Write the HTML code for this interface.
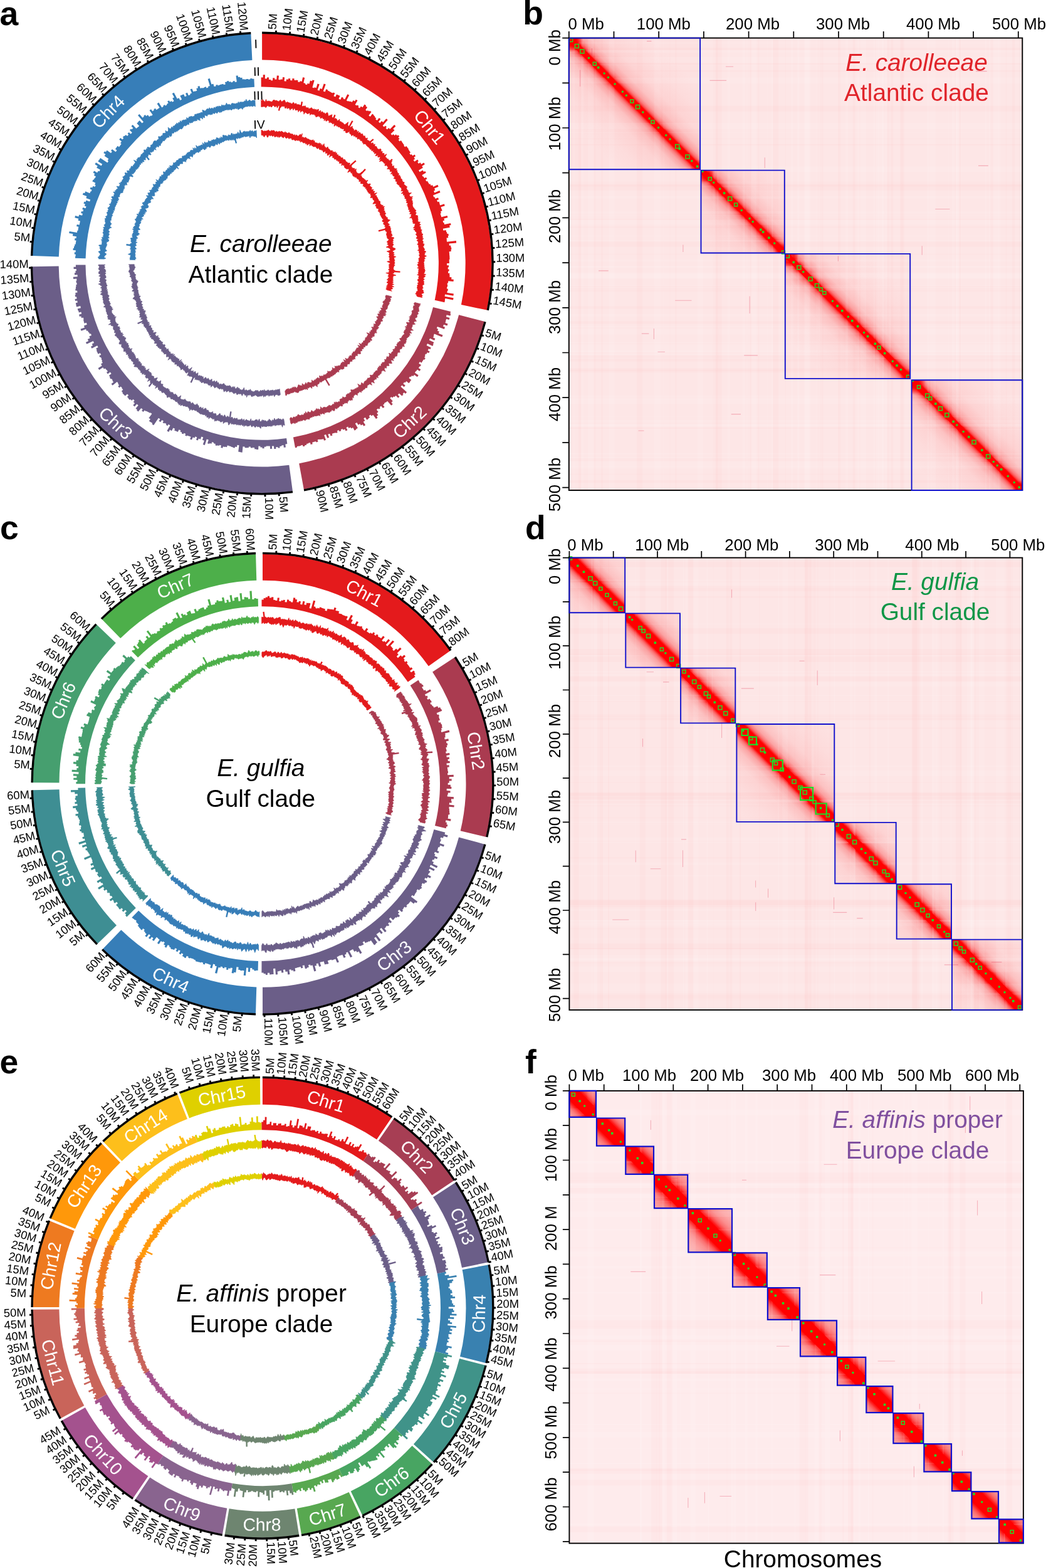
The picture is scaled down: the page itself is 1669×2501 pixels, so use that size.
<!DOCTYPE html><html><head><meta charset="utf-8"><title>Figure</title><style>html,body{margin:0;padding:0;background:#fff}svg{display:block}text{font-family:'Liberation Sans', Arial, Helvetica, sans-serif}</style></head><body>
<svg width="1669" height="2501" viewBox="0 0 1669 2501">
<rect width="1669" height="2501" fill="#fff"/>
<text x="-0.5" y="39.6" font-size="53.5" font-weight="bold">a</text>
<text x="834.2" y="39.3" font-size="53.5" font-weight="bold">b</text>
<text x="0" y="860" font-size="53.5" font-weight="bold">c</text>
<text x="838" y="860" font-size="53.5" font-weight="bold">d</text>
<text x="-0.5" y="1712" font-size="53.5" font-weight="bold">e</text>
<text x="838" y="1711.7" font-size="53.5" font-weight="bold">f</text>
<g id="circosA"><path d="M418.1 53.7A366.4 366.4 0 0 1 776.9 494.6L735.9 486.1A324.5 324.5 0 0 0 418.1 95.6Z" fill="#E41A1C"/>
<path d="M418.1 52.3A367.8 367.8 0 0 1 778.3 494.9" fill="none" stroke="#000" stroke-width="3.4"/>
<path d="M772.6 512.8A366.4 366.4 0 0 1 484.8 780.4L477.2 739.2A324.5 324.5 0 0 0 732.1 502.2Z" fill="#AA3B50"/>
<path d="M774 513.2A367.8 367.8 0 0 1 485 781.8" fill="none" stroke="#000" stroke-width="3.4"/>
<path d="M466.9 783.2A366.4 366.4 0 0 1 51.8 425.2L93.7 424.6A324.5 324.5 0 0 0 461.3 741.7Z" fill="#6B5E88"/>
<path d="M467 784.6A367.8 367.8 0 0 1 50.4 425.2" fill="none" stroke="#000" stroke-width="3.4"/>
<path d="M51.9 408A366.4 366.4 0 0 1 400.4 54.1L402.4 96A324.5 324.5 0 0 0 93.8 409.4Z" fill="#377EB8"/>
<path d="M50.6 408A367.8 367.8 0 0 1 400.3 52.7" fill="none" stroke="#000" stroke-width="3.4"/>
<path d="M440.3 53L440.5 48.7M462.3 55L462.8 50.7M484.2 58.3L485 54M505.8 62.9L506.9 58.7M527.2 68.8L528.4 64.7M548.1 76L549.6 72M568.5 84.5L570.3 80.5M588.5 94.1L590.5 90.3M607.8 104.9L610 101.3M626.4 116.9L628.8 113.4M644.2 130L646.9 126.6M661.3 144.1L664.1 140.9M677.4 159.2L680.5 156.2M692.6 175.3L695.9 172.4M706.9 192.2L710.2 189.6M720.1 210L723.6 207.6M732.1 228.6L735.8 226.3M743.1 247.8L746.9 245.8M752.9 267.6L756.8 265.9M761.4 288.1L765.4 286.5M768.7 308.9L772.8 307.6M774.8 330.2L779 329.2M779.6 351.8L783.8 351M783 373.7L787.3 373.2M785.1 395.7L789.4 395.4M785.9 417.8L790.2 417.8M785.4 440L789.7 440.2M783.6 462L787.8 462.5M780.4 483.9L784.6 484.7M767.7 534.4L771.8 535.8M760.2 555.2L764.2 556.8M751.5 575.6L755.4 577.4M741.5 595.3L745.3 597.4M730.4 614.5L734.1 616.7M718.1 632.9L721.7 635.4M704.8 650.5L708.2 653.2M690.4 667.4L693.6 670.3M675.1 683.3L678.1 686.4M658.8 698.3L661.6 701.5M641.6 712.2L644.2 715.7M623.6 725.1L626 728.7M604.9 737L607.1 740.7M585.5 747.6L587.5 751.4M565.5 757.1L567.2 761M545 765.3L546.5 769.4M524 772.3L525.2 776.5M502.6 778.1L503.6 782.3M445 786.9L445.4 791.2M422.9 787.9L423 792.2M400.8 787.5L400.6 791.8M378.7 785.8L378.3 790.1M356.8 782.7L356.1 787M335.1 778.4L334.1 782.6M313.7 772.8L312.5 776.9M292.7 765.8L291.2 769.9M272.1 757.7L270.4 761.6M252.1 748.3L250.1 752.1M232.7 737.7L230.5 741.4M213.9 726L211.5 729.5M195.9 713.1L193.3 716.6M178.6 699.2L175.8 702.5M162.3 684.3L159.3 687.4M146.9 668.4L143.7 671.4M132.4 651.7L129.1 654.4M119 634.1L115.5 636.6M106.7 615.7L103 618M95.5 596.6L91.7 598.7M85.4 576.9L81.6 578.7M76.6 556.6L72.6 558.2M69 535.8L64.9 537.2M62.7 514.6L58.5 515.7M57.7 493.1L53.4 493.9M53.9 471.2L49.7 471.8M51.5 449.2L47.2 449.6M50.4 427.1L46.1 427.2M51.9 385.9L47.7 385.5M54.7 363.9L50.4 363.3M58.7 342.2L54.5 341.3M64 320.7L59.9 319.5M70.7 299.6L66.6 298.2M78.5 278.9L74.6 277.2M87.6 258.7L83.8 256.8M98 239.1L94.2 237M109.4 220.2L105.8 217.9M122 202L118.5 199.4M135.6 184.6L132.3 181.8M150.3 168L147.2 165.1M166 152.4L163 149.2M182.5 137.7L179.8 134.4M199.9 124L197.4 120.6M218.1 111.4L215.8 107.8M237.1 100L235 96.2M256.7 89.7L254.8 85.8M276.8 80.5L275.2 76.6M297.5 72.7L296.1 68.6M318.6 66L317.4 61.9M340.1 60.7L339.2 56.5M361.8 56.6L361.2 52.4M383.8 53.9L383.4 49.6" fill="none" stroke="#000" stroke-width="2.9"/>
<g font-size="18.4" fill="#000"><text transform="translate(440.6 47.5) rotate(-86.6)">5M</text><text transform="translate(463 49.5) rotate(-83.1)">10M</text><text transform="translate(485.2 52.9) rotate(-79.7)">15M</text><text transform="translate(507.1 57.6) rotate(-76.2)">20M</text><text transform="translate(528.8 63.6) rotate(-72.8)">25M</text><text transform="translate(550 70.9) rotate(-69.3)">30M</text><text transform="translate(570.8 79.4) rotate(-65.9)">35M</text><text transform="translate(591 89.2) rotate(-62.4)">40M</text><text transform="translate(610.6 100.2) rotate(-59)">45M</text><text transform="translate(629.5 112.4) rotate(-55.5)">50M</text><text transform="translate(647.6 125.6) rotate(-52.1)">55M</text><text transform="translate(664.9 140) rotate(-48.6)">60M</text><text transform="translate(681.3 155.3) rotate(-45.2)">65M</text><text transform="translate(696.7 171.6) rotate(-41.7)">70M</text><text transform="translate(711.2 188.8) rotate(-38.3)">75M</text><text transform="translate(724.6 206.9) rotate(-34.8)">80M</text><text transform="translate(736.8 225.7) rotate(-31.4)">85M</text><text transform="translate(747.9 245.2) rotate(-27.9)">90M</text><text transform="translate(757.9 265.4) rotate(-24.5)">95M</text><text transform="translate(766.6 286.1) rotate(-21)">100M</text><text transform="translate(774 307.3) rotate(-17.6)">105M</text><text transform="translate(780.1 328.9) rotate(-14.1)">110M</text><text transform="translate(785 350.8) rotate(-10.7)">115M</text><text transform="translate(788.5 373) rotate(-7.2)">120M</text><text transform="translate(790.6 395.4) rotate(-3.8)">125M</text><text transform="translate(791.4 417.8) rotate(-0.4)">130M</text><text transform="translate(790.9 440.3) rotate(3.1)">135M</text><text transform="translate(789 462.6) rotate(6.5)">140M</text><text transform="translate(785.8 484.9) rotate(10)">145M</text><text transform="translate(773 536.1) rotate(18.1)">5M</text><text transform="translate(765.3 557.3) rotate(21.6)">10M</text><text transform="translate(756.5 577.9) rotate(25)">15M</text><text transform="translate(746.4 597.9) rotate(28.5)">20M</text><text transform="translate(735.1 617.4) rotate(31.9)">25M</text><text transform="translate(722.6 636.1) rotate(35.3)">30M</text><text transform="translate(709.1 654) rotate(38.8)">35M</text><text transform="translate(694.5 671.1) rotate(42.2)">40M</text><text transform="translate(678.9 687.2) rotate(45.7)">45M</text><text transform="translate(662.4 702.4) rotate(49.1)">50M</text><text transform="translate(644.9 716.6) rotate(52.6)">55M</text><text transform="translate(626.7 729.7) rotate(56)">60M</text><text transform="translate(607.7 741.7) rotate(59.5)">65M</text><text transform="translate(588 752.5) rotate(62.9)">70M</text><text transform="translate(567.7 762.1) rotate(66.4)">75M</text><text transform="translate(546.9 770.5) rotate(69.8)">80M</text><text transform="translate(525.6 777.6) rotate(73.3)">85M</text><text transform="translate(503.9 783.4) rotate(76.7)">90M</text><text transform="translate(445.4 792.4) rotate(85.8)">5M</text><text transform="translate(423 793.4) rotate(89.3)">10M</text><text transform="translate(400.6 792.1) rotate(-87.3)" text-anchor="end">15M</text><text transform="translate(378.2 790.4) rotate(-83.8)" text-anchor="end">20M</text><text transform="translate(356 787.3) rotate(-80.4)" text-anchor="end">25M</text><text transform="translate(334.1 782.9) rotate(-77)" text-anchor="end">30M</text><text transform="translate(312.4 777.2) rotate(-73.5)" text-anchor="end">35M</text><text transform="translate(291.1 770.2) rotate(-70.1)" text-anchor="end">40M</text><text transform="translate(270.3 761.9) rotate(-66.6)" text-anchor="end">45M</text><text transform="translate(250 752.4) rotate(-63.2)" text-anchor="end">50M</text><text transform="translate(230.3 741.7) rotate(-59.7)" text-anchor="end">55M</text><text transform="translate(211.3 729.8) rotate(-56.3)" text-anchor="end">60M</text><text transform="translate(193.1 716.8) rotate(-52.8)" text-anchor="end">65M</text><text transform="translate(175.6 702.7) rotate(-49.4)" text-anchor="end">70M</text><text transform="translate(159.1 687.6) rotate(-45.9)" text-anchor="end">75M</text><text transform="translate(143.5 671.6) rotate(-42.5)" text-anchor="end">80M</text><text transform="translate(128.8 654.6) rotate(-39)" text-anchor="end">85M</text><text transform="translate(115.3 636.8) rotate(-35.6)" text-anchor="end">90M</text><text transform="translate(102.8 618.1) rotate(-32.1)" text-anchor="end">95M</text><text transform="translate(91.4 598.8) rotate(-28.7)" text-anchor="end">100M</text><text transform="translate(81.3 578.8) rotate(-25.2)" text-anchor="end">105M</text><text transform="translate(72.3 558.3) rotate(-21.8)" text-anchor="end">110M</text><text transform="translate(64.7 537.3) rotate(-18.3)" text-anchor="end">115M</text><text transform="translate(58.3 515.8) rotate(-14.9)" text-anchor="end">120M</text><text transform="translate(53.1 494) rotate(-11.4)" text-anchor="end">125M</text><text transform="translate(49.4 471.9) rotate(-8)" text-anchor="end">130M</text><text transform="translate(46.9 449.6) rotate(-4.5)" text-anchor="end">135M</text><text transform="translate(45.8 427.2) rotate(-1.1)" text-anchor="end">140M</text><text transform="translate(47.4 385.5) rotate(5.3)" text-anchor="end">5M</text><text transform="translate(50.1 363.2) rotate(8.8)" text-anchor="end">10M</text><text transform="translate(54.2 341.2) rotate(12.2)" text-anchor="end">15M</text><text transform="translate(59.6 319.4) rotate(15.7)" text-anchor="end">20M</text><text transform="translate(66.3 298.1) rotate(19.1)" text-anchor="end">25M</text><text transform="translate(74.3 277.1) rotate(22.6)" text-anchor="end">30M</text><text transform="translate(83.5 256.7) rotate(26)" text-anchor="end">35M</text><text transform="translate(93.9 236.9) rotate(29.5)" text-anchor="end">40M</text><text transform="translate(105.6 217.7) rotate(32.9)" text-anchor="end">45M</text><text transform="translate(118.3 199.3) rotate(36.4)" text-anchor="end">50M</text><text transform="translate(132.1 181.6) rotate(39.8)" text-anchor="end">55M</text><text transform="translate(147 164.9) rotate(43.3)" text-anchor="end">60M</text><text transform="translate(162.8 149) rotate(46.7)" text-anchor="end">65M</text><text transform="translate(179.6 134.1) rotate(50.2)" text-anchor="end">70M</text><text transform="translate(197.2 120.3) rotate(53.6)" text-anchor="end">75M</text><text transform="translate(215.6 107.6) rotate(57.1)" text-anchor="end">80M</text><text transform="translate(234.8 96) rotate(60.5)" text-anchor="end">85M</text><text transform="translate(254.6 85.5) rotate(64)" text-anchor="end">90M</text><text transform="translate(275.1 76.3) rotate(67.4)" text-anchor="end">95M</text><text transform="translate(296 68.3) rotate(70.8)" text-anchor="end">100M</text><text transform="translate(317.4 61.6) rotate(74.3)" text-anchor="end">105M</text><text transform="translate(339.1 56.2) rotate(77.7)" text-anchor="end">110M</text><text transform="translate(361.1 52.1) rotate(81.2)" text-anchor="end">115M</text><text transform="translate(383.4 49.3) rotate(84.6)" text-anchor="end">120M</text></g>
<g font-size="28.2" fill="#fff"><text transform="translate(685.9 202.3) rotate(50.9)" text-anchor="middle" dy="10.2">Chr1</text><text transform="translate(653.1 672.9) rotate(-42.9)" text-anchor="middle" dy="10.2">Chr2</text><text transform="translate(185 674.6) rotate(42.5)" text-anchor="middle" dy="10.2">Chr3</text><text transform="translate(172.2 177.9) rotate(-45.4)" text-anchor="middle" dy="10.2">Chr4</text></g>
<path d="M416.7 138.4L416.6 123.5L419.7 123.5L419.7 119.2L422.9 119.3L422.8 125.5L425.9 125.5L425.9 123.5L429.1 123.6L428.9 126.9L432 127.1L432 128.3L435 128.5L435.3 124.2L438.4 124.4L438.2 126.6L441.3 126.8L441.8 120.6L445 120.8L444.4 127.1L447.5 127.4L447.6 126.5L450.6 126.8L451.1 123L454.2 123.4L453.5 129.3L456.5 129.7L457 126.4L460 126.8L460.3 125L463.4 125.4L463 127.9L466.1 128.4L466.6 125L469.7 125.5L469.4 127.7L472.4 128.3L472.6 127.6L475.6 128.2L475.2 130.4L478.2 131L478.6 129.2L481.6 129.9L483.1 123.3L486.2 124L484.3 132.3L487.3 133L487 134.4L490 135.2L490.5 132.9L493.5 133.7L494.9 128.6L498 129.4L498.5 127.4L501.6 128.2L498.4 139.5L501.3 140.4L501.6 139.3L504.6 140.2L506.6 133.4L509.7 134.4L506.6 143.8L509.5 144.8L510.7 141.1L513.7 142.1L516.7 133.4L519.7 134.5L515.8 145.4L518.7 146.4L520.2 142.2L523.1 143.3L522.7 144.4L525.6 145.5L525.5 145.9L528.3 147L528.2 147.4L531 148.6L531.5 147.4L534.4 148.6L532.4 153.2L535.2 154.4L537 150.4L539.8 151.7L539.8 151.7L542.6 153L540.4 157.6L543.2 158.9L545.2 154.7L548 156L547.4 157.2L550.2 158.5L554.4 150.3L557.2 151.8L552.8 160.3L555.5 161.7L555.9 160.9L558.7 162.3L559 161.6L561.7 163.1L563.5 159.9L566.2 161.5L567.8 158.7L570.5 160.3L566.6 167L569.3 168.6L569.9 167.5L572.6 169.1L571.4 171L574 172.6L575.9 169.6L578.5 171.3L581.6 166.5L584.2 168.3L583.5 169.4L586.1 171.1L583.2 175.5L585.8 177.2L586.7 175.9L589.2 177.7L590 176.6L592.5 178.4L588.3 184.3L590.8 186.1L594.1 181.6L596.6 183.5L596.1 184.1L598.6 186L597.9 186.8L600.4 188.7L599.2 190.2L601.7 192.1L604.9 188.1L607.3 190L603.9 194.2L606.3 196.2L608.9 193L611.3 195L616.3 189.2L618.7 191.3L610.6 200.6L612.9 202.6L614.7 200.5L617 202.6L615.5 204.3L617.8 206.4L620.1 203.9L622.3 206L629.1 199L631.4 201.2L627.2 205.4L629.5 207.7L623.5 213.6L625.7 215.8L627.5 214L629.7 216.2L631.7 214.3L633.8 216.5L635.2 215.2L637.3 217.5L635.4 219.3L637.5 221.6L635.7 223.2L637.8 225.5L639.6 223.9L641.7 226.2L641.2 226.6L643.3 228.9L643 229.1L645 231.5L644.2 232.2L646.2 234.5L648.2 232.9L650.2 235.3L650.1 235.4L652.1 237.8L651.5 238.3L653.4 240.7L653.2 240.8L655.1 243.3L653.3 244.6L655.2 247.1L656.7 246L658.5 248.5L661.3 246.5L663.2 249L660.4 251L662.2 253.5L659.6 255.2L661.4 257.8L666.2 254.6L667.9 257.2L666.2 258.3L667.9 260.9L670.6 259.2L672.2 261.9L676.2 259.4L677.9 262.1L673.3 264.9L674.9 267.6L668 271.7L669.6 274.3L674.6 271.4L676.1 274.1L678.3 272.9L679.8 275.6L673.4 279.2L674.9 281.9L675.7 281.4L677.1 284.2L679.9 282.7L681.4 285.4L679 286.6L680.4 289.4L681.9 288.6L683.3 291.4L683.6 291.3L684.9 294.1L686.4 293.3L687.8 296.2L690 295.1L691.3 298L698.3 294.8L699.6 297.8L693.1 300.6L694.3 303.5L692.1 304.5L693.3 307.4L701.3 304.1L702.5 307.1L691 311.6L692.2 314.5L693.4 314L694.5 316.9L699 315.2L700.1 318.2L697.1 319.3L698.2 322.2L700.4 321.4L701.5 324.4L701.2 324.4L702.2 327.4L708.8 325.3L709.8 328.3L703.5 330.3L704.4 333.3L704.7 333.2L705.6 336.3L703.1 337L703.9 340L702.6 340.4L703.4 343.4L703.5 343.3L704.3 346.3L713.6 343.9L714.4 347L708.4 348.5L709.2 351.6L706.6 352.2L707.3 355.2L708.4 355L709.1 358L719 355.9L719.6 359.1L717.1 359.6L717.8 362.7L706.8 364.8L707.4 367.8L711.6 367.1L712.1 370.2L712.9 370L713.4 373.1L715.4 372.8L715.9 375.9L714.8 376.1L715.2 379.2L712.5 379.6L712.9 382.7L712.7 382.7L713.1 385.8L727.8 384.1L728.1 387.4L716.6 388.6L716.9 391.7L719.2 391.5L719.5 394.7L720.1 394.6L720.4 397.8L719.6 397.8L719.8 401L716.7 401.2L716.9 404.3L717 404.3L717.1 407.5L717.3 407.5L717.4 410.6L717.4 410.6L717.5 413.8L716.7 413.8L716.8 416.9L716.8 416.9L716.8 420.1L713.1 420.1L713.1 423.2L716.1 423.2L716 426.3L714.8 426.3L714.7 429.4L716.6 429.5L716.5 432.6L715.1 432.5L715 435.7L717.4 435.8L717.2 438.9L717.6 439L717.4 442.1L720.5 442.3L720.2 445.5L723.8 445.8L723.5 449L715.3 448.2L715 451.4L713.9 451.2L713.6 454.3L714.3 454.4L713.9 457.5L713.3 457.5L712.9 460.6L714.9 460.8L714.5 464L713.8 463.9L713.3 467L723.9 468.6L723.4 471.8L710.1 469.6L709.6 472.7L723.6 475.2L723 478.4L710.4 476L709.8 479.1L710 479.1L709.3 482.2L693.7 478.8A281.7 281.7 0 0 0 416.7 138.4Z" fill="#E41A1C"/>
<path d="M416.8 159.4L418.1 160.7L419.3 158.6L420.6 160.8L421.9 161.8L423.1 162.4L424.5 158.4L425.6 161.9L426.9 161.2L428.2 161.3L429.5 161.1L430.7 161.8L432 161.9L433.2 162.5L434.5 161.9L435.9 159.8L437.2 159.4L438.5 159.9L439.7 160.7L441 159.9L442.2 160.9L443.5 161.3L444.7 161.9L446.1 160.5L447.5 159.4L448.6 161.2L449.7 162.3L451.2 161.2L452.6 160.1L454 159.6L455 161.4L455.9 164.1L457.3 163.2L458.7 162.5L459.9 163.4L461.1 163.8L462.3 164.3L463.6 164.2L464.7 165.2L465.9 165.9L467.6 163.6L468.9 163.7L469.7 166.4L471.2 165.2L472.6 164.8L473.4 167L474.8 166.6L476 166.9L477.4 166.8L478.5 167.7L479.8 167.7L481.1 167.6L481.8 170.1L483.2 169.6L484.7 169L485.9 169.4L487.4 168.8L487.9 171.6L489.2 171.6L490.4 172.1L491.9 171.6L492.5 174L494 173.1L495.5 172.8L497.2 171.6L498.1 173.1L499.1 174L500.3 174.3L501.9 173.7L502.5 175.6L504.4 174.1L505 176.3L507.1 174.2L508.4 174.4L508.1 178.8L510.1 177.1L511.8 176.2L511.8 179.8L513.8 178L515.1 178.4L515.6 180.6L517.3 179.7L518.2 180.8L519.2 181.7L521.4 179.8L522.8 179.8L523.3 181.8L523.7 184.1L524.6 185.2L526.5 184.1L528 183.7L529.9 182.7L529.4 186.9L530.6 187.3L531.5 188.2L533.4 187.3L533.6 189.8L535.6 188.5L536.5 189.5L537.6 190.3L537.8 192.6L539.3 192.4L541.9 190.2L541.8 193L542.8 193.9L544.2 193.9L545.1 195L546.1 195.8L547.5 195.9L548 197.4L549.1 198.1L550.1 198.9L552.7 197L555.6 194.7L555 198.2L555.2 200.2L556.1 201.2L557.3 201.7L558.1 202.7L559.5 202.9L562.2 201.2L562.2 203.5L563 204.6L563.7 205.7L564.8 206.4L564.5 209.1L567.5 206.9L568.7 207.5L569.8 208.2L569.3 211L572.3 209L571.1 212.8L574.1 210.9L574.8 212.1L575.6 213.2L576.7 213.9L578.7 213.4L578.9 215.2L579.7 216.2L580.6 217.2L582.4 216.8L582.3 219.1L583.4 219.7L584.1 220.9L586.5 220L585.3 223.3L586.8 223.5L587.8 224.3L589.2 224.7L589.5 226.3L592.2 225.2L591.7 227.5L592.4 228.7L595 227.7L595.8 228.8L595.6 230.9L598.3 229.9L597.9 232.1L598.3 233.5L600.1 233.5L601.1 234.3L601.4 235.8L602.3 236.7L603.1 237.7L604.3 238.3L607.1 237.4L608 238.2L608 240L607.8 242L610.2 241.5L609.8 243.7L610.5 244.7L612.7 244.4L613.1 245.8L612.3 248.2L617 245.8L614.9 249.4L615 250.9L616.4 251.4L617.2 252.4L617.4 253.9L619.7 253.7L619.6 255.4L621.3 255.6L621.1 257.4L621.8 258.5L625.6 257.1L623.9 260.1L624.8 261L625.6 262L625.5 263.7L625.5 265.3L628.7 264.5L627.9 266.6L629 267.4L629.4 268.7L631 269.1L633.3 269L631.5 271.9L633.9 271.8L633.5 273.6L634.3 274.6L634.2 276.2L636.1 276.4L636.4 277.8L635.3 280L638.1 279.7L637.8 281.4L639.3 282L639.1 283.6L639.5 284.9L640.9 285.5L641.7 286.5L641.4 288.1L642.6 288.9L642.3 290.6L644.9 290.5L645 292L644.3 293.8L645.2 294.7L646.6 295.4L647.1 296.6L648.8 297.2L649.6 298.2L648.3 300.3L649.1 301.3L649.7 302.4L650 303.7L651.6 304.3L650.6 306.2L652.3 306.8L652.6 308.1L656.5 307.6L653 310.7L653.2 312L654.4 312.9L655.1 313.9L658.6 313.7L656.3 316.2L658.1 316.8L656.4 318.9L657.7 319.7L658.2 320.9L657.9 322.4L658.7 323.4L658.3 325L658.2 326.3L658.2 327.7L658.5 328.9L659.1 330L659.3 331.3L661 332L660.9 333.4L662.4 334.2L663.4 335.2L663.7 336.5L662.1 338.3L664.2 339L663.8 340.4L662.9 342.1L663 343.3L665.9 343.8L667 344.8L666.1 346.3L667.1 347.4L666.4 348.9L667.2 350L666.8 351.4L666.9 352.7L667.4 353.9L670.7 354.3L669.2 356L669.4 357.3L671.3 358.1L669.6 359.8L669 361.3L671.6 361.9L670.2 363.6L671.7 364.5L670.7 366L673.3 366.8L672.1 368.3L672.3 369.6L672.8 370.8L672.4 372.2L674.4 373.1L674.6 374.3L673.7 375.8L673.8 377L674.9 378.2L673.3 379.7L675.8 380.6L674.3 382.1L673.7 383.5L674.9 384.6L675.3 385.8L674.9 387.1L674.6 388.5L677.2 389.4L675.9 390.9L676.5 392.1L674.4 393.6L676.1 394.7L676.4 395.9L677.3 397.1L677.5 398.4L676.2 399.7L679 400.8L679.6 402L677.2 403.5L678.2 404.7L676.8 406L677.8 407.3L680.5 408.4L677.6 409.8L676.8 411.1L678.7 412.3L676.3 413.7L677.2 414.9L677 416.2L676.6 417.5L675.8 418.7L676.7 420L676.1 421.2L676.8 422.5L676.8 423.8L676 425L677.8 426.3L675.5 427.5L678.1 428.9L677.2 430.1L678.5 431.5L677.7 432.7L677.5 434L676.9 435.2L675.7 436.4L679.6 437.9L676 438.9L678.7 440.4L677.9 441.6L676.2 442.8L675.1 443.9L677.3 445.4L675.9 446.6L675.1 447.8L676.7 449.2L676.3 450.4L675.9 451.7L676.9 453.1L675.7 454.2L673.7 455.2L674.3 456.6L674.1 457.8L675.3 459.3L673.9 460.4L673.3 461.5L675.5 463.2L675.2 464.4L675.7 465.8L676.2 467.2L673.9 468.1L672.2 469.1L673.3 470.6L674.2 472L672.5 473L673.8 474.6L665.9 472.9L664.5 471.3L665.1 470.2L662.7 468.5L664.2 467.5L664.3 466.3L664.5 465.1L667 464.3L666.6 463L666.2 461.6L666.3 460.4L665.1 459L666.1 457.9L665.9 456.6L665.9 455.4L666.5 454.2L668 453.2L665.9 451.7L667.9 450.7L668.1 449.5L666.8 448.1L666.5 446.8L666.5 445.6L669 444.6L667.5 443.2L668.2 442.1L668.2 440.8L669 439.7L665.6 438.2L668.6 437.2L667.3 435.9L667.2 434.6L668.4 433.5L667.2 432.2L668.6 431L667.6 429.8L669.1 428.6L665.7 427.3L669.1 426.1L667.1 424.9L666.9 423.6L666 422.4L666.7 421.2L668.9 420L666.4 418.8L668.6 417.5L668.5 416.3L668.1 415.1L668.7 413.9L667.6 412.7L669.1 411.4L670 410.1L669.7 408.9L668.9 407.7L668.6 406.5L670.2 405.2L669 404L668.8 402.8L668.5 401.6L669.2 400.3L666.4 399.3L668.8 397.9L667.9 396.7L668.6 395.4L667.6 394.3L667.8 393L667.9 391.8L667 390.6L665.7 389.6L667.5 388.1L667.2 386.9L667.3 385.6L666.3 384.5L664.9 383.5L667.9 381.8L666 380.9L664 379.9L664.8 378.6L666.2 377.1L664.9 376.1L664.8 374.8L663.1 373.9L665 372.3L664.5 371.1L664.5 369.9L662.4 369.1L662.5 367.8L661.3 366.8L659.9 365.9L663.1 363.9L659.3 363.5L661.1 361.8L661.8 360.4L661.9 359.1L662.4 357.7L662 356.6L658.8 356.2L659.6 354.7L658 353.8L658.9 352.3L658.2 351.2L658.2 350L657.1 349L657.9 347.5L653.5 347.6L656.4 345.4L655.6 344.4L656.3 342.9L656.8 341.4L653.6 341.2L654.8 339.5L655 338.1L652.9 337.6L653.1 336.2L654.2 334.5L651.6 334.2L652 332.7L651.5 331.6L651.3 330.4L650.4 329.4L651.2 327.8L649.3 327.2L650.8 325.3L650.8 323.9L648.6 323.5L648.6 322.2L649.7 320.4L647.7 319.9L648.5 318.3L647.9 317.1L645.9 316.7L646.1 315.3L646.1 313.9L644.9 313.1L646.2 311.1L643.3 311.2L643.4 309.8L643.5 308.3L640.2 308.6L643.2 305.8L642.6 304.6L639.8 304.7L641 302.7L640.4 301.6L640.7 300.1L639.5 299.3L638.3 298.5L637.5 297.6L637.3 296.3L636.8 295.2L635.1 294.8L634.5 293.7L633.2 293L633.1 291.6L634 289.7L632 289.4L630.9 288.7L631.7 286.7L630.9 285.8L629.8 285L628.1 284.7L630 281.9L629 281.1L627.3 280.8L626.9 279.6L626 278.7L626.7 276.7L623.5 277.4L625.4 274.6L624.8 273.5L622.3 273.8L622.4 272.2L622.2 270.8L621.3 269.9L619.7 269.6L617.7 269.6L619.4 266.7L618.5 265.9L617.5 265.1L617.6 263.4L614.3 264.4L614 263.1L615.1 260.6L612.9 260.8L612.6 259.5L611.5 258.8L610.6 257.9L609.9 256.9L608.2 256.8L605.3 257.7L608.1 253.6L605.1 254.6L606.5 251.7L606.7 249.8L603.9 250.8L602.6 250.2L603.8 247.5L601.1 248.3L599 248.6L600.6 245.4L599.5 244.7L597.3 245.2L597.9 242.8L596.2 242.8L595.2 242.1L595.9 239.6L593 240.8L592.8 239.2L592.5 237.8L590.3 238.3L590.4 236.4L588.9 236.1L588.6 234.7L587.3 234.3L586.2 233.7L585.7 232.4L584.4 232L584.4 230.2L582.9 229.9L581.9 229.3L579.7 230L580 227.8L578.4 227.7L578.2 226.1L577.6 224.8L576.2 224.5L574.9 224.2L575.1 222.1L573.3 222.3L572.9 220.8L570.4 222L570 220.6L570.1 218.4L568 219L567 218.4L566.9 216.4L564.6 217.5L564.2 216L563.3 215.1L560.7 216.7L560.6 214.7L559.5 214.2L558.6 213.3L557.6 212.5L558.2 209.6L556 210.6L553.8 211.7L552.2 211.9L551.4 211L551.4 208.7L550.1 208.5L548.4 208.9L549.1 205.4L547.7 205.4L546 205.9L545.2 204.8L543.8 204.7L542.8 204L542.4 202.3L540.8 202.6L539.4 202.6L539.1 200.5L537.3 201.4L536.7 199.8L535.5 199.6L533.1 201.4L533.3 198.6L532.9 196.6L530.8 198L530.1 196.8L529.2 195.8L527.8 195.8L527 194.6L525 196.1L525.2 192.7L523.9 192.6L523.1 191.4L520.9 193.3L519.7 192.9L519.9 189.6L517.2 192.7L517.5 188.9L515.8 189.8L514.9 188.7L514.2 187.3L512.3 188.6L511 188.6L511 185.2L509.1 186.6L508.7 184.4L506.8 185.8L505.3 186.2L503.9 186.5L503.6 183.8L502.2 184.1L501.6 182L500.2 182.5L498.9 182.3L497.6 182.3L496.6 181.7L494.6 183.7L494.5 180.1L493.1 180.4L491.5 181.5L490.2 181.5L489.3 180.3L488.1 180L487.3 178.4L484.9 182.2L484.7 178.4L483.5 178.1L482.7 176.4L481.1 177.6L479.5 179.1L479.1 175.7L477.7 176.3L475.9 178.6L475.5 174.9L474.1 175.6L472.8 175.6L471.4 176L470.7 173.4L469.6 172.7L467.8 175.7L467.2 172.2L465.6 173.8L464.6 172.8L462.8 175.7L462 173.4L460.9 172.2L459.6 172.5L458.2 173.6L457.5 170.3L455.9 172.8L454.7 172.5L453.9 169.3L452.6 169.5L451.3 170L450.2 169L448.8 170.5L447.3 172.1L446.4 169.8L445.3 168.3L444 168.8L442.4 172.2L441.4 169.3L440.2 169L438.8 170.9L437.7 169.3L436.6 168.5L435.4 168L434 170.3L432.7 170.9L431.6 169.6L430.3 169.7L429.1 170.3L427.9 168.2L426.7 168.9L425.4 169.9L424.1 171.8L423 170.3L421.7 169.9L420.5 170L419.3 170.2L418.1 170.2L416.8 170.4Z" fill="#E41A1C" stroke="#E41A1C" stroke-width="0.8" stroke-linejoin="round"/>
<path d="M447.3 166.5L445 176.5M555.8 205.1L562.5 192.7M531.4 191.3L534.5 183.2M587.5 229.1L595.8 222.2M480.1 172.4L481.9 162.3M618.1 261.3L625.9 254.1" fill="none" stroke="#E41A1C" stroke-width="2.4"/>
<path d="M417 207.5L418.3 207.9L419.5 208.4L420.7 209.8L421.9 208.7L423.1 209.1L424.3 209.1L425.6 208.7L426.8 208.4L428.1 207.2L429.3 208.2L430.4 209.1L431.6 209.4L433 207.6L434.1 208.7L435.4 208.1L436.6 208.1L437.8 208.4L438.9 210.5L440.1 210L441.4 209.2L442.6 210L443.7 210.7L445.1 209.1L446.3 209.7L447.5 210.3L448.9 209.1L450 210L451.2 210.2L452.2 211.3L453.4 211.8L455 209.8L455.8 211.9L457.2 211.3L458.2 212.6L459.5 212.4L461 211.3L462 212.1L463 213.6L464.3 213.1L465.3 214.1L466.7 213.5L467.7 214.8L468.7 215.8L470.3 214.5L471 216.7L472.6 215.2L473.8 215.4L474.7 216.7L475.9 217.2L477.6 215.4L479.4 213.9L480 216.2L482.3 212.9L481.4 219.8L483.1 218.5L484.2 218.9L485.1 220.3L486.7 219.2L488.1 219L488.7 221L490.1 220.7L490.9 222L492.3 221.8L493.4 222.2L494.2 223.6L495.6 223.3L496.7 223.8L498 224L499.8 222.8L500.1 225.3L501.8 224.4L502.2 226.5L503 227.7L504.3 227.7L505.5 228L506.8 228.2L507.5 229.5L509.7 227.7L510.2 229.6L512 228.6L511.8 231.8L513.9 230.3L513.6 233.5L517.2 229.2L517.2 231.9L518 233.1L518.2 235.1L519.8 234.8L520.2 236.7L523 234.1L523.5 235.7L524 237.3L525.1 237.8L526.1 238.5L526.9 239.5L527.6 240.7L529.5 239.9L530.6 240.5L530.6 242.7L532.6 241.9L533.2 243.2L535.4 242L535.1 244.7L537.3 243.7L537.4 245.7L537.9 247.1L539.7 246.7L539.7 248.7L541.1 248.9L542.6 248.9L543.2 250.1L543.9 251.2L544.9 251.9L546.8 251.4L547.1 253L547.4 254.6L549.3 254.2L550.5 254.6L551 256L551.9 256.7L552.1 258.5L553.9 258.2L554.2 259.6L555.4 260.1L557.1 260L558.5 260.3L557.5 263.2L557.9 264.6L561.4 262.6L560.6 265.2L561.4 266.2L561.1 268.2L563.2 267.8L564 268.7L565.9 268.5L565.3 270.9L568.4 269.4L567.9 271.7L568.2 273.1L568.7 274.3L569.5 275.1L570.1 276.3L571.7 276.5L572.8 277.1L575.3 276.4L575 278.3L574.2 280.7L576.9 279.9L576.8 281.6L577.5 282.7L578.4 283.5L579.2 284.4L580.6 284.8L581.1 285.9L582.4 286.5L583.3 287.3L583.7 288.6L587 287.5L584.9 290.7L585.5 291.8L586.4 292.6L586.8 293.9L589.9 293.1L591.3 293.5L589.9 296.1L590.3 297.3L591.9 297.7L592.4 298.8L593.7 299.4L592.3 301.8L593.7 302.4L596 302.2L594.5 304.7L596.3 305L598.1 305.3L596.6 307.7L597.7 308.5L601.4 307.6L598.3 310.9L599.3 311.7L601 312.1L600.7 313.8L601.8 314.5L602.4 315.6L602.7 316.8L603.5 317.8L604.1 318.8L604 320.3L605.7 320.8L606.7 321.6L606.5 323.1L606.5 324.5L607.1 325.5L608 326.4L609.3 327.2L611.3 327.6L610 329.5L613.5 329.3L612.3 331.2L612.1 332.6L613.5 333.3L611.7 335.5L613.6 336L614.2 337L613.6 338.6L615 339.4L615.7 340.4L614.3 342.3L614.5 343.5L615.2 344.5L616.1 345.5L616.5 346.7L618.7 347.2L617.6 348.9L619.2 349.6L620 350.6L622.5 351L620.3 353.1L618.3 355L619.3 356L620.1 357L621.6 357.8L619 359.9L621.8 360.3L622.2 361.5L623 362.5L622 364.1L623.9 364.8L623 366.3L623.4 367.5L624 368.6L624.2 369.8L624.2 371.1L623.6 372.4L625.5 373.3L625.2 374.6L626.2 375.6L623.9 377.4L625.2 378.3L628.4 378.9L628.5 380.2L626.5 381.8L627.3 382.9L627.4 384.1L625.9 385.6L627.8 386.5L625.4 388.1L627.6 389L627.8 390.2L627 391.6L625.8 393L626.3 394.1L627.7 395.2L630 396.1L631.2 397.2L629.4 398.7L626.4 400.2L626.5 401.4L628.3 402.4L628.9 403.6L626.6 405L629.4 406L627.8 407.3L628.2 408.5L631.8 409.6L628.4 410.9L628.8 412.1L629 413.3L629.4 414.6L630 415.8L628.6 417L629.8 418.2L629.7 419.4L629.8 420.6L628.1 421.8L630.2 423.1L628.3 424.3L628.5 425.5L627.7 426.7L627.7 427.9L627.7 429.1L628.1 430.3L629.9 431.6L632.3 433L627.7 433.9L629 435.2L625.9 436.2L627.8 437.6L631.8 439.2L627.3 440L627.4 441.2L626.4 442.3L627.7 443.7L625.8 444.7L627.3 446.1L627.4 447.3L625.5 448.3L627.7 449.8L626.8 450.9L625 451.9L628.5 453.6L625.6 454.4L625.2 455.6L628.5 457.4L624.6 457.9L626.1 459.4L626.4 460.7L623.8 461.4L623.3 462.6L625.3 464.3L617.7 462.6L615.7 461L617.5 460.2L616.1 458.7L618.7 458L616.4 456.4L618.5 455.6L617.9 454.3L618.9 453.3L619.7 452.2L616.9 450.6L618.1 449.6L619 448.6L619.5 447.5L617.3 446L619.9 445.1L618.8 443.8L621.1 442.9L620 441.6L618.8 440.3L620.3 439.3L619.8 438.1L620.9 437L615.8 435.4L621.3 434.7L620.4 433.5L621.1 432.3L621.3 431.2L619.5 429.9L621.3 428.8L621.4 427.7L620.4 426.4L621.7 425.3L620.1 424.1L622 423L620.3 421.8L622.8 420.6L622.3 419.4L619.9 418.3L617.6 417.2L622.9 415.9L621.6 414.8L621.5 413.6L621.7 412.4L621.8 411.2L620.8 410.1L620.8 408.9L621.5 407.7L621.2 406.6L620.4 405.4L621.9 404.2L620.7 403.1L620 402L617.3 401L622.3 399.4L623.2 398.1L622.2 397L621.5 395.9L619.4 395L616.2 394.2L619.3 392.6L620.4 391.3L619 390.3L617.7 389.3L620.1 387.8L618.1 386.9L617.4 385.8L618.5 384.5L620.3 382.9L620.5 381.7L619 380.8L617.9 379.8L617.8 378.6L617.2 377.5L617.8 376.2L616.6 375.3L616.7 374L616.7 372.9L617.1 371.5L617.3 370.3L616.5 369.3L614.9 368.5L615 367.2L614.5 366.1L614.2 365L614.6 363.7L615.7 362.1L613.5 361.5L614.9 359.9L613.6 359L612.6 358.1L611.5 357.2L612.1 355.8L613.1 354.2L610.6 353.8L610 352.8L610.1 351.5L612.5 349.4L610.1 349L609.8 347.9L609.1 346.9L608.5 345.9L607.6 345L608.3 343.4L606.3 343L606.7 341.5L606.5 340.3L605.8 339.3L605.9 338L604.2 337.5L603.1 336.7L604.4 334.8L603.5 333.9L604.1 332.3L601.1 332.5L600.7 331.3L600.1 330.3L601 328.6L598.7 328.4L599.7 326.6L600.5 324.9L598.1 324.8L594.8 325.2L596.2 323.1L597.3 321.2L597.1 319.9L596.4 319L595 318.4L595 317.1L594.7 315.9L593.6 315.2L591 315.4L591.7 313.5L592.6 311.6L591 311.3L591.4 309.6L590.4 308.8L588.6 308.6L588.6 307.2L587.2 306.7L586.7 305.7L586.3 304.5L585.6 303.5L584.7 302.7L585.4 300.8L583.2 300.9L583.2 299.5L583.1 298.1L580.9 298.3L581 296.7L578.9 296.8L579.9 294.6L579.5 293.4L578.2 292.9L576.3 292.9L575.1 292.4L575.6 290.5L575.6 289L572.9 289.7L573.2 287.9L572.6 286.9L572 285.8L570.5 285.6L569.6 284.8L568.9 283.8L568.8 282.3L566.3 283.1L566.4 281.4L564.6 281.5L563.5 280.9L562.8 280L562.8 278.4L561.8 277.7L562.3 275.6L560.1 276.1L559.8 274.8L559.3 273.5L557.9 273.4L554.7 275.1L556.8 271.1L556.5 269.7L555.4 269.2L553.3 269.8L552.4 269L551.3 268.5L550.4 267.8L549.6 266.9L549.3 265.5L549.5 263.4L547.5 263.9L547.1 262.6L544.5 263.9L546 260.3L544 260.8L542.9 260.4L541.3 260.6L541.7 258L540.8 257.3L539.2 257.5L539.2 255.5L537.2 256.3L536.8 254.9L536.2 253.7L534.5 254L533.2 253.8L533.3 251.7L532 251.5L530.6 251.4L531.1 248.6L529.6 248.7L528.3 248.5L525.4 250.9L527 246.3L525.9 245.8L523.2 247.9L522.1 247.6L522.3 244.9L521.4 244L519.6 244.8L519.4 242.8L519.2 240.8L516.9 242.5L515.7 242.4L515.2 240.7L514.5 239.5L513 239.8L512.5 238.3L510.9 238.9L509.8 238.5L509 237.4L508.7 235.2L506.3 237.5L505.6 236.4L504.6 235.6L504.2 233.9L502.8 233.9L501.6 233.9L500.2 234L499.2 233.5L498.3 232.6L497.2 232.2L496.8 229.9L494.3 233.1L494.2 230.2L493.3 229.1L491.4 230.8L489.9 231.4L489.9 228.1L488 230L487.3 228.5L486.4 227.5L484.9 228.2L483.8 227.6L482.8 227.1L482.1 225.6L480.7 225.9L479.2 226.8L479 223.6L477.3 225.1L476.5 223.5L475.2 224L473.9 224.2L473.1 222.7L471.2 224.9L470.4 223.6L469.3 223.1L468.2 222.6L466.9 223.1L465.7 222.9L465.2 220.2L463.8 220.9L462.8 219.8L461.2 221.7L460.3 220.5L459.4 219.1L457.9 220.3L456.7 220.5L455.6 220L454.8 217.9L453.6 217.7L452 220.2L451 218.7L449.8 218.7L449 216.4L447.6 218.1L446.4 218.2L445 219.4L444.2 216.6L442.7 219.1L441.8 217L440.5 217.8L439.3 218.2L438.1 218.5L437.2 215.6L435.9 217L434.6 217.5L433.6 216.1L432.4 215.8L431.1 217.2L430.1 215.5L428.9 215.7L427.5 218.8L426.4 218.9L425.3 215.6L424.2 215.4L423 215.9L421.7 218.5L420.6 217.6L419.4 215L418.3 216L417.1 215.3Z" fill="#E41A1C" stroke="#E41A1C" stroke-width="0.8" stroke-linejoin="round"/>
<path d="M618.5 364.6L604 368.3M625.7 432.8L638.5 433.6M557.3 265.7L567.8 256.3M572.1 280.3L578 274.5M572.7 281L583 269.9" fill="none" stroke="#E41A1C" stroke-width="2.4"/>
<path d="M691 490L719.1 497.1L718.3 500.3L719.3 500.6L718.4 503.8L712.7 502.2L711.8 505.3L717.5 506.9L716.6 510.1L712.1 508.8L711.1 511.9L711.4 511.9L710.4 515L714.5 516.4L713.5 519.5L708 517.7L707 520.7L710 521.8L708.9 524.9L697.9 520.9L696.8 523.8L699.1 524.7L698 527.7L700.9 528.8L699.8 531.8L706.5 534.5L705.3 537.5L692.9 532.5L691.7 535.4L692.4 535.6L691.1 538.5L694.4 539.9L693.1 542.9L686.1 539.7L684.8 542.5L692.4 546L691 548.9L691.6 549.2L690.3 552.1L682 548.1L680.6 550.9L687.7 554.4L686.3 557.2L684.1 556.1L682.6 558.9L685.6 560.5L684.1 563.3L681.9 562.1L680.3 564.9L679.3 564.3L677.8 567.1L678.7 567.6L677.1 570.3L678.8 571.3L677.2 574.1L675.9 573.3L674.3 576L674.2 576L672.5 578.7L669.9 577L668.2 579.7L672 582.1L670.2 584.7L669.5 584.3L667.8 586.9L671.3 589.3L669.5 591.9L665.9 589.5L664.1 592.1L663.7 591.8L661.9 594.4L667.7 598.6L665.8 601.2L661 597.7L659.1 600.3L657.3 598.9L655.4 601.4L654.3 600.6L652.4 603.1L656.3 606.1L654.3 608.6L654.4 608.7L652.4 611.2L648.4 608L646.4 610.4L645.3 609.5L643.3 611.9L646.8 614.8L644.7 617.2L641.4 614.4L639.4 616.7L649.1 625.4L647 627.9L644.8 625.9L642.6 628.3L643.6 629.2L641.4 631.6L636.9 627.4L634.7 629.7L637.5 632.4L635.3 634.7L631.6 631.1L629.4 633.3L628.3 632.3L626.1 634.5L624.5 632.9L622.2 635L626.7 639.8L624.4 642L626.7 644.5L624.3 646.7L618.1 639.8L615.8 641.9L615.3 641.4L612.9 643.5L613.5 644.1L611.1 646.1L613.5 648.9L611 651L608.1 647.4L605.7 649.4L606.8 650.9L604.4 652.8L603.3 651.4L600.8 653.4L603.7 657.1L601.2 659L603.5 662.1L601 664L602.6 666.3L600 668.2L595.3 661.7L592.7 663.6L591.2 661.5L588.7 663.4L590.3 665.7L587.7 667.5L588 667.9L585.3 669.7L582.8 665.8L580.2 667.6L582.4 671L579.7 672.7L583.1 678L580.4 679.7L578.6 677L575.9 678.6L574.3 676L571.6 677.7L569.4 674L566.7 675.6L570.9 682.8L568.1 684.4L568.5 685.1L565.7 686.7L563.2 682L560.4 683.5L559.3 681.6L556.5 683L555.2 680.5L552.4 681.9L554.5 686L551.7 687.4L550.2 684.5L547.4 685.8L546.5 683.9L543.7 685.2L544.5 687L541.7 688.3L540.6 685.9L537.7 687.2L538.8 689.6L536 690.9L535.5 689.9L532.7 691.1L532.5 690.7L529.6 691.9L530.6 694.3L527.7 695.4L526.2 691.7L523.3 692.8L525.2 697.7L522.3 698.8L520 692.9L517.2 693.9L520 701.7L517 702.8L516 700L513.1 701L512.8 700.4L509.9 701.3L509.6 700.6L506.6 701.5L507.5 704.4L504.5 705.4L504.1 703.9L501.1 704.8L501.1 704.8L498.1 705.7L498.8 708.3L495.7 709.1L494.9 706L491.9 706.8L492 707.2L489 708L489.3 709.5L486.2 710.2L486.6 711.6L483.5 712.3L482.9 709.7L479.8 710.4L480 711L476.9 711.7L476.9 711.5L473.8 712.1L474.1 713.6L471 714.2L467.9 697.4A281.7 281.7 0 0 0 691 490Z" fill="#AA3B50"/>
<path d="M671.2 484.9L669.4 485.7L670.4 487.3L668.7 488.2L668.9 489.5L667.7 490.5L668 491.9L668.3 493.3L668.1 494.6L669 496.2L667.3 497L666.6 498.2L667.2 499.7L667.3 501L665.3 501.7L665.4 503.1L665.4 504.4L665.5 505.8L664 506.7L662.1 507.3L662.4 508.8L663.2 510.4L664.5 512.3L661.8 512.6L660.8 513.6L660.2 514.7L662.6 517L660 517.4L657.8 517.8L658 519.3L658.1 520.7L657 521.6L656.9 523L656.4 524.2L659.5 526.9L656.3 526.9L654.5 527.5L654.8 529L656.9 531.4L653.4 531.2L653.4 532.6L654.7 534.6L652.4 534.9L653 536.6L651.5 537.3L650.6 538.3L649.5 539.2L648 539.8L649.1 541.8L647.9 542.6L647.8 544L648.2 545.7L646.8 546.3L647.2 548L644.3 547.9L644.8 549.6L644.5 550.9L645.4 552.9L641.5 552.1L642 553.9L641.2 554.9L640.9 556.2L639 556.6L637.9 557.3L637.8 558.8L637.6 560.2L638.2 562L635.8 562L634.3 562.5L634.1 563.9L633.8 565.2L633.6 566.7L633.4 568L631.3 568.1L630.4 569L629.5 570L629.5 571.5L627.7 571.8L626.9 572.7L628.2 575.3L624.7 574.3L623.7 575.1L624.7 577.4L625.4 579.6L623.6 579.8L620.7 579.2L620 580.2L621.1 582.7L620.1 583.5L617.7 583.2L616.7 584L616.6 585.6L616.6 587.2L613.8 586.5L613.4 587.8L613.3 589.4L615 592.5L611 590.7L610 591.5L609 592.3L608.3 593.3L608.5 595.2L607.5 596.1L606.1 596.4L605.9 598L604.5 598.4L603.7 599.3L602.8 600.3L603.4 602.6L600.6 601.6L600.3 603.1L600.4 605L598.3 604.6L597.9 606.1L596.3 606.2L596.1 607.8L597.4 611.1L594.1 609.4L592.5 609.5L592 610.9L593.4 614.3L590.1 612.5L588.8 612.9L588 613.9L586.6 614.3L586 615.4L585.9 617.3L585.4 618.7L583.5 618.4L582.4 619L582.1 620.6L580.9 621.1L579.5 621.4L579 622.8L578 623.5L576.2 623.4L576.7 626L574.1 624.6L573 625.4L572.3 626.6L571.2 627.1L570 627.5L570.5 630.4L568.1 629.3L566.3 628.9L565.8 630.4L564.5 630.7L564.1 632.3L564.1 634.5L561.8 633.4L562.3 636.4L562.1 638.4L560 637.5L559.5 639L557.1 637.7L556.3 638.8L555.7 640.2L554.3 640.4L554.6 643.2L552.6 642.4L551.5 643.1L549.7 642.6L549.1 644L548 644.7L546.3 644.2L546.6 647.4L545.5 648L543.6 647.1L542.4 647.6L541.3 648.2L540.6 649.6L539.5 650.2L538.1 650.3L537.7 652.3L535.9 651.5L534.3 651.1L534.2 653.8L533.5 655.3L531.9 655L529.8 653.5L529 654.7L528.3 656.2L526.7 655.8L526.2 657.8L524.8 657.7L523.2 657.2L521.8 657.3L520.7 657.8L519.6 658.4L517.9 657.8L517.7 660.6L516 659.9L514.3 659L513.5 660.3L512.3 660.8L510.3 659.1L510.7 663.6L508.7 661.9L507.8 663L506.4 662.9L505.2 663.3L504 663.7L502.5 663.2L501.3 663.8L500.4 664.8L498.7 663.7L498 665.8L496.5 665.2L495.6 666.4L494.2 666.2L493.7 668.9L492.3 668.7L490.8 668L489.8 669L488.4 668.6L487.5 670.4L486.2 670.4L484.7 669.5L483.5 669.9L482.4 670.9L481.2 671.3L479.7 670.5L478.8 672.2L477.3 671.3L476.3 672.5L474.9 671.9L474.1 674.2L472.7 673.9L471.5 674.4L470.6 676.1L468.8 673.8L467.8 675.2L466.4 674.4L465.5 676.4L464 675.4L462.6 667.8L463.6 666.1L464.7 665.7L466.4 667.6L467.3 666.2L468.3 665L469.6 665.1L471.1 666.2L471.9 664.2L473.1 664L474.4 664.1L475 661.6L476.2 661.1L477.7 662.4L479.1 662.6L480.4 663L481.2 661.3L482.7 662.1L483.9 661.9L484.9 660.9L485.6 658.9L487.2 660.1L487.5 656.6L489.5 659.3L490.5 658.4L491.2 656.6L492.6 656.9L494.2 657.9L495.4 657.7L496.3 656.6L496.9 654.5L498.7 655.9L500.1 656.4L501.4 656.2L502.1 654.7L503.4 654.6L504.1 653.2L504.8 651.5L506.8 653.3L507.5 651.8L509.5 653.4L510.4 652.6L511.7 652.4L511.5 648.7L514 651.6L515 650.8L515.8 649.7L517 649.4L518.4 649.4L520 650.1L521.1 649.5L522.2 649L523 647.7L524.5 648.2L524.9 646.1L526.6 646.9L528.2 647.3L529.2 646.5L530.3 646L530.9 644.4L532.7 645.2L533.3 643.7L533.3 641.2L535.6 642.8L535.9 640.8L537.9 642L539.2 641.6L539.9 640.5L541.7 641.1L542.4 639.8L542.2 637L543.3 636.5L544.4 636L545.7 635.7L546.6 634.8L546.8 632.8L548.9 633.9L550.4 634.1L551.3 633.1L552.6 632.9L552.2 630L553.1 629.2L554.4 628.9L555 627.6L557.1 628.6L557.3 626.8L558.4 626.2L559.5 625.7L560.4 624.8L559.7 621.7L561.2 621.7L562.9 622.1L564 621.5L565.4 621.3L566.1 620.2L567.3 619.7L568.9 620L569.1 618.2L571.3 619L571.2 616.9L573.2 617.5L570.8 612.4L573.7 614.2L575.3 614.3L576.2 613.3L576.4 611.7L576.8 610.3L580.4 612.7L580.6 611L581.1 609.8L581.6 608.5L582.7 607.8L583.7 607.2L585 606.7L585.2 605.2L586.5 604.7L586.5 603L588.2 603.1L589.7 602.8L590.4 601.9L591.2 600.9L590.3 598.2L592.4 598.6L594 598.5L594.9 597.7L595.7 596.7L596.4 595.7L596.7 594.3L598.1 593.9L598.6 592.8L599.4 591.8L600.4 591.1L602.4 591.3L602.3 589.5L602.2 587.8L603.6 587.4L603.4 585.6L605.6 585.9L604.9 583.7L607.3 584.1L608.1 583.2L607.9 581.4L608.4 580.3L610 580.1L609.7 578.2L611.3 578L613.2 577.9L613.7 576.8L614.3 575.6L613.4 573.4L615.5 573.5L616.6 572.8L616.5 571.2L617.2 570.2L617.2 568.7L620.8 569.8L620.6 568.1L621.2 567.1L621.7 566L620.4 563.5L623.7 564.3L624.5 563.4L624.7 562.1L625.7 561.3L627 560.6L627.6 559.6L626.8 557.6L628.2 557.1L630.3 556.9L629.8 555.1L631.4 554.7L630.2 552.5L632.7 552.6L633.8 551.8L632.9 549.9L633.3 548.7L634.7 548.1L634.3 546.4L636.5 546.3L636.6 544.9L637.9 544.2L640.2 544.1L638.6 541.9L637.6 539.9L639.4 539.5L640.7 538.8L641.1 537.6L641.6 536.5L642.4 535.5L643 534.4L644.4 533.8L645.3 532.8L644.9 531.2L644 529.4L645.4 528.7L645 527.2L646.5 526.5L647.3 525.5L646.8 524L649.2 523.7L646.1 521L649.4 521.1L648.6 519.4L649.8 518.6L650 517.3L648.8 515.5L648.6 514.1L652.6 514.4L653.9 513.6L652.3 511.7L652.5 510.4L654.3 509.8L653.2 508L654.8 507.3L652.8 505.3L655.4 504.9L654.7 503.4L656.5 502.7L656.7 501.5L657 500.3L657.8 499.2L657.3 497.8L657.1 496.4L657.7 495.3L660 494.8L659.6 493.4L660.1 492.2L658.9 490.6L660 489.6L659.3 488.1L661.7 487.6L661.4 486.2L660.4 484.7L660.9 483.5L662 482.5Z" fill="#AA3B50" stroke="#AA3B50" stroke-width="0.8" stroke-linejoin="round"/>
<path d="M624.4 472.9L624.9 474.3L622.6 475L622.5 476.2L623.8 477.9L622.5 478.7L623.1 480.2L622.2 481.2L620.2 481.9L621.5 483.6L620.8 484.7L620.5 485.8L619.5 486.8L618.8 487.9L618.2 489L618.4 490.3L617.9 491.4L617.9 492.7L616.3 493.5L615.2 494.3L615.2 495.6L616.4 497.4L615.9 498.5L613.2 498.8L616.2 501.3L613.5 501.5L615.3 503.6L612.6 503.8L610.9 504.4L612.2 506.3L611 507.1L610.6 508.2L608.8 508.7L610.1 510.7L610.4 512.2L608.2 512.5L607.2 513.4L607.1 514.7L607.2 516.1L606.4 517.1L605.6 518L604.8 519L604.1 520L602.2 520.4L604.5 523L602.7 523.4L602.7 524.8L601.4 525.4L600 526L601 528L599.7 528.7L601.3 531.1L598.5 530.8L597.8 531.8L597.2 532.9L597 534.2L597.4 535.9L596.5 536.8L593.9 536.6L594.2 538.2L592.7 538.7L591.9 539.7L593.4 542.2L592.9 543.3L589.9 542.7L590.8 544.8L590 545.8L588.2 546L587.6 547.1L586.9 548.1L586.3 549.2L586.3 550.7L584.9 551.2L582.6 550.9L582.6 552.5L582.2 553.7L579.8 553.3L580 555L579.8 556.4L577.8 556.3L577.3 557.5L577.7 559.5L576.2 559.8L574.8 560.2L575.1 562.1L575.5 564.1L574.1 564.5L571.9 564.1L570.5 564.5L570.2 565.8L570.3 567.6L567.8 566.9L567.1 567.9L566.9 569.4L566 570.2L566.8 572.8L564.4 572L564.2 573.6L562.1 573.2L561.9 574.8L561.8 576.4L560 576.2L558.8 576.7L558.1 577.8L557.9 579.4L557.4 580.7L555.6 580.5L554.5 581.1L553.8 582.2L554 584.3L552.7 584.7L551.2 584.8L549.3 584.3L548.9 585.8L549 587.9L547.7 588.2L546.8 589.1L545.2 588.9L542.9 587.9L542.9 589.9L541.5 590.1L540.4 590.6L540.9 593.5L538.9 592.7L538 593.5L537 594.3L535.7 594.5L535.5 596.3L534.2 596.6L533.3 597.4L532.5 598.5L530.8 598L530.5 599.8L529.3 600.3L527.6 599.8L527.3 601.6L526 602L525.3 603L523.6 602.6L522.4 603L521.6 604L520.1 603.9L519.7 605.7L518.1 605.2L517.3 606.4L516.3 607.1L515.1 607.4L514.2 608.3L513.1 608.9L512.3 609.9L510.3 608.6L509.7 610.2L509.1 611.7L508.2 612.6L506.9 612.8L506.2 614.4L506.2 617.2L503.7 614.6L502.6 615.3L501.1 614.8L500.7 616.9L499 616L497.9 616.6L497.7 619.6L495.6 617.4L494.2 617.3L493.2 618.1L492.3 619.2L490.6 618.2L490.7 622L488.5 619.4L487.8 621.3L486.2 620.3L485.2 621L484 621.4L482.8 621.7L481.9 622.9L480.5 622.5L479.5 623.4L478.1 623L477.1 624.1L476.4 625.8L475.3 626.4L473.8 625.9L472.5 625.8L471.1 625.1L469.6 624.2L468.8 626L467.5 626L466.4 626.5L465.2 626.9L463.7 625.9L463 628.1L461.7 628L460.6 628.7L459.3 628.5L458 628L457.2 630.5L456 631L454.8 624L455.7 622.7L456.7 621.2L457.8 620.8L458.9 620.5L459.9 619.5L461.4 620.9L462.5 620.1L463.6 619.8L464.9 620L465.7 618.5L467.1 618.9L467.7 616.9L469.5 619.1L470.2 616.8L471.6 617.6L473.3 619.4L474.1 617.9L475.1 617.1L475.7 614.7L476.5 613.5L478.1 614.7L479.4 615.1L480.7 615L482.2 615.8L482.1 611.8L483.7 612.9L485.6 614.7L486.1 612.7L487.3 612.4L487.7 610.1L490.1 613.2L490.4 610.6L491.3 609.7L492.6 609.8L494 610.3L495.4 610.5L496.5 610.1L497.6 609.7L497.4 606L499.5 608L500.5 607.3L501.6 607L502.2 605.5L504 606.5L504.1 604L505.6 604.3L506.1 602.7L507.2 602.3L509.3 603.9L510 602.6L509.6 599.3L511.4 600.2L512.5 599.8L513.9 599.8L515.3 600.1L516.1 599L516.6 597.5L518.5 598.5L519 597.1L520.6 597.4L521 595.8L522 595.1L523.1 594.7L522.7 591.7L524.9 593.1L525.6 592L527.2 592.4L528.3 591.9L528.8 590.6L529.8 589.9L530.7 589.1L530.2 586.3L532.8 588.1L533.7 587.3L535.2 587.5L534.1 583.8L536.2 584.8L536.9 583.7L538.8 584.4L539.4 583.2L541 583.3L542.7 583.6L542.9 582L544 581.5L544 579.5L544.9 578.8L546.3 578.6L546.6 577.1L548.7 577.8L549.7 577.2L548.2 573.6L550.9 575L552.3 574.8L550.8 571.3L553.4 572.5L554.7 572.2L555.6 571.5L556.5 570.7L556.5 568.9L558.1 568.9L558 567.1L559.7 567.2L561.8 567.6L561.3 565.5L561.7 564.2L562.4 563.2L563.3 562.5L563.5 561.1L565.3 561.2L566.3 560.5L566.7 559.3L567.9 558.7L567.9 557.1L569.1 556.7L569 555L570.7 555L571.9 554.4L572.6 553.4L570.9 550.5L574.8 552.2L574.7 550.6L572.8 547.5L576.6 549.2L577.2 548.1L577.5 546.8L579 546.5L579.7 545.5L579.5 543.9L581.2 543.7L582.3 543L582.2 541.5L583.4 541L582.7 539L584 538.5L585.4 538L585.4 536.6L586.7 536L586.6 534.6L587.7 533.9L585.1 530.7L589.3 532.1L590.6 531.6L589.3 529.3L591.6 529.4L591.6 528L591.9 526.8L594.1 526.7L593.8 525.2L594.4 524.1L592.7 521.8L595.2 521.9L596.9 521.5L595.8 519.5L597.9 519.4L595.9 516.9L598.4 516.9L599.8 516.3L599.2 514.7L598.3 512.9L600.8 512.8L600.7 511.5L601 510.3L602.6 509.8L602.7 508.5L602 506.9L600.7 505L603.4 505L604.1 504L603.1 502.3L602.7 500.8L604.9 500.5L606.2 499.7L604.3 497.7L607.4 497.7L605.8 495.8L607.6 495.2L608.8 494.4L608.6 493.1L607.2 491.3L610.3 491.2L610.7 490.1L609.7 488.5L610.2 487.4L611.2 486.5L611 485.2L612.7 484.5L611.2 482.8L610.8 481.5L611.9 480.6L612.8 479.6L614.4 478.9L614.1 477.6L615.6 476.8L615.5 475.5L615.2 474.2L615.1 472.9L615.2 471.8L616.7 470.9Z" fill="#AA3B50" stroke="#AA3B50" stroke-width="0.8" stroke-linejoin="round"/>
<path d="M518.2 602.4L525.6 614.9" fill="none" stroke="#AA3B50" stroke-width="2.4"/>
<path d="M457.1 699.1L458.3 708L455.3 708.4L455.9 713.4L452.8 713.8L452.4 710.1L449.3 710.5L449.4 711.6L446.3 711.9L446.6 714.4L443.5 714.6L443.3 712.9L440.2 713.2L440.4 715.9L437.3 716.1L437 711.4L433.9 711.5L434.2 715.8L431 716L430.8 711.5L427.8 711.6L427.7 711.4L424.7 711.5L424.7 712.6L421.6 712.7L421.6 715.2L418.5 715.2L418.5 713.4L415.4 713.4L415.4 711.7L412.4 711.6L412.2 717.1L409.1 717.1L409.1 716.4L406 716.3L406.1 713.9L403 713.7L403 714.5L399.8 714.3L399.9 712.6L396.9 712.4L396.7 714.2L393.6 713.9L393.6 714.4L390.5 714.1L390.6 712.5L387.5 712.2L386.6 721.7L383.4 721.3L383.4 721L380.2 720.6L381.5 710.2L378.5 709.8L378.1 712.9L375 712.5L374.7 714.4L371.6 713.9L371.7 713.2L368.6 712.7L368.7 712.1L365.6 711.5L365.7 711.1L362.6 710.6L362.1 713.2L359 712.6L359 712.9L355.9 712.3L355.3 714.8L352.2 714.1L353 710.5L350 709.8L349.7 710.9L346.6 710.2L346.4 711L343.4 710.2L343.9 708L340.9 707.2L341.2 705.9L338.2 705.1L337.5 707.8L334.4 706.9L334.1 708.1L331 707.2L332.8 701.5L329.8 700.6L326.8 710L323.8 709L325.9 702.7L322.9 701.7L324.3 697.6L321.3 696.6L319.9 700.7L316.9 699.6L315.9 702.5L312.9 701.4L314.4 697.4L311.5 696.3L310.6 698.6L307.7 697.5L306 701.6L303.1 700.4L304.6 696.7L301.7 695.5L301.5 695.8L298.6 694.6L298.1 695.8L295.2 694.5L296.3 692L293.4 690.7L292.6 692.5L289.7 691.2L290.4 689.8L287.5 688.4L288.4 686.6L285.6 685.2L283.7 689L280.9 687.5L280.8 687.8L278 686.3L279.2 684L276.4 682.5L273.9 687.2L271.1 685.6L269.3 688.9L266.4 687.3L271.5 678.4L268.8 676.8L267.4 679.2L264.7 677.6L265.5 676.2L262.8 674.6L262.2 675.6L259.5 673.9L261 671.6L258.3 669.9L256.2 673.3L253.5 671.5L255.5 668.5L252.9 666.8L245.2 678.3L242.5 676.4L243.3 675.1L240.6 673.3L240.5 673.5L237.8 671.6L240 668.6L237.4 666.7L242.4 659.9L239.8 658L239.2 658.9L236.7 657L236.3 657.4L233.8 655.5L233.2 656.3L230.7 654.4L228.6 656.9L226.1 654.9L227.8 652.9L225.3 650.9L220.6 656.6L218.1 654.5L218.9 653.5L216.5 651.4L220.7 646.5L218.3 644.4L214.7 648.5L212.3 646.3L215.1 643.2L212.8 641.1L214.7 639L212.4 636.8L210.3 639L208 636.8L207 637.9L204.7 635.6L205 635.3L202.8 633.1L205.2 630.6L203 628.4L199.7 631.6L197.5 629.3L197.4 629.3L195.2 626.9L196 626.2L193.9 623.9L196.4 621.6L194.3 619.2L194.8 618.7L192.7 616.4L190.3 618.4L188.3 616L190.2 614.4L188.1 612L188.8 611.4L186.8 609L179.6 614.8L177.6 612.3L181.2 609.4L179.2 606.9L179.8 606.4L177.9 603.9L176.8 604.7L174.9 602.1L175.8 601.5L173.9 598.9L177.7 596.1L175.8 593.6L171.8 596.4L170 593.8L172 592.4L170.1 589.8L169.7 590.1L167.9 587.5L166 588.8L164.2 586.1L158.3 590L156.5 587.2L162.7 583.3L161 580.6L163.9 578.7L162.3 576L163.2 575.5L161.6 572.8L162.3 572.3L160.7 569.6L159.8 570.2L158.2 567.4L161.3 565.7L159.7 563L156.7 564.7L155.2 561.9L155.3 561.8L153.8 559L154.7 558.6L153.2 555.8L156.6 554.1L155.2 551.3L146.4 555.7L145 552.8L148 551.3L146.7 548.5L150 546.9L148.7 544.1L138.3 548.8L136.9 545.9L141.1 544L139.8 541.1L143.5 539.5L142.3 536.5L146 535L144.8 532.1L143.1 532.8L142 529.9L141.1 530.2L140 527.3L138.2 527.9L137.1 525L129.6 527.8L128.5 524.7L135 522.4L133.9 519.4L138.8 517.7L137.8 514.7L134.6 515.8L133.6 512.8L133.8 512.7L132.9 509.7L133.7 509.4L132.8 506.4L130.1 507.3L129.2 504.2L126.9 504.9L126.1 501.8L130.2 500.6L129.4 497.6L125.9 498.5L125.1 495.4L124.5 495.6L123.7 492.5L128.9 491.2L128.2 488.1L122.1 489.5L121.4 486.4L121.5 486.4L120.8 483.2L123.8 482.6L123.2 479.5L120.1 480.1L119.5 477L122.6 476.4L122 473.2L120.1 473.6L119.6 470.4L120.7 470.2L120.2 467.1L123.5 466.6L123 463.5L120.6 463.8L120.2 460.7L121.2 460.5L120.8 457.4L121.6 457.3L121.2 454.2L122.7 454L122.4 450.9L121.7 450.9L121.4 447.8L122.4 447.7L122.2 444.6L117.1 445L116.8 441.8L123.7 441.3L123.5 438.2L119.1 438.5L118.9 435.3L120.6 435.2L120.4 432.1L121.9 432L121.8 428.9L117.6 429L117.5 425.8L120.9 425.8L120.9 422.6L136.5 422.5A281.7 281.7 0 0 0 457.1 699.1Z" fill="#6B5E88"/>
<path d="M454.2 678.3L452.8 677.9L451.5 677.3L450.7 681.3L448.8 676.8L447.7 677.9L446.4 677.5L445.2 678.1L443.9 677.9L442.6 677.8L441.4 678.2L440.1 678.3L438.9 679.4L437.5 677.5L436.3 678.6L435 678.1L433.9 680.2L432.5 679.2L431.3 680.3L430 679L428.8 680L427.5 679.5L426.2 679.8L425 680.7L423.7 680.3L422.4 680.4L421.1 679.7L419.9 680.3L418.6 681L417.3 678.8L416 683.4L414.8 681.9L413.5 680.8L412.2 680.4L410.9 681.1L409.7 679.2L408.4 680.5L407.1 681.9L405.9 680.2L404.7 679.2L403.4 679.2L402 681.2L400.8 679.7L399.7 677.1L398.3 679.1L397 679.4L395.7 679.4L394.4 680.1L393.3 678.3L391.9 679.1L390.7 678.6L389.2 680.5L388.3 677.2L386.8 679.3L385.8 677.1L384.4 677.6L383 678.5L381.9 677.2L380.5 678.2L379.5 676.5L377.9 678.2L376.9 676.2L375.6 676.7L374.3 676.3L372.9 677.1L371.8 676.2L370.5 676.1L369.1 676.6L368.5 673.4L366.7 675.7L364.9 678.1L364.2 675.3L363.4 672.9L362.1 672.9L360.7 673.3L359.5 673.1L358 673.9L356.2 675.6L356 671.3L354.4 672.4L352.9 673.1L351.6 673.1L350.7 671.2L349.5 671.2L348.2 671L347.2 669.7L345.4 671.5L344.3 670.7L342.6 671.9L342.1 669.1L341.3 667.4L339.5 668.9L338.7 667.2L337.4 667.1L336.4 666L335.3 665.4L333 668.2L332.9 664.7L331.1 665.8L329.9 665.4L329.8 661.9L327.8 663.7L327.5 661L325.9 661.6L324.6 661.4L323.4 661.1L322.1 660.8L321.1 659.9L319.6 660.5L318.8 659L317.5 658.8L316.8 657.3L315.5 657L314.3 656.7L313.9 654.4L312.2 655.2L311.1 654.4L309.9 654.2L309 653L307 654.3L305.8 653.9L305.4 651.8L302.3 655.2L302.4 652.3L301.4 651.5L300.8 649.8L299.7 649.2L298.7 648.3L297 648.8L295.9 648.2L295 647.3L293.4 647.5L292 647.5L291.6 645.5L289.8 646.3L287.8 647.1L288 644.2L285.5 645.9L285.3 643.8L284.1 643.4L283.3 642.2L283 640.3L281.1 640.9L280 640.3L279.2 639.1L278.6 637.8L277 637.9L276 637.1L275.2 636L273.4 636.5L272.2 636L272.3 633.6L270.5 633.9L270 632.4L267.1 634.3L266.3 633.3L266.3 631.1L265.5 630L264.3 629.5L263.5 628.4L262.9 627.1L261.9 626.4L260.8 625.7L258.5 626.6L258 625.2L257.3 624.1L256.6 622.9L254.5 623.4L254.8 621.1L252.6 621.7L252.6 619.8L252 618.5L251.8 616.8L247.7 619.6L249.1 616.1L248.4 615L246.5 615.2L246.4 613.4L244.2 613.9L244.1 612.1L243.6 610.8L243.1 609.5L240.1 610.9L239.7 609.4L239.9 607.3L239.3 606.2L235.3 608.4L237.7 604.2L236.2 603.9L236 602.4L233.3 603.3L232.7 602.1L231.8 601.1L232.8 598.4L231.9 597.6L229.8 597.8L230.4 595.5L226.8 597.1L226.8 595.4L226.1 594.3L224.3 594.2L224.6 592.3L224.2 591L222.7 590.6L222.7 588.9L220.8 588.9L220.5 587.5L220 586.2L218.5 585.8L217.4 585.1L215.4 585.1L213.8 584.7L215.3 581.9L214.5 580.9L212.5 580.8L212.8 579L212.9 577.3L211.5 576.8L210.4 576.1L209.6 575L209.3 573.7L208.9 572.4L206.5 572.6L207.1 570.6L204.9 570.6L206.2 568.2L204.1 568.1L204.8 566.1L203.8 565.2L201.3 565.3L202.6 562.9L200.7 562.7L201.1 560.9L199.5 560.4L197.2 560.4L197.5 558.7L197.2 557.4L197.9 555.5L195.8 555.3L195.4 554L193.8 553.5L193.9 551.9L193.8 550.5L194.3 548.8L191.3 549L189.9 548.3L190.3 546.7L191.4 544.6L191.9 542.9L190.2 542.4L189.6 541.3L189.3 540L188.1 539.2L186.9 538.4L186.2 537.3L185.9 536.1L183.8 535.7L183.4 534.4L184.6 532.5L185.1 530.8L182.4 530.7L182.8 529.1L183 527.6L182.6 526.4L181 525.8L180.9 524.4L180.5 523.2L181 521.6L180.9 520.3L178.8 519.8L177 519.2L177.6 517.6L173.2 517.9L177.2 515L176.9 513.7L175.7 512.8L176.4 511.2L176.3 509.9L174 509.4L171.9 508.8L173 507.1L171.7 506.2L171.6 504.9L172.6 503.2L171.6 502.2L171 501L170.5 499.9L170.5 498.5L169.7 497.5L169.3 496.2L169.2 494.9L169.3 493.6L168.7 492.4L169 491L167.5 490.1L165.2 489.5L167.3 487.6L168 486.1L166 485.3L166 484L165.1 482.9L164.7 481.7L165.1 480.3L165 479L164 477.9L164.5 476.5L164 475.3L163.7 474L164.1 472.7L163.9 471.4L162.6 470.4L160.2 469.5L161.5 468L163.8 466.3L160.2 465.6L162.9 463.9L162.3 462.7L162.4 461.4L162.6 460.1L160.4 459.1L162.4 457.6L162.7 456.2L160.4 455.3L159.5 454.1L157.1 453.1L161 451.4L160.5 450.1L158.2 449.1L159.4 447.7L159.8 446.4L159.2 445.2L159.6 443.9L160.6 442.5L160.2 441.3L157.7 440.2L159.7 438.8L160.4 437.4L157.5 436.4L157.5 435.1L157.6 433.8L158.8 432.5L159.8 431.2L157.7 430L157.1 428.7L158 427.4L158.3 426.1L159 424.8L156.9 423.6L157.2 422.3L167.8 422.2L165.7 423.5L167 424.7L166.8 425.9L167.5 427.1L165.1 428.5L168 429.6L168 430.8L168.8 432L168.8 433.2L166.7 434.6L169.1 435.6L168 436.9L167.4 438.2L168.3 439.4L168.9 440.5L169 441.8L169.1 443L166.6 444.5L168 445.6L169.6 446.6L169.1 447.9L168.6 449.2L168.8 450.4L169.5 451.6L169.6 452.8L169.9 454L171.1 455L170.6 456.3L169.4 457.8L170.3 458.9L170.7 460.1L168.9 461.6L172 462.3L169.8 463.9L172 464.8L171.3 466.2L172.4 467.2L171.2 468.7L172 469.8L173.3 470.8L174.1 471.8L173.5 473.2L172.7 474.6L173.5 475.7L174.5 476.7L173.5 478.2L173.2 479.6L174.3 480.6L175.2 481.6L174.7 483L176.3 483.9L176 485.2L174.7 486.8L176.2 487.7L177.4 488.6L177.2 490L179.2 490.6L177.8 492.4L180.4 492.9L178.8 494.6L177.6 496.3L178.7 497.2L177.8 498.8L179.2 499.6L179.9 500.7L180.7 501.7L181.4 502.8L183.2 503.5L181.6 505.3L185.3 505.3L183.6 507.2L184.1 508.3L183.4 509.9L183.9 511L184 512.3L184.3 513.5L185.4 514.4L185.9 515.5L186.8 516.5L188.8 517L188.3 518.5L187 520.4L188.8 521L191 521.3L190.2 523L191.6 523.7L190.5 525.5L191 526.6L192.2 527.5L192.2 528.8L192.7 529.9L193.3 531L195.8 531.1L194.2 533.3L197 533.2L194.8 535.7L196.4 536.3L198.3 536.7L198 538.2L199.8 538.6L201 539.3L199.8 541.4L199.4 543L200.4 543.9L200.5 545.2L202.4 545.5L201 547.8L204.1 547.3L204.4 548.6L204 550.3L205.3 550.9L205.7 552.1L204.3 554.4L206.5 554.5L207 555.6L207.1 557L211 555.9L209.2 558.5L210.2 559.4L210.2 560.8L210.5 562.1L212.9 562L212.6 563.6L214 564.2L214.7 565.2L214.5 566.8L216 567.2L215.8 568.9L216.5 569.9L216.4 571.5L217.7 572.1L220.5 571.5L219.3 574L221.7 573.7L220 576.5L222.6 576.1L222.7 577.5L224.3 577.8L223.6 580L225.8 579.7L225.9 581.3L225.9 582.9L226.5 584L228.8 583.6L229.2 584.9L231.2 584.8L230 587.5L232.5 586.9L231.8 589.1L232.6 590.1L234.1 590.4L238 588.4L235.9 592L237.7 592L238.3 593.1L239.3 593.9L240.8 594.1L240.9 595.7L242 596.3L241.2 598.9L242.7 599.1L243.5 600.1L245.1 600.1L245.6 601.4L245.3 603.5L246.8 603.7L249 603.1L251.2 602.5L249.6 606.1L249.6 608L251.8 607.3L252 609L253.8 608.7L256.8 607.1L256.4 609.5L256.5 611.2L257.1 612.4L258.4 612.8L260 612.8L259.6 615.2L260.2 616.3L261.3 617L262.2 617.9L263.3 618.4L264.5 618.9L265.1 620.1L266.9 619.8L268.4 619.8L268.6 621.6L270.2 621.4L269.8 624.1L271.4 624L271.3 626.2L273.3 625.5L274.5 626L276 625.9L276.1 627.9L277.3 628.4L278.2 629.3L280.3 628.3L280.6 630.1L282.1 630.1L282.6 631.6L283.3 632.7L284.1 633.8L286.1 632.9L288.7 630.9L287.6 635.2L288.5 636L289.3 637L290.7 637.2L292.1 637.2L293 638L295.3 636.4L295.9 638L296.9 638.6L297.7 639.7L298.8 640.2L300.1 640.4L301.3 640.8L302.9 640.4L303.9 641L304.3 643L305.4 643.5L307.6 641.9L308.1 643.5L309.2 644.1L309.6 646L311.1 645.6L312.3 646L314.6 643.9L315.2 645.6L316 646.7L317.1 647.2L317.2 650L318.3 650.5L320.3 648.9L321.1 650.3L321.7 652L324 649.7L323.9 653.1L325.4 652.8L327.3 651.2L328.6 651.2L329.2 653L329.9 654.6L331.4 654.1L332.5 654.6L333 656.8L334.1 657.3L335.2 658L336.6 657.8L337.9 657.7L339.6 656.4L339.8 659.9L341.2 659.5L342.3 660L343.8 659.3L344.8 660.2L345.1 663.5L346.7 662.6L348 662.4L350.1 659.7L351.3 659.7L352 662L352.9 663.2L354.5 662L355.3 663.6L356.3 664.7L358.4 661.6L359.3 663.1L360.1 665L361.2 665.7L362.9 663.5L364 664.4L365.1 664.9L365.8 667.5L367.2 666.8L368.6 666.3L370.1 665.1L371.1 666L371.8 669L373.4 667.1L374.7 666.8L375.7 668.3L377.1 667.2L378.4 666.9L379.2 669.7L380.5 669.3L381.8 669.4L383.1 669.1L384.2 669.5L385.7 667.6L386.8 669.2L387.8 670.7L389.3 668.2L390.2 671.6L391.6 670.4L393 668.7L394.1 670.1L395.3 670.6L396.5 670.8L397.7 671.5L398.9 671.2L400.4 667.8L401.3 672.1L402.6 671.1L403.9 670.9L405 671.8L406.3 670.7L407.6 669.6L408.8 669.6L410.1 669.1L411.2 671.4L412.5 670.4L413.7 668.1L414.9 672.5L416.1 672.5L417.4 671.3L418.6 669.4L419.8 671.4L421 669.8L422.3 672.1L423.5 670.5L424.7 671.8L426 672.7L427.2 670.9L428.4 670.9L429.5 668.2L430.8 669.9L432.1 670.6L433.4 672.9L434.5 669.6L435.7 670.4L436.9 670L437.9 667L439.4 670.1L440.6 669.7L441.7 668.2L443 669.2L444 667L445.4 668.3L446.6 668.4L447.8 668.3L449.2 669.7L450.4 669.4L451.5 667.8L452.8 668.9Z" fill="#6B5E88" stroke="#6B5E88" stroke-width="0.8" stroke-linejoin="round"/>
<path d="M244.6 607.3L237.7 616.4M366.3 670.1L368.4 656.4" fill="none" stroke="#6B5E88" stroke-width="2.4"/>
<path d="M447.3 629.2L446.3 630.5L445 630.4L443.8 631L442.5 629.6L441.2 629.5L440 629.8L438.9 630.2L437.9 632.7L436.4 629.6L435.2 629.9L434.1 631.4L432.7 630L431.6 631.3L430.3 630.5L429.2 632.3L427.9 629.8L426.7 630.4L425.5 630.5L424.3 630.8L423.1 632.7L421.8 630.6L420.7 633.4L419.4 629.9L418.2 631L417 632.3L415.8 631L414.5 632.4L413.3 631.7L412.1 632.8L410.8 632.3L409.7 631.6L408.5 630.7L407.3 630L406 631.1L404.7 631.8L403.6 631.2L402.2 633.1L401.1 632L400 630.1L398.8 629.5L397.5 630.6L396.3 630L395.1 630L393.5 633.7L392.8 629L391.3 631.1L390.3 629.2L389.2 628.4L388.1 627.5L386.3 631.4L385.4 629.1L384.3 628.3L383.1 627.9L381.8 628.6L380.7 627.7L379.2 629.2L377.9 629.4L377.1 627L376 626.5L374.6 627.1L373.1 628.2L372.2 626.5L371.1 626.1L370.2 624.7L368.9 624.9L367.6 624.9L366.1 625.7L365.6 623.1L364.2 623.4L362.7 624.4L361.2 625.3L360.6 622.7L359.1 623.6L357.4 625.1L356.8 622.8L356.1 621L355.2 619.8L353.5 621.1L352.8 619.4L351.2 620.2L349.8 620.7L349.1 618.9L347.7 619.3L346.9 618L346 616.8L344.5 617.4L342.6 619L341.9 617.3L340.9 616.7L340.3 614.8L338.9 615L336.6 617.5L336.3 615L335.4 614L333.7 614.8L332.7 614L331.7 613.3L331.3 611.3L329.6 612L328.7 611.1L327.3 611.2L325.8 611.6L325.2 610.1L324.1 609.5L322.2 610.4L320.9 610.3L320.8 607.8L319 608.7L319 606.1L317.2 606.8L316.3 605.9L315 605.8L313.5 606L312.8 604.7L310.9 605.6L311.7 601.6L309.8 602.5L307.4 604.1L307.2 602.1L306.5 600.9L305.4 600.4L304 600.2L302.6 600.2L301.3 599.8L300.9 598.2L298.8 599.2L301 593.7L299.5 593.8L297 595.3L296.2 594.2L295.5 593.1L294.8 592L294.4 590.4L292.8 590.6L292.4 589.1L291.6 588.2L288.5 590.1L288.3 588.4L287.8 587.1L287 586.2L286.2 585.2L285.2 584.5L284.7 583.1L282.4 584L282.5 581.9L281.8 580.9L280 581.1L278.6 580.9L279.5 578L278 577.9L276.4 577.9L275.7 576.8L274.4 576.4L273.8 575.3L273.8 573.5L272.4 573.1L272.3 571.5L267.9 574.3L270 570.4L269 569.7L268.5 568.5L265.8 569.4L265.4 568.1L265.6 566.3L265.5 564.6L263.9 564.4L261.7 564.9L262 562.9L260.6 562.5L259.6 561.8L259.7 560L257.5 560.3L257.8 558.5L257.7 556.9L256.7 556.2L254.7 556.3L254.8 554.6L252.7 554.7L252.2 553.6L251.4 552.6L250.8 551.5L249.2 551.2L251 548.3L249.5 547.9L247.8 547.7L246.1 547.4L247.6 544.7L246.4 544.2L245.7 543.2L245.4 541.8L243.9 541.4L243.2 540.4L241.3 540.2L242.2 538.1L240 538.1L239.3 537.1L241.2 534.4L238 535L238.3 533.4L237.9 532.2L236.8 531.4L237.1 529.8L235.8 529.1L234.9 528.3L234.7 527L234.7 525.6L233.1 525.1L234.3 523L231.8 522.9L231.6 521.7L230.5 520.9L229.4 520.1L229.8 518.5L229 517.5L229 516.1L226.1 516.2L227.7 514.1L228.6 512.2L226.7 511.8L228.4 509.7L225.7 509.6L224.3 508.9L226.6 506.5L224.4 506.2L222.1 505.8L224 503.7L223 502.8L222.8 501.5L224.1 499.7L223.1 498.8L222.2 497.8L223.4 496L222.2 495.2L220.2 494.7L221.3 493L218.3 492.8L220.8 490.6L219.1 489.9L218 489L217.3 487.9L218.7 486.2L217.3 485.4L217.1 484.2L218.4 482.5L217 481.6L217.3 480.3L216.6 479.2L215 478.4L214.9 477.2L212.1 476.7L212.5 475.3L214.5 473.5L215 472.1L214.3 471L213.1 470.1L215.4 468.3L213 467.6L214.7 466L213.8 465L210.8 464.4L211.7 462.9L213.1 461.4L212.4 460.3L210.6 459.4L211.4 458L209.6 457.1L211.1 455.6L211.1 454.4L210.6 453.3L211.9 451.8L212 450.6L211.4 449.5L210 448.5L209.5 447.3L210.5 446L210.1 444.8L209.4 443.7L209.8 442.4L207.3 441.4L207.3 440.2L208.8 438.8L207.1 437.8L207.3 436.5L207.4 435.3L205.8 434.2L205.4 433L206 431.7L206.2 430.5L207.8 429.2L206.7 428L207.1 426.8L206.3 425.6L206.2 424.4L207 423.1L205.3 421.9L214.1 421.8L214.4 423L214.1 424.2L215.3 425.3L215.9 426.5L215 427.7L214.4 428.9L214.4 430.1L213.1 431.3L212.2 432.6L213 433.7L214.4 434.8L214.3 436L214.8 437.1L216.7 438.1L216.3 439.3L215.2 440.6L216.4 441.7L215.9 442.9L216.2 444.1L216.6 445.2L217.6 446.2L218.1 447.4L220.2 448.2L219.9 449.4L219.3 450.7L218.2 452L218.1 453.2L218.2 454.4L218.4 455.6L219.3 456.6L218.9 457.9L220.3 458.8L219.4 460.1L219.1 461.4L220.1 462.4L220.4 463.5L220.6 464.7L220 466L221.1 466.9L220.7 468.2L221.8 469.2L221.8 470.4L221.2 471.8L224.1 472.2L223.5 473.5L222.2 475.1L223.5 476L223.2 477.3L224.7 478.1L223.4 479.7L225.7 480.2L227 481L225.5 482.7L225.3 484L225.8 485L227.7 485.6L226.2 487.4L226.8 488.4L227.6 489.4L228.2 490.4L226.6 492.2L228.4 492.8L229.8 493.6L228.4 495.4L231.1 495.5L232.5 496.2L230.1 498.5L231.8 499L230.3 500.9L231.7 501.6L233.4 502.1L231.9 504.1L234 504.4L233.6 505.9L234.8 506.6L233.4 508.6L234.4 509.5L234 511L235.7 511.4L234.8 513.2L236.2 513.8L238.3 514.1L236.2 516.4L238.9 516.4L237.1 518.7L238.3 519.4L241 519.2L240.7 520.7L240.3 522.3L241.8 522.9L242.6 523.7L242.3 525.3L242.7 526.4L243.8 527.1L245.2 527.6L244 529.8L244.5 530.9L248.1 529.9L249.4 530.5L247.1 533.4L248.1 534.2L248.6 535.2L248.8 536.6L252.7 535.3L250.9 538L253.2 537.8L252.7 539.6L255 539.3L253.6 541.8L254.8 542.4L256 543L256.6 544L257.6 544.7L258.3 545.7L259.9 545.9L258.2 548.8L260 548.8L260.1 550.3L262.8 549.6L263.5 550.5L262.8 552.6L263 554L264.3 554.4L265.3 555.1L264.8 557.2L266.7 557L268.8 556.6L268.1 559L269.5 559.3L269.8 560.6L270.3 561.7L272.1 561.6L271.1 564.3L273.2 563.8L273.6 565.1L276.4 563.9L274.9 567.1L278.5 565.1L276.6 568.8L279.3 567.6L279.6 569L280.9 569.4L281.1 570.9L282.9 570.7L283.5 571.7L284.5 572.4L285.8 572.6L285.6 574.6L286.1 575.9L289.6 573.5L287.3 578.1L290.4 576.2L290 578.5L291.6 578.4L292 579.8L292.9 580.5L293.8 581.3L293.9 583.2L296.7 581.4L296.3 583.8L297 584.9L299.7 583.2L300 584.8L299.6 587.3L300.8 587.6L301.1 589.4L303 588.6L306.3 585.9L303.8 591.6L305.3 591.5L306.4 592.1L308.4 591.2L308 593.9L309.5 593.7L311.8 592.2L312 594.2L312.7 595.4L313.5 596.3L316 594.4L315.8 596.9L315.9 599.2L317.1 599.6L319 598.5L319.4 600.2L321 599.7L322.3 599.9L322.8 601.5L324.4 600.8L324.1 604.1L325.4 604.2L327.9 601.7L328.9 602.5L329.4 604.1L330.5 604.5L332.4 603.1L332.9 604.9L334 605.4L334.5 607.1L336.3 605.8L338.1 604.6L338.2 607.5L338.9 608.7L340.4 608.4L342.1 607.1L342.8 608.5L343.6 609.8L345.8 607.4L346.4 609.1L347 610.8L348.6 609.9L349.1 611.8L349.8 613.5L351.4 612.4L352.7 612.2L353.6 613.3L354.9 613L356.5 611.7L357.7 611.9L358.3 613.7L359.4 614.2L360.5 614.7L361.3 615.9L362.7 615.6L364 615.2L365 616L366.6 614.6L367.4 616.2L368.5 616.6L369.2 618.5L370.6 617.8L372.1 616.3L372.8 618.8L374.5 616.5L375 619.5L376 620.3L377.4 619.3L379 617.2L379.7 619.7L381.1 618.7L382.1 619.7L382.9 621.9L384.3 621.1L385.2 622.6L386.5 621.7L387.8 621.2L389.4 618.2L390.1 622L391.1 623.3L392.5 621.6L393.6 622.2L394.7 623L395.9 623L397.2 621.8L398.3 622.8L399.6 620.7L400.6 623.4L401.7 623.7L402.9 624.2L404 625L405.2 624.7L406.4 624.1L407.7 622.8L408.9 622.4L410 623.5L411.2 622.3L412.3 624.4L413.5 624.5L414.7 624.1L415.9 622.2L417 624.1L418.2 622.5L419.4 622.4L420.5 623.5L421.7 621.2L422.9 624.3L424 623L425.2 623.6L426.4 623.1L427.5 621.7L428.7 622.3L429.9 623.7L431.1 622.7L432.2 622.8L433.4 622.6L434.5 622.2L435.7 622.1L437 623.7L438.1 622.1L439.3 623.2L440.3 621.1L441.6 622.6L442.7 621.2L443.8 621.1L445.1 621.8L446 620.1Z" fill="#6B5E88" stroke="#6B5E88" stroke-width="0.8" stroke-linejoin="round"/>
<path d="M231.2 511.1L219.6 516M310.4 597.9L304.6 610.2" fill="none" stroke="#6B5E88" stroke-width="2.4"/>
<path d="M136.6 412.3L120 411.8L120.1 408.7L120.6 408.7L120.7 405.6L118.7 405.5L118.9 402.3L120.6 402.4L120.8 399.3L116.5 398.9L116.7 395.8L117.9 395.9L118.2 392.7L119.1 392.8L119.4 389.6L120.6 389.7L121 386.6L121.1 386.6L121.5 383.5L119.1 383.2L119.5 380L121.5 380.3L122 377.2L115.9 376.3L116.4 373.1L110.2 372.1L110.7 368.9L122.9 370.9L123.4 367.8L124.3 368L124.8 364.9L124.8 364.8L125.4 361.7L122.1 361.1L122.8 358L126.6 358.8L127.3 355.7L127.3 355.7L127.9 352.6L124.6 351.8L125.3 348.8L119.3 347.3L120.1 344.1L125.4 345.5L126.2 342.4L131.1 343.7L131.9 340.7L129.2 339.9L130 336.9L132.3 337.5L133.2 334.5L131.3 333.9L132.2 330.9L136.6 332.3L137.6 329.3L134.9 328.4L135.8 325.5L133.4 324.6L134.4 321.6L136.4 322.3L137.5 319.4L143.1 321.4L144.2 318.5L137.3 315.9L138.4 313L131.8 310.4L133 307.4L135.1 308.3L136.3 305.3L143.3 308.2L144.5 305.3L145.4 305.6L146.6 302.7L143.6 301.4L144.8 298.5L147.1 299.5L148.4 296.7L151.4 298.1L152.7 295.2L151.1 294.5L152.4 291.7L147.3 289.2L148.7 286.4L149.6 286.8L151 284L151.5 284.2L153 281.4L149.9 279.8L151.3 276.9L148.6 275.5L150.1 272.6L155.1 275.4L156.7 272.6L158.3 273.5L159.9 270.8L154.1 267.5L155.8 264.7L151.4 262.1L153.1 259.3L161.6 264.5L163.2 261.8L156.4 257.5L158.1 254.7L158.3 254.9L160.1 252.1L171.4 259.5L173.1 256.9L171.6 255.9L173.3 253.3L166.6 248.7L168.5 246.1L165.2 243.9L167.1 241.2L168.8 242.4L170.6 239.7L177 244.3L178.8 241.8L177 240.5L178.9 237.9L184.6 242.2L186.5 239.8L183.9 237.8L185.9 235.3L185.7 235.2L187.7 232.7L189.9 234.5L191.9 232.1L191.7 232L193.7 229.6L192 228.2L194.1 225.8L190.2 222.4L192.3 220.1L195.2 222.6L197.3 220.3L195.8 219L198 216.6L198.7 217.3L200.8 215L203 217L205.2 214.8L203.5 213.2L205.7 210.9L208.6 213.8L210.8 211.6L206.9 207.6L209.1 205.4L210.2 206.5L212.4 204.3L209.5 201.2L211.8 199L217.4 205L219.7 202.9L219.9 203.1L222.2 201L218.3 196.7L220.7 194.6L220.4 194.3L222.8 192.2L226.6 196.6L229 194.6L220 184L222.5 181.9L227.4 187.8L229.9 185.8L229.1 184.9L231.6 182.9L233.4 185.2L235.9 183.2L238.2 186.2L240.6 184.3L241.2 185.1L243.7 183.2L238.5 176.1L241.1 174.2L243.3 177.4L245.9 175.5L245.2 174.6L247.8 172.8L249.5 175.2L252.1 173.5L252.1 173.4L254.7 171.7L250.6 165.4L253.3 163.6L258.3 171.5L260.9 169.8L260.2 168.7L262.9 167L263.9 168.7L266.6 167.1L266 166L268.7 164.4L267.1 161.8L269.8 160.2L271.2 162.6L273.9 161L274.8 162.7L277.6 161.2L275.2 156.8L278 155.3L274.7 149.2L277.6 147.7L282.7 157.6L285.5 156.2L287.4 159.9L290.1 158.6L287.3 152.8L290.1 151.4L290.2 151.6L293.1 150.3L294.9 154.3L297.8 153L296 149.1L298.9 147.8L300.8 152.3L303.7 151.1L303.1 149.8L306 148.6L303.5 142.6L306.4 141.4L308.4 146.3L311.3 145.2L311.5 145.8L314.4 144.6L313.2 141.3L316.1 140.2L315.3 137.9L318.3 136.9L319.7 141L322.7 140L323 140.8L325.9 139.8L325.8 139.3L328.7 138.3L329.4 140.5L332.4 139.6L331.9 138L334.9 137.1L331.6 126L334.7 125.1L337.4 134.6L340.4 133.8L341.6 138.1L344.6 137.4L344.2 135.8L347.2 135.1L347.5 136.5L350.5 135.7L350.4 135.2L353.4 134.5L353.4 134.5L356.5 133.8L356.7 135.2L359.8 134.6L359 131L362.1 130.4L361.9 129.5L365 128.9L365.3 130.7L368.4 130.1L368.6 131.4L371.6 130.9L371.4 129.5L374.5 129L374.8 130.9L377.8 130.5L376.5 120.8L379.6 120.4L380 123.1L383.1 122.7L383.3 124.2L386.4 123.8L386.7 126.5L389.8 126.2L389.9 126.8L393 126.5L392.9 126.1L396.1 125.9L396.1 126.8L399.2 126.6L399.1 125.2L402.2 125L402.3 125.8L405.4 125.7L406 138.7A281.7 281.7 0 0 0 136.6 412.3Z" fill="#377EB8"/>
<path d="M157.5 412.9L157.7 411.6L156 410.3L158.7 409.1L158.7 407.8L159.7 406.6L160 405.4L159.4 404.1L158.1 402.7L157 401.3L160.2 400.3L160.8 399.1L159.8 397.7L159.9 396.5L158.8 395.1L160.8 394L158.5 392.5L157.6 391.1L162.7 390.4L162.4 389.1L162.7 387.9L163 386.7L162.1 385.3L163.5 384.2L161.2 382.6L164 381.7L163.1 380.3L162.3 378.9L165.6 378.2L164.1 376.6L165.1 375.5L165.2 374.3L165.2 373L164.2 371.5L164.2 370.3L165.5 369.2L165 367.8L164.8 366.5L165.7 365.4L165.8 364.1L164.7 362.6L167.5 361.9L167.1 360.6L165.9 358.9L167.4 358L168.3 356.9L168.3 355.7L168.2 354.3L167.5 352.8L167.8 351.6L167.9 350.3L167.2 348.8L169.5 348.1L169.5 346.8L168.4 345.2L170.8 344.5L171.1 343.3L171.4 342.1L171.1 340.7L170.1 339L172 338.3L172.3 337L171.9 335.6L173.5 334.8L172.6 333.1L171.9 331.5L173.7 330.8L174.4 329.7L175.2 328.7L175.8 327.6L174.2 325.5L176.7 325.2L176.9 323.9L177.5 322.7L177.6 321.4L178.9 320.6L177.2 318.5L179.6 318.1L179.6 316.7L178 314.7L178.4 313.5L181.3 313.4L181.9 312.2L181.6 310.7L183.1 310L182.3 308.2L180.8 306.1L184.8 306.6L183.1 304.3L185.2 303.9L185.3 302.6L186.3 301.6L188.2 301.2L187.7 299.5L186 297.2L189.1 297.4L191 297L190.8 295.4L191.8 294.5L189.9 292L193 292.3L192.4 290.5L194.2 290.1L194.8 289L194.8 287.5L196 286.7L196.4 285.5L197.1 284.4L195.7 282.1L197.5 281.7L198 280.5L199.4 279.9L200.1 278.8L199.5 276.9L199.5 275.4L203 276.2L203.5 275L202.3 272.6L204 272.3L206.5 272.4L206.7 271.1L206.5 269.3L208.5 269.3L208.1 267.4L209.6 266.9L209.1 265L212.3 265.8L212.3 264.2L212.9 263.1L214.3 262.6L214.3 261L215.4 260.2L216.1 259.2L213.4 255.4L217.8 257.3L218.5 256.3L217.9 254.1L219.7 253.9L219.5 252.2L220.5 251.3L222.7 251.6L223.2 250.3L224.2 249.5L224.9 248.4L224.9 246.7L226.1 246.1L227.4 245.5L227.7 244.2L228.8 243.4L230.2 243L229.8 240.9L229.6 239L231.7 239.2L233.7 239.4L233.3 237.2L235.4 237.5L234.8 235.1L236 234.5L238.6 235.4L240 235.1L240.6 233.8L240.3 231.6L241.6 231.3L242.6 230.4L243.7 229.7L244.1 228.3L244.7 227.1L245.1 225.7L246 224.8L247.5 224.5L249.9 225.3L250.3 224L251.2 223L252.2 222.3L253.5 221.9L252.8 219L253.2 217.4L255.7 218.5L256.3 217.3L257.5 216.8L258.5 215.9L260.1 216L259.6 213.2L260.6 212.5L262.2 212.5L263.7 212.3L264.4 211.2L263.9 208.4L266.8 210.1L267.9 209.5L268.5 208.3L268.5 205.9L268.2 203.2L271.2 205.5L272.6 205.2L273.2 203.9L273.7 202.3L276.4 204.1L276 201.1L277.5 201.1L278.5 200.3L279.6 199.7L280.1 198L281.8 198.4L281.8 196L284.5 197.9L284.5 195.4L285.9 195.4L287.3 195.2L287.3 192.6L290.2 195.1L290 192.1L291.7 192.7L292.2 191L294.2 191.9L295 190.8L296.6 191L297.8 190.6L297.7 187.6L299.8 189L301 188.4L301.4 186.4L302.7 186.3L304 186L305.1 185.3L306.9 186.2L308.1 185.8L309.3 185.4L310.5 184.8L310.8 182.4L312 182.2L313.5 182.3L314.4 181.3L315.8 181.3L317.1 180.9L318.2 180.4L319.8 180.8L320.4 179.1L321.9 179.5L323.4 179.7L323 175.3L324.7 176.1L326.4 177L327.6 176.7L328.7 175.9L329.5 174.4L330.5 173.5L332 173.8L333.5 174.1L334 171.7L336 173.7L337.1 172.8L338.1 172L339.9 173.4L340.9 172.4L341.8 170.9L343.7 172.7L344.3 170.3L345.7 170.7L346.6 169.3L348.3 170.4L349.2 168.9L350.7 169.6L352 169.8L353.3 169.5L353.9 166.9L355.6 168.5L356.7 167.5L358.2 168.4L359.3 167.4L360.5 166.9L361.2 164.2L363.1 166.9L364.3 166.8L365.5 166.3L367 167L368.5 168.2L369.2 165.3L370.4 165L371.6 164.6L373.1 165.5L374.3 165.1L375.7 165.8L376.8 164.9L378.1 164.7L379.4 165.1L380.3 162.3L381.9 165L382.9 162.4L384.2 163.2L385.4 162.4L386.8 163.1L388 162.7L389.3 162.6L390.3 160.7L391.7 161.8L392.7 158.3L394.3 161.5L395.5 161.2L396.7 160.7L397.9 159.2L399.2 160.2L400.6 161.3L401.9 161L403.1 160L404.3 160.1L405.6 160.3L406.9 160L407.3 170.1L406 168.8L404.8 168.7L403.6 169.7L402.4 169.8L401.1 169L399.9 169L398.7 170L397.4 169.1L396.2 169.3L395 169.8L393.8 170.2L392.5 169.7L391.4 170.6L390.2 170.8L389.1 171.7L387.9 172L387 174.5L385.5 172.8L384.2 172.3L383.1 173L381.9 173.4L380.9 174.6L379.6 174.6L377.9 171.8L377.1 173.9L375.6 172.6L374.5 173.7L373.4 174.1L372.1 173.8L370.8 173.8L369.9 175.4L368.7 175.5L367.2 174.3L366.1 175.3L364.8 174.8L363.7 175.7L362.3 174.8L361.1 175.2L359.9 175.6L358.6 175.2L357.7 177L356.4 176.8L355.2 177.1L354.2 177.8L353.3 179.2L351.6 177.8L351 180L349.1 177.8L348 178.5L347.1 179.7L346.2 181L344.4 179.3L343.3 180L342.4 181.4L340.9 180.7L339.5 180.3L338.9 182.5L337.5 182L336.6 183.3L335 182.3L333.7 182.5L332.5 182.8L331.2 182.7L330.8 185.2L329.4 184.8L327.8 184.1L326.3 183.8L326.6 187.8L325.2 187.6L323.3 186.2L323.5 190L321.5 188.3L320 187.9L318.8 188.3L319.3 192.4L317.5 191.3L316 191L314.1 189.8L314.2 192.9L312.5 192.2L311.7 193.3L309.9 192.4L309.2 193.8L307.8 193.8L307.3 195.6L305.7 195.2L304.9 196.2L303.4 195.9L301.5 194.9L301.8 198.2L300.7 198.8L298.9 197.9L298.3 199.4L297.1 199.8L296.4 201.1L294.3 199.9L293.6 201.2L292.3 201.4L292.1 203.4L291 204L290.5 205.5L289.2 205.8L287.3 205L286.7 206.3L285.5 206.7L284.8 207.9L283.3 207.9L283 209.6L280.9 208.7L280.8 210.8L278.8 210L277.9 210.8L277.4 212.2L276.1 212.6L274.3 212.1L274.1 214L274 216L273.2 216.9L272.5 218L269.1 215.5L270.1 218.9L268.7 219L267.1 219L266.4 220.1L264.7 219.9L264.9 222.1L263.3 222L263 223.7L262.2 224.7L260.6 224.6L259.2 224.9L259.1 226.6L258.1 227.4L257.6 228.7L256.3 229.1L256.3 230.9L256 232.4L253.7 231.6L253.4 233.1L253.1 234.6L250.5 233.6L249.7 234.5L249.1 235.7L247.3 235.5L249.1 239.3L245.9 237.6L245.9 239.4L244.9 240.1L244.8 241.8L242.5 241.2L242.6 243L240.6 242.7L238.9 242.7L241.1 246.7L239.9 247.1L237.3 246.4L236.1 246.9L236.6 249.1L235 249.2L235.8 251.6L232.7 250.4L232.4 251.8L231.9 253L232.4 255.1L230.4 254.9L228.7 255.1L230.1 257.9L228.4 258L226.5 258.1L227.2 260.2L224.6 259.6L224.7 261.3L224.4 262.6L222.3 262.6L222.9 264.6L221.9 265.3L221.6 266.6L220.1 267L220.3 268.7L218.3 268.7L218.4 270.3L216 270.1L216.5 272L215.9 273.1L215.1 274L214.6 275.2L213.1 275.6L213.1 277.1L211.3 277.3L209.3 277.4L212.2 280.9L212 282.2L207.8 280.9L207 281.8L206 282.7L206.8 284.6L206.7 286L205.5 286.7L205.6 288.2L204.7 289.1L204.9 290.7L202 290.3L202.2 291.9L202.2 293.3L202.8 295.1L199.5 294.6L199.6 296.1L197.1 296L199.1 298.6L197.9 299.3L198.7 301.1L196.5 301.3L197.3 303.2L196.3 304L196 305.3L196.2 306.7L195 307.5L192.8 307.7L192 308.7L191.3 309.7L191.1 311L190.3 312L191.1 313.7L189 314.1L188.1 315.1L188.9 316.8L189.6 318.4L187.5 318.9L188.7 320.7L185.9 320.9L187.4 322.8L186.9 323.9L185.3 324.6L186 326.2L184.7 327L184.5 328.2L184.2 329.4L182.9 330.2L183.1 331.6L183.1 332.9L182.4 334L182.8 335.4L180.1 335.8L181.9 337.7L180.6 338.6L180.2 339.7L179.9 340.9L178.1 341.6L179.7 343.4L179.2 344.5L177.9 345.4L178 346.8L177.5 347.9L177.2 349.1L177.4 350.4L177.2 351.6L175 352.3L176.4 353.9L175.7 355L178.1 356.9L177.3 358L176.2 358.9L175.8 360.1L175.4 361.3L178 363.1L175.1 363.7L174.6 364.8L173.7 365.9L172.6 366.9L174 368.4L174.8 369.9L173.8 370.9L172.6 371.9L174.9 373.6L173.4 374.5L173.5 375.8L172.6 376.9L173.5 378.2L174.3 379.6L171.3 380.3L173.1 381.9L173.7 383.2L173.5 384.4L172.2 385.4L169.6 386.3L170.4 387.6L169.6 388.8L170.8 390.1L170.2 391.3L170 392.5L169.2 393.6L168.9 394.8L168.1 396L168.1 397.2L169 398.5L170.5 399.9L168.5 400.9L166.8 402L167.2 403.3L169.4 404.7L169.5 405.9L168.2 407L166.9 408.2L166.3 409.4L165.8 410.6L168.8 412L166.2 413.1Z" fill="#377EB8" stroke="#377EB8" stroke-width="0.8" stroke-linejoin="round"/>
<path d="M231.1 246.3L237.9 255.1" fill="none" stroke="#377EB8" stroke-width="2.4"/>
<path d="M207 414.2L208.1 413.1L206.8 411.8L208.2 410.6L207.8 409.4L208.5 408.2L208.5 407L204.4 405.5L207.3 404.5L207.9 403.3L209.7 402.2L208.5 400.9L208.7 399.7L209.6 398.6L207.2 397.1L209.3 396.1L208.2 394.8L209.1 393.7L207.6 392.2L209 391.2L207.5 389.7L208.1 388.6L210.4 387.7L210 386.4L208.8 385L209.1 383.8L209.3 382.6L208.7 381.2L208.3 379.9L211 379.2L212.2 378.2L210.6 376.6L211.5 375.6L210.8 374.1L212.1 373.2L211.9 371.9L213.3 371L212.8 369.6L212.6 368.3L214.1 367.4L211.2 365.4L214.4 365L212.2 363.1L213.6 362.2L214 361L215.6 360.2L216.1 359.1L214.8 357.5L215.8 356.5L216.1 355.3L217.3 354.4L217.2 353.1L216.4 351.5L215.2 349.8L217.1 349.1L217.5 348L218.1 346.9L218.3 345.6L219 344.6L220.4 343.9L218 341.6L222 341.8L221.4 340.3L221.6 339L223.3 338.4L222.7 336.8L224.8 336.4L223 334.3L225.3 334L225.6 332.8L226.6 331.9L224.8 329.7L227 329.4L226.7 327.9L229.9 328.1L228.4 326L227 323.9L227.9 323L229.9 322.7L230.5 321.6L231.1 320.5L231.8 319.5L231.9 318.2L233 317.4L233.6 316.3L234.7 315.6L235.5 314.6L233.4 311.9L236.2 312.1L237.4 311.4L236.3 309.4L235.9 307.7L238.4 307.8L239.1 306.8L240.2 306L238.3 303.4L241 303.7L241.3 302.4L243.3 302.3L242.4 300.2L243.3 299.3L244.1 298.4L245.4 297.8L244.9 296L244.1 293.8L247.3 294.7L247.7 293.4L249.7 293.4L248.1 290.7L249.5 290.2L251.1 289.8L248.8 286.5L253 288.3L253.3 286.9L253.5 285.5L254.5 284.7L255 283.6L254.9 281.8L256.5 281.6L258.2 281.4L257.4 279.1L259.6 279.4L260.1 278.3L261.4 277.8L260.6 275.4L260.7 273.8L263.6 274.8L264 273.5L264.6 272.4L265.2 271.2L267 271.3L267 269.5L267.5 268.3L270.4 269.5L269.2 266.5L272.6 268.2L270.5 264.3L272.5 264.6L274.3 264.8L275.2 263.9L275.7 262.7L276.9 262.2L276.3 259.7L278.1 259.9L279.4 259.4L280 258.3L281.7 258.4L281.4 256.1L282.7 255.7L284 255.4L284.9 254.6L285.3 253.1L286.9 253.1L288 252.6L289.6 252.6L291.1 252.6L290.5 249.9L291.3 248.8L293.2 249.3L293.8 248.1L295.3 248.1L296.5 247.7L296.9 246.1L298.2 245.9L298.4 243.9L299.7 243.6L300.6 242.9L301.9 242.5L303.4 242.6L303.6 240.7L304.4 239.6L305.9 239.7L307.3 239.7L308.5 239.3L307.8 235.8L310.6 238L310.6 235.5L313 237.4L313.5 235.7L312.7 231.8L315.4 234.1L316.4 233.3L317.4 232.7L318.8 232.8L319.9 232.1L320.8 231.3L322 230.9L323.8 231.7L323.1 227.6L325.9 230.6L326.1 228.1L326.5 226.1L329.1 228.7L329.6 226.9L331.3 227.8L332.1 226.4L332.4 224.1L334.5 225.8L335.4 224.8L337.2 225.9L337.5 223.6L338.9 223.7L339.9 223L341 222.5L342.7 223.3L343.5 222.2L345 222.6L345.2 219.5L346.6 220L347.9 220L349.9 222.1L350.3 219.5L352.2 221.2L352.4 217.9L354.4 220L355.3 218.9L355.6 215.6L356.8 215.5L358.3 216.4L359.4 215.8L361 216.8L362.3 216.9L363.8 217.8L364.3 214.9L365.7 215.5L367 215.8L368.3 216L368.9 213.1L369.9 212.1L371.9 215.5L372.7 213.5L374.2 214.3L375.4 214.1L376.4 213.3L377.7 213.6L378.8 212.8L379.6 210.4L381.4 213.4L382.4 212L382.8 207.3L384.7 211.3L386.1 212.3L387.2 211.2L388.2 209.8L389.5 209.8L390.6 209.2L392 210.3L393.2 210.3L394.3 209L395.7 210.7L396.8 209.2L398.1 210L399.1 207.6L400.5 209.6L401.7 208.9L402.8 208.2L404.3 211.3L405.4 209.1L406.6 208.8L407.8 209.1L409 207.8L409.5 220L408.2 217.9L407 217.4L405.9 217.5L404.7 217.4L403.4 216.6L402.3 217.3L401.1 217.1L400 217.3L399 219.9L397.5 216.6L396.4 217L395.2 217.3L394.1 217.7L392.9 217.9L391.8 218.2L390.5 217.6L389.3 217.2L388.3 218.5L387.2 219L385.8 218L385 220.1L383.7 219.6L382.7 220.8L381.5 220.5L380.1 219.5L379.3 221.7L377.9 220.3L376.8 220.8L376 222.8L374.5 221.7L373.8 223.9L372.1 221.5L371.5 223.9L369.7 221.7L369.1 223.9L367.7 223.2L366.1 222L365.5 224.3L364.1 223.5L362.7 222.7L361.9 224.3L360.4 223.2L359.5 224.4L358.3 224.6L357.3 225.5L356.4 226.4L354.9 225.7L354.1 227L353.2 227.9L351.8 227.6L350.9 228.3L350.3 230.2L348.1 227.6L347.4 229.1L346.9 231.1L345.4 230.5L343.7 229.2L343.4 231.7L342.4 232.3L341.5 233.2L340 232.8L338.6 232.5L337.1 231.9L336.3 233.1L335.8 234.8L334.7 235.2L332.6 233.4L331.7 234.4L330.3 234.2L329.3 234.7L329.2 237.2L327.6 236.7L327.3 238.8L326.1 238.9L323.6 236.6L322.9 238L322.1 238.9L320.8 239L319.9 239.8L319.6 241.8L317.8 240.9L317.6 243L316.4 243.2L314.4 242.2L313.7 243.3L312.3 243.3L311.7 244.5L311 245.6L310 246.3L308 245.4L308.1 247.8L307.4 248.9L307.2 250.7L304.5 248.7L303.9 249.9L301.9 249.1L303.6 253.7L300.9 251.9L300.2 252.8L298.7 252.8L298 253.9L297.7 255.5L296.3 255.5L296.9 258.3L294.8 257.5L293.2 257.3L291.8 257.5L291.3 258.7L291.6 261.1L290.1 261.1L288.6 261.1L287.4 261.4L286.6 262.4L286.3 263.9L285.2 264.4L283.8 264.5L282.2 264.5L285 269.5L281.8 267.6L280.6 268.1L280.5 269.7L279.1 269.9L278.7 271.3L276.8 270.9L277.3 273.2L275.9 273.4L275.6 274.8L273.3 274.1L273.9 276.5L271.9 276.1L271.8 277.7L270.5 278.1L270.5 279.7L268.3 279.3L268.1 280.7L266.9 281.1L267 282.8L267 284.4L265.3 284.5L265.1 285.9L264.6 287L262.9 287.1L262.3 288.1L260.8 288.4L260 289.3L260.2 291L258.6 291.2L258.9 292.9L256.3 292.4L256.1 293.8L255.4 294.7L255.2 296.1L255.2 297.5L254 298.1L252.4 298.4L253.5 300.6L250.7 300.1L252.3 302.7L252.5 304.2L251.5 305L249 304.7L249.5 306.4L247.5 306.5L246.6 307.3L246.5 308.7L246.7 310.2L247 311.8L246 312.6L243.8 312.6L241.6 312.6L243.3 315L244.7 317.2L241.8 316.9L241.1 317.8L240.9 319.1L238.9 319.3L240.7 321.7L240.3 322.8L239.4 323.6L236.8 323.6L236.8 324.9L235.5 325.5L235.4 326.8L237.1 329L236.5 330L236.3 331.2L234.8 331.8L233 332.2L230.9 332.6L233.4 335L233.3 336.3L233.9 337.8L230.5 337.6L232.4 339.7L229.7 339.8L231.4 341.8L228.4 341.8L229.4 343.5L229.2 344.7L227.7 345.4L227 346.4L224.9 346.8L228.3 349.4L226 349.8L225.1 350.7L225.6 352.2L223 352.5L225 354.4L224.5 355.5L224 356.6L222.5 357.4L222.1 358.5L222.6 359.9L222.1 360.9L221.3 361.9L221.1 363.1L222.5 364.7L223.6 366.2L220.9 366.7L219.4 367.6L221 369.2L219.1 369.9L221 371.6L222.7 373.2L220.7 374L220.9 375.2L217.8 375.7L217.6 376.9L218.2 378.2L219.8 379.7L218.6 380.7L216.2 381.4L218 383L217 384L215.7 384.9L219.1 386.7L216 387.4L217.1 388.8L216.3 389.8L217.9 391.3L216.3 392.2L215.2 393.2L215.5 394.5L217 395.8L217.5 397.1L214.5 397.9L216.1 399.3L215.7 400.4L216.5 401.7L215.8 402.8L215.1 403.9L215.7 405.1L215.8 406.3L215.8 407.5L215.5 408.6L215.7 409.8L216.3 411L217.2 412.2L215.1 413.3L215.8 414.5Z" fill="#377EB8" stroke="#377EB8" stroke-width="0.8" stroke-linejoin="round"/>
<path d="M373.8 217L377 228.5M212.2 391.8L201.5 390.3" fill="none" stroke="#377EB8" stroke-width="2.4"/></g>
<text x="405.7" y="76.7" font-size="19.5" transform="rotate(-1.5 405.7 76.7)">I</text>
<text x="404.2" y="120.9" font-size="19.5" transform="rotate(-1.5 404.2 120.9)">II</text>
<text x="404.1" y="159.2" font-size="19.5" transform="rotate(-1.5 404.1 159.2)">III</text>
<text x="404.5" y="205.6" font-size="19.5" transform="rotate(-1.5 404.5 205.6)">IV</text>
<text x="416.3" y="401.7" font-size="38.8" text-anchor="middle" font-style="italic">E. carolleeae</text>
<text x="416" y="450.6" font-size="38.8" text-anchor="middle">Atlantic clade</text>
<g id="circosC"><path d="M419 883.8A366.4 366.4 0 0 1 718 1038.3L683.8 1062.5A324.5 324.5 0 0 0 419 925.7Z" fill="#E41A1C"/>
<path d="M419 882.4A367.8 367.8 0 0 1 719.1 1037.5" fill="none" stroke="#000" stroke-width="3.4"/>
<path d="M725.1 1048.7A366.4 366.4 0 0 1 775.5 1334.9L734.7 1325.2A324.5 324.5 0 0 0 690.1 1071.8Z" fill="#AA3B50"/>
<path d="M726.2 1048A367.8 367.8 0 0 1 776.8 1335.2" fill="none" stroke="#000" stroke-width="3.4"/>
<path d="M772.5 1346.4A366.4 366.4 0 0 1 419 1616.6L419 1574.7A324.5 324.5 0 0 0 732.1 1335.4Z" fill="#6B5E88"/>
<path d="M773.9 1346.8A367.8 367.8 0 0 1 419 1618" fill="none" stroke="#000" stroke-width="3.4"/>
<path d="M408 1616.4A366.4 366.4 0 0 1 164.2 1513.4L193.3 1483.3A324.5 324.5 0 0 0 409.3 1574.5Z" fill="#377EB8"/>
<path d="M408 1617.8A367.8 367.8 0 0 1 163.2 1514.4" fill="none" stroke="#000" stroke-width="3.4"/>
<path d="M155.9 1505.1A366.4 366.4 0 0 1 52.7 1260.3L94.6 1259.2A324.5 324.5 0 0 0 186 1476Z" fill="#3E8E93"/>
<path d="M154.9 1506.1A367.8 367.8 0 0 1 51.3 1260.4" fill="none" stroke="#000" stroke-width="3.4"/>
<path d="M52.6 1248.3A366.4 366.4 0 0 1 154.5 996.5L184.8 1025.5A324.5 324.5 0 0 0 94.5 1248.5Z" fill="#469F6F"/>
<path d="M51.2 1248.3A367.8 367.8 0 0 1 153.5 995.6" fill="none" stroke="#000" stroke-width="3.4"/>
<path d="M162.9 988.1A366.4 366.4 0 0 1 408.1 883.9L409.3 925.8A324.5 324.5 0 0 0 192.2 1018.1Z" fill="#4DAF4A"/>
<path d="M161.9 987.1A367.8 367.8 0 0 1 408 882.5" fill="none" stroke="#000" stroke-width="3.4"/>
<path d="M440.7 883L440.9 878.7M462.3 884.9L462.8 880.6M483.7 888.1L484.5 883.9M504.9 892.5L505.9 888.3M525.8 898.2L527.1 894.1M546.4 905.1L547.9 901.1M566.5 913.2L568.2 909.3M586.1 922.5L588 918.7M605.1 932.9L607.3 929.2M623.5 944.4L625.9 940.9M641.1 957L643.7 953.6M658 970.6L660.8 967.3M674.1 985.2L677 982.1M689.2 1000.7L692.4 997.7M703.5 1017L706.8 1014.3M716.7 1034.2L720.2 1031.6M737.6 1066.4L741.3 1064.3M747.9 1085.5L751.7 1083.6M757 1105.2L761 1103.5M765 1125.3L769 1123.9M771.7 1145.9L775.8 1144.7M777.3 1166.9L781.4 1165.9M781.5 1188.1L785.8 1187.4M784.6 1209.6L788.8 1209.1M786.3 1231.2L790.6 1231M786.8 1252.9L791.1 1252.9M786 1274.5L790.3 1274.8M783.9 1296.1L788.2 1296.7M780.6 1317.5L784.8 1318.3M767.6 1367.5L771.6 1368.9M760.1 1387.8L764 1389.5M751.3 1407.7L755.2 1409.5M741.5 1427L745.3 1429.1M730.5 1445.7L734.2 1448M718.5 1463.7L722 1466.2M705.3 1481L708.7 1483.7M691.3 1497.4L694.4 1500.3M676.2 1513.1L679.2 1516.1M660.3 1527.8L663.1 1531M643.5 1541.5L646.1 1544.9M625.9 1554.2L628.4 1557.8M607.7 1565.9L609.9 1569.6M588.7 1576.4L590.7 1580.3M569.2 1585.9L571 1589.8M549.2 1594.1L550.7 1598.2M528.7 1601.2L530 1605.3M507.8 1607.1L508.9 1611.2M486.6 1611.7L487.4 1615.9M465.2 1615L465.8 1619.3M443.6 1617.1L443.9 1621.4M422 1617.9L422 1622.2M386.3 1616.5L385.9 1620.8M364.8 1613.9L364.2 1618.2M343.5 1610.1L342.6 1614.3M322.4 1605L321.3 1609.2M301.6 1598.7L300.3 1602.8M281.3 1591.2L279.7 1595.2M261.5 1582.5L259.6 1586.4M242.1 1572.6L240.1 1576.4M223.5 1561.7L221.2 1565.3M205.4 1549.6L202.9 1553.1M188.2 1536.5L185.5 1539.8M171.7 1522.4L168.8 1525.6M140.3 1490.1L137 1492.9M126.6 1473.3L123.2 1475.9M114 1455.6L110.4 1458.1M102.4 1437.3L98.7 1439.5M91.9 1418.3L88.1 1420.3M82.6 1398.8L78.6 1400.5M74.4 1378.7L70.4 1380.2M67.4 1358.2L63.3 1359.4M61.7 1337.3L57.5 1338.3M57.2 1316.1L52.9 1316.8M53.9 1294.6L49.6 1295.2M51.9 1273.1L47.6 1273.3M52 1226.6L47.7 1226.3M54 1205L49.7 1204.5M57.3 1183.6L53 1182.8M61.8 1162.4L57.6 1161.4M67.6 1141.5L63.5 1140.3M74.6 1121L70.6 1119.5M82.8 1100.9L78.9 1099.2M92.2 1081.4L88.4 1079.4M102.7 1062.4L99 1060.2M114.3 1044.1L110.8 1041.7M127 1026.5L123.6 1023.9M140.7 1009.7L137.4 1006.9M177.8 972.5L175 969.2M194.6 958.7L192 955.3M212.2 946L209.8 942.5M230.5 934.4L228.2 930.7M249.4 923.8L247.4 920M268.9 914.4L267.1 910.4M288.9 906.1L287.4 902.1M309.4 899L308.2 894.9M330.3 893.2L329.3 889M351.5 888.6L350.7 884.4M372.9 885.2L372.4 881M394.5 883.2L394.2 878.9" fill="none" stroke="#000" stroke-width="2.9"/>
<g font-size="18.4" fill="#000"><text transform="translate(441 877.5) rotate(-86.6)">5M</text><text transform="translate(462.9 879.4) rotate(-83.2)">10M</text><text transform="translate(484.7 882.7) rotate(-79.9)">15M</text><text transform="translate(506.2 887.2) rotate(-76.5)">20M</text><text transform="translate(527.4 892.9) rotate(-73.1)">25M</text><text transform="translate(548.3 900) rotate(-69.7)">30M</text><text transform="translate(568.7 908.2) rotate(-66.4)">35M</text><text transform="translate(588.6 917.6) rotate(-63)">40M</text><text transform="translate(607.9 928.2) rotate(-59.6)">45M</text><text transform="translate(626.5 939.9) rotate(-56.2)">50M</text><text transform="translate(644.5 952.6) rotate(-52.8)">55M</text><text transform="translate(661.6 966.4) rotate(-49.5)">60M</text><text transform="translate(677.9 981.2) rotate(-46.1)">65M</text><text transform="translate(693.3 996.9) rotate(-42.7)">70M</text><text transform="translate(707.7 1013.5) rotate(-39.3)">75M</text><text transform="translate(721.2 1030.9) rotate(-36)">80M</text><text transform="translate(742.4 1063.7) rotate(-30)">5M</text><text transform="translate(752.8 1083) rotate(-26.6)">10M</text><text transform="translate(762.1 1103) rotate(-23.2)">15M</text><text transform="translate(770.1 1123.5) rotate(-19.8)">20M</text><text transform="translate(777 1144.4) rotate(-16.5)">25M</text><text transform="translate(782.6 1165.6) rotate(-13.1)">30M</text><text transform="translate(787 1187.2) rotate(-9.7)">35M</text><text transform="translate(790 1209) rotate(-6.3)">40M</text><text transform="translate(791.8 1230.9) rotate(-3)">45M</text><text transform="translate(792.3 1252.9) rotate(0.4)">50M</text><text transform="translate(791.5 1274.9) rotate(3.8)">55M</text><text transform="translate(789.4 1296.8) rotate(7.2)">60M</text><text transform="translate(786 1318.5) rotate(10.6)">65M</text><text transform="translate(772.8 1369.3) rotate(18.6)">5M</text><text transform="translate(765.2 1389.9) rotate(22)">10M</text><text transform="translate(756.3 1410.1) rotate(25.4)">15M</text><text transform="translate(746.3 1429.6) rotate(28.7)">20M</text><text transform="translate(735.2 1448.6) rotate(32.1)">25M</text><text transform="translate(722.9 1466.9) rotate(35.5)">30M</text><text transform="translate(709.6 1484.4) rotate(38.9)">35M</text><text transform="translate(695.3 1501.1) rotate(42.2)">40M</text><text transform="translate(680.1 1517) rotate(45.6)">45M</text><text transform="translate(663.9 1531.9) rotate(49)">50M</text><text transform="translate(646.9 1545.8) rotate(52.4)">55M</text><text transform="translate(629 1558.8) rotate(55.8)">60M</text><text transform="translate(610.5 1570.6) rotate(59.1)">65M</text><text transform="translate(591.3 1581.3) rotate(62.5)">70M</text><text transform="translate(571.5 1590.9) rotate(65.9)">75M</text><text transform="translate(551.1 1599.3) rotate(69.3)">80M</text><text transform="translate(530.3 1606.5) rotate(72.6)">85M</text><text transform="translate(509.2 1612.4) rotate(76)">90M</text><text transform="translate(487.7 1617.1) rotate(79.4)">95M</text><text transform="translate(465.9 1620.5) rotate(82.8)">100M</text><text transform="translate(444 1622.6) rotate(86.2)">105M</text><text transform="translate(422 1623.4) rotate(89.5)">110M</text><text transform="translate(385.9 1621.1) rotate(-84.9)" text-anchor="end">5M</text><text transform="translate(364.1 1618.5) rotate(-81.5)" text-anchor="end">10M</text><text transform="translate(342.5 1614.6) rotate(-78.1)" text-anchor="end">15M</text><text transform="translate(321.2 1609.5) rotate(-74.8)" text-anchor="end">20M</text><text transform="translate(300.2 1603.1) rotate(-71.4)" text-anchor="end">25M</text><text transform="translate(279.6 1595.5) rotate(-68)" text-anchor="end">30M</text><text transform="translate(259.5 1586.7) rotate(-64.6)" text-anchor="end">35M</text><text transform="translate(239.9 1576.7) rotate(-61.3)" text-anchor="end">40M</text><text transform="translate(221 1565.6) rotate(-57.9)" text-anchor="end">45M</text><text transform="translate(202.8 1553.3) rotate(-54.5)" text-anchor="end">50M</text><text transform="translate(185.3 1540.1) rotate(-51.1)" text-anchor="end">55M</text><text transform="translate(168.6 1525.8) rotate(-47.8)" text-anchor="end">60M</text><text transform="translate(136.8 1493.1) rotate(-40.7)" text-anchor="end">5M</text><text transform="translate(122.9 1476.1) rotate(-37.3)" text-anchor="end">10M</text><text transform="translate(110.1 1458.2) rotate(-34)" text-anchor="end">15M</text><text transform="translate(98.4 1439.7) rotate(-30.6)" text-anchor="end">20M</text><text transform="translate(87.8 1420.4) rotate(-27.2)" text-anchor="end">25M</text><text transform="translate(78.4 1400.6) rotate(-23.8)" text-anchor="end">30M</text><text transform="translate(70.1 1380.3) rotate(-20.5)" text-anchor="end">35M</text><text transform="translate(63 1359.5) rotate(-17.1)" text-anchor="end">40M</text><text transform="translate(57.2 1338.4) rotate(-13.7)" text-anchor="end">45M</text><text transform="translate(52.6 1316.9) rotate(-10.3)" text-anchor="end">50M</text><text transform="translate(49.3 1295.2) rotate(-6.9)" text-anchor="end">55M</text><text transform="translate(47.3 1273.3) rotate(-3.6)" text-anchor="end">60M</text><text transform="translate(47.4 1226.3) rotate(3.7)" text-anchor="end">5M</text><text transform="translate(49.4 1204.5) rotate(7)" text-anchor="end">10M</text><text transform="translate(52.7 1182.8) rotate(10.4)" text-anchor="end">15M</text><text transform="translate(57.3 1161.3) rotate(13.8)" text-anchor="end">20M</text><text transform="translate(63.2 1140.2) rotate(17.2)" text-anchor="end">25M</text><text transform="translate(70.3 1119.4) rotate(20.6)" text-anchor="end">30M</text><text transform="translate(78.6 1099.1) rotate(23.9)" text-anchor="end">35M</text><text transform="translate(88.1 1079.3) rotate(27.3)" text-anchor="end">40M</text><text transform="translate(98.7 1060.1) rotate(30.7)" text-anchor="end">45M</text><text transform="translate(110.5 1041.6) rotate(34.1)" text-anchor="end">50M</text><text transform="translate(123.3 1023.7) rotate(37.4)" text-anchor="end">55M</text><text transform="translate(137.2 1006.7) rotate(40.8)" text-anchor="end">60M</text><text transform="translate(174.8 969) rotate(49)" text-anchor="end">5M</text><text transform="translate(191.8 955.1) rotate(52.4)" text-anchor="end">10M</text><text transform="translate(209.6 942.2) rotate(55.8)" text-anchor="end">15M</text><text transform="translate(228.1 930.4) rotate(59.2)" text-anchor="end">20M</text><text transform="translate(247.3 919.7) rotate(62.5)" text-anchor="end">25M</text><text transform="translate(267 910.2) rotate(65.9)" text-anchor="end">30M</text><text transform="translate(287.3 901.8) rotate(69.3)" text-anchor="end">35M</text><text transform="translate(308.1 894.7) rotate(72.7)" text-anchor="end">40M</text><text transform="translate(329.2 888.7) rotate(76)" text-anchor="end">45M</text><text transform="translate(350.7 884.1) rotate(79.4)" text-anchor="end">50M</text><text transform="translate(372.3 880.7) rotate(82.8)" text-anchor="end">55M</text><text transform="translate(394.2 878.6) rotate(86.2)" text-anchor="end">60M</text></g>
<g font-size="28.2" fill="#fff"><text transform="translate(581.3 945.5) rotate(28)" text-anchor="middle" dy="10.2">Chr1</text><text transform="translate(760.1 1197.4) rotate(81.2)" text-anchor="middle" dy="10.2">Chr2</text><text transform="translate(628.6 1524.4) rotate(-37.4)" text-anchor="middle" dy="10.2">Chr3</text><text transform="translate(272.6 1562.7) rotate(25.1)" text-anchor="middle" dy="10.2">Chr4</text><text transform="translate(100.9 1384.2) rotate(67.2)" text-anchor="middle" dy="10.2">Chr5</text><text transform="translate(100.5 1117.3) rotate(-67.4)" text-anchor="middle" dy="10.2">Chr6</text><text transform="translate(279.6 934.4) rotate(-23.8)" text-anchor="middle" dy="10.2">Chr7</text></g>
<path d="M417.5 967.2L417.5 956.6L420.6 956.6L420.6 954.1L423.7 954.2L423.8 952.6L426.9 952.7L427 950.7L430.1 950.8L430 953.5L433.2 953.6L433.2 952.2L436.4 952.4L436.2 956.7L439.3 956.9L439.2 957.8L442.3 958L442.7 953.4L445.8 953.6L445.3 958.9L448.4 959.2L448.6 957.5L451.7 957.9L451.8 956.7L454.9 957.1L454.5 960.2L457.6 960.6L458.2 956.3L461.3 956.7L461 958.6L464.1 959.1L463.9 960.3L467 960.8L468.3 953.2L471.4 953.7L471 955.8L474.2 956.4L473.4 960.2L476.5 960.8L476.9 958.7L480 959.3L479.1 963.7L482.1 964.4L483.4 958.7L486.5 959.4L485.3 964.3L488.4 965L489.2 961.4L492.3 962.2L492.4 961.6L495.5 962.4L493.5 970L496.4 970.8L500.1 957.7L503.2 958.5L500.7 967.2L503.7 968.1L503.2 969.8L506.1 970.7L506.5 969.6L509.5 970.5L510.2 968.2L513.2 969.2L513.1 969.5L516 970.6L516.1 970.4L519.1 971.4L518.3 973.6L521.2 974.7L522.7 970.7L525.6 971.8L525.9 971.2L528.8 972.3L529.2 971.5L532.1 972.7L533.7 968.7L536.7 969.9L535.2 973.4L538.2 974.7L538.4 974.1L541.3 975.4L540.2 977.9L543.1 979.2L543.3 978.7L546.2 980L546 980.4L548.9 981.8L548.9 981.6L551.8 983L552.1 982.3L555 983.7L552.6 988.3L555.4 989.8L560.1 980.7L563 982.2L560.1 987.6L562.9 989.1L560.1 994L562.9 995.5L563.4 994.5L566.1 996.1L569.2 990.7L572 992.4L569 997.3L571.7 998.9L572.2 998L574.9 999.7L575.7 998.4L578.4 1000L577.3 1001.7L579.9 1003.4L579.3 1004.3L581.9 1006L584.7 1001.8L587.4 1003.6L585 1007L587.6 1008.8L587.6 1008.8L590.1 1010.6L591.2 1009.1L593.8 1010.9L595.7 1008.2L598.3 1010.1L596.9 1012L599.4 1013.9L601.2 1011.5L603.7 1013.5L602.8 1014.7L605.2 1016.7L605.6 1016.3L608 1018.3L611.3 1014.3L613.8 1016.3L609.3 1021.6L611.8 1023.7L612.9 1022.3L615.3 1024.4L619.8 1019.3L622.2 1021.4L615.8 1028.6L618.1 1030.7L626.6 1021.4L629 1023.6L623 1030.1L625.3 1032.3L625.1 1032.5L627.4 1034.7L626.1 1036.1L628.3 1038.3L632.1 1034.5L634.3 1036.8L638.3 1032.8L640.6 1035.1L633.7 1041.8L635.9 1044.1L632.8 1047.1L634.9 1049.4L639.3 1045.3L641.5 1047.6L645 1044.5L647.1 1046.9L643.7 1050L645.8 1052.4L644.5 1053.5L646.5 1055.9L648.4 1054.3L650.5 1056.7L649 1058L651 1060.4L651 1060.4L653 1062.9L652.7 1063.1L654.7 1065.6L656.4 1064.3L658.4 1066.8L654.1 1070.1L656 1072.6L660.1 1069.5L662 1072.1L661.1 1072.7L663 1075.3L660.8 1076.9L662.6 1079.4L650.8 1087.7A283 283 0 0 0 417.5 967.2Z" fill="#E41A1C"/>
<path d="M417.6 984.2L419 984.3L420.4 984.7L421.8 984.1L423.2 983.9L424.6 984.8L425.9 985.7L427.4 984.7L428.8 984.5L430.1 985.7L431.6 984.4L432.9 985.4L434.3 984.8L435.7 984.7L437 987.2L438.3 987.3L439.8 986.5L441.3 985.2L442.6 986.3L444.1 985.3L445.5 984.9L447 984.3L448 987.9L449.4 987.9L450.9 987.3L452.1 988.2L453.7 987.3L454.9 988.6L456.3 988.3L457.6 989L459 989.5L461 985.6L461.6 990.4L463.4 988.1L464.4 990.5L465.9 989.8L467.6 988.3L468.5 991.3L470 990.6L471.8 988.6L472.8 990.9L474.2 990.6L475.4 991.9L476.6 992.7L478.3 991.5L479.3 993.3L480.4 994.7L482 993.9L483.6 993.4L484.9 993.9L485.9 995.4L487.4 995.2L489 994.8L490.4 994.8L491.3 996.8L493.3 994.8L494.1 997L496.2 994.8L497.3 996.2L498.4 997.1L499.6 998.1L500.5 999.7L502.6 997.8L502.9 1001.3L505.9 996.6L506.4 999.6L507.9 999.6L508.4 1002.3L511.6 997.6L511.4 1002.2L512.9 1001.9L514.8 1001L516 1001.8L517.1 1002.7L518.6 1002.8L520 1003.1L521.3 1003.7L523.7 1001.6L522.8 1007.2L525.1 1005.5L525.3 1008.5L527.8 1006.2L528.4 1008.3L529.8 1008.5L532.3 1006.5L532 1010.5L534.1 1009.2L534.3 1012.1L536.5 1010.8L537.8 1011.3L538.3 1013.4L540 1013.1L540.9 1014.4L542.7 1014L545.1 1012.4L545 1015.5L545.7 1017.2L547.7 1016.4L549.7 1015.7L550.7 1016.9L551.8 1017.8L552.4 1019.6L552.8 1021.6L555.3 1020.1L556.6 1020.6L557.1 1022.6L557.8 1024.1L559.1 1024.6L560.2 1025.5L562.4 1024.5L563.8 1025L564 1027.2L564.3 1029.4L565.5 1030L567.6 1029.4L568.9 1030.1L571.4 1028.8L570.1 1033.1L572.1 1032.7L572.8 1034.2L573.7 1035.3L575.4 1035.3L577.1 1035.4L577 1037.8L580.6 1035.3L579.2 1039.5L581.7 1038.6L581.8 1040.6L583.2 1041.2L582.8 1043.9L584.9 1043.5L586 1044.3L587.2 1045.1L588.8 1045.3L589.2 1047L590 1048.2L591.4 1048.8L592.8 1049.2L593.6 1050.4L594.9 1051L594.6 1053.5L597 1052.8L598.2 1053.7L599.2 1054.6L601.1 1054.6L600.6 1057.2L600.6 1059.2L602.9 1058.8L604.6 1059.1L605.3 1060.3L606.4 1061.2L606.9 1062.7L607.9 1063.6L609.8 1063.8L609.8 1065.7L611.8 1065.7L613 1066.5L613 1068.4L613.2 1070.2L615.7 1069.7L615.6 1071.7L615.3 1073.9L617.3 1073.9L619 1074.3L620.6 1074.7L620.9 1076.3L621.9 1077.3L622.1 1079L623.3 1079.7L624.3 1080.7L625.4 1081.7L625.1 1083.7L625.5 1085.1L629.3 1083.9L628.1 1086.7L630.2 1086.8L629.6 1089L631.4 1089.4L634.3 1089L633.3 1091.4L632.4 1093.9L636.2 1092.8L635.2 1095.2L638.3 1094.8L637.6 1097L629.1 1102.9L630.2 1100.5L629.2 1099.6L627.4 1099.2L626 1098.5L626.6 1096.4L625.8 1095.3L624.4 1094.6L621.8 1094.9L621.1 1093.8L621.3 1092L622.1 1089.6L618.6 1090.7L619.2 1088.4L618.3 1087.5L616.8 1087L615.9 1086L615.8 1084.2L614.9 1083.3L613.5 1082.7L613.1 1081.3L611.3 1081.1L611 1079.5L609 1079.5L610.1 1076.7L608 1076.8L607.5 1075.4L606.7 1074.3L606 1073.1L605.2 1072L603.6 1071.7L603.5 1069.9L601.8 1069.7L599.3 1070.3L599.3 1068.3L599.9 1065.9L598.8 1065L595.4 1066.6L595.2 1064.9L595.2 1062.9L594.9 1061.3L592.6 1061.8L592.6 1059.8L590.9 1059.6L589.6 1059.1L588.1 1058.8L587.6 1057.3L587.2 1055.6L585.2 1056L584.9 1054.2L584.7 1052.4L583.2 1052.1L579.8 1054.1L581.7 1049.6L578.6 1051.3L578.4 1049.5L578.2 1047.6L576 1048.1L574.7 1047.6L573.9 1046.5L573.9 1044.2L572.5 1043.9L571.6 1042.8L569.8 1042.9L568.2 1042.9L568.4 1040.3L566.7 1040.4L565.1 1040.3L565.4 1037.5L563.7 1037.7L562.6 1036.8L560.7 1037.3L559.8 1036.2L558.2 1036.3L558.8 1032.8L557.8 1031.8L555.2 1033.4L553.9 1032.9L553.1 1031.7L552.6 1030L551 1030L550.5 1028.3L548.3 1029.2L548.1 1026.9L546.8 1026.4L544.3 1028.2L544.7 1024.7L543.6 1023.8L541.8 1024.4L540 1024.8L540 1022L538.7 1021.6L536.6 1022.8L536.3 1020.3L534.4 1021.1L533.6 1019.6L532.2 1019.4L530.5 1019.8L530.3 1017.3L529 1016.7L527.5 1016.8L526.9 1015L525.4 1014.9L524.4 1013.9L521.9 1016.2L521.9 1012.7L519.8 1014.2L518.7 1013.3L517.7 1012.3L515.7 1013.7L514.4 1013.3L514 1010.5L512 1012L511 1010.9L510.4 1008.6L508.6 1009.6L506.9 1010.5L505.6 1010.1L505 1007.6L504 1006.5L502.4 1007.1L500.4 1008.6L498.8 1009.3L497.5 1008.8L497.2 1005.5L495.4 1006.7L495 1003.6L493.1 1005L491.7 1005.2L490.8 1003.4L488.8 1005.5L487.6 1004.9L486.6 1003.5L485.1 1003.8L484 1002.7L482.9 1001.6L481.4 1001.9L479.9 1002.6L478.7 1001.8L477.3 1002L476.6 998.9L475.1 999.6L473.8 999.4L472.4 999.4L471.3 998L469 1002.3L468.4 998.7L467 999L465.6 999L464.6 997.3L463.1 997.8L461.7 998.1L460.4 997.7L459.4 995.6L457.8 996.9L456.3 997.6L455.1 996.9L453.8 996.6L451.9 1000.5L450.9 998.1L449.9 995.5L448.3 996.9L446.9 997.5L445.9 994.4L444.7 992.8L443.1 995.1L441.9 994.5L440.3 996.8L439.2 993.7L437.8 994.9L436.3 996.2L435.1 994.5L433.7 996.5L432.4 995.1L431.1 995L429.7 994.3L428.5 991.9L427.1 993.3L425.7 994.2L424.4 993.9L423 993.7L421.7 995.1L420.4 992.3L419 993.9L417.7 994.5Z" fill="#E41A1C" stroke="#E41A1C" stroke-width="0.8" stroke-linejoin="round"/>
<path d="M422.2 989L420.5 975.9" fill="none" stroke="#E41A1C" stroke-width="2.4"/>
<path d="M417.9 1040.4L419.2 1039.6L420.5 1040.1L421.8 1039.5L423 1039.2L424.4 1037.4L425.7 1037.9L426.9 1040.3L428.2 1038.8L429.5 1039.7L430.8 1039.4L432.1 1038.6L433.2 1041.1L434.5 1041.8L435.8 1041.2L437.1 1040.5L438.5 1039.4L439.8 1039.9L440.8 1042.5L442.2 1041.8L443.7 1039.8L444.9 1040.8L446 1042.4L447.3 1042L448.9 1039.9L449.9 1042.2L451.2 1042.3L452.5 1041.9L454 1041.1L455 1042.8L456.4 1042.5L457.6 1043L458.9 1042.8L460.2 1043L461.1 1045.1L462.7 1043.8L463.5 1046.2L465.3 1043.6L466.5 1044.1L467.8 1044.3L469 1045.1L470.5 1044.4L471.5 1045.7L472.7 1046.2L474 1046.2L475 1047.6L476.4 1047.2L477.1 1049.4L478.6 1048.9L480.2 1048.1L481.2 1049.1L483 1047.7L483.4 1050.7L485.2 1049.4L486.5 1049.6L487.5 1050.5L488.8 1050.6L490.3 1050.3L491.7 1050.2L492.7 1051.4L493.9 1051.9L494.5 1053.9L496.5 1052.4L496.7 1055.4L498.8 1053.4L499.6 1054.9L501.2 1054.4L502.4 1055L503.6 1055.5L505.1 1055.3L505.9 1056.8L506.7 1058.1L507.9 1058.6L509.6 1057.9L510.3 1059.6L511.6 1059.9L512.3 1061.2L514.4 1060L514.9 1061.8L516.8 1060.9L517.4 1062.6L519.1 1062.1L520.2 1062.8L521.2 1063.7L522.3 1064.5L523.2 1065.6L523.6 1067.4L525.5 1066.7L526.7 1067.3L528 1067.6L528.6 1069.1L529.6 1069.9L531 1070.1L532.7 1069.8L533.6 1070.8L533.7 1073.1L536.2 1071.7L537.7 1071.7L537.9 1073.8L538.6 1075L541 1073.8L540.8 1076.4L543.2 1075.3L543.6 1076.9L544.6 1077.8L546.1 1078L547.1 1078.8L546.6 1081.6L547.9 1082.1L548.5 1083.4L550.1 1083.5L550.6 1084.9L551.4 1085.9L553 1086L553.9 1086.9L555.2 1087.5L556.2 1088.3L556.1 1090.3L556.9 1091.4L559 1090.9L558.8 1093.2L561.2 1092.5L561.8 1093.6L562.9 1094.4L563 1096.2L564.4 1096.6L564.2 1098.7L564.8 1099.9L566 1100.5L566.8 1101.5L567.7 1102.4L568.3 1103.6L569.5 1104.2L570.4 1105.1L572 1105.4L572.5 1106.7L573.1 1107.9L575.1 1107.8L575 1109.6L577.5 1109.1L578.1 1110.3L579.1 1111.1L579.4 1112.6L580 1113.7L580.7 1114.8L580.8 1116.5L582.6 1116.6L583.8 1117.3L584.5 1118.4L587.3 1117.9L585.7 1120.7L587 1121.4L586.9 1123.1L588 1123.9L589.5 1124.3L590.2 1125.5L590.2 1127.1L591.9 1127.4L592.2 1128.8L586.6 1132.7L585.1 1132.2L584.7 1131L585.1 1129.2L583.7 1128.6L582.8 1127.8L581.9 1126.8L580.8 1126.1L581 1124.4L579.1 1124.3L578.8 1122.9L578.3 1121.8L577.8 1120.5L577.1 1119.5L574.4 1120.1L573.8 1119.1L573 1118.1L572.8 1116.6L573.7 1114.2L570.7 1115.1L570.5 1113.7L570.8 1111.7L568.9 1111.8L567.5 1111.4L567.8 1109.4L565.2 1110.1L564.5 1109.1L564.2 1107.6L561.6 1108.5L562.1 1106.2L561.2 1105.3L561 1103.8L559.3 1103.8L559.9 1101.3L558.7 1100.7L558.9 1098.7L557.2 1098.7L555.9 1098.2L555 1097.5L555.2 1095.3L553.8 1095L552 1095.2L551.4 1093.9L550.2 1093.5L549.9 1091.8L548.5 1091.6L547 1091.4L546 1090.7L544.6 1090.5L544.1 1089L544 1087.2L543.2 1086.1L542.2 1085.4L542.2 1083.3L539.2 1085.2L539.9 1082.1L538.4 1082.1L537.3 1081.4L536.5 1080.4L535.3 1079.9L533.8 1079.9L533.6 1077.9L532 1078L530.2 1078.5L528.8 1078.4L527.7 1077.7L527.8 1075.3L526.6 1074.8L524.9 1075.3L524.2 1073.9L523.1 1073.3L522.1 1072.5L520 1073.7L520.5 1070.2L518.8 1070.8L517.9 1069.9L517.4 1068L516 1068.1L514.3 1068.5L512 1070.2L512.2 1067.2L510.8 1067.2L509.7 1066.5L508.2 1066.7L508 1064.4L506.3 1065.1L505.2 1064.3L504.4 1063.2L503.4 1062.2L502.4 1061.4L500.7 1062.3L499.6 1061.6L498.6 1060.7L497.2 1060.8L496.4 1059.5L493.6 1063L493.4 1060.1L492.1 1060.3L491.2 1059L490.4 1057.5L488.5 1059.2L488.1 1056.7L486.3 1057.8L485.5 1056.3L484.4 1055.8L482.5 1057.5L481.5 1056.7L480.3 1056.2L478.8 1056.9L477.5 1057L477 1054.4L475.6 1054.7L474.6 1053.6L473.4 1053.3L472.5 1051.9L471.3 1051.4L469.8 1052.2L469 1050.3L467.4 1051.7L466 1052L465.2 1049.8L463.8 1050.4L462.1 1052.4L461.1 1051.1L459.8 1051.5L458.9 1049.2L457.7 1049.3L456.4 1049.4L455 1049.9L454 1048.5L452.9 1047.4L451.3 1049.4L450.1 1049.2L448.7 1050L447.9 1047.2L446.5 1048.3L445.3 1047.4L444 1048.2L442.7 1048.7L441.4 1048.4L440.2 1048.6L439.2 1046.3L437.9 1046.4L436.6 1046.3L435.3 1047L434.1 1046.6L432.8 1048L431.7 1044.6L430.4 1045.3L429.1 1046.9L427.9 1045.2L426.6 1047.6L425.5 1044.4L424.2 1044.8L422.9 1046.1L421.7 1046.1L420.4 1048.7L419.2 1048.6L417.9 1046.3Z" fill="#E41A1C" stroke="#E41A1C" stroke-width="0.8" stroke-linejoin="round"/>
<path d="M509.7 1063.2L513.8 1055.7" fill="none" stroke="#E41A1C" stroke-width="2.4"/>
<path d="M654.6 1093.3L667.5 1084.7L669.3 1087.4L668.9 1087.6L670.6 1090.3L671.8 1089.5L673.5 1092.2L674.2 1091.7L675.9 1094.4L673.1 1096.1L674.7 1098.8L674.9 1098.7L676.5 1101.4L678.5 1100.3L680 1103L686.4 1099.5L688 1102.3L677.9 1107.8L679.4 1110.6L681.3 1109.6L682.8 1112.3L681.1 1113.2L682.6 1116L685.5 1114.5L686.9 1117.3L687.5 1117.1L688.9 1119.9L686.3 1121.1L687.6 1124L688.7 1123.5L690 1126.4L691 1125.9L692.3 1128.8L698.1 1126.2L699.4 1129.2L702.1 1128L703.4 1131L704 1130.8L705.3 1133.8L696.7 1137.3L697.9 1140.2L699.9 1139.4L701 1142.4L699.9 1142.8L701 1145.8L700.9 1145.8L702 1148.8L699.3 1149.8L700.3 1152.8L702.8 1151.9L703.9 1154.9L704.5 1154.7L705.5 1157.7L705 1157.9L705.9 1160.9L704 1161.6L704.9 1164.6L703.6 1165L704.4 1168L716.5 1164.5L717.4 1167.7L710 1169.7L710.9 1172.8L710 1173L710.8 1176.1L709 1176.6L709.8 1179.6L715.3 1178.3L716 1181.4L711.8 1182.4L712.5 1185.5L713.7 1185.3L714.4 1188.4L712.8 1188.7L713.4 1191.8L711.4 1192.2L712 1195.3L712.2 1195.3L712.8 1198.4L711.1 1198.7L711.7 1201.8L717.1 1200.9L717.6 1204.1L712.4 1204.9L712.8 1208L716.6 1207.4L717.1 1210.6L714.5 1210.9L714.9 1214L717.5 1213.7L717.9 1216.9L712.5 1217.5L712.8 1220.6L716.5 1220.2L716.8 1223.4L713.8 1223.7L714 1226.8L714.2 1226.8L714.5 1229.9L714.9 1229.9L715.1 1233L714.1 1233L714.3 1236.2L723.7 1235.7L723.8 1239L716.7 1239.2L716.8 1242.4L720.6 1242.3L720.6 1245.5L716.7 1245.5L716.7 1248.7L714.7 1248.7L714.7 1251.8L718.9 1251.8L718.9 1255L720.4 1255L720.3 1258.2L712.8 1258L712.7 1261.1L718.6 1261.4L718.5 1264.5L714.9 1264.4L714.7 1267.5L713.9 1267.4L713.7 1270.6L724 1271.3L723.8 1274.5L720.1 1274.2L719.8 1277.4L720.7 1277.5L720.4 1280.7L717 1280.3L716.7 1283.5L724.8 1284.4L724.4 1287.6L716.7 1286.7L716.3 1289.8L717.1 1289.9L716.7 1293.1L717.3 1293.2L716.8 1296.3L717.7 1296.5L717.2 1299.6L715.4 1299.3L714.9 1302.5L715.2 1302.5L714.6 1305.7L719.6 1306.6L718.9 1309.8L711.5 1308.3L710.8 1311.4L713.1 1311.9L712.4 1315L714.4 1315.4L713.7 1318.5L712.3 1318.2L711.6 1321.3L694 1317A283 283 0 0 0 654.6 1093.3Z" fill="#AA3B50"/>
<path d="M639 1103.7L640.3 1104.5L640.2 1106.2L642 1106.7L642 1108.4L642.9 1109.4L644.5 1110.1L645 1111.3L645.9 1112.4L645.2 1114.5L647.1 1115L646.7 1116.8L648.6 1117.3L649.3 1118.5L650.5 1119.4L650.4 1121.1L652 1121.7L652 1123.3L656.4 1122.6L652 1126.5L653.9 1127L654.6 1128.2L655.2 1129.5L655.8 1130.7L656.8 1131.8L658.1 1132.7L656 1135.3L657.1 1136.3L660.6 1136.1L658.3 1138.7L659.1 1139.9L660.4 1140.8L661.1 1142L662.5 1142.9L663.2 1144.1L664.9 1144.9L665.3 1146.3L665.6 1147.7L665.6 1149.2L665 1150.9L665.5 1152.2L667.4 1152.9L666.5 1154.8L668 1155.7L666.2 1157.9L671.1 1157.5L668.9 1159.8L670.1 1160.9L670.2 1162.3L672 1163.2L672.5 1164.5L672.1 1166.1L671.6 1167.7L673.4 1168.6L674.4 1169.7L673 1171.6L674.7 1172.6L672.9 1174.6L674.3 1175.6L674.8 1176.9L675.4 1178.2L677 1179.2L676.8 1180.7L675.4 1182.5L677.4 1183.4L676.3 1185.1L678.7 1186L681.4 1186.7L677.8 1189L679.9 1190L678.1 1191.8L678.7 1193.1L679.9 1194.3L681.4 1195.4L681.8 1196.8L679.8 1198.6L681 1199.8L681.8 1201L681.9 1202.4L683.3 1203.6L681.9 1205.3L680.9 1206.8L680.7 1208.3L680 1209.8L684.3 1210.5L683.7 1212L682.9 1213.6L682.4 1215L681.2 1216.6L684.1 1217.6L683.9 1219.1L683.8 1220.5L685.3 1221.7L683.9 1223.3L684 1224.6L683.4 1226.1L683.9 1227.4L684 1228.8L683.9 1230.2L683 1231.7L684 1233L684.7 1234.4L683.2 1235.8L684.3 1237.2L685.7 1238.5L685.5 1239.9L684.9 1241.3L684.2 1242.7L683.5 1244.1L685.8 1245.5L684.6 1246.9L684.6 1248.3L685.8 1249.7L685 1251L684.2 1252.4L684.1 1253.8L684.5 1255.2L685.8 1256.6L683.1 1257.9L685.2 1259.4L686.1 1260.8L684.4 1262.1L683.5 1263.5L684 1264.9L685.8 1266.4L683.8 1267.7L683.9 1269.1L682.1 1270.3L686 1272L682.7 1273.1L683.1 1274.6L681.9 1275.9L682.9 1277.3L685.7 1279L681.5 1280L683.2 1281.6L683.3 1283L681.9 1284.2L682.2 1285.6L684.3 1287.3L682.6 1288.5L681.1 1289.7L682.7 1291.3L683.7 1292.9L679.8 1293.7L679.7 1295.1L682.9 1297L679.6 1297.9L679.4 1299.2L679.5 1300.7L680.3 1302.2L679.1 1303.4L681.6 1305.4L680 1306.4L678.6 1307.6L677.9 1308.8L678.8 1310.5L678.5 1311.8L677.9 1313.1L670.1 1311.2L670.3 1309.9L667.6 1307.9L668.3 1306.7L669.6 1305.6L670.7 1304.5L671.3 1303.2L671.4 1301.8L671.7 1300.5L670.2 1298.9L672.3 1297.9L671.5 1296.4L673.7 1295.4L672.3 1293.8L672.4 1292.5L674.3 1291.4L674.3 1290L673 1288.5L673.6 1287.2L671.9 1285.6L671.1 1284.1L672.9 1283L673.2 1281.7L675.1 1280.6L671.8 1278.9L673.1 1277.7L675.2 1276.5L675 1275.2L674.6 1273.8L672.8 1272.3L675.7 1271.2L673.9 1269.7L673.4 1268.3L674.1 1267L673.2 1265.6L677 1264.5L676.6 1263.1L674.4 1261.7L676.7 1260.5L675 1259L675.7 1257.7L676.1 1256.4L675.6 1255L676.1 1253.7L675.1 1252.4L676.7 1251L676.5 1249.7L675.6 1248.3L675.4 1247L676 1245.6L673.4 1244.4L675 1243L675.4 1241.6L676.6 1240.2L677.4 1238.9L675.4 1237.6L675.8 1236.2L677.8 1234.8L675 1233.6L675.5 1232.2L673.5 1231L676.4 1229.4L674.4 1228.3L674.9 1226.9L675.5 1225.5L673.4 1224.3L676.8 1222.6L675.9 1221.4L673.4 1220.3L672.8 1219L674 1217.5L674.8 1216L674.1 1214.8L674.5 1213.4L673.2 1212.2L671.2 1211.1L673.5 1209.4L673.6 1208L674.6 1206.5L674.9 1205.1L673.1 1204L671.2 1203L673.8 1201.1L671.1 1200.3L673.7 1198.4L671.7 1197.4L671.9 1196L668.8 1195.3L668.9 1193.9L669.8 1192.3L671 1190.7L671 1189.3L670.3 1188L667.6 1187.3L669 1185.6L668.6 1184.3L667.7 1183.1L668.3 1181.6L665.7 1180.9L667.3 1179.1L665.5 1178.2L665 1176.9L665.1 1175.5L663.8 1174.5L666.3 1172.3L662.3 1172.1L662.8 1170.6L663.2 1169L663.3 1167.6L664.6 1165.7L661.2 1165.5L662.2 1163.7L661.6 1162.5L661.7 1161L657.6 1161.1L660.1 1158.7L656.3 1158.7L658.3 1156.5L658 1155.2L657.9 1153.8L657.8 1152.4L656.6 1151.4L655.9 1150.2L655 1149.2L654.2 1148.1L653.5 1146.9L654 1145.2L652 1144.6L652.1 1143.1L650.3 1142.5L651.7 1140.3L650.4 1139.4L648.1 1139.1L646.5 1138.4L648.7 1135.8L648 1134.7L646.6 1133.9L643.1 1134.2L646.9 1130.7L644.3 1130.6L644.7 1128.8L643.7 1127.8L643.9 1126.2L642.7 1125.4L641.1 1124.7L642.6 1122.3L641.4 1121.5L639.8 1120.8L640.5 1118.9L638 1118.8L638.4 1117L637.5 1116L637.7 1114.3L635.7 1114L636.2 1112L633.1 1112.5L632.8 1111.1L632.9 1109.3L633.2 1107.6Z" fill="#AA3B50" stroke="#AA3B50" stroke-width="0.8" stroke-linejoin="round"/>
<path d="M652.9 1134L641 1138M675.4 1200.5L690.1 1199.7" fill="none" stroke="#AA3B50" stroke-width="2.4"/>
<path d="M593.8 1133.8L594.8 1134.7L596.8 1134.9L596.8 1136.4L599.5 1136.3L598.9 1138.2L600.2 1138.9L600.2 1140.4L600.7 1141.6L601.7 1142.6L602.7 1143.5L605.7 1143.3L603.1 1146.2L604.8 1146.8L606.2 1147.5L606.2 1149L607.3 1149.9L608.4 1150.7L608.3 1152.3L609.4 1153.2L609.8 1154.4L610.8 1155.4L612.1 1156.2L610.6 1158.4L612.6 1158.9L612.2 1160.5L612.6 1161.8L612 1163.5L615.6 1163.3L614.7 1165.1L615 1166.4L614.6 1168L614.7 1169.3L616.7 1170L617.1 1171.2L617.5 1172.4L620.6 1172.6L619.7 1174.4L617.2 1176.7L616.8 1178.2L619.8 1178.5L622.1 1179.1L618.7 1181.7L619 1182.9L620.7 1183.7L624 1184L620.8 1186.4L623.5 1186.9L622.5 1188.6L622.5 1190L623.4 1191.1L623.6 1192.4L623.1 1193.9L622.6 1195.3L626.7 1195.6L623.8 1197.7L624.4 1198.9L623.9 1200.3L629.5 1200.3L627.4 1202.2L626 1203.8L627.1 1204.9L626.3 1206.4L627 1207.6L626 1209.1L626.8 1210.3L626.4 1211.7L627.6 1212.7L626.5 1214.2L628.9 1215.2L629.2 1216.4L629.8 1217.7L627.9 1219.3L626.8 1220.7L629.4 1221.7L631.2 1222.7L629 1224.3L628.7 1225.7L630.2 1226.8L629.4 1228.2L629.9 1229.4L631.3 1230.6L628 1232.2L628 1233.5L629.9 1234.6L631.1 1235.9L629 1237.3L631.7 1238.4L629.1 1239.9L629.8 1241.1L630.3 1242.4L629.7 1243.7L629.5 1245L630.5 1246.3L630.5 1247.6L629.6 1248.9L631.8 1250.1L629.6 1251.4L628.4 1252.7L628.2 1254L627.5 1255.3L628.5 1256.6L628.1 1257.8L629.1 1259.2L628.6 1260.4L627.6 1261.6L627.4 1262.9L626.9 1264.2L628 1265.5L627.4 1266.8L627.4 1268L626.7 1269.3L629 1270.8L626.9 1271.9L627.3 1273.2L626.9 1274.4L627.6 1275.8L628.3 1277.2L625.9 1278.2L627 1279.6L627.7 1281L626.8 1282.2L626.2 1283.4L626.2 1284.7L627.5 1286.2L626.3 1287.3L624.9 1288.4L626.3 1289.9L624.5 1290.9L625.5 1292.4L626.6 1294L626.3 1295.2L624.1 1296.1L624.1 1297.4L623 1298.4L624.6 1300.2L618 1298.6L615.3 1296.6L617.4 1295.8L618.5 1294.8L618.8 1293.6L618.2 1292.2L619.2 1291.1L617.6 1289.5L620.8 1288.9L618.4 1287.2L619.4 1286.1L620.9 1285.1L620.2 1283.7L619.8 1282.4L621.1 1281.3L621.8 1280.1L620.4 1278.7L620 1277.4L620.6 1276.2L619.6 1274.8L621.1 1273.8L620.6 1272.4L620.9 1271.2L619.8 1269.9L621.6 1268.8L619.7 1267.4L620.6 1266.2L621.3 1265L619.3 1263.6L622.1 1262.6L622.3 1261.4L622.7 1260.1L622.4 1258.9L621 1257.6L621.4 1256.3L621.9 1255.1L623.1 1253.9L622.6 1252.6L623.6 1251.4L623.3 1250.1L620.6 1248.9L623 1247.7L622.6 1246.4L622.9 1245.2L623.9 1243.9L624.1 1242.6L622.2 1241.4L624 1240.1L625.5 1238.8L622.6 1237.7L623.3 1236.4L624.2 1235.1L622.7 1233.9L621.5 1232.8L624 1231.3L623.2 1230.1L624.1 1228.7L623.7 1227.5L623.4 1226.3L620.2 1225.4L620.9 1224.1L623.7 1222.4L621.1 1221.5L620.9 1220.3L621.2 1219L622.3 1217.5L619.1 1216.8L620.9 1215.2L621.5 1213.8L620 1212.8L618.8 1211.8L616.8 1210.9L619.5 1209.1L619.5 1207.8L621.3 1206.2L620.1 1205.1L619.1 1204.1L619.9 1202.6L619.1 1201.5L618.7 1200.3L617.8 1199.2L618.9 1197.6L616.9 1196.9L616 1195.8L616.5 1194.4L617.7 1192.7L617.2 1191.5L617 1190.3L615.9 1189.3L614.8 1188.3L615.7 1186.7L615.9 1185.3L614.2 1184.5L613.1 1183.6L615.6 1181.4L614.5 1180.4L611.5 1180.2L611.4 1178.9L612.8 1177L612.6 1175.7L612 1174.6L611.5 1173.4L611.6 1172L609.7 1171.4L608.7 1170.5L607.3 1169.7L608.1 1168L608.7 1166.3L606.7 1165.9L607.1 1164.3L605 1163.8L606.2 1161.9L602.5 1162.3L605.4 1159.5L604.5 1158.5L603 1157.8L601.8 1157.1L602.5 1155.3L600.9 1154.7L599.1 1154.2L599.8 1152.4L600.5 1150.6L598.5 1150.3L598.4 1148.9L598.1 1147.6L596.5 1147.1L596.5 1145.6L595.3 1144.8L594.7 1143.8L594.2 1142.6L594.7 1140.8L592.3 1140.8L591.9 1139.6L592.7 1137.6L589.4 1138.2L589.2 1136.8Z" fill="#AA3B50" stroke="#AA3B50" stroke-width="0.8" stroke-linejoin="round"/>
<path d="M621.4 1203.2L636.5 1201.1" fill="none" stroke="#AA3B50" stroke-width="2.4"/>
<path d="M692.4 1323.1L710.3 1327.8L709.5 1330.9L714.6 1332.3L713.7 1335.4L707.9 1333.7L707 1336.8L703.4 1335.7L702.4 1338.7L704 1339.1L703 1342.1L702.7 1342L701.7 1345L708.9 1347.4L707.9 1350.5L702.2 1348.5L701.2 1351.5L699.6 1350.9L698.5 1353.8L698.7 1353.9L697.6 1356.9L700.5 1358L699.3 1360.9L693.9 1358.8L692.7 1361.7L694.5 1362.4L693.3 1365.3L698.3 1367.4L697.1 1370.3L693.6 1368.8L692.4 1371.7L690.5 1370.9L689.3 1373.8L692.1 1375.1L690.8 1377.9L698.3 1381.5L696.9 1384.4L687.1 1379.6L685.7 1382.5L693.7 1386.4L692.2 1389.3L685.4 1385.8L684 1388.6L686.5 1389.9L685 1392.7L684.4 1392.4L682.8 1395.2L687.9 1398L686.3 1400.8L682.6 1398.7L681 1401.4L678.7 1400.1L677.1 1402.8L681.5 1405.4L679.9 1408.2L678.5 1407.4L676.8 1410.1L674.2 1408.5L672.6 1411.2L673.5 1411.8L671.8 1414.4L673.4 1415.5L671.6 1418.1L670.6 1417.4L668.8 1420.1L666.2 1418.3L664.4 1420.9L665.3 1421.5L663.5 1424.1L663.5 1424.1L661.7 1426.7L662 1426.9L660.2 1429.5L657.7 1427.7L655.9 1430.2L666.1 1438L664.2 1440.6L662.1 1439L660.1 1441.5L655 1437.5L653 1440L653 1440L651 1442.4L650.4 1442L648.4 1444.4L649.5 1445.4L647.5 1447.8L645.7 1446.2L643.6 1448.6L644 1449L641.9 1451.3L643.2 1452.4L641 1454.8L636.9 1450.9L634.7 1453.2L637.1 1455.4L634.9 1457.7L638.1 1460.8L635.9 1463.1L634.6 1461.9L632.4 1464.1L631.4 1463.1L629.1 1465.3L629.2 1465.5L627 1467.7L623.1 1463.6L620.8 1465.7L625.2 1470.4L622.8 1472.5L621.4 1471L619.1 1473.1L621.2 1475.5L618.8 1477.6L617.7 1476.3L615.3 1478.4L615.8 1479L613.4 1481L616.7 1484.9L614.2 1487L608.4 1480L606 1481.9L610.7 1487.8L608.2 1489.8L605.6 1486.5L603.1 1488.4L603 1488.4L600.5 1490.3L607.5 1499.5L604.8 1501.5L599.6 1494.4L597 1496.2L602 1503.2L599.4 1505.1L599.8 1505.7L597.1 1507.6L591.9 1500.1L589.3 1501.9L588.7 1501.2L586.1 1502.9L585.8 1502.4L583.1 1504.2L581.2 1501.2L578.5 1502.9L580.6 1506.2L577.9 1507.8L577.7 1507.6L575 1509.3L574.4 1508.3L571.7 1509.9L577.5 1519.8L574.7 1521.5L572.4 1517.4L569.6 1519L568.2 1516.5L565.3 1518.1L563.1 1514L560.3 1515.5L560.3 1515.5L557.5 1517L562.1 1525.7L559.2 1527.2L554.7 1518.4L551.9 1519.8L552.8 1521.6L549.9 1523L551.6 1526.6L548.7 1528L546.3 1522.8L543.4 1524.1L543.2 1523.6L540.3 1524.9L540.4 1525.1L537.5 1526.4L540.9 1534.4L537.9 1535.6L535.3 1529.5L532.4 1530.7L532.4 1530.6L529.4 1531.8L528.9 1530.5L525.9 1531.6L525.8 1531.3L522.8 1532.4L524.5 1536.9L521.5 1537.9L521.3 1537.4L518.2 1538.4L516.5 1533.3L513.5 1534.4L513.4 1534.1L510.4 1535.1L512.3 1540.9L509.2 1541.9L507.5 1536.4L504.5 1537.3L505.3 1539.9L502.2 1540.8L504.4 1548.5L501.3 1549.4L498.6 1539.4L495.5 1540.3L495 1538.4L492 1539.2L492.9 1542.7L489.8 1543.5L490 1544.5L486.9 1545.3L485.6 1539.4L482.6 1540.1L483.4 1543.8L480.3 1544.5L479.8 1542.1L476.7 1542.7L476.7 1542.8L473.6 1543.4L473.7 1543.7L470.6 1544.2L471.4 1549L468.3 1549.6L468 1547.6L464.8 1548.1L464.5 1546.2L461.4 1546.7L462.5 1554L459.3 1554.5L458.6 1549.6L455.5 1550L455 1546.5L451.9 1546.8L452.4 1551.2L449.2 1551.5L448.9 1548.2L445.8 1548.5L445.8 1549.1L442.7 1549.4L443.1 1554.3L439.9 1554.6L439.2 1544.7L436.1 1544.9L436.6 1553.9L433.4 1554.1L433.4 1554.3L430.2 1554.4L430.1 1551.7L426.9 1551.8L427 1554.8L423.8 1554.9L423.8 1553L420.6 1553L420.6 1551.6L417.4 1551.6L417.5 1533.1A283 283 0 0 0 692.4 1323.1Z" fill="#6B5E88"/>
<path d="M677.1 1319L677.1 1320.4L675.3 1321.4L674.6 1322.6L679.6 1325.5L675 1325.7L672.8 1326.5L672.5 1327.8L673.1 1329.5L673.7 1331.1L671.8 1332L671.2 1333.2L671.5 1334.8L671 1336.1L670.7 1337.5L672.9 1339.7L670.8 1340.5L669.8 1341.6L668 1342.4L666.6 1343.4L668.7 1345.7L667.7 1346.8L667.7 1348.3L665.6 1349L665.7 1350.5L668.1 1353L663.1 1352.5L663.5 1354.1L661.9 1355L662.9 1356.9L663.8 1358.8L661.5 1359.3L659.3 1359.9L663.2 1363.2L658.1 1362.4L658.7 1364.2L658.4 1365.5L657 1366.4L657.6 1368.3L655.3 1368.7L654.5 1369.8L653.4 1370.8L654.8 1373.1L654.7 1374.6L653.3 1375.5L653.3 1377L651.9 1377.9L651.1 1379L650.5 1380.3L652.2 1382.8L648.9 1382.6L648.5 1384L646.9 1384.6L645.8 1385.6L646.6 1387.7L644.5 1388.1L647.3 1391.4L642.8 1390.2L643.2 1392.1L641.4 1392.6L641.5 1394.3L641.5 1396L640.9 1397.3L641.1 1399.1L638.3 1398.9L636.8 1399.5L637.3 1401.6L636.1 1402.4L635.8 1403.9L635.4 1405.3L634.3 1406.3L632.4 1406.6L632 1408L629.9 1408.2L630.7 1410.5L628.8 1410.8L627.9 1411.9L626.6 1412.7L627.8 1415.4L625.9 1415.6L625.8 1417.3L624.2 1417.9L623.4 1418.9L621.7 1419.4L620.3 1420L623 1424.1L619.5 1422.9L617.8 1423.3L618.5 1425.7L617.5 1426.7L619.8 1430.7L615.7 1428.9L614 1429.1L612.2 1429.4L613.2 1432.3L611.1 1432.1L610.2 1433.2L609.5 1434.5L608.6 1435.5L605.6 1434.5L606.8 1437.6L608.1 1441L605.1 1439.9L603.1 1439.9L602.8 1441.5L601.9 1442.6L601.1 1443.8L601.6 1446.4L599.1 1445.8L598 1446.5L598.2 1448.9L595.9 1448.5L594 1448.4L593 1449.4L591.9 1450.2L591.1 1451.4L591.1 1453.6L588.6 1452.8L588.8 1455.2L587.1 1455.3L585.9 1456L585.8 1458.1L584.7 1458.9L582.1 1457.9L583.5 1461.9L581.6 1461.8L579.2 1460.9L578.7 1462.6L577.9 1463.8L577.4 1465.5L577.3 1467.8L573.7 1465.2L573.9 1467.9L571.8 1467.2L570.8 1468.3L569.7 1469.2L568.3 1469.5L567.3 1470.6L568.2 1474.5L566.4 1474.3L562.7 1471.2L563.8 1475.4L562.3 1475.7L560.4 1475.4L558.6 1475.1L558.3 1477.3L556.6 1477L556.2 1479.1L555 1479.8L552.2 1477.8L552.5 1481.1L549.9 1479.4L549.1 1480.7L548.9 1483.3L547.1 1482.9L546.3 1484.4L544.5 1483.9L543.7 1485.4L542.5 1486.1L541.6 1487.4L539.6 1486.7L538.3 1487.1L537.3 1488.3L536.2 1489.2L535.7 1491.3L532.9 1488.6L533.8 1493.8L530.7 1490.5L529.6 1491.4L529.5 1494.6L526.6 1491.7L525.4 1492.4L523.8 1492L522.7 1493L521.9 1494.8L520.6 1495.1L519.3 1495.6L518 1496.2L517.2 1497.8L515.3 1496.9L514.6 1498.8L511.9 1495.9L511.6 1498.9L509.9 1498.3L508.4 1498.3L508.1 1501.6L506.2 1500.2L504.6 1499.9L503.4 1500.8L502.8 1503.2L502.1 1505.7L499.4 1501.8L498.3 1502.8L497.7 1505.8L495.8 1504.3L493.9 1502.8L493.3 1505.6L491.7 1505.3L489.9 1503.7L489.1 1506.2L487.3 1504.9L486.6 1507.5L484.9 1506.5L484.1 1509.2L482.6 1509L481.5 1510.1L480.2 1511L478 1507.4L477 1509.4L475.5 1509.3L474.3 1509.9L473.6 1513.5L471.6 1510.8L470.5 1512.4L468.6 1509.8L467.3 1510.4L466 1511.1L464.8 1512.1L463.3 1511.6L461.6 1510.2L460.6 1512.3L459.1 1512.2L457.9 1513.2L456.2 1511.6L454.9 1512.3L453.5 1511.9L452.4 1514.1L450.8 1512.9L449.6 1514.3L448.2 1514.3L446.7 1513.9L445.4 1513.9L443.9 1513.6L442.5 1513.7L441.2 1514L439.8 1513.7L438.5 1515.8L437.1 1514.7L435.8 1517.6L434.4 1517.5L432.8 1513.6L431.7 1518.2L430.2 1517L428.8 1516.7L427.4 1516.1L425.9 1514.4L424.7 1519.7L423.2 1518.4L421.8 1515.3L420.4 1516.3L419 1515.5L417.6 1516.9L417.6 1508.2L419 1504.9L420.3 1505.4L421.7 1507.8L423.1 1507.8L424.4 1507.4L425.7 1504.8L427.1 1507.9L428.5 1507.6L429.8 1507L431.2 1508.5L432.4 1506L433.8 1506.6L435.3 1508.8L436.5 1507L437.8 1506.1L439.2 1505.9L440.3 1503.8L441.7 1504.3L443.1 1505.4L444.6 1506.1L445.9 1506.3L447.1 1504.1L448.6 1505.9L450 1505.9L451.2 1504.7L452.5 1504.2L453.9 1504.7L455.2 1504.2L456.5 1503.7L457.8 1503.3L459.1 1503.1L460.4 1502.4L461.7 1502.6L463.5 1504.9L464.2 1500.9L465.7 1502.1L467.2 1502.8L468.3 1501.2L469.8 1502L471.3 1502.6L472.2 1500.1L473.7 1500.9L474.8 1499.5L476.4 1500.4L478 1501.4L478.9 1499.5L480 1498.1L481.2 1497.4L482.6 1497.5L484 1497.8L484.2 1493.2L487 1498.5L487.9 1496.5L489.3 1496.6L490.9 1497.5L491.5 1494.6L493.2 1495.6L495.1 1497.2L495.5 1494L497 1494.5L497.9 1492.8L499.4 1492.9L500.4 1491.7L501.9 1492L503.6 1492.7L503.8 1489.4L505.8 1491L507.5 1491.8L508.9 1491.5L509.1 1488.3L510.6 1488.4L511.5 1487.3L513.8 1489.4L515 1488.7L516.4 1488.5L517.2 1486.9L518.7 1487.1L519.4 1485.4L519.9 1483.1L522.6 1485.9L522.7 1482.9L525 1484.7L526.6 1484.8L526.7 1481.9L529.3 1484.3L529.8 1482.3L530.3 1480.1L532.3 1481.1L533.6 1480.7L535 1480.5L536 1479.5L536.2 1477.1L538 1477.4L539.6 1477.6L540.9 1477.3L542.3 1477L543 1475.4L543.3 1473.3L545 1473.4L546.5 1473.4L547.5 1472.5L547.6 1470L550.6 1472.4L552.3 1472.5L551.3 1468.3L553.1 1468.8L553.5 1466.8L555.2 1467L557.7 1468.5L559.1 1468.1L557.6 1463.4L561.5 1466.8L562.6 1466.1L563 1464.1L564.2 1463.5L564.9 1462.2L565.9 1461.2L567.6 1461.4L568.5 1460.3L568.5 1457.9L570.3 1458.2L571.6 1457.6L573.5 1458L572.8 1454.7L574.9 1455.2L575.9 1454.4L577.8 1454.6L576.7 1451L579.5 1452.4L580.3 1451.2L579.9 1448.6L582 1449L582.9 1448L583.7 1446.9L584.9 1446.2L585.1 1444.4L586.1 1443.5L587 1442.5L588.9 1442.6L590.2 1442.1L590.4 1440.2L592.5 1440.6L594.4 1440.7L593.8 1438L595.4 1437.8L596.3 1436.7L597.1 1435.6L597.8 1434.4L597.8 1432.5L599.6 1432.4L600.2 1431L599.9 1428.9L601.5 1428.6L603.5 1428.7L604.3 1427.6L604 1425.4L607.6 1427L606.1 1423.8L608.3 1423.9L609.7 1423.4L610.7 1422.5L611.5 1421.4L611.8 1419.9L611.6 1417.9L614.1 1418.3L615.1 1417.4L613.7 1414.4L616.2 1414.7L615.8 1412.7L616.9 1411.9L618.5 1411.5L619.5 1410.5L620.9 1409.9L621.2 1408.4L622.1 1407.4L622.5 1406L623.3 1405L622.5 1402.7L624.5 1402.5L625.5 1401.5L626.1 1400.4L628 1400.1L627.7 1398.2L630.1 1398.2L628.6 1395.6L630.6 1395.3L629.8 1393.1L630.7 1392.1L634.4 1392.9L634.1 1391.2L633.9 1389.5L635.3 1388.7L636.4 1387.8L635.9 1386L637.4 1385.3L637.4 1383.7L638.8 1383L637.3 1380.5L640.8 1381L641.3 1379.8L638.9 1376.8L639.5 1375.6L642 1375.5L644.3 1375.2L644.3 1373.7L645.7 1372.9L645 1371L645.2 1369.6L646.4 1368.7L647.2 1367.6L644.6 1364.8L648.8 1365.4L650.4 1364.7L648.5 1362.3L650.7 1361.8L651.9 1360.9L651.5 1359.3L651.6 1357.8L651.9 1356.5L652.5 1355.3L655.4 1355.1L654.5 1353.2L654.8 1351.9L656.5 1351.2L656.2 1349.5L656.6 1348.3L657.7 1347.3L657.3 1345.6L658.2 1344.5L659.6 1343.7L660 1342.3L659.7 1340.8L658.7 1339L659.3 1337.8L660.7 1336.8L660.7 1335.4L660.6 1334L663.2 1333.5L662 1331.6L664.6 1331.1L664.8 1329.7L664.8 1328.3L664.8 1326.8L664.9 1325.5L666 1324.4L667.7 1323.5L668 1322.2L665.8 1320.1L668.6 1319.5L666.9 1317.7L667.8 1316.5Z" fill="#6B5E88" stroke="#6B5E88" stroke-width="0.8" stroke-linejoin="round"/>
<path d="M592.4 1445.5L587.8 1437.6M496.5 1499.6L500.4 1511.7" fill="none" stroke="#6B5E88" stroke-width="2.4"/>
<path d="M623.3 1304.6L622 1305.6L621 1306.7L622.5 1308.4L621.6 1309.5L620.1 1310.4L622.1 1312.4L620.1 1313.1L618.5 1313.9L618.4 1315.3L617.7 1316.4L617.1 1317.5L620 1319.9L618.4 1320.7L616.5 1321.4L617.6 1323.2L616.7 1324.2L616.3 1325.5L615.3 1326.5L615.4 1327.9L614.6 1328.9L615.5 1330.7L613 1331.1L613.8 1332.8L613.3 1334L612 1334.9L611.3 1336L611.6 1337.5L610.4 1338.4L609.8 1339.5L609.8 1340.9L608.3 1341.7L609 1343.4L609.5 1345.1L608.8 1346.3L607.4 1347L605.7 1347.5L606.4 1349.4L603.6 1349.3L605 1351.6L602.3 1351.6L602.6 1353.2L601.6 1354.1L601.2 1355.4L601 1356.7L598.9 1357L599 1358.5L600.2 1360.8L598.8 1361.5L598.8 1363L598.1 1364.1L595.3 1363.8L595.2 1365.3L595.5 1367L593 1366.9L592.9 1368.4L592.4 1369.6L591.7 1370.7L590.7 1371.6L590.2 1372.8L589.5 1373.9L588.4 1374.7L588.9 1376.6L585.5 1375.7L584.5 1376.6L585.9 1379.2L584.7 1379.9L584.1 1381.1L582.7 1381.6L582.5 1383.1L580 1382.7L581.1 1385.3L580.7 1386.7L579 1386.9L577.3 1387.1L576.6 1388.2L577.7 1390.9L575.4 1390.6L574.7 1391.7L574 1392.8L574.4 1394.9L570.6 1393.1L570.2 1394.5L570.6 1396.7L569.4 1397.3L568.1 1397.8L567.7 1399.2L567 1400.4L566.4 1401.6L567.1 1404.2L563.7 1402.5L562.5 1403.1L561.8 1404.3L561.2 1405.6L561.4 1407.7L560.7 1408.8L557.4 1407.1L557.8 1409.5L555.5 1408.7L556.1 1411.5L554.6 1411.7L554.3 1413.3L552.1 1412.7L550.7 1413L550.2 1414.5L550.1 1416.4L548.6 1416.5L549 1419.2L548.3 1420.4L544.5 1417.6L544.5 1419.7L543.5 1420.5L542.8 1421.7L540.5 1420.8L540 1422.3L540.4 1425L537.3 1422.9L537.4 1425.3L535.4 1424.7L535.3 1426.8L534.6 1428.2L533.1 1428.2L532 1428.9L530 1428.1L530.6 1431.6L528.7 1430.9L527 1430.6L525.9 1431.2L526 1434L524.2 1433.4L522.6 1433.4L521.6 1434.1L520.5 1434.8L519.2 1435L517.9 1435.3L518.2 1438.8L515.9 1437.2L514.6 1437.4L514.2 1439.6L513 1440L511 1438.8L511.2 1442.1L509.6 1441.8L507.5 1440.5L507.4 1443.4L506 1443.5L504.1 1442.3L503.1 1443.1L503 1446.2L500.7 1444.1L499.9 1445.7L498.2 1444.9L496.9 1445.1L496.6 1447.9L495 1447.2L493 1445.6L493.6 1451.1L490.9 1447.4L490.4 1449.7L488.4 1448.1L486.9 1447.6L486.3 1449.8L484.9 1449.6L483.9 1450.8L482.4 1450.2L481.6 1452L480 1451.2L478.9 1452L477.8 1453L476.4 1452.5L475.2 1453.1L473.8 1452.8L473.6 1457.1L471.4 1453.7L470.6 1455.9L469 1454.8L467.7 1455.2L466.4 1454.9L465.1 1455.4L464.5 1458.3L462.6 1455.7L461.6 1457.2L459.8 1455.2L459 1457.3L457.6 1457.1L456.5 1458L455.4 1459.2L454.2 1460L452.3 1456.7L451.7 1460.7L450.4 1460.9L448.9 1459.7L447.5 1459.1L446.1 1458.5L445.2 1462L443.6 1458.8L442.3 1459.3L441.2 1460.7L439.9 1460.8L438.4 1459.1L437.3 1461.6L435.9 1460.1L434.7 1461.1L433.4 1460.9L432.1 1460.6L430.7 1459.3L429.6 1463L428.1 1459.3L427 1461.9L425.6 1460.3L424.4 1462.1L423.1 1462.8L421.8 1461L420.5 1460.9L419.2 1461L417.9 1462.7L417.9 1453.4L419.2 1452.4L420.4 1454.1L421.7 1455.1L423 1456.8L424.2 1455.1L425.4 1454.9L426.7 1454.4L427.9 1453.5L429.2 1455.6L430.4 1453.3L431.7 1454.6L432.9 1453.3L434.2 1454.3L435.4 1453.4L436.7 1454.5L437.9 1454L439.2 1454.3L440.5 1454.4L441.3 1450.6L442.8 1452.8L444.1 1452.5L445.2 1451.9L446.6 1452.3L447.8 1452.4L449.2 1453L450.6 1453.7L451.4 1450.8L453.1 1453.3L453.8 1450L455.5 1452.4L456.1 1449L457.6 1450.3L458.6 1448.7L460.1 1450.2L461.5 1450.6L462.6 1449.8L463.5 1448.1L465.3 1450.3L465.3 1444.8L467.6 1449L468.1 1446L470.1 1448.9L471.6 1449.8L472.4 1447.8L473.5 1446.8L474.4 1445.5L475.6 1445.2L477.4 1446.9L478.3 1445.5L479.6 1445.6L480.5 1444.2L482.3 1445.7L482.9 1443.7L484.2 1443.5L485.2 1442.6L486.3 1442.1L487.7 1442.3L488.7 1441.3L490.1 1441.5L491.2 1440.8L492.6 1441L494 1441.2L494 1437.8L495.2 1437.4L497.6 1440L498.5 1439L499.2 1437.5L499.6 1435.1L501.7 1436.8L502.7 1436L504.2 1436.4L504.9 1435L506.5 1435.4L508.2 1436.1L508.5 1433.7L509.9 1433.8L510.8 1432.7L511.8 1432L512.9 1431.4L514.8 1432.3L515.5 1430.9L516.1 1429.4L517.6 1429.5L517.9 1427.5L519.8 1428.4L520.2 1426.5L521.1 1425.5L523.3 1426.9L523.6 1425L525 1424.8L526.5 1424.9L526 1421.8L528.8 1423.8L529 1421.8L530.9 1422.5L531.6 1421.3L532.7 1420.6L533.7 1419.8L532.7 1416.2L535.7 1418.3L536.2 1416.8L537.3 1416.2L538.9 1416.3L540 1415.7L540.9 1414.8L541.5 1413.5L543.2 1413.7L541.1 1408.9L543.2 1409.6L545 1410L546.1 1409.3L547.3 1408.8L548.6 1408.5L549.2 1407.1L550.1 1406.3L550.2 1404.5L551.8 1404.4L553 1403.9L553.7 1402.9L555.2 1402.7L554.8 1400.4L556.7 1400.6L556.4 1398.5L558.7 1399.1L557.8 1396.3L560.7 1397.5L560.8 1395.8L562 1395.3L562.3 1393.9L563.7 1393.5L564.7 1392.7L564.5 1390.8L565.3 1389.8L566.3 1389.1L568.1 1389L567 1386.4L570.2 1387.6L570.3 1386L571.2 1385.2L572.4 1384.6L571.8 1382.4L574 1382.6L574.6 1381.5L576 1381L575.1 1378.7L577.5 1379L577.6 1377.5L578.9 1377L579.3 1375.7L578.6 1373.6L579.9 1373L580.1 1371.6L583.5 1372.6L582.8 1370.5L583.9 1369.8L584.6 1368.8L585.9 1368.2L586.9 1367.3L588 1366.6L587.1 1364.5L586.8 1362.7L589.3 1362.9L590.1 1362L590.1 1360.5L591.3 1359.7L592.2 1358.8L591.7 1357.1L594.5 1357.3L593.5 1355.3L592.3 1353L595.2 1353.3L596.1 1352.4L593.6 1349.6L597.4 1350.3L597.7 1349L599.1 1348.4L598.4 1346.6L598.8 1345.3L600.2 1344.7L600.5 1343.4L602.2 1342.9L600.9 1340.8L602.4 1340.2L602.6 1338.9L604.1 1338.2L603.7 1336.6L605 1335.9L605.7 1334.8L607 1334L605.6 1332L607.1 1331.3L606.7 1329.8L608 1329L610.2 1328.5L605.6 1325.3L608.1 1325L609.1 1324L610.6 1323.3L608.1 1321L611.4 1320.9L608.7 1318.6L612.2 1318.5L612.8 1317.4L610.1 1315.2L611.9 1314.4L613 1313.5L610.8 1311.5L614.6 1311.4L615.1 1310.2L612.9 1308.3L611 1306.4L615.8 1306.5L614.5 1304.9L616.1 1304L614.9 1302.4Z" fill="#6B5E88" stroke="#6B5E88" stroke-width="0.8" stroke-linejoin="round"/>
<path d="M412 1533.1L411.6 1547.9L408.5 1547.8L408.5 1548.4L405.3 1548.3L405.4 1546.4L402.3 1546.2L402.4 1544.1L399.3 1543.9L398.9 1550.2L395.7 1550L396.2 1543.7L393.1 1543.5L392 1556.1L388.7 1555.8L389.5 1548.2L386.3 1547.8L386.3 1548.3L383.2 1547.9L383.3 1547.1L380.1 1546.7L380.6 1542.8L377.5 1542.3L376.3 1551.2L373.1 1550.7L372.8 1552.6L369.6 1552.1L370.9 1544.1L367.8 1543.6L367.6 1544.9L364.5 1544.3L364 1547.1L360.9 1546.5L361.5 1543.2L358.4 1542.6L358 1544.5L354.9 1543.8L355.3 1542.2L352.2 1541.5L351.7 1543.6L348.6 1542.9L346.2 1552.8L343 1552L345.8 1541.2L342.7 1540.4L343.2 1538.4L340.2 1537.6L338.3 1544.4L335.2 1543.6L336.5 1539.1L333.4 1538.3L333.5 1538L330.5 1537.1L330.5 1536.9L327.5 1536L326.7 1538.6L323.6 1537.6L324.3 1535.7L321.2 1534.6L321 1535.5L317.9 1534.5L317.8 1534.8L314.8 1533.7L314.7 1534.1L311.7 1533L312.2 1531.6L309.3 1530.4L309.5 1529.9L306.5 1528.7L306.4 1529L303.5 1527.8L303.1 1528.7L300.1 1527.5L300.8 1526L297.9 1524.7L296.3 1528.3L293.4 1527L293.7 1526.3L290.8 1524.9L292.3 1521.7L289.5 1520.3L288.4 1522.4L285.6 1521L287.8 1516.6L285 1515.2L283.4 1518.3L280.5 1516.9L282.2 1513.6L279.5 1512.2L277.8 1515.3L275 1513.8L274.7 1514.4L271.9 1512.8L272.6 1511.6L269.8 1510L270.6 1508.7L267.9 1507.1L265.2 1511.7L262.5 1510L263.8 1507.9L261 1506.2L262.9 1503.2L260.2 1501.6L259.5 1502.8L256.8 1501.1L253.6 1506L250.9 1504.3L254.6 1498.7L252 1497L252.3 1496.5L249.7 1494.7L245.4 1501L242.7 1499.1L244.7 1496.4L242.1 1494.5L239.5 1498L236.9 1496.1L240.1 1491.9L237.6 1490L233.9 1494.8L231.4 1492.8L233.8 1489.7L231.2 1487.7L231.9 1486.9L229.4 1484.9L230.9 1483.1L228.4 1481.1L226.2 1483.8L223.8 1481.7L224.1 1481.3L221.7 1479.2L222.1 1478.8L219.7 1476.7L221.4 1474.7L219.1 1472.6L219.2 1472.5L216.8 1470.3L218 1469.1L215.7 1466.9L215.2 1467.5L212.9 1465.3L212.7 1465.6L210.4 1463.4L221.1 1452.4A283 283 0 0 0 412 1533.1Z" fill="#377EB8"/>
<path d="M412.4 1516.4L411.1 1514.2L409.7 1513.1L408.2 1515.5L406.7 1519.4L405.4 1515.6L404.1 1514.3L402.8 1513.7L401.2 1516L399.9 1514.7L398.5 1514.8L396.9 1517.4L395.8 1513.9L394.5 1513.1L392.6 1518.3L391.5 1515.4L390.3 1513L388.8 1514.2L387.2 1515.6L385.6 1517.6L384.6 1514.2L383.4 1512.8L381.8 1514.1L380.6 1512.3L378.8 1515.3L378 1511.4L376.2 1513.8L374.9 1512.6L373.5 1512.5L371.9 1513.6L370.5 1513.7L369.4 1512L367.9 1512.1L366.2 1513.7L365.5 1509.9L363.6 1512.4L362.4 1511.3L361.2 1510L360 1509.2L358.5 1509.5L356.7 1510.9L354.9 1512.3L354.4 1508.5L353.2 1507.5L351.7 1507.7L350.5 1506.8L349.4 1505.6L347.8 1506.4L346.5 1505.8L345.6 1503.9L343.4 1506.3L342.4 1504.7L341.2 1503.9L339.5 1504.8L338.6 1503L337.3 1502.5L336.4 1500.7L335 1500.5L333.1 1501.9L331.3 1502.8L330.6 1500.5L329.6 1499.2L327.3 1501.4L326.2 1500.4L325.3 1499L323.7 1499.1L322 1499.6L320.4 1499.8L320.1 1497L319.2 1495.3L316.6 1498.1L315.5 1497.1L315.3 1493.8L314 1493.5L312.2 1494L310.7 1494.1L308.8 1494.8L308.9 1491.2L306 1494.1L304.6 1493.9L304.6 1490.5L303.1 1490.5L301.5 1490.6L301 1488.3L298.9 1489.4L298 1488.2L295.9 1489.1L295.6 1486.7L294.8 1485.3L292.9 1485.9L292.6 1483.3L291.5 1482.6L289.9 1482.6L288.5 1482.2L287.4 1481.4L285.8 1481.2L284.1 1481.5L283.9 1479L281.3 1480.6L281.6 1477.5L279.9 1477.6L278.8 1476.6L276.9 1477.1L276.2 1475.5L275.3 1474.4L273.7 1474.2L272.4 1473.7L271.1 1473.1L270.5 1471.5L269.3 1470.7L268.9 1468.9L267.3 1468.8L266.4 1467.6L265.6 1466.3L262.9 1467.7L263.3 1464.8L262.8 1463.1L261 1463.1L260 1462.2L256.8 1464.1L257.3 1461.2L256.4 1460L254.7 1459.9L253.3 1459.5L252.3 1458.5L249.4 1459.9L249.7 1457.2L250.4 1454.2L247.1 1456L247.3 1453.6L246.7 1452.1L245.5 1451.3L244.5 1450.4L244.2 1448.6L241.4 1449.7L242 1447L239.9 1447.2L240 1445L237.5 1445.7L236.8 1444.4L236.2 1442.9L233.7 1443.6L233.9 1441.4L232.4 1440.9L240.2 1432.9L240.3 1434.8L240.2 1436.8L241.8 1437.1L243.1 1437.7L243.2 1439.5L245.7 1438.9L246.2 1440.2L246.7 1441.8L247.5 1442.9L249.4 1442.7L251 1443L251.9 1443.9L253 1444.7L254.5 1445L254.6 1447L255.9 1447.5L255.2 1450.5L256.2 1451.5L260.2 1448.7L259.2 1452L259.8 1453.5L261.3 1453.7L261.9 1455.1L263.2 1455.6L265.8 1454.4L265.6 1457L268.4 1455.5L267.9 1458.4L269.2 1458.9L271.2 1458.4L271.3 1460.6L273.9 1459.2L274.5 1460.7L274 1463.9L276.2 1463L276.5 1465L277.4 1466.1L279.3 1465.6L279.6 1467.6L281.3 1467.5L281.9 1469.1L283.1 1469.7L285.5 1468.4L285.6 1470.8L286.1 1472.6L289.1 1470.2L288.6 1473.7L289.7 1474.6L291.4 1474.2L292.2 1475.6L293.6 1476L295.2 1475.8L296.2 1476.7L297 1478.1L298.7 1477.7L299.4 1479.5L300.5 1480.2L301.6 1481.2L303.1 1481.1L304.7 1480.9L305.4 1482.5L306.7 1483L309 1481.3L309.1 1484.3L310.8 1483.8L313.1 1482L313.3 1484.9L314.6 1485.3L317.2 1482.6L317 1486.6L318.3 1486.8L319.4 1487.8L320.7 1488.2L323.1 1485.8L324 1487.2L324.4 1489.8L325.9 1489.5L326.7 1491.4L328.5 1490.2L329.8 1490.7L330.4 1492.9L333.6 1488.3L333.9 1491.3L334.8 1492.8L336.5 1492L337.5 1493.1L338.8 1493.4L339.9 1494.4L341.4 1494.1L342.3 1495.8L343.3 1497.1L345 1496.3L346.2 1496.8L348 1495.5L348.6 1498.4L349.7 1499.3L351.5 1497.9L352.8 1498.4L353.7 1500.2L355.2 1499.9L356.3 1501.1L357.4 1502.2L359.6 1498.9L360.4 1501.3L361.8 1501.1L363.7 1498.9L364.3 1502.3L366 1501.1L367 1502.6L368.3 1503.3L369.7 1503.1L370.7 1504.9L372.2 1504.2L373.9 1502.8L375.3 1502.1L376.6 1502.7L377.5 1505.7L379.1 1504L380.3 1505.3L381.7 1504.7L383.3 1503.2L384.6 1503.8L385.6 1506.4L387 1506.1L388.4 1506L389.9 1504.9L391.1 1506.2L392.5 1505.8L393.7 1507.2L395.5 1502.6L396.5 1506.3L397.8 1506.9L399.4 1504L400.6 1505.8L401.8 1508L403.2 1506.3L404.6 1506.4L405.9 1506.6L407.3 1505.7L408.6 1506.9L410 1505.7L411.3 1505.5L412.6 1507.7Z" fill="#377EB8" stroke="#377EB8" stroke-width="0.8" stroke-linejoin="round"/>
<path d="M413.7 1462.8L412.5 1461.7L411.2 1462L409.9 1461.3L408.6 1460.8L407.4 1459.6L406.2 1459.3L404.8 1460.5L403.5 1460.6L402 1462.8L400.8 1461.7L399.7 1459.9L398.2 1461.9L397.2 1458.6L395.9 1459.5L394.5 1460.4L393.2 1460.3L392.1 1458.5L390.6 1460.3L389.6 1458.2L388.2 1458.9L387.1 1457.1L385.5 1459L384.5 1457.5L383.4 1456L381.9 1457.3L380.5 1458L378.8 1459.7L377.9 1457.8L376.5 1458L375.6 1456.4L374.6 1454.6L372.9 1456.4L371.4 1457.4L369.9 1458.1L369.6 1453.6L367.5 1456.7L366.7 1454.9L365.4 1454.7L364 1454.8L362.9 1454L361.7 1453.5L360.8 1452L359.4 1452.1L358.2 1451.8L357.1 1451L355.9 1450.6L353.9 1452.5L352.7 1452L351.7 1450.9L350.2 1451.4L348.9 1451L348 1449.6L347.5 1447.5L345.9 1448.1L343.9 1449.6L343.2 1447.9L342 1447.3L341 1446.3L339.9 1445.7L337.7 1447.8L337.5 1444.8L335.8 1445.5L334.5 1445.2L333.6 1444.1L332.5 1443.3L331.1 1443.3L330 1442.5L329.9 1439.8L328.3 1440.1L327 1440L324.5 1442.2L324.5 1439.3L323.1 1439.1L322 1438.5L320.5 1438.5L319.3 1437.9L318.9 1436L317.1 1436.6L316.8 1434.4L315.2 1434.7L314.8 1432.7L313.9 1431.7L312 1432.6L312.2 1429.7L308.2 1433.9L309.1 1429.9L308.2 1428.9L307.2 1428L305.9 1427.7L305.1 1426.5L303.5 1426.7L301.5 1427.4L302.5 1423.5L299.6 1425.5L299.6 1423.2L298.7 1422.4L298.3 1420.7L297.3 1419.9L295.9 1419.6L294.6 1419.3L294.1 1417.8L293 1417.1L292.1 1416.2L289 1418.1L289.8 1415L287.9 1415.4L287.3 1414.1L286.2 1413.3L285 1412.9L284.2 1411.8L283.5 1410.6L283.3 1408.9L280.8 1409.8L279.3 1409.6L280 1406.9L278.4 1406.7L277.2 1406.1L276.4 1405.1L275.9 1403.8L273.4 1404.5L273.4 1402.7L272.3 1401.9L272.5 1399.9L276.7 1395.6L276.8 1397.2L277.1 1398.8L277.5 1400.2L279.9 1399.4L280.7 1400.4L280.9 1402L283.5 1401.1L284.4 1401.9L283.6 1404.7L285.2 1404.7L287.2 1404.4L287.4 1406L288.7 1406.4L289.1 1407.9L291.1 1407.3L292.2 1408L292.7 1409.3L293 1410.9L293.3 1412.5L297.1 1409.6L297 1411.9L298.2 1412.3L298 1414.6L300 1414L301.1 1414.6L301.3 1416.4L302.8 1416.4L303 1418.4L304.2 1418.8L305.8 1418.6L306.3 1420.1L307.9 1419.9L308.8 1420.8L309.2 1422.6L310.6 1422.6L311.1 1424.2L312.1 1424.9L313.9 1424.4L315 1424.9L315.2 1427.1L317.5 1425.5L318.4 1426.6L318.6 1428.6L319.4 1429.8L320.6 1430.2L321.5 1431.1L322.8 1431.4L324.2 1431.4L324.7 1433.1L327 1431.5L327.7 1432.8L327.7 1435.6L330.3 1433L330.8 1435L331.9 1435.5L333.7 1434.6L334.4 1436L335.6 1436.5L335.8 1439L337.3 1438.8L338.3 1439.6L339.8 1439.3L340.6 1440.6L342.1 1440.2L343.5 1440.1L344.1 1442.2L345.8 1441.2L346.4 1443L348.1 1442.1L349.2 1442.7L350.9 1441.7L351.6 1443.4L352.4 1445L353.5 1445.4L354.6 1446.1L356.1 1445.7L357.5 1445.3L359.1 1444.6L360 1445.9L360.9 1447L362.4 1446.6L363.5 1447.3L364.8 1447.2L366 1447.6L366.9 1448.8L369 1445.8L369.2 1450L371 1448.1L372.1 1448.5L373.6 1447.7L374.1 1450.9L376 1448.4L377.1 1449.2L378.4 1448.7L379 1452.3L380.4 1451.7L381.8 1450.8L383 1451.2L384.4 1450.6L386.1 1447.7L386.6 1452.3L388 1451.2L389.4 1450.5L390.4 1452.4L391.6 1452.8L392.8 1453.1L394 1453.5L395.2 1454.1L396.5 1453.9L397.8 1453L399.1 1452.7L400.3 1453.1L401.4 1454.6L402.7 1454.7L403.9 1454.4L405.1 1455.3L406.5 1453.6L407.8 1451.9L409 1452.9L410.2 1455L411.4 1454.3L412.7 1455.7L413.9 1454Z" fill="#377EB8" stroke="#377EB8" stroke-width="0.8" stroke-linejoin="round"/>
<path d="M364.1 1450.6L361.3 1462.8" fill="none" stroke="#377EB8" stroke-width="2.4"/>
<path d="M216.8 1448.2L202.3 1462.4L200 1460.1L201.3 1458.8L199.1 1456.5L202.1 1453.7L200 1451.4L196.6 1454.5L194.5 1452.1L196.2 1450.6L194 1448.2L191.2 1450.7L189.1 1448.3L189.4 1448L187.3 1445.6L187.2 1445.7L185.1 1443.2L188 1440.9L186 1438.4L183.1 1440.7L181.1 1438.2L181.8 1437.7L179.8 1435.1L176.7 1437.6L174.7 1435L179.6 1431.3L177.7 1428.7L176.5 1429.6L174.6 1427.1L175.8 1426.2L174 1423.6L172.2 1424.8L170.4 1422.2L171.5 1421.5L169.7 1418.8L166.7 1420.8L164.9 1418.1L166.4 1417.2L164.6 1414.5L157.9 1418.8L156.1 1416.1L164.7 1410.7L163 1408L161.6 1408.8L159.9 1406.1L156.1 1408.4L154.5 1405.6L162.7 1400.7L161.1 1398L158.3 1399.6L156.7 1396.9L156.3 1397.1L154.8 1394.3L156.7 1393.2L155.2 1390.4L153.4 1391.4L151.9 1388.6L152.6 1388.2L151.2 1385.4L146.2 1387.9L144.7 1385L150.1 1382.4L148.7 1379.5L145.6 1381L144.2 1378.1L148.2 1376.2L146.9 1373.4L147.6 1373.1L146.3 1370.2L146.3 1370.2L145.1 1367.3L135.2 1371.5L134 1368.5L143.5 1364.5L142.3 1361.6L141.8 1361.8L140.6 1358.8L140 1359.1L138.8 1356.1L137.2 1356.7L136.1 1353.7L138.9 1352.7L137.9 1349.7L131.9 1351.9L130.8 1348.8L137.7 1346.5L136.7 1343.5L126.3 1346.9L125.3 1343.8L135.7 1340.5L134.8 1337.5L132.2 1338.2L131.3 1335.2L134.3 1334.3L133.4 1331.3L133.8 1331.2L133 1328.2L130.5 1328.8L129.6 1325.8L127.8 1326.3L127 1323.2L129.3 1322.6L128.6 1319.5L129.7 1319.3L129 1316.2L126.5 1316.7L125.8 1313.6L127.2 1313.3L126.6 1310.2L127.4 1310.1L126.8 1307L125.9 1307.1L125.4 1304L124.4 1304.2L123.8 1301.1L120.8 1301.6L120.3 1298.4L125.1 1297.7L124.6 1294.5L122.8 1294.8L122.3 1291.7L121.2 1291.8L120.8 1288.7L116.5 1289.2L116.1 1286L123.6 1285.1L123.2 1282L119.6 1282.4L119.3 1279.2L121.9 1279L121.6 1275.8L119.9 1276L119.6 1272.8L120.7 1272.7L120.4 1269.6L123.8 1269.3L123.6 1266.2L119.4 1266.4L119.2 1263.3L113.1 1263.5L113 1260.3L124.5 1259.9L124.4 1256.8L136.1 1256.5A283 283 0 0 0 216.8 1448.2Z" fill="#3E8E93"/>
<path d="M227.7 1437.5L228.5 1434.8L227.2 1434.1L226 1433.4L222.8 1434.4L223.6 1431.7L221.2 1432.1L222.1 1429.3L220.1 1429.3L219.8 1427.6L219.5 1426.1L217.3 1426.2L218.7 1423.1L217.4 1422.4L214.9 1422.6L215.5 1420.3L213.6 1420.2L212 1419.7L213 1417L211.8 1416.3L209.7 1416.1L210.5 1413.7L207.1 1414.6L209.7 1410.8L207.6 1410.7L205.5 1410.6L205.2 1409L205.5 1407.1L204.2 1406.3L203.5 1405.1L203.9 1403.1L201.9 1402.8L199.9 1402.5L199.4 1401.2L201 1398.4L197.3 1399.3L196.6 1398L195.6 1397L197.7 1394L195.2 1394L191.6 1394.6L192.8 1392.2L192 1391L192 1389.4L190.4 1388.7L192.4 1385.9L189.9 1385.8L189.9 1384.2L187.9 1383.7L188.3 1381.9L186.7 1381.2L186.2 1379.9L184.6 1379.2L186.4 1376.6L184.5 1376.1L184.1 1374.7L183.2 1373.6L181.2 1373.1L182.6 1370.8L181.1 1370L180 1369L180.8 1367.1L180.3 1365.7L180 1364.3L179.7 1363L177.2 1362.6L177.2 1361.1L177.6 1359.4L175.2 1358.9L175 1357.5L175 1356L175.7 1354.2L173 1353.8L171.5 1352.9L172.4 1351L173.7 1349L172.6 1347.9L172.7 1346.4L172.5 1345L170.8 1344.2L170.8 1342.7L168.4 1342.1L170.4 1339.9L168 1339.3L168.5 1337.6L167.6 1336.5L167.3 1335.1L168.2 1333.3L166.4 1332.5L168.1 1330.5L164.7 1330.1L165.8 1328.3L166.8 1326.6L164.8 1325.7L164.4 1324.4L165.4 1322.7L161.6 1322.3L163.4 1320.4L162.6 1319.1L161.8 1317.9L162.3 1316.3L162.4 1314.9L163.2 1313.3L162.3 1312.1L161.9 1310.8L160.6 1309.6L160.7 1308.2L160.4 1306.8L159.8 1305.6L159.3 1304.2L158.6 1303L159 1301.5L157 1300.5L156.1 1299.2L158.1 1297.4L156.9 1296.2L155.9 1295L156.8 1293.4L155.3 1292.3L158.1 1290.4L157.8 1289.1L154.9 1288.1L157.1 1286.4L155.8 1285.2L153.1 1284.1L153.8 1282.6L156.4 1280.9L153.4 1279.8L155.5 1278.2L153 1277.1L155.2 1275.5L154.9 1274.1L154.5 1272.7L154.9 1271.3L153.6 1270L153.6 1268.6L153.6 1267.2L153.4 1265.9L154.7 1264.4L152 1263.1L153.4 1261.7L154.7 1260.3L154.6 1258.9L155.7 1257.5L154.1 1256.1L163.5 1255.9L162.9 1257.3L161.6 1258.6L163 1259.9L163.3 1261.3L163.1 1262.6L162.3 1264L163.5 1265.3L163.9 1266.6L164.4 1267.9L162.3 1269.4L162.7 1270.7L167.3 1271.6L164.1 1273.3L163.2 1274.7L166.4 1275.7L162.9 1277.4L161.5 1278.9L165.4 1279.8L164.9 1281.3L163.1 1282.8L164.7 1284L166.4 1285.1L163.5 1286.9L166.4 1287.8L167 1289L164.6 1290.8L164.3 1292.2L167.1 1293.1L165 1294.8L165.5 1296.1L165.3 1297.5L167.7 1298.4L166.4 1300L167.6 1301.2L167.5 1302.6L167.1 1304L169.5 1304.9L169.1 1306.3L168.7 1307.8L171.1 1308.6L169.4 1310.4L170.8 1311.4L170.3 1312.9L169.4 1314.5L171.9 1315.3L169.9 1317.2L171.6 1318.1L171.2 1319.6L174.8 1320L173.6 1321.7L172.3 1323.5L174 1324.4L172.8 1326.2L174.8 1327L175.3 1328.2L174.8 1329.7L175.4 1331L178.4 1331.4L176.3 1333.5L177.1 1334.6L180.2 1335L179.2 1336.7L178.7 1338.3L181.2 1338.8L179.2 1341L180.8 1341.8L180.7 1343.3L180.5 1344.8L181.6 1345.8L179.3 1348.2L184.3 1347.6L181.6 1350.2L183.6 1350.8L185.1 1351.6L183.3 1353.8L185.3 1354.4L186.3 1355.4L186.5 1356.8L186.5 1358.3L188.4 1358.9L187.6 1360.7L187.9 1362L187.2 1363.9L187.2 1365.4L189.1 1366L190.7 1366.7L189.3 1368.9L192.8 1368.6L192.7 1370.2L191.5 1372.3L194 1372.5L193.7 1374.2L195.3 1374.8L195.2 1376.4L195.8 1377.6L197.4 1378.2L197.4 1379.8L196.1 1382.1L198.8 1382.1L199.7 1383.1L198.5 1385.4L201.3 1385.3L201.1 1387L201.8 1388.1L202.6 1389.2L204.4 1389.6L202.6 1392.4L207 1391.1L204.7 1394.2L207.1 1394.2L206.1 1396.6L208.9 1396.3L207.8 1398.7L210.2 1398.6L209.3 1400.9L211.4 1401.1L212.7 1401.8L213.2 1403.1L213.3 1404.7L213.7 1406.1L216.5 1405.6L216.3 1407.4L216.6 1408.9L217.1 1410.3L217.9 1411.4L219.8 1411.5L219.4 1413.6L221.1 1414L221.5 1415.3L222.9 1415.9L224.8 1416L224.2 1418.3L224.6 1419.8L226.3 1420.1L225.8 1422.3L228.3 1421.9L227.9 1424.1L230.3 1423.7L230.4 1425.4L230.8 1426.9L231.9 1427.8L233 1428.5L235.4 1428.1L235.5 1429.9Z" fill="#3E8E93" stroke="#3E8E93" stroke-width="0.8" stroke-linejoin="round"/>
<path d="M173.6 1339.7L186.5 1336.2M195.3 1385L185.8 1393M164.4 1308.6L173 1306.1" fill="none" stroke="#3E8E93" stroke-width="2.4"/>
<path d="M268.5 1397.5L267.5 1396.7L266.3 1396.1L266.4 1394.2L265.6 1393.2L263.7 1393.2L263.8 1391.4L263.4 1390L262.4 1389.1L259.6 1389.9L260.1 1387.8L258.6 1387.4L258.3 1385.9L258.3 1384.3L256.3 1384.3L256.6 1382.3L255.7 1381.4L253.6 1381.5L253.9 1379.5L251.7 1379.6L253.5 1376.7L248.9 1378.5L250.1 1376L248.5 1375.6L249.3 1373.4L249.2 1371.9L246.3 1372.4L247.2 1370.1L245.4 1369.8L245.4 1368.3L243 1368.4L242.9 1366.9L242.1 1365.9L241.9 1364.4L242.8 1362.4L239.6 1362.8L241 1360.5L238.5 1360.5L239.1 1358.6L238.6 1357.4L237.2 1356.7L235.8 1356L236.8 1354L235.9 1353L232.7 1353.3L233.2 1351.6L233.6 1349.9L231.5 1349.6L231.9 1347.9L231.6 1346.5L231.1 1345.4L230.5 1344.3L228.8 1343.6L230.4 1341.4L228.7 1340.8L228.8 1339.3L226.6 1338.9L226.3 1337.6L226.2 1336.3L225.7 1335.1L225.8 1333.6L224.9 1332.6L223.7 1331.7L222.2 1330.9L223.2 1329.1L220.3 1328.9L219.9 1327.7L219.6 1326.4L219.6 1325L221 1323.1L220.6 1321.8L220.4 1320.5L218.8 1319.7L219.3 1318.2L215.2 1318.2L218.6 1315.7L217.2 1314.8L216.9 1313.5L217.6 1312L217.5 1310.6L213.7 1310.4L216.3 1308.3L215.1 1307.3L216.2 1305.7L213.7 1305L215.2 1303.3L213.4 1302.4L215.1 1300.6L214.7 1299.4L213.9 1298.3L214 1296.9L214.3 1295.6L213.9 1294.3L212.6 1293.3L214 1291.7L210.2 1291.1L208.8 1290.1L210.4 1288.4L212.5 1286.7L212 1285.5L211.5 1284.3L211.9 1282.9L209.3 1282L210.6 1280.6L210 1279.3L209.5 1278.1L207.6 1277L208.8 1275.6L209.3 1274.2L210 1272.8L209.2 1271.6L207.3 1270.5L208 1269.1L207.3 1267.9L207.3 1266.6L206.5 1265.4L208 1264L207.5 1262.7L208.1 1261.4L206.9 1260.1L204.6 1258.9L207.1 1257.5L207.2 1256.2L205.2 1255L216 1254.7L212.5 1256.1L212.8 1257.3L214.1 1258.5L213.8 1259.8L213.7 1261.1L213.8 1262.3L213.8 1263.6L212.7 1264.9L215.3 1266L213.6 1267.4L214.7 1268.5L214.4 1269.8L215.8 1271L215.1 1272.3L215 1273.6L215.9 1274.7L215.2 1276.1L216 1277.2L216.9 1278.4L217.2 1279.6L217.5 1280.8L216.7 1282.2L220.2 1282.9L218.9 1284.4L219.3 1285.5L217 1287.2L217.7 1288.4L218.9 1289.4L220.3 1290.4L219.1 1291.9L218.7 1293.3L219.8 1294.3L221.9 1295.1L219.3 1297L220.6 1298L220.4 1299.3L221.4 1300.4L220.8 1301.8L221.2 1303L223.9 1303.6L220.8 1305.7L222.6 1306.5L222 1308L223.2 1308.9L223.4 1310.2L223.6 1311.4L223.2 1312.9L224.2 1313.9L225.1 1314.9L225 1316.3L226.1 1317.2L226.1 1318.5L226.8 1319.6L227.9 1320.5L228 1321.8L226.9 1323.6L227.4 1324.7L229.1 1325.4L231.6 1325.8L230.1 1327.7L228.8 1329.6L232.2 1329.5L231.1 1331.3L234.1 1331.4L233.5 1333L232.9 1334.6L233.8 1335.6L234.4 1336.7L234.2 1338.2L236 1338.7L237.3 1339.5L236.5 1341.3L237.7 1342L237.5 1343.5L238.4 1344.5L237.2 1346.5L238.8 1347.1L239.6 1348.1L242.7 1347.8L241.9 1349.7L241.5 1351.3L242 1352.5L243.2 1353.2L243.3 1354.6L243.9 1355.7L244.1 1357L246.4 1357.1L247.1 1358.1L250.6 1357.4L248.8 1360L248.8 1361.5L249 1362.8L249 1364.3L250.2 1365L249.7 1366.9L252.1 1366.7L252.5 1368L253.8 1368.6L254.2 1369.8L256 1370L255.7 1371.8L256.5 1372.8L258.3 1373L260.8 1372.6L258.9 1375.7L260 1376.4L260.8 1377.3L260.8 1378.9L263.9 1378L262.8 1380.5L263 1382L264.4 1382.4L265.3 1383.3L265.5 1384.7L268.5 1383.8L267.2 1386.6L267.8 1387.7L268.7 1388.6L269.8 1389.3L272.1 1388.8L271.6 1391L272.1 1392.3L273.1 1393.1Z" fill="#3E8E93" stroke="#3E8E93" stroke-width="0.8" stroke-linejoin="round"/>
<path d="M136 1250.2L121.4 1250.2L121.4 1247.1L123.3 1247.1L123.4 1244L117.2 1243.8L117.3 1240.7L122.3 1240.8L122.4 1237.7L116.8 1237.4L117 1234.3L125.3 1234.7L125.5 1231.6L114.6 1230.9L114.8 1227.7L122.3 1228.3L122.5 1225.1L124.9 1225.3L125.2 1222.2L121.5 1221.9L121.8 1218.7L116.9 1218.2L117.3 1215L121.4 1215.5L121.8 1212.4L124.6 1212.7L125 1209.6L125.3 1209.7L125.7 1206.6L116.6 1205.2L117.1 1202L120.2 1202.5L120.7 1199.4L127.8 1200.6L128.4 1197.5L125.1 1196.9L125.7 1193.8L130.5 1194.8L131.1 1191.7L128.9 1191.3L129.5 1188.2L127.7 1187.8L128.3 1184.8L125.6 1184.1L126.3 1181.1L125.3 1180.8L126 1177.7L124.9 1177.4L125.7 1174.3L130 1175.4L130.8 1172.4L130.5 1172.3L131.4 1169.3L131.2 1169.3L132.1 1166.2L131.5 1166.1L132.4 1163L128.6 1161.9L129.5 1158.8L134 1160.2L135 1157.2L133.3 1156.7L134.3 1153.7L139.7 1155.5L140.7 1152.6L140.7 1152.6L141.8 1149.6L141.5 1149.5L142.6 1146.6L142.1 1146.4L143.2 1143.5L138 1141.5L139.1 1138.5L139.9 1138.8L141.1 1135.9L145.6 1137.8L146.8 1134.9L145.9 1134.5L147.1 1131.6L150.1 1132.9L151.4 1130.1L149.8 1129.4L151.1 1126.6L152 1127L153.3 1124.2L144.3 1119.9L145.7 1117L149.8 1119L151.2 1116.2L151 1116.1L152.4 1113.3L151.3 1112.7L152.8 1109.9L157.4 1112.3L158.9 1109.6L156.1 1108L157.6 1105.3L156.3 1104.6L157.8 1101.8L157.3 1101.5L158.9 1098.7L160.7 1099.8L162.3 1097.1L161.3 1096.5L163 1093.8L161.1 1092.7L162.8 1090L165.7 1091.8L167.4 1089.1L167.2 1089L168.9 1086.4L169 1086.4L170.7 1083.8L173.9 1085.9L175.6 1083.3L171.2 1080.3L173.1 1077.7L174.5 1078.7L176.3 1076.1L169.7 1071.4L171.6 1068.8L177.5 1073.1L179.4 1070.5L179.5 1070.7L181.4 1068.2L180.6 1067.5L182.5 1065L184.4 1066.5L186.3 1064L186.8 1064.3L188.7 1061.9L189.9 1062.8L191.9 1060.4L192 1060.5L194 1058.2L193.5 1057.7L195.5 1055.4L197.3 1056.9L199.3 1054.6L198.2 1053.6L200.3 1051.2L195.3 1046.7L197.5 1044.3L202.7 1049.2L204.9 1047L206.7 1048.7L208.8 1046.5L215.8 1053.2A283 283 0 0 0 136 1250.2Z" fill="#469F6F"/>
<path d="M151.5 1250.2L151.1 1248.8L153.5 1247.4L151.4 1246L151.8 1244.6L153.4 1243.2L153.1 1241.8L151.7 1240.4L153.9 1239.1L152.9 1237.6L152.6 1236.2L153.3 1234.9L153.3 1233.5L153.6 1232.1L154.7 1230.8L153.6 1229.3L152 1227.8L153.3 1226.5L153.5 1225.1L154.9 1223.8L154.2 1222.4L152.9 1220.8L155.1 1219.7L155.4 1218.3L157.7 1217.2L156.4 1215.6L156 1214.2L157.4 1213L156.7 1211.5L156.4 1210L157.5 1208.8L156 1207.1L157.3 1205.9L160 1205L158 1203.2L158.9 1202L158.3 1200.5L159.6 1199.3L158.4 1197.6L159.4 1196.4L158.7 1194.9L159 1193.5L160.5 1192.4L161.2 1191.1L161.5 1189.8L159.9 1188L160.8 1186.8L161 1185.4L162.1 1184.2L162.1 1182.8L163.4 1181.7L162.3 1180L162.7 1178.6L163.3 1177.3L163.9 1176.1L164.8 1174.9L163.4 1173L165.7 1172.3L166.9 1171.2L166.3 1169.5L168.6 1168.8L167.8 1167.1L166.8 1165.3L167.8 1164.2L168.4 1162.9L165.5 1160.4L170.6 1160.7L170.4 1159.2L169.9 1157.5L170.5 1156.3L170.8 1154.9L170.6 1153.3L171.3 1152.1L173.3 1151.4L171.5 1149.2L172.2 1147.9L170.5 1145.7L175.8 1146.5L174.9 1144.5L176.6 1143.7L176.1 1142L177.2 1141L178.4 1140L180 1139.2L178.8 1137.1L179.4 1135.9L179.9 1134.6L180.5 1133.3L180.8 1131.9L181.8 1130.8L181.9 1129.4L183.6 1128.7L183.4 1127L183.6 1125.5L185.8 1125.1L182.7 1121.9L185.6 1121.9L187.8 1121.5L187.8 1119.9L186.5 1117.6L188.4 1117L189.3 1116L190.3 1114.9L191.4 1113.9L192.1 1112.8L192.1 1111.1L192.8 1109.9L193.5 1108.7L191.9 1106.1L195.1 1106.4L196.7 1105.8L197 1104.3L196 1102L195.1 1099.7L194.8 1097.8L200.4 1099.9L200.1 1098L201.3 1097.1L201.7 1095.7L203 1094.9L203.6 1093.7L204.6 1092.7L205.4 1091.5L206.9 1090.9L206.5 1088.8L208.6 1088.7L207.9 1086.4L208.5 1085.1L210.8 1085.2L211 1083.5L213.2 1083.5L215.2 1083.4L214 1080.6L215.2 1079.8L217.4 1079.8L217.7 1078.3L218.1 1076.8L218 1074.8L220.2 1074.9L220.4 1073.2L222.7 1073.4L221.7 1070.7L224.1 1071L223.4 1068.4L225.4 1068.3L226.1 1067.1L226.2 1065.2L230.2 1067.2L237.8 1074.6L234.2 1072.9L232.9 1073.5L232.6 1075.1L231.3 1075.8L230.1 1076.5L229.5 1077.7L229.6 1079.6L228.6 1080.5L226.6 1080.6L225.7 1081.5L224.9 1082.6L224.8 1084.3L223.8 1085.2L221.6 1085.1L220.8 1086.2L220.5 1087.7L219.1 1088.3L217.5 1088.7L216.8 1089.9L217.8 1092.4L215 1091.9L215 1093.6L214.7 1095.1L212.5 1095.1L212.6 1096.9L211.5 1097.7L211.7 1099.5L211.1 1100.8L208.1 1100.3L210.3 1103.5L210.8 1105.4L206.9 1104.4L204.7 1104.5L205.3 1106.6L205.1 1108L203.1 1108.4L204.6 1110.9L202.1 1110.9L200.5 1111.5L202.4 1114.3L199.7 1114.2L201 1116.6L198.9 1116.9L198.1 1117.9L198 1119.5L198.8 1121.5L195.6 1121.2L195.2 1122.5L195 1124L194.2 1125.1L193.3 1126.1L193.1 1127.5L193.2 1129.1L191.2 1129.6L190 1130.5L191.5 1132.7L190.4 1133.7L190.1 1135.1L187.5 1135.2L190.3 1138.1L189.3 1139.1L186.6 1139.3L186.2 1140.6L189.2 1143.5L185.5 1143.2L186.8 1145.3L183.2 1145.2L185.3 1147.6L183.8 1148.4L182.8 1149.4L180.2 1149.8L181 1151.6L180.2 1152.7L180.3 1154.2L180.5 1155.7L179.7 1156.9L179.2 1158.1L179.7 1159.8L177.8 1160.5L178.4 1162.1L178.2 1163.5L176.7 1164.4L177.5 1166.1L176.8 1167.2L176 1168.4L174.4 1169.3L178.1 1171.9L173.6 1171.8L176.5 1174.2L175.4 1175.2L175.2 1176.6L173.3 1177.4L171.7 1178.3L171.5 1179.7L171.7 1181.1L171 1182.3L170.5 1183.6L172.7 1185.6L175 1187.5L170.5 1187.8L170.4 1189.1L168.6 1190.1L169.6 1191.7L170.9 1193.4L169.5 1194.4L167.6 1195.4L167 1196.6L166.9 1198L169.3 1199.8L167.7 1200.9L166.6 1202L167.6 1203.6L165.9 1204.7L170.4 1206.8L166 1207.4L164.9 1208.6L167.1 1210.3L165.3 1211.4L164 1212.5L165.8 1214.2L167.1 1215.7L164 1216.6L167 1218.4L163.9 1219.3L168.9 1221.3L163.1 1221.9L164.7 1223.5L165.1 1224.8L162.5 1225.9L162.4 1227.3L164.5 1228.8L164.2 1230.1L165.1 1231.5L163.4 1232.8L161.6 1234L162.2 1235.4L163.3 1236.8L162.4 1238.1L162.1 1239.4L161.7 1240.8L163.4 1242.2L162 1243.5L160.7 1244.8L162 1246.2L162 1247.5L161.2 1248.8L160.6 1250.2Z" fill="#469F6F" stroke="#469F6F" stroke-width="0.8" stroke-linejoin="round"/>
<path d="M158 1240.5L171.1 1242.1M159.8 1217.8L168.8 1219.5" fill="none" stroke="#469F6F" stroke-width="2.4"/>
<path d="M209.8 1250.2L206.9 1248.9L207.5 1247.6L208.4 1246.3L207.7 1245L208.7 1243.8L207.8 1242.4L209.5 1241.2L207.7 1239.8L207.1 1238.5L207.9 1237.3L209.4 1236.1L209.3 1234.8L209.5 1233.5L209.6 1232.2L207.9 1230.8L206.5 1229.3L209.3 1228.3L207.6 1226.8L210.1 1225.8L209.4 1224.4L206.9 1222.8L209 1221.8L206.8 1220.2L210.4 1219.4L211.6 1218.3L210.6 1216.8L211.5 1215.6L211.8 1214.4L212.4 1213.2L211.9 1211.8L210.5 1210.2L210.7 1208.9L210.1 1207.5L211.9 1206.5L211.6 1205.1L213.9 1204.3L212.3 1202.6L213.1 1201.5L212 1199.9L212.7 1198.7L214.7 1197.9L213.2 1196.2L214.6 1195.2L214.4 1193.8L213.4 1192.2L214.6 1191.2L215.5 1190.1L213.3 1188.1L217.6 1188L216.5 1186.3L217.6 1185.3L217.7 1184L219.4 1183.2L218.4 1181.5L220.3 1180.8L219.7 1179.2L219.9 1177.9L220.1 1176.6L219.6 1175L222.1 1174.6L222.6 1173.4L222.1 1171.8L223.2 1170.9L223 1169.4L222.2 1167.6L223.3 1166.7L225.7 1166.3L226.6 1165.3L225.6 1163.5L226.9 1162.6L226.1 1160.8L226.3 1159.5L228.8 1159.3L228.8 1157.8L229.7 1156.8L229.8 1155.4L229.8 1154L231.2 1153.2L232 1152.2L232.7 1151.1L233.8 1150.3L234.2 1149L234.4 1147.6L236.9 1147.5L235.6 1145.3L236.6 1144.4L237.4 1143.4L236.1 1141.1L238.1 1140.8L239.4 1140.1L240.2 1139.1L240 1137.5L241.3 1136.8L241.8 1135.5L242.8 1134.6L242.1 1132.6L242.3 1131.2L243.8 1130.7L246.4 1130.9L245.7 1128.8L247.4 1128.4L247.7 1127L247.1 1125.1L247.3 1123.6L249.2 1123.3L250.1 1122.4L250.2 1120.9L249.9 1119L253.2 1119.9L253.8 1118.8L256.3 1119.1L254.5 1116L254.5 1114.3L257.7 1115.3L256.6 1112.6L257.7 1111.9L259 1111.3L260.1 1110.6L260.9 1109.5L263.5 1110.2L262.6 1107.6L265.4 1108.4L265.4 1106.6L265.6 1105.1L267.3 1104.9L267.2 1103.1L271.7 1107.4L271.2 1108.6L271.3 1110.5L270 1110.9L271.3 1113.9L268.4 1112.9L268.3 1114.4L266.1 1114.2L265.7 1115.5L266.7 1118L263.2 1116.7L261.8 1117.1L261.8 1118.7L259.9 1118.8L261.6 1121.7L260.7 1122.7L258.6 1122.6L257.8 1123.5L256.2 1123.9L256 1125.3L256.2 1127L255.6 1128.2L254 1128.5L253.1 1129.4L252.7 1130.7L253.4 1132.7L250.5 1132.2L251.3 1134.2L248.9 1134.1L248.7 1135.5L247.2 1136L249.6 1139.1L246.7 1138.7L246 1139.7L246.1 1141.3L245.7 1142.5L245 1143.5L242.9 1143.7L243.4 1145.5L241.6 1145.9L242.2 1147.7L239.8 1147.7L241.2 1150L242.6 1152.2L241.7 1153.1L240.7 1154L238.1 1154L237.1 1154.9L236.6 1156L235.2 1156.7L235.5 1158.3L235.3 1159.6L234.6 1160.6L236.2 1162.8L235.3 1163.7L232.4 1163.8L233.7 1165.7L231 1165.9L232.4 1167.9L231.1 1168.7L231.5 1170.2L229.6 1170.7L231.1 1172.7L228.4 1173L230.2 1175.1L228 1175.5L227 1176.5L226.9 1177.8L227.8 1179.5L225.7 1180L227.9 1182.1L225 1182.4L223.5 1183.2L225.3 1185.2L224 1186.1L225.4 1187.8L222 1188.1L224.7 1190.2L223.4 1191.1L221.9 1192L223.7 1193.8L221.9 1194.6L219.7 1195.3L220 1196.7L221.4 1198.3L221.2 1199.6L221.1 1200.8L219.3 1201.7L219.7 1203.1L219.3 1204.3L219.6 1205.6L221.3 1207.3L218.8 1208L218.2 1209.1L219 1210.6L217.4 1211.5L218.3 1213L217.9 1214.2L219.1 1215.7L217.9 1216.7L217.4 1217.9L216.2 1219L216.2 1220.2L215.9 1221.5L215.8 1222.7L215.4 1223.9L215.1 1225.1L215.7 1226.5L217.6 1227.9L216.1 1229L214.5 1230.1L214.5 1231.4L215.5 1232.7L215.8 1234L215.3 1235.2L214.8 1236.4L216.6 1237.8L215.9 1239L215.9 1240.2L217.1 1241.5L215.9 1242.7L214.8 1243.9L214.2 1245.2L216.4 1246.5L213.2 1247.7L215.3 1248.9L214.5 1250.2Z" fill="#469F6F" stroke="#469F6F" stroke-width="0.8" stroke-linejoin="round"/>
<path d="M257.3 1119.6L246.2 1113.1" fill="none" stroke="#469F6F" stroke-width="2.4"/>
<path d="M220.1 1048.8L210.1 1038.6L212.3 1036.4L213.3 1037.5L215.6 1035.3L212.2 1031.7L214.5 1029.5L219.8 1035.3L222.1 1033.2L218.1 1028.7L220.5 1026.6L219.7 1025.7L222.1 1023.6L220.7 1022L223.2 1019.9L228.9 1026.7L231.3 1024.7L230.2 1023.4L232.7 1021.4L232.6 1021.3L235 1019.3L232.4 1016L234.9 1014.1L237.6 1017.5L240.1 1015.6L233.8 1007.3L236.3 1005.4L241.5 1012.4L244.1 1010.5L244.8 1011.4L247.3 1009.6L248.4 1011.1L251 1009.3L250 1008L252.6 1006.2L253.2 1007L255.7 1005.3L254.3 1003L256.9 1001.3L257.6 1002.4L260.2 1000.7L258.8 998.4L261.5 996.7L262.1 997.7L264.8 996L263.4 993.8L266.1 992.1L268.1 995.4L270.8 993.8L271.3 994.7L274 993.1L273.5 992.2L276.3 990.7L274.9 988.2L277.7 986.7L277.6 986.5L280.4 985L281.3 986.7L284.1 985.2L280.4 978.1L283.3 976.6L288 986L290.8 984.7L288.5 979.8L291.3 978.4L292.6 981L295.5 979.7L296.4 981.8L299.3 980.6L297.7 977L300.6 975.7L300.4 975.3L303.4 974.1L305.5 979.1L308.4 977.9L308.6 978.5L311.5 977.4L309.4 972.1L312.4 970.9L313.9 975L316.9 973.9L316.3 972.3L319.2 971.3L319 970.7L322 969.6L322 969.5L325 968.5L326.2 972.2L329.2 971.3L328.6 969.5L331.6 968.6L330.9 966.3L333.9 965.4L331.3 956.5L334.4 955.6L337.1 965.2L340.2 964.3L340.2 964.5L343.3 963.7L342.7 961.4L345.7 960.6L345.1 958L348.2 957.2L348.7 959.2L351.8 958.5L351.9 959L355 958.3L353.9 953.3L357.1 952.7L358.9 961.7L362 961.1L361.2 957.1L364.3 956.5L365.1 960.5L368.2 959.9L366.4 949.7L369.6 949.1L371.1 958.4L374.2 957.9L373.5 953.4L376.7 953L376.6 952.6L379.8 952.2L380.7 958.9L383.8 958.5L382.3 946.5L385.5 946.1L386.6 956.2L389.8 955.9L389.4 952.5L392.6 952.2L392.7 953.1L395.8 952.8L396 955.4L399.2 955.2L398.3 942.8L401.6 942.6L402.4 956.1L405.5 955.9L405.4 954.2L408.6 954.1L408.6 955.1L411.7 955L412 967.2A283 283 0 0 0 220.1 1048.8Z" fill="#4DAF4A"/>
<path d="M231.1 1059.9L234.3 1061.2L234.5 1059.4L234.4 1057.3L235.6 1056.5L238 1057L238 1055.1L240 1055.1L240.1 1053.1L241.5 1052.6L242.5 1051.7L243.3 1050.5L243.4 1048.4L245.6 1048.9L245.5 1046.6L248.3 1047.8L249.1 1046.6L249.3 1044.6L250.8 1044.3L252.6 1044.3L252.2 1041.5L254.2 1041.8L255.7 1041.5L256.5 1040.3L257.1 1038.8L259.4 1039.4L259.9 1037.9L260.6 1036.4L262.4 1036.5L263.1 1035.2L264.2 1034.3L265.2 1033.2L266.2 1032.3L267.8 1032.1L269.2 1031.7L270.1 1030.6L270.3 1028.3L271.4 1027.5L273.4 1028L274.3 1026.8L275.9 1026.7L277.8 1027.1L278.3 1025.4L278.8 1023.4L280.1 1022.9L280.1 1020.3L283.3 1022.9L284.2 1021.6L285.2 1020.6L287 1020.9L288.1 1020.1L288.6 1018.2L290.5 1018.7L290.3 1015.4L292.2 1016L294.3 1016.9L294.2 1013.8L294.4 1011.1L297.3 1013.6L298.2 1012.4L299.8 1012.5L301.3 1012.3L302.8 1012.2L303.9 1011.3L305.5 1011.4L305.5 1008.2L307.3 1008.7L308.8 1008.6L310.1 1008.3L310.8 1006.4L313 1007.8L313.3 1005.1L314.4 1004.2L315.9 1004.1L317.5 1004.2L319.1 1004.6L320.5 1004.3L322.3 1005L323.4 1004L324.3 1002.5L325.5 1001.8L326.5 1000.4L328.2 1000.9L328.7 998.3L330.5 999.2L331.6 998L333.6 999.8L334.6 998.2L336.4 999.3L337.4 997.9L338.2 995.9L339.4 994.9L341.3 996.3L342.6 995.9L343.7 994.8L345.3 995.2L346.7 995.2L347.9 994L349.6 995.1L350.8 994.1L352.1 993.6L353.7 994.4L354.5 991.8L355.9 991.5L357.1 990.7L358.5 990.7L360.1 991.3L361.5 991.4L362.8 990.6L364 989.4L364.9 987L367.2 991.1L368.2 989.2L369.7 989.9L370.6 986.7L372.5 989.3L373.7 988.3L374.9 987.1L376.5 988.4L377.9 988.2L379.2 987.5L380.4 986.2L381.8 985.9L383.2 986.1L384.8 987.4L385.8 983.8L387.5 986.5L388.7 985L390.2 985.6L391.6 985.6L392.9 984.7L394.1 982L395.8 985.4L397.1 984.6L398.6 985.8L400.1 986.6L401.3 984.5L402.7 985.1L404 983.2L405.5 985.4L406.9 984L408.3 985L409.7 984.7L411 983.2L412.5 985.1L412.7 992.5L411.4 994.4L409.9 992.2L408.6 992.5L407.3 993.5L406.1 996.1L404.6 992.8L403.2 993.1L401.8 992.4L400.6 994.7L399.2 993.4L397.8 992.9L396.5 994.2L395.2 994.7L393.8 993.6L392.4 993.6L391.3 995.4L389.6 993.1L388.5 994.9L386.9 993.3L386 996.9L384.6 996.3L382.9 993.6L382 997L380.6 996.4L379.2 996.2L377.8 996.1L376.5 996.4L375.3 997.8L374 997.7L372.6 997.7L371.2 997.8L369.8 997.7L368.7 999L367.3 998.6L366.4 1000.9L364.6 998.8L363.2 998.8L362.5 1001.9L360.5 999.1L360 1002.7L357.9 999.9L357 1001.7L355.6 1001.8L354.4 1002.6L352.8 1001.8L351.5 1002.2L350.4 1003L348.6 1001.8L347.8 1003.9L346.4 1003.7L345.4 1005.2L343.6 1004L342.2 1004.1L340.8 1004L339.7 1005L338.8 1006.5L337.1 1005.7L336 1006.7L335.1 1008.2L333.5 1007.7L331.9 1007.3L331.4 1009.7L329.3 1008L328.2 1008.9L327.1 1009.9L326 1010.7L325.3 1012.6L323.3 1011.1L322.5 1013L320.3 1011L320 1013.7L318.4 1013.5L317.5 1014.9L316.4 1015.6L315.1 1015.9L313.5 1015.7L311.8 1015.3L311.3 1017.5L310.1 1018L308.6 1018L308.1 1020.1L306.1 1019.1L305.1 1020.1L304 1020.8L302.5 1020.9L301.6 1022L299.6 1021.2L299.5 1023.9L298.2 1024.2L296.8 1024.5L295.8 1025.5L295.5 1027.6L292.6 1025.3L292.2 1027.2L291.2 1028.2L290.9 1030.4L289.4 1030.5L287.5 1029.9L285.5 1029.2L285.1 1031.2L283.1 1030.4L282.9 1032.6L282.8 1035L280.8 1034.4L278.4 1033.2L278.6 1036L277.2 1036.2L276 1036.8L274.7 1037.4L273.7 1038.3L273.9 1040.9L271.9 1040.4L270.6 1040.9L270.6 1043.2L267.4 1041.1L267.3 1043.2L265.6 1043.1L264.6 1044L263.7 1045.1L263.6 1047.3L262.5 1048L260.2 1047.3L259.4 1048.4L258.2 1049L258.7 1051.8L256 1050.7L256 1052.7L253.6 1051.9L253.6 1054.1L252.4 1054.7L251.3 1055.5L251 1057.2L248.5 1056.4L247.5 1057.4L247 1058.8L245.6 1059.2L246.9 1062.7L242.8 1060.2L245.1 1064.6L243.2 1064.6L240.8 1064L240.1 1065.2L239.5 1066.5L237.1 1066Z" fill="#4DAF4A" stroke="#4DAF4A" stroke-width="0.8" stroke-linejoin="round"/>
<path d="M304.5 1015.4L311.5 1025.1" fill="none" stroke="#4DAF4A" stroke-width="2.4"/>
<path d="M271.3 1100.6L271.1 1098.6L272.1 1097.8L273.8 1097.6L274.7 1096.8L275.1 1095.4L275.3 1093.6L278 1094.7L278.8 1093.7L278.5 1091.5L280.5 1091.8L281.2 1090.6L283.3 1091.1L284.3 1090.3L284.8 1088.9L285.1 1087.3L287.1 1087.6L288 1086.8L288.6 1085.5L289.6 1084.6L290.2 1083.4L291.6 1083L292.7 1082.4L294.2 1082.3L294.8 1080.9L296.1 1080.6L295.2 1077.2L298.4 1079.3L298.5 1077.4L300.7 1078.3L300.4 1075.5L300.9 1074.1L302.3 1073.8L304.2 1074.4L305.1 1073.4L305.4 1071.5L307.5 1072.4L306.5 1068.4L309.1 1070.1L310.7 1070.2L310.7 1067.7L312.7 1068.6L313.7 1067.7L315 1067.5L315.3 1065.4L316.3 1064.6L317.6 1064.3L319 1064.1L319.2 1061.8L321.3 1063L322.3 1062L323.7 1062L323.3 1058.3L326.5 1061.8L326.9 1059.9L327.9 1058.9L328.4 1057L330.6 1058.6L331.7 1057.8L332.7 1057L333.5 1055.7L335.2 1056.3L336.4 1055.8L337 1053.9L338.6 1054.3L340 1054.6L340.4 1051.9L342.4 1053.5L343.8 1053.7L344.7 1052.3L346 1052.2L346.7 1050.3L347.7 1049.4L349.5 1050.4L350.5 1049.6L352 1049.8L353.1 1049.2L354.7 1049.8L355.9 1049.4L356.8 1047.9L357.7 1046.6L359.4 1047.7L360.8 1047.9L362.2 1048.2L363.3 1047.2L363.6 1043.4L365.4 1045.2L366.8 1045.7L368.1 1045.4L369.2 1044.7L370.7 1045.4L371.6 1043.3L373.2 1044.7L374.4 1044L375.9 1045.2L377 1044L378.4 1044.7L379.7 1044.9L380.8 1043.5L382.1 1043.6L383.4 1043.9L384.8 1044.3L385.8 1042.4L387.2 1043.3L388.3 1041.6L389.4 1040.3L390.7 1040.3L392 1040.6L393.4 1041.2L394.8 1042L395.8 1039.5L396.8 1037.2L398.3 1039.1L399.8 1040.9L400.9 1039.1L402.2 1039.6L403.4 1038.3L404.9 1040.9L406.1 1039.2L407.3 1038.1L408.6 1037.5L409.9 1038.6L411.3 1040L412.5 1038.2L413.8 1038.9L413.9 1044.5L412.7 1043.9L411.5 1047.5L410.2 1045.4L409 1045.2L407.7 1045.5L406.5 1046.4L405.3 1046.9L404.1 1046.9L402.7 1045.8L401.5 1046.4L400.4 1047L399 1045.7L397.8 1046.5L396.6 1046.7L395.5 1048.4L394.1 1047L392.9 1047.2L391.6 1047.5L390.5 1048.3L389.4 1049.2L388.5 1051.7L387.1 1050.6L385.7 1049.5L384.6 1050.3L383.2 1050L382.1 1050.6L381 1051.2L379.7 1051.1L378.1 1049.5L377 1050.2L375.5 1049.3L374.2 1049.3L373.5 1051.8L372.3 1052.2L370.8 1051.2L369.6 1051.5L368.3 1051.5L367.8 1054.5L365.9 1052.3L365 1053.7L363.5 1052.8L362.2 1052.9L361.2 1054L359.8 1053.5L358.8 1054.4L357.9 1055.8L356.6 1055.8L355.1 1055.3L354.4 1057.1L353.3 1057.6L351.2 1055.4L350.5 1057.1L350.2 1060.1L348.8 1059.8L346.8 1058L345.7 1058.6L345.6 1061.8L343.3 1059.3L342.5 1060.6L341.7 1062L339.8 1060.6L338.9 1061.7L338.2 1063.2L336.4 1062.2L335.5 1063.4L334.2 1063.4L332.8 1063.4L331.3 1063.1L330.2 1063.8L329.7 1065.6L329.4 1067.7L327.4 1066.6L326.7 1067.9L326.9 1071.1L323.9 1067.9L322.9 1068.6L322.3 1070.2L321 1070.4L320.2 1071.5L318.9 1071.9L319.3 1075.1L316.7 1072.9L316.4 1074.9L313.9 1073.1L313.7 1075.3L312.4 1075.5L311.7 1076.7L310.8 1077.7L309.4 1077.8L308.7 1078.9L307.5 1079.5L306.9 1080.7L305.4 1080.7L304.3 1081.3L304 1083L302.9 1083.6L301.2 1083.4L300.1 1084L300.6 1086.7L298.2 1085.6L298.1 1087.5L296.7 1087.8L295.7 1088.4L294.7 1089.2L293.3 1089.4L292.9 1090.9L292.1 1091.9L290.8 1092.2L289 1092L290.3 1095.5L290 1097.1L286.7 1095.1L288 1098.5L285.2 1097.1L284 1097.6L283.7 1099.1L282.7 1099.9L280.6 1099.4L280.2 1100.8L280.1 1102.5L279.6 1103.7L278.4 1104.3L276 1103.6L274.9 1104.2Z" fill="#4DAF4A" stroke="#4DAF4A" stroke-width="0.8" stroke-linejoin="round"/>
<path d="M331.5 1061.7L324.2 1048.4" fill="none" stroke="#4DAF4A" stroke-width="2.4"/></g>
<text x="416.3" y="1237.7" font-size="38.8" text-anchor="middle" font-style="italic">E. gulfia</text>
<text x="415.8" y="1286.8" font-size="38.8" text-anchor="middle">Gulf clade</text>
<g id="circosE"><path d="M418.9 1719.8A366.4 366.4 0 0 1 624.6 1782.9L601.1 1817.6A324.5 324.5 0 0 0 418.9 1761.7Z" fill="#E41A1C"/>
<path d="M418.9 1718.4A367.8 367.8 0 0 1 625.4 1781.8" fill="none" stroke="#000" stroke-width="3.4"/>
<path d="M627.7 1785.1A366.4 366.4 0 0 1 724 1883.3L689.2 1906.5A324.5 324.5 0 0 0 603.9 1819.5Z" fill="#A73E54"/>
<path d="M628.5 1783.9A367.8 367.8 0 0 1 725.2 1882.6" fill="none" stroke="#000" stroke-width="3.4"/>
<path d="M726.2 1886.5A366.4 366.4 0 0 1 778 2013.6L737 2021.9A324.5 324.5 0 0 0 691 1909.4Z" fill="#6B5E88"/>
<path d="M727.3 1885.8A367.8 367.8 0 0 1 779.4 2013.3" fill="none" stroke="#000" stroke-width="3.4"/>
<path d="M778.8 2017.4A366.4 366.4 0 0 1 774.6 2173.9L734 2163.8A324.5 324.5 0 0 0 737.6 2025.2Z" fill="#3981B0"/>
<path d="M780.2 2017.1A367.8 367.8 0 0 1 776 2174.2" fill="none" stroke="#000" stroke-width="3.4"/>
<path d="M773.7 2177.6A366.4 366.4 0 0 1 691 2331.5L659.9 2303.5A324.5 324.5 0 0 0 733.1 2167.1Z" fill="#409389"/>
<path d="M775.1 2177.9A367.8 367.8 0 0 1 692.1 2332.4" fill="none" stroke="#000" stroke-width="3.4"/>
<path d="M688.4 2334.3A366.4 366.4 0 0 1 577.9 2416.2L559.7 2378.5A324.5 324.5 0 0 0 657.6 2306Z" fill="#48A562"/>
<path d="M689.5 2335.3A367.8 367.8 0 0 1 578.5 2417.5" fill="none" stroke="#000" stroke-width="3.4"/>
<path d="M574.4 2417.9A366.4 366.4 0 0 1 480.9 2447.3L473.8 2406A324.5 324.5 0 0 0 556.7 2380Z" fill="#58A850"/>
<path d="M575 2419.2A367.8 367.8 0 0 1 481.1 2448.6" fill="none" stroke="#000" stroke-width="3.4"/>
<path d="M477.1 2447.9A366.4 366.4 0 0 1 358.7 2447.6L365.6 2406.2A324.5 324.5 0 0 0 470.4 2406.5Z" fill="#6E8570"/>
<path d="M477.3 2449.3A367.8 367.8 0 0 1 358.5 2449" fill="none" stroke="#000" stroke-width="3.4"/>
<path d="M355 2446.9A366.4 366.4 0 0 1 216 2391.3L239.2 2356.4A324.5 324.5 0 0 0 362.3 2405.7Z" fill="#89648F"/>
<path d="M354.7 2448.3A367.8 367.8 0 0 1 215.3 2392.4" fill="none" stroke="#000" stroke-width="3.4"/>
<path d="M212.8 2389.1A366.4 366.4 0 0 1 99.4 2265.5L135.9 2245A324.5 324.5 0 0 0 236.4 2354.5Z" fill="#A4528E"/>
<path d="M212.1 2390.3A367.8 367.8 0 0 1 98.2 2266.1" fill="none" stroke="#000" stroke-width="3.4"/>
<path d="M97.5 2262.1A366.4 366.4 0 0 1 52.5 2088.7L94.4 2088.4A324.5 324.5 0 0 0 134.3 2242Z" fill="#C9645A"/>
<path d="M96.3 2262.8A367.8 367.8 0 0 1 51.1 2088.7" fill="none" stroke="#000" stroke-width="3.4"/>
<path d="M52.5 2084.9A366.4 366.4 0 0 1 79.8 1947.4L118.6 1963.3A324.5 324.5 0 0 0 94.4 2085Z" fill="#EE7A20"/>
<path d="M51.1 2084.9A367.8 367.8 0 0 1 78.5 1946.9" fill="none" stroke="#000" stroke-width="3.4"/>
<path d="M81.3 1943.9A366.4 366.4 0 0 1 162.6 1824.3L191.9 1854.2A324.5 324.5 0 0 0 119.9 1960.1Z" fill="#FF980A"/>
<path d="M80 1943.3A367.8 367.8 0 0 1 161.7 1823.3" fill="none" stroke="#000" stroke-width="3.4"/>
<path d="M165.4 1821.6A366.4 366.4 0 0 1 283.4 1745.7L298.9 1784.7A324.5 324.5 0 0 0 194.4 1851.9Z" fill="#FDBF1B"/>
<path d="M164.4 1820.6A367.8 367.8 0 0 1 282.8 1744.4" fill="none" stroke="#000" stroke-width="3.4"/>
<path d="M286.9 1744.3A366.4 366.4 0 0 1 414.9 1719.8L415.3 1761.7A324.5 324.5 0 0 0 302 1783.4Z" fill="#DFD000"/>
<path d="M286.4 1743A367.8 367.8 0 0 1 414.9 1718.4" fill="none" stroke="#000" stroke-width="3.4"/>
<path d="M436.2 1718.8L436.4 1714.5M453.5 1720L453.9 1715.7M470.7 1722L471.3 1717.8M487.8 1724.9L488.6 1720.6M504.8 1728.5L505.8 1724.3M521.5 1733L522.7 1728.8M538 1738.2L539.4 1734.1M554.3 1744.2L555.9 1740.2M570.3 1750.9L572 1747M585.9 1758.4L587.8 1754.6M601.1 1766.7L603.3 1762.9M616 1775.6L618.3 1772M642.5 1794.2L645.2 1790.7M656.1 1805L658.8 1801.7M669 1816.5L672 1813.3M681.5 1828.6L684.5 1825.6M693.3 1841.2L696.5 1838.4M704.5 1854.4L707.9 1851.7M715.1 1868.1L718.6 1865.6M725.1 1882.3L728.7 1880M736.4 1900.5L740.1 1898.4M744.8 1915.7L748.6 1913.7M752.5 1931.2L756.4 1929.4M759.4 1947.1L763.4 1945.5M765.6 1963.3L769.6 1961.9M771 1979.8L775.1 1978.5M775.6 1996.5L779.8 1995.4M779.4 2013.4L783.6 2012.5M783 2034.2L787.3 2033.6M785.1 2051.4L789.3 2051M786.3 2068.7L790.6 2068.5M786.7 2086L791 2086M786.3 2103.3L790.6 2103.5M785.1 2120.6L789.4 2121M783 2137.8L787.3 2138.5M780.2 2154.9L784.4 2155.7M776.6 2171.9L780.7 2172.9M770.3 2194.6L774.5 2195.9M764.8 2211L768.9 2212.5M758.6 2227.2L762.6 2228.8M751.6 2243L755.4 2244.9M743.8 2258.5L747.6 2260.6M735.3 2273.7L739 2275.8M726.1 2288.3L729.7 2290.7M716.3 2302.6L719.7 2305.1M705.7 2316.4L709.1 2319.1M694.6 2329.6L697.8 2332.5M677.4 2347.8L680.4 2350.8M664.8 2359.7L667.7 2362.8M651.7 2370.9L654.4 2374.3M638 2381.6L640.5 2385M623.8 2391.6L626.2 2395.1M609.2 2400.9L611.4 2404.6M594.2 2409.5L596.2 2413.3M578.7 2417.4L580.6 2421.3M559.2 2426.1L560.8 2430.1M543 2432.4L544.5 2436.4M526.6 2437.8L527.8 2442M509.9 2442.5L510.9 2446.7M493 2446.4L493.8 2450.6M460.2 2451.6L460.6 2455.9M442.9 2453.2L443.2 2457.5M425.6 2453.9L425.7 2458.2M408.2 2453.8L408.1 2458.1M390.9 2452.9L390.6 2457.2M373.7 2451.2L373.2 2455.4M337.7 2444.9L336.8 2449.1M320.9 2440.7L319.8 2444.8M304.3 2435.6L303 2439.7M288 2429.9L286.5 2433.9M271.9 2423.3L270.2 2427.3M256.2 2416L254.3 2419.9M240.9 2408L238.8 2411.8M225.9 2399.2L223.6 2402.9M198 2380.2L195.4 2383.6M184.4 2369.5L181.6 2372.8M171.3 2358.1L168.4 2361.3M158.7 2346.1L155.7 2349.2M146.8 2333.6L143.6 2336.5M135.4 2320.5L132.1 2323.2M124.7 2306.9L121.3 2309.5M114.6 2292.8L111.1 2295.2M105.2 2278.2L101.6 2280.5M88.3 2247.4L84.5 2249.3M81.1 2231.6L77.1 2233.3M74.6 2215.6L70.6 2217.1M68.9 2199.2L64.8 2200.5M64 2182.6L59.8 2183.7M59.8 2165.8L55.6 2166.7M56.5 2148.8L52.2 2149.5M53.9 2131.6L49.7 2132.1M52.2 2114.4L47.9 2114.7M51.3 2097.1L47 2097.2M51.6 2067.5L47.3 2067.3M52.9 2050.3L48.6 2049.8M55 2033.1L50.7 2032.4M57.9 2016L53.6 2015.1M61.6 1999L57.4 1998M66.1 1982.3L61.9 1981.1M71.3 1965.8L67.3 1964.4M77.4 1949.6L73.4 1948M87.1 1927.5L83.2 1925.7M94.9 1912.1L91.1 1910M103.5 1897L99.8 1894.8M112.7 1882.3L109.1 1880M122.7 1868.1L119.2 1865.6M133.3 1854.4L129.9 1851.7M144.5 1841.2L141.3 1838.4M156.3 1828.6L153.3 1825.6M177.2 1808.9L174.4 1805.7M190.5 1797.8L187.9 1794.5M204.4 1787.4L201.9 1783.9M218.7 1777.6L216.3 1774M233.4 1768.5L231.3 1764.8M248.6 1760.1L246.6 1756.3M264.2 1752.5L262.4 1748.6M280 1745.6L278.4 1741.6M302.7 1737.2L301.4 1733.1M319.3 1732.1L318.1 1727.9M336.1 1727.8L335.1 1723.6M353.1 1724.3L352.3 1720.1M370.2 1721.6L369.6 1717.3M387.4 1719.7L387.1 1715.4M404.7 1718.6L404.6 1714.3" fill="none" stroke="#000" stroke-width="2.9"/>
<g font-size="18.4" fill="#000"><text transform="translate(436.5 1713.3) rotate(-87.3)">5M</text><text transform="translate(454 1714.5) rotate(-84.6)">10M</text><text transform="translate(471.5 1716.6) rotate(-81.9)">15M</text><text transform="translate(488.8 1719.5) rotate(-79.2)">20M</text><text transform="translate(506 1723.2) rotate(-76.5)">25M</text><text transform="translate(523 1727.7) rotate(-73.8)">30M</text><text transform="translate(539.8 1733) rotate(-71.1)">35M</text><text transform="translate(556.3 1739.1) rotate(-68.4)">40M</text><text transform="translate(572.5 1745.9) rotate(-65.7)">45M</text><text transform="translate(588.4 1753.5) rotate(-63)">50M</text><text transform="translate(603.9 1761.9) rotate(-60.3)">55M</text><text transform="translate(618.9 1771) rotate(-57.6)">60M</text><text transform="translate(645.9 1789.8) rotate(-52.5)">5M</text><text transform="translate(659.6 1800.8) rotate(-49.9)">10M</text><text transform="translate(672.8 1812.5) rotate(-47.1)">15M</text><text transform="translate(685.4 1824.7) rotate(-44.5)">20M</text><text transform="translate(697.4 1837.6) rotate(-41.8)">25M</text><text transform="translate(708.8 1851) rotate(-39)">30M</text><text transform="translate(719.6 1864.9) rotate(-36.3)">35M</text><text transform="translate(729.6 1879.3) rotate(-33.6)">40M</text><text transform="translate(741.2 1897.8) rotate(-30.3)">5M</text><text transform="translate(749.7 1913.1) rotate(-27.6)">10M</text><text transform="translate(757.5 1928.9) rotate(-24.9)">15M</text><text transform="translate(764.5 1945) rotate(-22.2)">20M</text><text transform="translate(770.8 1961.5) rotate(-19.5)">25M</text><text transform="translate(776.2 1978.2) rotate(-16.8)">30M</text><text transform="translate(780.9 1995.1) rotate(-14.1)">35M</text><text transform="translate(784.8 2012.3) rotate(-11.4)">40M</text><text transform="translate(788.5 2033.4) rotate(-8.1)">5M</text><text transform="translate(790.5 2050.9) rotate(-5.4)">10M</text><text transform="translate(791.8 2068.4) rotate(-2.7)">15M</text><text transform="translate(792.2 2086) rotate(-0)">20M</text><text transform="translate(791.8 2103.6) rotate(2.7)">25M</text><text transform="translate(790.6 2121.2) rotate(5.4)">30M</text><text transform="translate(788.5 2138.6) rotate(8.1)">35M</text><text transform="translate(785.6 2156) rotate(10.8)">40M</text><text transform="translate(781.9 2173.2) rotate(13.5)">45M</text><text transform="translate(775.6 2196.2) rotate(17.2)">5M</text><text transform="translate(770 2212.9) rotate(19.9)">10M</text><text transform="translate(763.7 2229.3) rotate(22.6)">15M</text><text transform="translate(756.5 2245.4) rotate(25.2)">20M</text><text transform="translate(748.7 2261.1) rotate(28)">25M</text><text transform="translate(740 2276.5) rotate(30.7)">30M</text><text transform="translate(730.7 2291.4) rotate(33.4)">35M</text><text transform="translate(720.7 2305.8) rotate(36.1)">40M</text><text transform="translate(710 2319.8) rotate(38.8)">45M</text><text transform="translate(698.7 2333.3) rotate(41.4)">50M</text><text transform="translate(681.3 2351.7) rotate(45.3)">5M</text><text transform="translate(668.5 2363.7) rotate(48)">10M</text><text transform="translate(655.1 2375.2) rotate(50.7)">15M</text><text transform="translate(641.3 2386) rotate(53.4)">20M</text><text transform="translate(626.9 2396.1) rotate(56.1)">25M</text><text transform="translate(612.1 2405.6) rotate(58.8)">30M</text><text transform="translate(596.8 2414.3) rotate(61.5)">35M</text><text transform="translate(581.1 2422.4) rotate(64.2)">40M</text><text transform="translate(561.3 2431.2) rotate(67.6)">5M</text><text transform="translate(544.9 2437.6) rotate(70.3)">10M</text><text transform="translate(528.2 2443.1) rotate(73)">15M</text><text transform="translate(511.2 2447.9) rotate(75.7)">20M</text><text transform="translate(494.1 2451.8) rotate(78.4)">25M</text><text transform="translate(460.8 2457.1) rotate(83.6)">5M</text><text transform="translate(443.2 2458.7) rotate(86.3)">10M</text><text transform="translate(425.7 2459.4) rotate(89)">15M</text><text transform="translate(410.2 2463.4) rotate(-88.3)" text-anchor="end">20M</text><text transform="translate(392.4 2462.6) rotate(-85.6)" text-anchor="end">25M</text><text transform="translate(374.7 2461) rotate(-82.9)" text-anchor="end">30M</text><text transform="translate(337.8 2454.7) rotate(-77.2)" text-anchor="end">5M</text><text transform="translate(320.5 2450.5) rotate(-74.5)" text-anchor="end">10M</text><text transform="translate(303.5 2445.5) rotate(-71.8)" text-anchor="end">15M</text><text transform="translate(286.7 2439.6) rotate(-69.1)" text-anchor="end">20M</text><text transform="translate(270.2 2433) rotate(-66.4)" text-anchor="end">25M</text><text transform="translate(254 2425.6) rotate(-63.8)" text-anchor="end">30M</text><text transform="translate(238.2 2417.5) rotate(-61)" text-anchor="end">35M</text><text transform="translate(222.8 2408.6) rotate(-58.3)" text-anchor="end">40M</text><text transform="translate(194 2389.2) rotate(-53.1)" text-anchor="end">5M</text><text transform="translate(180 2378.3) rotate(-50.4)" text-anchor="end">10M</text><text transform="translate(166.5 2366.7) rotate(-47.7)" text-anchor="end">15M</text><text transform="translate(153.5 2354.5) rotate(-45)" text-anchor="end">20M</text><text transform="translate(141.2 2341.7) rotate(-42.3)" text-anchor="end">25M</text><text transform="translate(129.4 2328.3) rotate(-39.6)" text-anchor="end">30M</text><text transform="translate(118.4 2314.4) rotate(-36.9)" text-anchor="end">35M</text><text transform="translate(107.9 2300) rotate(-34.2)" text-anchor="end">40M</text><text transform="translate(98.2 2285.1) rotate(-31.5)" text-anchor="end">45M</text><text transform="translate(80.7 2253.6) rotate(-26)" text-anchor="end">5M</text><text transform="translate(73.2 2237.5) rotate(-23.3)" text-anchor="end">10M</text><text transform="translate(66.4 2221) rotate(-20.6)" text-anchor="end">15M</text><text transform="translate(60.5 2204.3) rotate(-17.9)" text-anchor="end">20M</text><text transform="translate(55.3 2187.2) rotate(-15.2)" text-anchor="end">25M</text><text transform="translate(50.9 2170) rotate(-12.5)" text-anchor="end">30M</text><text transform="translate(47.4 2152.6) rotate(-9.8)" text-anchor="end">35M</text><text transform="translate(44.7 2135) rotate(-7.1)" text-anchor="end">40M</text><text transform="translate(42.8 2117.3) rotate(-4.4)" text-anchor="end">45M</text><text transform="translate(41.7 2099.6) rotate(-1.7)" text-anchor="end">50M</text><text transform="translate(41.9 2069.3) rotate(2.9)" text-anchor="end">5M</text><text transform="translate(43.1 2051.5) rotate(5.6)" text-anchor="end">10M</text><text transform="translate(45.1 2033.9) rotate(8.3)" text-anchor="end">15M</text><text transform="translate(48 2016.3) rotate(11)" text-anchor="end">20M</text><text transform="translate(51.7 1998.9) rotate(13.7)" text-anchor="end">25M</text><text transform="translate(56.2 1981.7) rotate(16.4)" text-anchor="end">30M</text><text transform="translate(61.6 1964.8) rotate(19.1)" text-anchor="end">35M</text><text transform="translate(67.7 1948.1) rotate(21.8)" text-anchor="end">40M</text><text transform="translate(77.5 1925.4) rotate(25.6)" text-anchor="end">5M</text><text transform="translate(85.4 1909.5) rotate(28.2)" text-anchor="end">10M</text><text transform="translate(94.1 1894) rotate(31)" text-anchor="end">15M</text><text transform="translate(103.5 1878.9) rotate(33.7)" text-anchor="end">20M</text><text transform="translate(113.6 1864.3) rotate(36.4)" text-anchor="end">25M</text><text transform="translate(124.4 1850.1) rotate(39.1)" text-anchor="end">30M</text><text transform="translate(135.9 1836.5) rotate(41.8)" text-anchor="end">35M</text><text transform="translate(147.9 1823.5) rotate(44.5)" text-anchor="end">40M</text><text transform="translate(169.2 1803.1) rotate(48.9)" text-anchor="end">5M</text><text transform="translate(182.8 1791.7) rotate(51.6)" text-anchor="end">10M</text><text transform="translate(197 1780.9) rotate(54.3)" text-anchor="end">15M</text><text transform="translate(211.6 1770.8) rotate(57)" text-anchor="end">20M</text><text transform="translate(226.7 1761.4) rotate(59.7)" text-anchor="end">25M</text><text transform="translate(242.2 1752.7) rotate(62.4)" text-anchor="end">30M</text><text transform="translate(258.1 1744.7) rotate(65.1)" text-anchor="end">35M</text><text transform="translate(274.4 1737.5) rotate(67.8)" text-anchor="end">40M</text><text transform="translate(297.6 1728.8) rotate(71.6)" text-anchor="end">5M</text><text transform="translate(314.6 1723.5) rotate(74.3)" text-anchor="end">10M</text><text transform="translate(331.8 1718.9) rotate(77)" text-anchor="end">15M</text><text transform="translate(349.2 1715.2) rotate(79.7)" text-anchor="end">20M</text><text transform="translate(366.7 1712.4) rotate(82.4)" text-anchor="end">25M</text><text transform="translate(384.4 1710.3) rotate(85.1)" text-anchor="end">30M</text><text transform="translate(402.1 1709.1) rotate(87.8)" text-anchor="end">35M</text></g>
<g font-size="28.2" fill="#fff"><text transform="translate(520.2 1756.2) rotate(17.1)" text-anchor="middle" dy="10.2">Chr1</text><text transform="translate(665.4 1844.5) rotate(45.6)" text-anchor="middle" dy="10.2">Chr2</text><text transform="translate(738.4 1955.7) rotate(67.8)" text-anchor="middle" dy="10.2">Chr3</text><text transform="translate(763.9 2095.3) rotate(-88.5)" text-anchor="middle" dy="10.2">Chr4</text><text transform="translate(723 2249.5) rotate(-61.8)" text-anchor="middle" dy="10.2">Chr5</text><text transform="translate(624.4 2363.5) rotate(-36.5)" text-anchor="middle" dy="10.2">Chr6</text><text transform="translate(522.3 2415.5) rotate(-17.4)" text-anchor="middle" dy="10.2">Chr7</text><text transform="translate(418 2431.3) rotate(0.2)" text-anchor="middle" dy="10.2">Chr8</text><text transform="translate(290.5 2406.5) rotate(21.8)" text-anchor="middle" dy="10.2">Chr9</text><text transform="translate(164.6 2319.5) rotate(47.5)" text-anchor="middle" dy="10.2">Chr10</text><text transform="translate(84.8 2172.9) rotate(75.4)" text-anchor="middle" dy="10.2">Chr11</text><text transform="translate(80.4 2019) rotate(-78.8)" text-anchor="middle" dy="10.2">Chr12</text><text transform="translate(133.6 1892) rotate(-55.8)" text-anchor="middle" dy="10.2">Chr13</text><text transform="translate(232.2 1795.8) rotate(-32.7)" text-anchor="middle" dy="10.2">Chr14</text><text transform="translate(353.8 1747.2) rotate(-10.9)" text-anchor="middle" dy="10.2">Chr15</text></g>
<path d="M417.4 1802.2L417.3 1789.4L420 1789.4L420 1786.8L422.7 1786.8L422.7 1781.6L425.5 1781.7L425.2 1793.4L427.8 1793.5L427.8 1792.7L430.5 1792.8L430.6 1789.2L433.2 1789.3L433 1794.8L435.6 1795L435.8 1791.3L438.4 1791.4L438.4 1791.3L441.1 1791.5L440.8 1794.9L443.4 1795.1L443.6 1792.3L446.2 1792.5L446.3 1791.8L448.9 1792L448.7 1794.9L451.3 1795.1L451.3 1794.4L453.9 1794.7L454.2 1792.4L456.8 1792.7L456.3 1796.6L458.9 1796.9L459.1 1795.9L461.6 1796.3L463 1787.1L465.7 1787.5L464.6 1794.4L467.2 1794.8L466.7 1797.9L469.2 1798.4L469.8 1795.2L472.4 1795.6L474.4 1784.5L477.1 1785L474.4 1799.2L476.9 1799.7L478 1794.7L480.5 1795.2L480.5 1795.4L483.1 1796L482.6 1798L485.2 1798.6L486.9 1791.2L489.5 1791.9L487.5 1800.4L490 1801L491.2 1796.3L493.8 1797L493.9 1796.6L496.5 1797.3L495 1802.9L497.5 1803.6L497.9 1802.2L500.4 1802.9L500.6 1802.3L503.1 1803L502.6 1804.6L505.1 1805.4L505.7 1803.4L508.3 1804.2L507.3 1807.2L509.8 1808L510.8 1804.8L513.4 1805.6L512.7 1807.6L515.2 1808.4L515.3 1808L517.8 1808.9L518.1 1807.9L520.6 1808.8L520.9 1808L523.4 1808.9L521.9 1812.9L524.3 1813.9L528 1804.4L530.5 1805.4L528.2 1811.2L530.6 1812.2L529.7 1814.4L532.2 1815.4L533.6 1812L536 1813L534.1 1817.4L536.5 1818.5L536.8 1817.8L539.2 1818.9L540.1 1816.7L542.5 1817.8L541.7 1819.7L544 1820.8L546.1 1816.4L548.5 1817.6L547.5 1819.7L549.9 1820.9L553.8 1812.8L556.3 1814L551.2 1824L553.6 1825.2L553.8 1824.8L556.1 1826L558.6 1821.3L560.9 1822.6L558.6 1827L560.9 1828.2L563.1 1824.2L565.4 1825.5L563.3 1829.2L565.6 1830.5L566.8 1828.5L569.1 1829.8L570 1828.2L572.3 1829.5L575.2 1824.7L577.5 1826.1L571.9 1835.4L574.1 1836.8L574.8 1835.6L577.1 1837L578.9 1834L581.2 1835.5L580 1837.3L582.2 1838.7L582.8 1837.8L585 1839.3L584.2 1840.5L586.4 1842L579.6 1852A284 284 0 0 0 417.4 1802.2Z" fill="#E41A1C"/>
<path d="M417.5 1819.3L418.9 1819.6L420.3 1818.7L421.7 1819.4L423.1 1819.7L424.5 1820.6L425.9 1818.4L427.3 1817.8L428.6 1820L430 1820L431.5 1819L432.9 1819.4L434.2 1821.1L435.4 1823.2L436.9 1821.5L438.4 1820.1L439.8 1820.5L441 1822.4L442.5 1821.4L443.8 1822.5L445.2 1821.9L446.6 1822.6L448.3 1819.1L449.3 1823.3L450.7 1823L452 1823.8L453.5 1822.7L454.9 1823.1L456 1824.9L457.6 1823.5L458.7 1825.6L460.5 1822.9L461.6 1825.1L463.2 1823.8L464.2 1825.9L465.8 1824.9L467.1 1826L468.5 1825.7L470 1825.1L471.4 1825.5L472.7 1826.1L473.8 1827.7L475.8 1824.7L476.6 1827.5L478.1 1827.2L479 1829.4L480.7 1828.3L482.3 1827.6L484 1826.7L484.7 1829.4L486.4 1828.5L488 1828L489 1829.5L490.3 1829.9L492 1829.2L493.1 1830.3L494.6 1830.2L495.4 1832.3L497.4 1830.6L499 1830.3L499.8 1832.2L501.1 1832.7L503.5 1830.1L503.7 1833.7L505.4 1833.2L506.2 1835.1L507.7 1834.9L509.2 1834.8L510.4 1835.8L511.2 1837.7L512.7 1837.4L513.7 1838.9L516.3 1835.9L516.3 1839.7L517.2 1841.2L519.6 1839L520.6 1840.1L521.3 1842.2L524.1 1839L525.1 1840.3L525.4 1843.1L526.2 1844.7L528.6 1842.8L529 1845.2L530.4 1845.5L531.9 1845.5L533.1 1846.2L534.9 1845.7L535.6 1847.4L537.2 1847.4L538.6 1847.8L540.1 1847.8L540.5 1850.1L542.7 1848.9L542.5 1852.2L545.1 1850.3L545.8 1852L547.4 1852.1L547.8 1854.1L549.9 1853.3L550 1855.9L552 1855.2L552.6 1857L554.1 1857.1L555.5 1857.5L558 1856L556.5 1861.3L559.1 1859.6L560.7 1859.6L560.7 1862.3L562.4 1862.2L562.6 1864.4L564 1864.9L565 1865.8L567.6 1864.4L568.7 1865.3L569 1867.3L563.7 1875L561.5 1875.9L561.1 1874.1L558.4 1875.8L558.1 1873.9L557.4 1872.4L557.5 1869.9L555.2 1870.9L554 1870.4L553.5 1868.7L550.9 1870.3L550.9 1867.7L550.1 1866.5L549.2 1865.4L546.3 1867.8L544.8 1867.7L545.1 1864.4L544.5 1862.9L542.3 1864L542 1861.8L540.5 1861.7L539.4 1861L538.4 1860.1L537.2 1859.5L536 1858.8L535.1 1857.8L533.9 1857.1L533.1 1855.7L531.1 1856.7L530.6 1854.8L528.3 1856.4L527.9 1854.1L526.1 1854.8L524.8 1854.4L524.8 1851.3L522.5 1853.2L521.1 1853L520.4 1851.2L519.3 1850.4L517.3 1851.8L516.5 1850.2L515.2 1849.8L513.2 1851.2L512 1850.5L510.8 1850.1L510.1 1848.1L509.3 1846.4L507.8 1846.8L506.2 1847.3L505.5 1845.2L503.9 1845.7L502.4 1845.9L502.3 1842.3L500.7 1842.8L499.3 1842.7L497.7 1843.3L496.9 1841.3L494.8 1843.5L494.3 1840.6L492.6 1841.5L491.6 1840.3L489.8 1841.7L489.2 1838.9L487.7 1839.5L486 1840.6L484.5 1840.9L483.6 1839L482.4 1838.4L481.4 1837L479.5 1839L477.8 1840.3L477.1 1837.5L475.8 1837.5L474.4 1837.5L473.2 1836.8L471.8 1836.7L470.6 1835.9L469.1 1837L468.1 1834.9L466.4 1836.6L465.5 1834.5L463.9 1835.4L462.6 1835.1L461.5 1833.9L459.8 1835.9L458.3 1836.8L457 1837L456 1834.3L454.7 1834.3L453.6 1832.3L452.2 1833.2L450.8 1833.2L449.5 1832.8L448.2 1832.8L447 1831.1L445.6 1832L444.2 1832.2L442.9 1832.1L441.6 1831.5L440.2 1831.6L438.9 1831.1L437.6 1831.5L436.3 1831L434.8 1832.8L433.4 1833.7L432.3 1830L430.9 1830.6L429.5 1832.4L428.2 1831L427 1828.7L425.6 1828.2L424.2 1831.3L422.9 1829.7L421.6 1830.9L420.2 1829.4L418.9 1831.4L417.6 1830.4Z" fill="#E41A1C" stroke="#E41A1C" stroke-width="0.8" stroke-linejoin="round"/>
<path d="M417.8 1871.9L419.1 1875L420.4 1870.2L421.7 1872.3L423 1872.4L424.3 1873.9L425.6 1875.2L426.9 1873.5L428.2 1873.5L429.6 1872L430.9 1872.9L432.2 1872.8L433.6 1870.6L434.8 1872.7L436.1 1873.4L437.4 1873.3L438.8 1872.4L439.9 1874.1L441.3 1873.3L442.7 1873.2L443.9 1874.2L444.9 1876.3L446.6 1873.7L447.6 1875.9L449.4 1872.6L450.4 1874.7L451.4 1876.6L453 1875.4L454.3 1875.4L455.6 1875.5L456.6 1877.3L458.3 1875.5L459.2 1877.7L460.5 1877.8L462 1876.6L462.9 1878.7L464.9 1875.7L465.4 1879.4L466.8 1879.2L468.4 1878.4L469.2 1880.3L471 1878.8L472.3 1878.8L473.6 1879.1L474.9 1879.3L476.8 1877.4L477.5 1879.7L478.2 1881.9L479.7 1881.5L480.6 1883.1L482.4 1881.5L483.2 1883.6L484.5 1883.7L486.5 1881.8L487.1 1884.1L488.5 1883.9L488.9 1886.8L491 1884.8L492.9 1883.5L493.1 1886.8L495.3 1884.6L495.7 1887.2L497.7 1885.8L498 1888.5L498.7 1890.3L500.2 1890L502.1 1888.9L502.9 1890.2L503.6 1891.9L505.6 1890.6L506.6 1891.6L508 1891.8L508.8 1893.2L510.3 1893L511.1 1894.4L512.9 1893.7L514.9 1892.6L515 1895.3L516.6 1895L516.9 1897.4L518.5 1897.1L519.4 1898.2L520.9 1898.2L521.1 1900.5L523.2 1899.4L523.9 1900.8L524.3 1902.8L527 1900.7L528.5 1900.8L528.3 1903.6L530.5 1902.6L531.7 1903.2L532.4 1904.5L533.4 1905.3L533.8 1907.1L535.8 1906.4L536.9 1907.2L538.2 1907.6L540.2 1907L539.9 1909.8L536.4 1914.8L535.5 1913.9L534.4 1913.4L533.4 1912.4L531.9 1912.5L529.6 1913.7L529.8 1911L528.3 1911.1L527 1910.6L526.7 1908.8L524.4 1910.2L524.5 1907.6L522.2 1909L520.8 1908.9L520.7 1906.5L519.5 1906L518.1 1905.9L517.3 1904.7L516.6 1903.5L515.6 1902.6L513.2 1904.4L513.7 1900.8L512.1 1901L511.6 1899.2L509.8 1900L506.7 1903.5L507.4 1899.2L505.5 1900.2L504.5 1899.3L503.7 1898L502.2 1898.4L501 1898L500.1 1896.8L499.7 1894.6L497.9 1895.7L496.5 1895.8L494.8 1896.6L494.1 1894.9L493.6 1892.8L492.2 1892.7L490.8 1892.8L489.9 1891.8L487.7 1894L486.6 1893.4L485 1894.4L484.9 1890.7L484.2 1888.8L482.6 1889.7L481 1890.5L480.3 1888.5L478.6 1889.7L477.7 1888.3L476.1 1889.1L474.5 1890.1L473.8 1888.2L472.7 1887.3L471.6 1886.5L470.1 1887.3L468.8 1887.3L467.3 1888L466.7 1885.4L465.1 1886.5L464.1 1885.6L463.2 1883.5L461.6 1884.8L460.9 1882.1L459.2 1884.1L457.9 1884.3L456.8 1883.4L455.6 1883L454.2 1883.5L453 1883.2L451.7 1883.1L450.5 1882.6L449.3 1881.9L448.1 1881.7L446.6 1883.5L445.4 1882.9L444.2 1882.1L442.9 1882.5L441.7 1881.5L440.4 1881.9L439.2 1881.2L438 1880.6L436.7 1880.7L435.5 1880.5L434.3 1879.8L433 1880L431.7 1881.2L430.4 1881.9L429.3 1878.9L427.9 1879.9L426.6 1881.2L425.3 1882.3L424.1 1881.2L422.9 1878.2L421.6 1878.6L420.4 1879.1L419.1 1882.4L417.8 1878.6Z" fill="#E41A1C" stroke="#E41A1C" stroke-width="0.8" stroke-linejoin="round"/>
<path d="M533.1 1909.9L539.2 1903.4M482.4 1886L483.1 1877.9" fill="none" stroke="#E41A1C" stroke-width="2.4"/>
<path d="M579.6 1852L587.8 1839.9L590.1 1841.4L589.2 1842.7L591.3 1844.3L591 1844.7L593.2 1846.3L594.4 1844.6L596.6 1846.2L597.6 1844.8L599.7 1846.5L595.3 1852.4L597.4 1854L598.9 1852L601 1853.6L604.2 1849.6L606.3 1851.3L604.4 1853.7L606.5 1855.4L608 1853.5L610.1 1855.2L610.5 1854.7L612.6 1856.4L612.9 1856.1L615 1857.8L611.8 1861.6L613.8 1863.3L621.1 1854.9L623.2 1856.7L615.9 1864.9L617.9 1866.7L618.3 1866.3L620.3 1868.1L621.1 1867.2L623.1 1869L621.1 1871.1L623.1 1873L623.2 1872.8L625.2 1874.6L631.6 1868L633.6 1869.9L624.3 1879.3L626.2 1881.1L629.4 1877.9L631.3 1879.8L632.1 1879.1L633.9 1881L633 1881.9L634.9 1883.8L639.1 1879.8L641 1881.8L638.1 1884.5L639.9 1886.5L637.6 1888.5L639.4 1890.5L639 1890.9L640.7 1892.9L643.4 1890.6L645.1 1892.6L644.8 1892.9L646.5 1894.9L649.4 1892.5L651.1 1894.6L646 1898.9L647.6 1900.9L650.1 1898.9L651.8 1901L649.9 1902.5L651.5 1904.6L657.4 1900.1L659.1 1902.2L662 1900L663.6 1902.2L665.7 1900.7L667.3 1902.9L655 1912L656.6 1914.1L658.9 1912.4L660.5 1914.6L663.7 1912.3L665.2 1914.6L663.2 1915.9L664.8 1918.2L664.5 1918.3L666 1920.6L672.2 1916.4L673.7 1918.7L656.2 1930.2A284 284 0 0 0 579.6 1852Z" fill="#A73E54"/>
<path d="M569 1867.3L570.7 1867.4L573 1866.5L573.7 1867.9L573.8 1870.2L574.5 1871.6L576.6 1871.1L576.7 1873.3L577.5 1874.6L579.9 1873.6L580.6 1875.1L580.6 1877.4L583.8 1875.5L583.4 1878.3L585.2 1878.3L585.2 1880.5L587.2 1880.2L586.4 1883.3L590.1 1881.2L590 1883.4L589.9 1885.7L591.6 1885.8L593 1886.3L594.7 1886.5L596.3 1886.8L594.7 1890.6L596.5 1890.8L597.7 1891.5L597.9 1893.3L601.1 1891.9L601.9 1893.1L600.8 1896.2L603.5 1895.4L603.6 1897.3L605.1 1897.7L608.8 1896L606.6 1900.2L609.5 1899.3L608.2 1902.5L609.8 1902.9L610.6 1904L611.9 1904.8L612.3 1906.3L613.4 1907.1L614.4 1908.1L615.4 1909L615.9 1910.4L618.2 1910.3L618.9 1911.5L620.4 1912.1L619.6 1914.6L623.3 1913.3L622 1916.2L623.6 1916.7L623 1919L624.6 1919.4L625.7 1920.3L628 1920.3L627.4 1922.6L629.2 1923L630.9 1923.4L630.3 1925.6L632.5 1925.7L631.3 1928.3L632.7 1929L633.1 1930.4L632.9 1932.3L636.4 1931.5L638.7 1931.6L638.4 1933.5L640.2 1934L638.4 1936.9L639.2 1938L640.8 1938.7L640.9 1940.3L632.9 1945.5L630.7 1945.4L630.3 1944L629.2 1943.1L629 1941.7L628.7 1940.3L629.6 1938L626.3 1938.7L624.1 1938.7L621.8 1938.7L624.5 1935L624.2 1933.6L622.7 1933L623 1931.1L621.2 1930.8L620.6 1929.6L619.2 1929L619.8 1926.8L617.4 1927L616.3 1926.2L616 1924.7L615.4 1923.5L614.7 1922.3L614.9 1920.4L610.5 1922.4L612.3 1919.1L610.2 1919.2L610.8 1916.8L609.6 1916.1L607.8 1915.9L606 1915.7L605.7 1914.2L604 1914L604.1 1912L602.7 1911.5L602.5 1909.9L599.1 1911.3L601.1 1907.6L598.3 1908.5L598.6 1906.3L598 1905L597.5 1903.5L596.1 1903.1L594.3 1903L592.9 1902.5L592.3 1901.3L591 1900.7L591 1898.7L590.5 1897.4L588.9 1897.1L587.6 1896.6L588.1 1894L586.4 1893.9L584.5 1894.1L583 1893.7L582.5 1892.3L582.4 1890.3L580.5 1890.5L580.9 1887.9L579.3 1887.8L578.6 1886.6L577 1886.4L577 1884.2L574.6 1885.1L571.6 1886.8L571.9 1884.3L572.2 1881.6L570.8 1881.3L569.3 1881L567.4 1881.4L567.8 1878.5L566.4 1878.2L566.2 1876.1L565 1875.6L562.7 1876.6Z" fill="#A73E54" stroke="#A73E54" stroke-width="0.8" stroke-linejoin="round"/>
<path d="M599.4 1898.3L589.2 1906.7M603.5 1902.3L613.7 1891.2" fill="none" stroke="#A73E54" stroke-width="2.4"/>
<path d="M539 1911.1L540.8 1910.7L541.6 1911.8L541.6 1914L543.6 1913.5L545.5 1913.1L545.4 1915.4L547.6 1914.6L547.6 1916.7L548.4 1917.9L549.1 1919.1L551.5 1918.1L551.7 1919.9L552.9 1920.4L554.4 1920.7L554.8 1922.2L555.5 1923.4L557.6 1922.9L557.8 1924.6L559.6 1924.6L560.3 1925.7L559.9 1928.1L562 1927.7L562.7 1928.9L565.6 1927.6L565 1930.2L566.8 1930.3L567.5 1931.4L569.2 1931.5L569.6 1933L569.2 1935.2L570 1936.2L571.2 1936.9L571.6 1938.3L573.7 1938L574.5 1939.1L576.8 1938.7L575.5 1941.7L576.5 1942.6L578.3 1942.6L578.7 1944L582.8 1942.1L580.6 1945.8L579.9 1948.1L582.3 1947.8L582.3 1949.4L582.9 1950.7L585 1950.6L586 1951.5L585.5 1953.5L588.4 1952.9L589.6 1953.6L589.7 1955.2L590 1956.6L590.6 1957.8L590.9 1959.1L593.4 1959L593.4 1960.5L593.6 1962L594.7 1962.8L594.6 1964.5L596.2 1965L596.2 1966.5L597.2 1967.4L599.1 1967.7L591.9 1972.5L590.2 1972.1L589.5 1971.1L587.7 1970.8L589.7 1967.9L587.8 1967.7L587 1966.7L586.1 1965.8L587.1 1963.5L585.9 1962.8L585.1 1961.9L582.5 1962.2L583.5 1960L583.1 1958.6L581.1 1958.6L580.1 1957.8L579.1 1957L579.6 1955L577.2 1955.4L576.7 1954.2L576.6 1952.6L573.6 1953.5L574.8 1950.8L575.6 1948.5L573 1949.1L571 1949.2L571.8 1946.8L570.4 1946.4L570.4 1944.6L569.3 1944L568.5 1943.1L566.9 1942.8L565.5 1942.4L564.5 1941.6L565.1 1939.4L563.3 1939.4L561.9 1939L560.4 1938.7L559.6 1937.8L559.4 1936.3L559.3 1934.5L557.7 1934.3L557.7 1932.5L554.6 1934.1L556.3 1930.3L554.3 1930.7L552.4 1931L553.5 1927.8L550.9 1928.9L550.6 1927.3L549.1 1927.2L549 1925.3L547.4 1925.2L546.6 1924.2L545.2 1924.1L544.2 1923.3L543.9 1921.6L542.2 1921.8L541.1 1921.3L540.6 1919.8L539.3 1919.4L537.4 1919.9L537.6 1917.6L535.8 1917.9L535.4 1916.4Z" fill="#A73E54" stroke="#A73E54" stroke-width="0.8" stroke-linejoin="round"/>
<path d="M656.2 1930.2L666.9 1923.2L668.4 1925.4L667.9 1925.7L669.3 1928L669.4 1927.9L670.8 1930.2L674.5 1927.9L675.9 1930.2L674.9 1930.8L676.3 1933.1L679.1 1931.5L680.5 1933.8L678 1935.3L679.3 1937.6L677.1 1938.9L678.4 1941.2L685.8 1937.1L687.1 1939.5L683.6 1941.5L684.9 1943.8L682.2 1945.3L683.4 1947.7L683.2 1947.8L684.5 1950.2L684 1950.4L685.2 1952.8L681.4 1954.7L682.6 1957L688.9 1954L690 1956.4L694.9 1954.1L696.1 1956.6L688.6 1960.1L689.8 1962.5L688.5 1963.1L689.6 1965.5L691.2 1964.8L692.3 1967.2L696.7 1965.3L697.8 1967.8L695.5 1968.8L696.6 1971.3L693.9 1972.4L694.9 1974.9L700.7 1972.6L701.7 1975.1L695.7 1977.5L696.6 1980L698.3 1979.3L699.3 1981.8L697.8 1982.4L698.7 1984.9L702 1983.7L702.9 1986.3L700.4 1987.1L701.3 1989.7L705.3 1988.3L706.2 1990.9L705.5 1991.1L706.3 1993.7L705.2 1994.1L706.1 1996.6L701.9 1998L702.6 2000.5L706.2 1999.4L706.9 2002L706.8 2002.1L707.5 2004.7L709 2004.2L709.8 2006.9L705.5 2008L706.2 2010.6L710.5 2009.5L711.2 2012.1L711.3 2012.1L712 2014.7L710.4 2015.1L711 2017.7L711.8 2017.5L712.4 2020.2L710.7 2020.6L711.3 2023.2L714.4 2022.5L714.9 2025.2L710.4 2026.1L710.9 2028.8L697.6 2031.4A284 284 0 0 0 656.2 1930.2Z" fill="#6B5E88"/>
<path d="M639.9 1940.9L641.2 1941.7L644.5 1941.2L642.4 1944.2L644 1944.9L644.2 1946.4L645.7 1947.1L647.4 1947.7L645.8 1950.3L649.5 1949.7L647.4 1952.6L649 1953.3L649.2 1954.7L650 1955.9L650.5 1957.2L651.3 1958.3L652.4 1959.3L653.6 1960.2L653.7 1961.8L653.9 1963.2L659.3 1962L656.5 1965L659.5 1965.1L656.2 1968.3L661.5 1967.2L660.9 1969.1L661.2 1970.5L660.1 1972.6L659.8 1974.3L661.4 1975.1L662.6 1976L661 1978.3L662.6 1979.1L662.5 1980.7L665.8 1980.8L665.6 1982.4L666.4 1983.5L663.3 1986.3L666.7 1986.5L666.6 1988L666.7 1989.5L668.4 1990.3L668 1991.9L667.2 1993.7L669.5 1994.4L670.7 1995.4L672.7 1996.2L670.4 1998.5L671.6 1999.5L672.1 2000.9L672.6 2002.2L673.4 2003.4L672.1 2005.3L672.5 2006.6L675.7 2007.1L676 2008.5L674 2010.5L674.7 2011.7L676.7 2012.6L674.3 2014.8L674.1 2016.3L673.6 2017.8L676.7 2018.4L676.4 2019.9L677.4 2021.1L676.2 2022.9L676.8 2024.1L678.8 2025.1L677.1 2026.9L679 2027.9L680.3 2029.1L678.2 2030.9L679.3 2032.1L678.9 2033.6L678 2035.2L667.3 2037.3L667.5 2035.9L669.6 2034.1L665.8 2033.6L669.4 2031.4L667.8 2030.4L668.4 2028.9L668.7 2027.5L667.4 2026.4L664.6 2025.7L667 2023.7L665.2 2022.8L665.4 2021.4L663.4 2020.6L663.7 2019.1L665.2 2017.3L665.5 2015.8L662.6 2015.3L665.1 2013.1L665.7 2011.6L664.3 2010.6L663.2 2009.5L662.2 2008.4L662.8 2006.8L663.2 2005.3L659.9 2005L662.6 2002.6L661.3 2001.7L661 2000.3L660.4 1999.1L659.5 1998L656.5 1997.7L658.1 1995.7L658.2 1994.2L658.7 1992.6L656.7 1991.9L656.4 1990.6L652.7 1990.7L655.5 1988.1L655.7 1986.5L656.6 1984.7L652.5 1985L654.1 1982.9L652.7 1982L652.4 1980.7L652 1979.4L651.3 1978.2L650.2 1977.2L651.4 1975.2L649.1 1974.8L650.3 1972.7L647.2 1972.8L647.9 1970.9L645.8 1970.5L647.4 1968.1L645.2 1967.8L644 1966.9L645.7 1964.5L641.7 1965.1L642.5 1963.2L642.5 1961.6L641.3 1960.8L641.4 1959.2L641.7 1957.4L638.5 1957.7L639.6 1955.6L637.9 1955L637.2 1953.9L637.7 1952L635.8 1951.6L633.6 1951.4L634.2 1949.4L635 1947.4L632 1947.7L632.6 1945.7Z" fill="#6B5E88" stroke="#6B5E88" stroke-width="0.8" stroke-linejoin="round"/>
<path d="M596.4 1969.5L598.5 1969.7L597.9 1971.7L600.3 1971.7L599.8 1973.5L601.4 1974.1L602.7 1974.9L602.3 1976.6L604.1 1977.1L604.9 1978.2L605.2 1979.5L602.7 1982.4L605.8 1982.2L607 1983L606.1 1985L607.5 1985.8L607.3 1987.3L607.6 1988.6L609.2 1989.3L610 1990.4L608.8 1992.4L610.7 1993L610.1 1994.7L611.7 1995.4L613.7 1995.9L612 1998.1L612.9 1999.2L613.7 2000.2L613.9 2001.6L616.3 2002L617.6 2002.8L615.3 2005.2L616.9 2006L619.3 2006.5L618.3 2008.3L616.7 2010.3L622.3 2009.6L618.5 2012.4L620 2013.3L618.4 2015.2L619.6 2016.2L619.5 2017.6L621.4 2018.3L621.4 2019.7L621.8 2021L621.6 2022.4L621.8 2023.7L621.8 2025.1L624.2 2025.7L623 2027.4L624.8 2028.3L623.6 2030L626 2030.7L626.2 2032L626 2033.4L626.6 2034.6L625.8 2036.1L625.5 2037.6L628 2038.3L627.6 2039.8L627 2041.3L627.9 2042.4L626.9 2043.9L631.8 2044.3L621.9 2046.2L619 2045.5L621.5 2043.7L620.1 2042.7L619 2041.7L621 2039.9L618.1 2039.3L616.8 2038.3L619.3 2036.4L619.9 2034.9L617.3 2034.3L619.7 2032.4L616.4 2032L617.5 2030.3L617.5 2029L615 2028.4L616.5 2026.7L615.6 2025.6L615 2024.5L614.9 2023.2L615.6 2021.6L612.2 2021.4L612 2020.2L613.5 2018.3L611.6 2017.6L610 2016.9L611.7 2014.9L612.1 2013.4L611.4 2012.3L610.8 2011.2L607.8 2011L610 2008.8L608.2 2008.1L611.4 2005.5L609 2005.1L607.3 2004.4L607.1 2003.1L606.5 2002L605.8 2001L605.7 1999.6L605.4 1998.3L603.3 1998L604.7 1995.9L603.2 1995.2L600 1995.4L602.8 1992.6L600.9 1992.1L601.7 1990.3L599.9 1989.8L600.9 1987.8L600.3 1986.7L599.8 1985.6L596.6 1985.9L599 1983.1L596.5 1983L593.6 1983.3L596.2 1980.3L595.1 1979.5L593.3 1979.1L594.3 1977L593.4 1976L591.2 1975.9L592.1 1973.8L590.5 1973.4Z" fill="#6B5E88" stroke="#6B5E88" stroke-width="0.8" stroke-linejoin="round"/>
<path d="M617.2 2017L631.5 2013.1" fill="none" stroke="#6B5E88" stroke-width="2.4"/>
<path d="M697.6 2031.4L711.5 2028.6L712 2031.3L709.6 2031.7L710 2034.3L716.2 2033.3L716.6 2035.9L728.2 2034L728.7 2036.8L713.9 2039.1L714.3 2041.8L722.9 2040.5L723.3 2043.2L721.1 2043.5L721.5 2046.3L717.1 2046.8L717.5 2049.5L717.3 2049.5L717.6 2052.2L715.6 2052.5L715.9 2055.1L718.2 2054.9L718.5 2057.6L720.8 2057.4L721 2060.1L721.4 2060L721.7 2062.8L718.9 2063L719.1 2065.7L722 2065.5L722.2 2068.2L726 2068L726.1 2070.8L719.1 2071.1L719.2 2073.8L721.1 2073.7L721.2 2076.5L721.3 2076.5L721.4 2079.2L723.1 2079.1L723.2 2081.9L725.7 2081.8L725.7 2084.6L715.8 2084.6L715.8 2087.3L723 2087.3L723 2090.1L724.6 2090.1L724.5 2092.9L720.9 2092.8L720.8 2095.5L728.5 2095.7L728.4 2098.5L718.1 2098.1L717.9 2100.8L724.4 2101.1L724.2 2103.9L715.2 2103.3L715.1 2106L718.3 2106.2L718.1 2108.9L721.3 2109.2L721.1 2111.9L714.5 2111.3L714.3 2114L728 2115.3L727.7 2118.1L718.9 2117.1L718.6 2119.8L721.6 2120.2L721.2 2122.9L717.5 2122.4L717.2 2125.1L720.8 2125.6L720.4 2128.3L715.8 2127.7L715.4 2130.3L715.9 2130.4L715.5 2133.1L717.3 2133.4L716.9 2136.1L714.4 2135.6L713.9 2138.3L715.9 2138.7L715.5 2141.3L713.4 2140.9L712.9 2143.6L712.8 2143.6L712.3 2146.2L720.9 2148L720.3 2150.7L715.1 2149.6L714.5 2152.2L713 2151.9L712.4 2154.5L711.4 2154.3L710.8 2156.9L715.3 2158L714.7 2160.7L694.3 2155.6A284 284 0 0 0 697.6 2031.4Z" fill="#3981B0"/>
<path d="M682.5 2034.3L681.3 2036L681.3 2037.4L680.4 2039L685.4 2039.6L682.2 2041.5L681.6 2043.1L681.4 2044.5L680.8 2046L683.4 2047L683.7 2048.4L682.9 2049.9L684.1 2051.2L682 2052.9L681.7 2054.3L683 2055.6L683.7 2056.9L682.9 2058.4L683.4 2059.7L682.1 2061.3L682 2062.6L682.8 2064L683.7 2065.3L681.1 2066.9L681.8 2068.2L683.2 2069.5L683.8 2070.9L685.5 2072.2L684 2073.7L683.8 2075.1L684.5 2076.4L685.1 2077.8L685.7 2079.2L682.9 2080.7L687.7 2082L684.2 2083.4L683.5 2084.8L686 2086.2L683.2 2087.6L684.7 2089L684.7 2090.4L684.6 2091.8L686.2 2093.2L685.9 2094.6L683.5 2095.9L684.6 2097.4L684.4 2098.8L684.7 2100.2L684.8 2101.6L685 2103L685.2 2104.4L685.3 2105.8L685.9 2107.3L685.6 2108.7L683.1 2109.8L683.8 2111.3L683.6 2112.7L683.6 2114.1L683 2115.4L683.7 2116.9L682.4 2118.2L682.9 2119.6L684.5 2121.3L684.8 2122.7L682.6 2123.8L682.2 2125.2L683.3 2126.8L684 2128.3L684.3 2129.8L681.7 2130.8L683.7 2132.5L680 2133.3L682.1 2135.1L682.3 2136.6L681.6 2137.9L678.8 2138.7L679.3 2140.3L679.9 2141.8L680.5 2143.4L679.7 2144.7L681.3 2146.5L679.3 2147.5L679.8 2149L679.5 2150.4L679.3 2151.8L669.2 2149.2L668.5 2147.7L670.2 2146.7L668.4 2144.9L668.7 2143.6L668.9 2142.3L670.8 2141.3L670.8 2139.9L668.3 2138L669.6 2136.9L670.8 2135.8L672.2 2134.7L671.3 2133.1L671.1 2131.7L673.6 2130.8L672.4 2129.2L674.2 2128.1L673.4 2126.6L672.7 2125.1L672.9 2123.8L671 2122.2L673.3 2121.2L673.5 2119.8L673.6 2118.5L673.7 2117.1L671.8 2115.5L674.4 2114.5L674.7 2113.2L672.7 2111.6L675.1 2110.5L671.2 2108.8L672.9 2107.6L674.3 2106.4L673 2104.9L675.2 2103.7L676.7 2102.5L675.4 2101L673.6 2099.6L672.9 2098.2L674.1 2096.9L674.8 2095.6L677.1 2094.3L672.4 2092.9L675.6 2091.6L675.5 2090.2L672.3 2088.9L673.5 2087.5L671.9 2086.2L672.1 2084.9L673.8 2083.5L675 2082.2L673.8 2080.8L673.7 2079.5L673.4 2078.2L674.7 2076.8L674.2 2075.5L673.4 2074.2L673.4 2072.8L673.9 2071.5L673.6 2070.1L673 2068.8L670.5 2067.7L672.1 2066.2L674.2 2064.7L671.5 2063.6L673.5 2062.1L672.6 2060.8L673.2 2059.4L669.2 2058.5L670.8 2057L670.4 2055.7L671.4 2054.2L673.7 2052.6L672.3 2051.4L670.5 2050.3L672.6 2048.6L671.2 2047.5L669.7 2046.4L672.4 2044.6L672.3 2043.2L671.5 2042L670.2 2040.9L671.1 2039.3L671.4 2037.9L669.3 2036.9Z" fill="#3981B0" stroke="#3981B0" stroke-width="0.8" stroke-linejoin="round"/>
<path d="M678.6 2106L665.2 2104" fill="none" stroke="#3981B0" stroke-width="2.4"/>
<path d="M630.2 2044.6L630.6 2045.9L628.9 2047.5L629.4 2048.8L629.3 2050.1L630.7 2051.2L631.6 2052.4L629.8 2054L630.1 2055.3L630.1 2056.6L629.8 2058L632.1 2059L630.6 2060.5L631.8 2061.7L631.2 2063.1L633 2064.2L632.6 2065.6L630.6 2067.1L630.3 2068.4L632.6 2069.5L631.2 2070.9L632.2 2072.2L632.6 2073.5L633.3 2074.7L633.5 2076L632.1 2077.4L632.6 2078.7L631.2 2080.1L633.2 2081.3L631.9 2082.6L631.8 2084L633 2085.3L631.4 2086.6L630.5 2087.9L634.6 2089.2L631.9 2090.5L631.9 2091.8L633.3 2093.1L632.2 2094.4L631.4 2095.7L632.6 2097L632 2098.3L633.1 2099.7L631.8 2100.9L632.4 2102.3L630.6 2103.5L629.9 2104.7L631.2 2106.1L631 2107.4L630.5 2108.7L629.8 2109.9L632.4 2111.5L630 2112.6L630.2 2113.9L628.5 2115L628.6 2116.3L628.7 2117.6L629.6 2119.1L628.5 2120.2L628.7 2121.6L626.4 2122.5L628.6 2124.2L628.9 2125.6L628.2 2126.8L628.1 2128.1L626 2129L627.5 2130.7L626.5 2131.8L625.2 2132.8L624.7 2134L626.6 2135.8L625.7 2136.9L625.5 2138.2L617.7 2136.3L617.4 2134.9L616.9 2133.5L618.9 2132.7L619.9 2131.6L620.1 2130.4L618.9 2128.8L619.2 2127.6L619.4 2126.4L622.1 2125.6L622 2124.3L619.5 2122.6L620.8 2121.5L622.2 2120.5L622 2119.2L620.6 2117.7L621.1 2116.5L623.3 2115.5L621.9 2114.1L622.3 2112.9L624 2111.8L624.8 2110.6L622.6 2109.1L624.5 2108L623.4 2106.7L624 2105.4L623.6 2104.1L623.6 2102.9L622.4 2101.5L624.7 2100.4L623.5 2099.1L625 2097.9L624.3 2096.6L625.8 2095.4L625.9 2094.2L625.4 2092.9L624.7 2091.6L625.5 2090.3L626.7 2089.1L623.9 2087.8L624.7 2086.5L625.5 2085.3L625.2 2084L623.2 2082.8L627 2081.5L625.6 2080.2L624.9 2079L624.1 2077.7L625.5 2076.4L623.6 2075.2L626.4 2073.8L626.7 2072.5L623.9 2071.5L623.9 2070.2L624.2 2068.9L625.2 2067.5L623.5 2066.4L625.8 2064.9L622.6 2064L626.2 2062.3L624.7 2061.2L623.4 2060.1L624.1 2058.7L622.6 2057.7L623.7 2056.2L623.5 2055L623.6 2053.7L623.3 2052.4L623.4 2051.1L621.3 2050.2L622.4 2048.7L620.8 2047.7L622.8 2046.1Z" fill="#3981B0" stroke="#3981B0" stroke-width="0.8" stroke-linejoin="round"/>
<path d="M694.3 2155.6L721.2 2162.4L720.5 2165.1L713.9 2163.3L713.2 2166L708.6 2164.7L707.8 2167.3L712 2168.5L711.3 2171.1L707.3 2169.9L706.5 2172.5L712.2 2174.2L711.4 2176.8L717 2178.6L716.1 2181.2L716.1 2181.2L715.2 2183.9L708.8 2181.7L707.9 2184.3L705.7 2183.6L704.8 2186.1L709.2 2187.7L708.3 2190.3L704.1 2188.7L703.1 2191.3L711.9 2194.5L710.9 2197.2L704.3 2194.6L703.3 2197.2L702.3 2196.8L701.3 2199.3L707.6 2201.8L706.5 2204.4L702.4 2202.7L701.4 2205.3L699.8 2204.6L698.7 2207.1L703.5 2209.2L702.4 2211.7L698.7 2210.1L697.6 2212.6L698 2212.8L696.9 2215.3L698.8 2216.2L697.6 2218.7L696.3 2218L695.1 2220.5L695.9 2220.9L694.7 2223.4L701.8 2226.9L700.5 2229.4L690.9 2224.5L689.7 2227L696.8 2230.6L695.5 2233.1L690.3 2230.4L689 2232.8L687.8 2232.1L686.4 2234.5L690.4 2236.7L689 2239.1L689.2 2239.2L687.8 2241.6L687.5 2241.4L686.1 2243.8L684.1 2242.7L682.7 2245.1L682.5 2244.9L681.1 2247.3L682.6 2248.2L681.1 2250.6L680.6 2250.2L679.1 2252.6L685.1 2256.4L683.6 2258.8L677.2 2254.6L675.7 2256.9L676.5 2257.5L675 2259.8L677.9 2261.8L676.3 2264.1L668.8 2258.9L667.3 2261.1L668.6 2262L667 2264.3L674.3 2269.5L672.6 2271.8L667 2267.6L665.3 2269.8L666.9 2271L665.2 2273.2L662.9 2271.5L661.2 2273.6L661 2273.5L659.3 2275.6L658.4 2274.9L656.7 2277L659.3 2279.1L657.5 2281.2L658.1 2281.7L656.3 2283.8L652.2 2280.3L650.4 2282.4L652.2 2283.9L650.4 2286L648.6 2284.4L646.8 2286.5L648.1 2287.6L646.2 2289.6L650.9 2293.8L649.1 2295.9L628.8 2277.4A284 284 0 0 0 694.3 2155.6Z" fill="#409389"/>
<path d="M677.4 2151.3L677.1 2152.7L676.8 2154L674.4 2154.9L674.1 2156.2L675.9 2158.1L674.8 2159.3L673.2 2160.3L674 2162L672.8 2163.1L671.6 2164.1L670.8 2165.3L672.1 2167.2L669.6 2167.8L671.4 2169.9L670.2 2171L668.6 2171.9L668.1 2173.2L668.1 2174.6L667.2 2175.8L668.1 2177.6L665.5 2178.1L666.3 2179.9L667.2 2181.7L666.1 2182.8L663.9 2183.4L664.4 2185.1L664.3 2186.5L662.8 2187.4L663.3 2189.1L663.6 2190.8L663.4 2192.2L662.3 2193.2L660.6 2194L662 2196.1L660.4 2197L663.2 2199.8L660.2 2199.9L658.7 2200.8L656.6 2201.3L659.1 2204.1L657.9 2205L657 2206.2L656.8 2207.6L655.1 2208.3L655.7 2210.2L654.2 2211L653.5 2212.2L654.1 2214.1L651.7 2214.3L654.1 2217.3L650.7 2217L650.6 2218.6L650.5 2220.1L648.6 2220.6L648.1 2221.9L646.2 2222.4L647.9 2225.1L647.1 2226.2L646.2 2227.3L643.7 2227.4L645.8 2230.4L645.4 2231.8L643.4 2232.2L640.9 2232.2L641 2234L639.3 2234.5L638.4 2235.6L637.1 2236.3L636.2 2237.4L636.9 2239.6L635.1 2240.1L633.8 2240.8L633.1 2242L633.6 2244.1L631.5 2244.3L630.1 2245L629.7 2246.4L629.1 2247.7L629.4 2249.7L627.8 2250.2L626.5 2250.9L625.2 2251.6L624.7 2253L624.8 2255L623.1 2255.3L621.7 2256L621.9 2257.9L620.6 2258.7L619.1 2259.2L619.6 2261.5L617.3 2261.3L616.3 2262.3L616.7 2264.5L616 2265.8L606.7 2257.3L608.8 2257.4L608.6 2255.4L608.2 2253.2L611.5 2254.4L612.3 2253.3L613.1 2252.2L613.2 2250.6L615.1 2250.4L616 2249.5L614.9 2246.8L616.4 2246.3L618.2 2246.1L617.8 2244L621 2244.9L620.6 2242.9L619.7 2240.5L621.5 2240.2L622.7 2239.4L621.1 2236.6L624.9 2237.7L624.7 2235.9L625.8 2235L627.2 2234.4L627.4 2232.9L626.1 2230.4L628.5 2230.5L628.6 2228.9L630.3 2228.5L631.4 2227.6L633 2227L633.6 2225.8L634.9 2225.1L635.8 2224.1L634.8 2221.8L635.8 2220.9L638.3 2220.8L637.6 2218.8L635 2215.7L639.3 2216.7L640.5 2215.9L643 2215.7L640.2 2212.6L643.1 2212.7L643.6 2211.4L642.9 2209.5L643.5 2208.3L643.7 2206.9L644.5 2205.8L645.1 2204.6L646.2 2203.7L646.4 2202.3L648 2201.6L649 2200.6L649.5 2199.4L648.4 2197.3L648.1 2195.7L648.8 2194.5L649.2 2193.3L650.4 2192.3L649.3 2190.4L649.7 2189.1L654.2 2189.7L653.7 2188L652.1 2185.9L654.6 2185.5L654.4 2183.9L652.1 2181.5L653.1 2180.5L655.3 2180L653.5 2177.9L658 2178.1L656.8 2176.3L657.1 2175L655.6 2173L658.5 2172.6L658.7 2171.3L659.6 2170.2L659.5 2168.7L661.6 2168L661.7 2166.7L659.8 2164.7L661.9 2163.9L661.2 2162.3L659.8 2160.5L662.7 2160L661.9 2158.4L664.2 2157.7L663.3 2156L665.4 2155.2L664.3 2153.5L664.9 2152.3L665.8 2151.2L664 2149.3L665.6 2148.4Z" fill="#409389" stroke="#409389" stroke-width="0.8" stroke-linejoin="round"/>
<path d="M637.7 2227.5L648.9 2235" fill="none" stroke="#409389" stroke-width="2.4"/>
<path d="M626.8 2138.6L626.8 2139.9L630.8 2142.3L627.2 2142.7L625.9 2143.7L626.2 2145.2L628.5 2147.2L624 2147.2L623.2 2148.4L623.3 2149.8L622.5 2150.9L622.4 2152.2L622.7 2153.7L623.2 2155.2L621.3 2155.9L620.3 2156.9L620.5 2158.4L619.8 2159.6L620.6 2161.2L618.5 2161.8L618.8 2163.3L617.7 2164.3L616.6 2165.2L618.8 2167.6L614.6 2167.2L615.8 2169.1L615 2170.2L613.4 2170.9L614.6 2172.9L613.1 2173.6L611.5 2174.3L612.7 2176.3L612.3 2177.5L610.2 2178L609.8 2179.2L609.8 2180.6L609.8 2182.1L607.8 2182.5L609.3 2184.8L609.3 2186.2L607 2186.5L606.4 2187.6L604.7 2188.1L605.4 2190L606.4 2192L604.5 2192.5L602.6 2192.9L601.5 2193.7L603.9 2196.7L601.8 2197L599.4 2197L599.8 2198.8L598.6 2199.5L598.3 2200.9L598.6 2202.6L597.7 2203.6L597 2204.7L596.5 2205.9L594.5 2206.1L595.4 2208.3L595.6 2210L594.2 2210.7L592.7 2211.2L591.8 2212.1L589.9 2212.4L590.8 2214.6L588.7 2214.7L589.3 2216.8L587.2 2216.8L587.3 2218.5L585.4 2218.7L585.5 2220.4L583.6 2220.5L582.3 2221.1L583.4 2223.7L583.3 2225.3L581.8 2225.8L582 2227.7L580.8 2228.4L578.3 2227.9L578.7 2230L577.4 2230.6L571.3 2225L573.6 2225.4L571.5 2221.8L575.7 2223.9L575.9 2222.4L575.8 2220.7L577.3 2220.3L577.4 2218.7L577.2 2216.9L578 2215.9L580.4 2216.2L578.8 2213.4L582.2 2214.5L581.7 2212.5L582.8 2211.8L583.1 2210.4L583.8 2209.4L584 2208L586.6 2208.3L585.3 2205.9L588 2206.2L588.8 2205.3L589.7 2204.3L588.6 2202L590.2 2201.6L590.6 2200.4L591.2 2199.3L592.1 2198.4L591.7 2196.6L591.9 2195.3L594 2195.1L593.9 2193.6L596.2 2193.6L596.2 2192.1L595.9 2190.5L595.6 2188.8L598.3 2189L598.2 2187.4L597.5 2185.6L599.4 2185.2L601.2 2184.8L600.9 2183.2L601.8 2182.3L601.1 2180.5L600.6 2178.8L603.9 2179.1L603 2177.3L604.7 2176.7L603.2 2174.6L606.1 2174.6L606.4 2173.4L606.3 2171.9L606.2 2170.5L606 2169.1L606.1 2167.7L607.9 2167.2L608 2165.8L608.5 2164.7L611.7 2164.7L610.4 2162.8L611.7 2161.9L611.4 2160.5L610.6 2158.8L613.4 2158.5L614.2 2157.5L613.5 2155.9L614 2154.7L615.5 2153.9L614.4 2152.2L614.5 2150.9L616.4 2150.2L615.5 2148.6L616.5 2147.6L617.6 2146.6L616.6 2145L618.8 2144.4L619.1 2143.1L618.9 2141.8L620.1 2140.8L621.3 2139.8L620.6 2138.3L619.6 2136.8Z" fill="#409389" stroke="#409389" stroke-width="0.8" stroke-linejoin="round"/>
<path d="M582.3 2218.1L588.2 2224" fill="none" stroke="#409389" stroke-width="2.4"/>
<path d="M628.8 2277.4L642.3 2289.7L640.4 2291.7L637.3 2288.8L635.4 2290.7L637.6 2292.8L635.8 2294.8L636.8 2295.8L634.9 2297.7L633.9 2296.8L632 2298.7L635.9 2302.5L633.9 2304.5L630.5 2301.1L628.6 2303L633.2 2307.7L631.2 2309.7L629.6 2308L627.6 2309.9L620.8 2302.6L618.8 2304.4L621.3 2307.1L619.3 2308.9L616.7 2306.1L614.7 2307.9L615 2308.1L613 2309.9L615.1 2312.4L613.1 2314.2L612.4 2313.3L610.3 2315.1L609.2 2313.7L607.1 2315.4L614 2323.8L611.9 2325.6L605.3 2317.5L603.2 2319.1L605.6 2322.2L603.5 2323.8L601.9 2321.8L599.7 2323.4L602.8 2327.4L600.6 2329.1L600 2328.3L597.8 2329.9L597.2 2329L595 2330.6L594.2 2329.5L592 2331.1L591.6 2330.6L589.4 2332.1L588.3 2330.5L586.1 2332L592.3 2341.1L589.9 2342.7L587.6 2339.1L585.3 2340.6L582 2335.6L579.7 2337L579.9 2337.3L577.6 2338.7L573.7 2332.5L571.4 2333.8L574.9 2339.4L572.6 2340.8L574.5 2344L572.2 2345.4L573 2346.8L570.7 2348.2L567 2341.9L564.7 2343.2L566.1 2345.7L563.7 2347L564.6 2348.6L562.3 2350L561.9 2349.2L559.5 2350.5L557.7 2347.1L555.3 2348.3L556.8 2351.2L554.4 2352.4L554.6 2352.8L552.2 2354L551.8 2353.2L549.3 2354.3L549.2 2354.1L546.8 2355.3L540.8 2342.7A284 284 0 0 0 628.8 2277.4Z" fill="#48A562"/>
<path d="M616.6 2266.3L614.6 2266.3L613.1 2266.8L611.6 2267.4L612.6 2270.3L610.2 2269.8L608.9 2270.5L608.2 2271.8L607.6 2273.2L606.7 2274.2L605.6 2275.2L606.1 2277.6L604.8 2278.3L602.2 2277.6L601.5 2278.9L601.1 2280.5L600 2281.4L599.4 2282.8L597.6 2282.8L596.4 2283.6L596.7 2286L595.3 2286.6L594.4 2287.7L593.5 2288.8L591.6 2288.7L591.1 2290.3L588.7 2289.6L588.1 2291.1L587.5 2292.5L585.8 2292.6L585.6 2294.6L584.7 2295.7L584.1 2297.2L581.1 2295.7L580.7 2297.5L579.2 2297.7L579.4 2300.3L577.5 2300.2L575.4 2299.7L574.1 2300.3L574 2302.4L573.2 2303.8L572 2304.5L570.3 2304.4L569.9 2306.3L568.3 2306.5L566.9 2306.9L567.1 2309.8L564.7 2308.7L562.9 2308.5L563.1 2311.3L560.3 2309.5L559.5 2310.8L558.7 2312.3L556.7 2311.6L555.7 2312.7L555.5 2315L553.6 2314.5L552.5 2315.5L552.7 2318.5L549.8 2316.3L547.6 2315.3L547.1 2317.2L547.2 2320.2L545.1 2319.4L545.4 2322.8L543.2 2321.6L541.9 2322.1L540.5 2322.5L538.5 2321.7L538.2 2324.2L536.9 2324.6L536.4 2326.7L534.6 2326.3L533.2 2326.6L529.2 2318.3L530.3 2317.4L530.8 2315.4L532.6 2316L533.7 2315.2L534.3 2313.5L535.8 2313.5L537.4 2313.6L538.6 2312.9L539.9 2312.5L539.7 2309.3L541.7 2310.1L541.5 2307L542.1 2305.5L544.8 2307.6L546.5 2307.7L546 2304.2L548.7 2306.2L548.9 2304L550.8 2304.5L551.2 2302.7L554 2304.7L554 2302.1L554.4 2300.3L557 2301.9L558 2300.8L558.6 2299.3L560.5 2299.8L560.8 2297.9L561.7 2296.8L563.5 2297.1L564.3 2295.8L566.3 2296.4L567.6 2295.9L568.5 2294.8L567.9 2291.7L570.3 2292.7L571 2291.4L572.2 2290.8L572.9 2289.5L574.1 2288.8L575 2287.8L577.1 2288.3L577.9 2287.2L577.8 2284.8L578.5 2283.6L579.9 2283.2L579.2 2280.3L581.5 2281L584.4 2282.3L585.6 2281.7L585.7 2279.8L587.3 2279.5L588.6 2279L589.9 2278.4L590 2276.5L591 2275.6L592.3 2275L593.5 2274.3L593.3 2272.2L593.9 2270.9L596.3 2271.5L595.5 2268.7L598.1 2269.4L596.9 2266.3L600.2 2267.7L600.5 2266.2L600.2 2264L600.4 2262.3L602.3 2262.3L605.2 2263.2L604.9 2261.1L606.6 2260.8L607.7 2260L607.5 2258Z" fill="#48A562" stroke="#48A562" stroke-width="0.8" stroke-linejoin="round"/>
<path d="M602.3 2271.1L614.7 2281.4" fill="none" stroke="#48A562" stroke-width="2.4"/>
<path d="M576.6 2229.9L574.8 2229.9L577.1 2233.9L575.1 2233.8L573 2233.6L572.8 2235.2L574.3 2238.4L573.2 2239.2L569.8 2237.7L568.6 2238.3L568.3 2239.8L568 2241.4L568.5 2243.9L565.6 2242.7L564.3 2243.2L562.7 2243.3L562.6 2245.2L561.6 2246L561.2 2247.5L558.8 2246.8L559.2 2249.2L556.9 2248.6L556.5 2250L555.5 2250.9L554.9 2252.2L553.7 2252.8L552.8 2253.8L550.4 2252.8L551.2 2255.9L550.8 2257.5L548.8 2257.1L548.4 2258.7L546 2257.7L546 2259.9L543.5 2258.6L543.3 2260.5L543.5 2263.1L540.5 2261.1L539.1 2261.4L538.2 2262.2L537.4 2263.4L537.4 2265.7L536.1 2266.1L533.9 2265.2L534.1 2267.8L532.1 2267.2L530.9 2267.7L529.8 2268.3L528.2 2268.2L527.6 2269.8L525.5 2268.6L525.1 2270.6L524.5 2272.1L522.4 2271L522.1 2273.1L520.7 2273.3L519.1 2273.1L518.2 2274.2L517.7 2275.9L516.4 2276.2L515.2 2276.7L515 2279.2L511.9 2275.9L512.2 2279.5L509.7 2277.3L506.8 2271.2L508.5 2271.8L508.1 2268.1L510.6 2270.4L512.4 2271.2L512.7 2269L513.9 2268.7L514.4 2266.9L516.2 2267.6L517.7 2267.7L518.4 2266.4L518.1 2263.4L520.9 2265.8L521.6 2264.5L522.6 2263.8L524 2263.6L524.4 2261.9L526 2262.2L527.5 2262.2L528.1 2260.8L530.1 2261.5L530.6 2260L532.4 2260.5L532.7 2258.6L533.8 2258L534.7 2257.2L535.4 2255.9L537.3 2256.6L536.6 2253.3L539.1 2254.7L538.8 2252.1L540.5 2252.3L542.4 2252.8L541.4 2249.4L544.4 2251.3L544.9 2249.9L546.8 2250.3L546.2 2247.4L548.6 2248.4L548.7 2246.6L549.6 2245.8L551.6 2246.2L552.3 2245L552.6 2243.5L554.7 2244L553.5 2240.7L555.7 2241.3L556.9 2240.8L558.5 2240.6L557.8 2238.1L559.6 2238.1L559.8 2236.5L560.8 2235.8L563.1 2236.4L563 2234.4L562.6 2232.2L565.3 2233.1L566.1 2232.2L567.3 2231.6L567.3 2229.9L568.1 2228.9L569.8 2228.7L567.8 2225.2L569.6 2225.1L570.8 2224.6Z" fill="#48A562" stroke="#48A562" stroke-width="0.8" stroke-linejoin="round"/>
<path d="M557.6 2243.9L562.5 2251.8" fill="none" stroke="#48A562" stroke-width="2.4"/>
<path d="M540.8 2342.7L546.7 2355L544.3 2356.2L542.5 2352.5L540.1 2353.6L542.2 2358.1L539.7 2359.2L539.8 2359.3L537.3 2360.3L536.4 2358.2L533.9 2359.2L534.5 2360.7L532.1 2361.7L532.8 2363.4L530.3 2364.5L528.1 2359L525.6 2359.9L525.5 2359.7L523.1 2360.6L524.4 2364.2L521.9 2365.1L521.6 2364.3L519.1 2365.2L517.2 2360L514.8 2360.9L516.2 2365.1L513.7 2365.9L512.6 2362.7L510.1 2363.5L511.5 2367.7L508.9 2368.5L508.6 2367.4L506.1 2368.2L506.7 2370.2L504.1 2371L503.6 2369.1L501 2369.9L503.6 2378.7L500.9 2379.4L499.2 2373.3L496.6 2374L497.1 2375.9L494.5 2376.6L493.6 2373L491 2373.7L491.7 2376.5L489.1 2377.1L489.5 2378.6L486.8 2379.3L486.2 2376.5L483.6 2377.1L482.7 2373.3L480.2 2373.9L481 2378L478.4 2378.5L477.9 2375.9L475.3 2376.4L475.4 2377.4L472.8 2377.9L473.3 2380.6L470.7 2381.1L470.4 2379.5L467.8 2380L465.5 2366.3A284 284 0 0 0 540.8 2342.7Z" fill="#58A850"/>
<path d="M533.2 2326.7L532.2 2327.9L530.7 2327.8L528.9 2327.4L527.2 2327.1L527.6 2331.4L524.9 2328.7L524.1 2330.4L521.9 2328.8L520.6 2329.3L520.4 2332.3L519 2332.6L517 2331.3L516.7 2334.5L514.5 2332.6L513.7 2334.4L512.2 2334.5L511.1 2335.3L509.5 2335.3L508.3 2335.9L507.3 2337.3L505.1 2335.3L504.3 2337.1L502.1 2335.2L501.8 2338.5L500.4 2338.8L499.4 2340.2L497.2 2338L496.4 2340L495 2340.3L493.4 2339.7L492.8 2342.8L491.1 2341.7L489.5 2341.2L488.5 2343.1L487.1 2343.1L486.2 2345.3L484.1 2342.7L482.6 2342.3L482 2345.7L480.4 2345L479.7 2348.3L477.6 2345.6L475.9 2344.1L474.9 2346.4L473.7 2347.1L472.2 2347L470.9 2347.5L469.3 2346.7L468.2 2348.2L466.6 2347.5L465.5 2349.4L463.8 2347.7L462.9 2350.6L460.8 2338.2L462.4 2339.3L463.8 2339.9L464.3 2335L466.4 2339L467.7 2338.2L469 2338.1L470 2336.2L471.5 2337L472.6 2335.3L473.8 2334.5L475.5 2336.1L476.2 2333.2L477.9 2334.4L479.5 2335.4L480.5 2333.8L481.8 2333.4L482.4 2330.5L483.8 2330.6L485.4 2331.4L487 2332.1L487.5 2329.2L489.7 2331.8L490.5 2329.7L492 2330.1L493.9 2331.7L494.7 2329.8L496.3 2330.6L497.2 2328.7L498.8 2329.5L499.3 2326.7L501.4 2328.6L502.1 2326.6L503.4 2326.3L504.6 2325.6L505.9 2325.3L507.3 2325.3L509.2 2326.5L510.5 2326.1L510 2321L512.5 2323.8L512.8 2320.9L514.9 2322.6L516.1 2322L517.2 2321.1L518.3 2320.3L520.3 2321.5L520.7 2319L521.5 2317.6L523.1 2317.9L523.7 2316L526.6 2319.1L527 2316.6L527.8 2315.4Z" fill="#58A850" stroke="#58A850" stroke-width="0.8" stroke-linejoin="round"/>
<path d="M492.1 2336.1L494.9 2349.4" fill="none" stroke="#58A850" stroke-width="2.4"/>
<path d="M510.6 2279.1L509.1 2278.8L508.6 2280.9L508 2282.7L506.1 2281.7L505.9 2284.4L504.7 2284.9L502.9 2284.3L502.2 2285.8L500.8 2286L498.8 2284.4L497.6 2285L496.5 2285.7L495 2285.4L493.6 2285.4L493 2287.4L491.4 2287L490.2 2287.2L488.9 2287.6L487.1 2286.2L486.5 2288.6L484.8 2287.5L483.9 2288.9L482.8 2289.6L482.1 2291.7L480.9 2292.2L479.2 2291.4L477.7 2290.8L476.7 2292L476 2294.2L474 2291.9L473.2 2293.7L471.5 2292.3L470.3 2292.9L469.1 2293.4L468.1 2294.8L466.8 2295L465.2 2294.1L464.2 2295.3L462.9 2295.3L461.5 2295.3L460.4 2296.1L459 2295.7L457.7 2295.8L456.8 2298.4L455.1 2296.2L453.9 2296.6L452.5 2288.4L454 2289.4L455.5 2290.9L456.5 2289.5L457.6 2288.4L458.9 2288.5L460 2288L461.6 2289.4L462.5 2287.7L463.9 2287.9L465.3 2288.4L466.3 2287.2L467.3 2286.2L468.8 2286.8L470.1 2286.8L471.3 2286.7L471.8 2283.5L473.2 2283.9L474.7 2284.7L475.2 2282.1L476.8 2283L478.6 2284.8L479.1 2282L480.2 2281.5L482.1 2283.4L482.6 2280.9L484.6 2282.7L485.3 2280.9L486.5 2280.7L488 2281.1L489 2280.3L490.8 2281.4L491.6 2280.1L492.8 2279.5L493.7 2278.6L495 2278.3L496.4 2278.4L497.9 2278.8L498.5 2277L499.9 2277L500.6 2275.6L502.3 2276.3L503.6 2276.1L504 2273.8L504.8 2272.8L505.4 2271L508.1 2273.8Z" fill="#58A850" stroke="#58A850" stroke-width="0.8" stroke-linejoin="round"/>
<path d="M465.5 2366.3L468.4 2383.9L465.7 2384.4L465.3 2381.6L462.6 2382L461.9 2377.6L459.3 2378L460.3 2384.9L457.6 2385.2L456.6 2377.5L453.9 2377.8L454.2 2380.2L451.5 2380.5L451.4 2378.8L448.7 2379.1L448.8 2379.9L446.1 2380.2L445.8 2377.1L443.2 2377.3L443.2 2377.6L440.6 2377.8L440.6 2377.6L437.9 2377.8L438 2379.3L435.4 2379.5L435.9 2388.8L433.2 2389L432.6 2376.8L430 2376.9L430.6 2393.2L427.8 2393.3L427.6 2385.8L424.9 2385.9L424.7 2377.6L422.1 2377.6L422.1 2383.8L419.4 2383.8L419.4 2380.9L416.8 2380.9L416.8 2380.1L414.1 2380.1L414 2387.7L411.3 2387.6L411.5 2378.6L408.8 2378.5L408.8 2380.2L406.1 2380.1L406.1 2379.6L403.5 2379.5L403.6 2378.2L400.9 2378.1L400.8 2379.5L398.2 2379.3L398.1 2380.3L395.4 2380.1L395.7 2376.9L393.1 2376.7L392.7 2380.5L390.1 2380.2L389.3 2388.2L386.6 2387.9L387.6 2378.3L384.9 2378L385 2377.5L382.4 2377.2L382.7 2374.6L380.1 2374.3L379.4 2379.2L376.7 2378.9L375.5 2387.6L372.8 2387.2L374.6 2375.1L372 2374.7L372.1 2373.9L369.5 2373.4L370.8 2366A284 284 0 0 0 465.5 2366.3Z" fill="#6E8570"/>
<path d="M462.8 2350.1L461.1 2348.4L459.7 2348.2L458.6 2350.6L457 2349.5L455.5 2348.7L454.3 2349.9L452.7 2348.2L451.3 2348.4L450.1 2349.8L448.9 2351.9L447.4 2350.5L445.8 2349.2L444.7 2352.2L443.2 2350.9L442 2352.9L440.4 2350.6L439 2350.8L437.6 2350.3L436.4 2353.7L434.8 2350.8L433.5 2351.3L432 2350.1L430.6 2349.3L429.3 2352.7L428 2353.3L426.5 2351.1L425.1 2351.6L423.7 2350.3L422.3 2351.3L421 2352.8L419.6 2353L418.2 2352.6L416.8 2349.5L415.4 2351.5L414 2351.8L412.6 2352.5L411.2 2353.7L409.9 2350.2L408.4 2352.7L407 2353.3L405.7 2351.1L404.2 2353.6L402.9 2350.7L401.3 2354.3L400.1 2351.8L398.7 2351.8L397.4 2350.4L395.9 2351L394.5 2351.2L393.1 2351.7L391.9 2349.6L390.5 2349.6L389.1 2349.3L387.6 2350.8L386.2 2350.3L384.7 2351L383.4 2350.8L382.1 2349.6L381 2347.6L379.3 2349.7L378.2 2347.8L375.8 2353.8L375.1 2349.1L374 2347.4L375.8 2337.1L377.2 2336.5L378.1 2339.7L379.6 2338.3L381 2338L382.3 2338.8L383.6 2339L384.7 2340.7L386.1 2340.4L387.5 2340.1L388.9 2339.2L390.2 2339.8L391.6 2339.8L393.1 2337.5L394.3 2339L395.5 2340.5L397 2339.2L398.4 2338.6L399.5 2340.7L400.8 2341.2L402.1 2341.8L403.5 2340.6L404.8 2341.2L406.2 2341L407.5 2341.5L408.9 2341.1L410.2 2341.5L411.5 2342.6L412.9 2341.3L414.2 2341.9L415.5 2340.7L416.9 2340L418.2 2343.3L419.5 2340.4L420.9 2342.2L422.2 2342.3L423.5 2340.6L424.9 2340.2L426.2 2340.1L427.6 2341.9L428.9 2340.4L430.2 2340.7L431.5 2340.4L433 2342.2L434 2337.7L435.4 2337.8L437 2341.7L438.2 2340.4L439.6 2341.1L441 2342.1L442.3 2341L443.5 2339.3L444.9 2340L446.3 2341.2L447.8 2341.9L448.9 2339.7L450.1 2338.9L451.5 2339.3L452.9 2339.6L453.6 2335L455.4 2338.3L456.6 2337.2L458.2 2338.6L459.1 2335.8L460.8 2338.4Z" fill="#6E8570" stroke="#6E8570" stroke-width="0.8" stroke-linejoin="round"/>
<path d="M391.8 2345.2L389.5 2355.3" fill="none" stroke="#6E8570" stroke-width="2.4"/>
<path d="M453.7 2295.2L452.5 2296.2L451.2 2296.2L450 2297L448.5 2295.6L447.6 2298.6L446.3 2298.7L444.9 2298.1L443.4 2296.3L442.3 2298.3L441 2298.3L439.8 2299.3L438.6 2300L437.2 2299.5L435.9 2299.4L434.5 2298.6L433.2 2298L432 2299.4L430.7 2300.1L429.4 2299.6L428.2 2301.9L426.8 2299.3L425.6 2302.3L424.2 2301.6L422.9 2302L421.6 2302.1L420.3 2300.9L419 2302L417.7 2299.7L416.4 2301.2L415.1 2300L413.8 2300.3L412.4 2300.4L411.1 2300.2L409.8 2300.7L408.5 2301.1L407.2 2301.6L405.9 2300.6L404.7 2299.2L403.4 2298.9L402 2300.1L400.6 2300.6L399.5 2298.8L398.2 2298.9L396.8 2299.5L395.4 2300.7L394.3 2298.2L392.7 2300.4L391.6 2298.7L390.3 2299.3L389.2 2297.2L387.6 2299.4L386.6 2296.8L385.3 2297.2L384 2296.8L382.6 2297.5L384.5 2286.6L385.3 2289.1L386.4 2290.1L387.8 2289L388.7 2292.1L390 2291.4L391.4 2290.8L392.7 2290.7L393.8 2291.8L395.1 2291.6L396.4 2291.5L397.6 2291.4L398.9 2291.1L400 2293.6L401.3 2292.5L402.6 2291.9L404 2290.3L405.1 2292.5L406.2 2294.9L407.6 2294.2L408.9 2292.2L410.1 2294.1L411.4 2292.7L412.7 2293.2L413.9 2293.7L415.2 2292.1L416.4 2293.8L417.7 2293.5L419 2293.6L420.2 2293.8L421.5 2292L422.7 2292.6L424.1 2294.7L425.3 2293.4L426.5 2292L427.7 2291.5L429 2292.7L430.3 2292.4L431.6 2292.8L432.8 2292.7L434.1 2292.9L435.4 2292.8L436.5 2291L437.8 2291.7L439 2291L440.2 2290.4L441.6 2291.8L442.7 2290L443.6 2287.5L445.2 2290.5L446.6 2291.2L447.3 2287L449.1 2290.7L450.3 2290.1L451.4 2289.4L452.6 2289.1Z" fill="#6E8570" stroke="#6E8570" stroke-width="0.8" stroke-linejoin="round"/>
<path d="M393.5 2294.6L393.7 2307.5" fill="none" stroke="#6E8570" stroke-width="2.4"/>
<path d="M370.8 2366L368.8 2377.8L366.2 2377.4L364.6 2386.1L361.9 2385.6L363.3 2378.1L360.7 2377.5L360.7 2377.7L358.1 2377.1L357.7 2378.7L355.1 2378.1L355.5 2376.6L352.9 2376L353.2 2374.7L350.6 2374.1L349.4 2379L346.8 2378.4L347.7 2374.6L345.1 2373.9L344.8 2375.4L342.2 2374.7L343 2371.7L340.4 2371L336.6 2384.6L334 2383.9L337.6 2371.1L335.1 2370.3L334.4 2372.7L331.8 2371.9L331.1 2374.2L328.5 2373.4L329.2 2371.1L326.7 2370.3L326.8 2370.1L324.2 2369.2L322.9 2373L320.4 2372.2L320.9 2370.5L318.4 2369.6L316.4 2375.4L313.8 2374.5L314.6 2372.1L312.1 2371.1L313.8 2366.4L311.3 2365.5L311.3 2365.7L308.7 2364.7L307.2 2368.7L304.6 2367.7L305.3 2366L302.8 2365L304.2 2361.7L301.7 2360.7L300.6 2363.3L298.1 2362.2L298.7 2360.9L296.2 2359.8L295.9 2360.5L293.4 2359.4L291.6 2363.3L289.2 2362.2L290.4 2359.5L288 2358.3L288.1 2358L285.7 2356.8L286.4 2355.4L284 2354.2L283.8 2354.5L281.4 2353.3L279.5 2357L277.1 2355.7L279.1 2351.9L276.7 2350.7L274.8 2354.1L272.4 2352.8L272.5 2352.6L270.2 2351.3L270.6 2350.6L268.2 2349.2L270.3 2345.6L268 2344.2L268.4 2343.4L266.1 2342.1L264.5 2344.8L262.2 2343.4L262.6 2342.8L260.3 2341.4L261.7 2339.1L259.4 2337.7L258.6 2339L256.3 2337.5L257.1 2336.3L254.9 2334.8L253.9 2336.4L251.6 2334.9L260.4 2321.8A284 284 0 0 0 370.8 2366Z" fill="#89648F"/>
<path d="M374.1 2346.8L372.7 2346.8L371 2348.7L369.9 2346.9L368.7 2346L367.4 2345.1L365.9 2346L364.3 2346.7L362.9 2346.6L361.7 2345.7L360.5 2344.6L359 2345L357.3 2345.9L355.8 2346.4L354.9 2344.4L353.4 2344.4L352.4 2343L350.4 2345.1L349.1 2344.5L348.1 2342.7L346.7 2342.5L345.5 2342L343.4 2344.1L342.3 2342.8L340.6 2343.7L340 2340.8L339.1 2339.2L337.3 2340.1L336.2 2339.2L334.8 2338.8L333.8 2337.4L331.6 2339.7L330.7 2338.1L329.6 2337.1L327.6 2338.4L326.2 2338.1L326.1 2334.5L323.7 2336.8L323.2 2334.4L320.8 2336.6L320.9 2332.6L318 2336L317.9 2332.6L316 2333.6L315.6 2331L314.2 2330.7L313.5 2328.9L312.1 2328.6L309.9 2330.1L307.8 2331.3L308 2327.6L306.6 2327.3L306 2325.4L304.3 2325.7L302.3 2326.7L301 2326.1L301.1 2322.9L299 2324L297.1 2324.6L297.5 2320.8L293.8 2324.9L294.2 2321.2L293.6 2319.3L291.5 2320.3L290.1 2320.1L288.8 2319.4L286.9 2320L287.7 2315.7L285.1 2317.5L283.2 2318L283.4 2314.9L282.3 2314.1L280.6 2314.1L280.1 2312.3L279.2 2311.2L277.9 2310.7L277.5 2308.8L275.8 2308.9L274.2 2308.8L272.9 2308.3L271.2 2308.2L270.6 2306.6L275.3 2299.7L277.8 2298.4L278.2 2300.2L280.1 2299.6L281.4 2300.1L282.3 2301.2L282.3 2303.7L283.9 2303.6L285 2304.4L287.9 2302.2L288.1 2304.4L289.1 2305.3L290.6 2305.4L290.6 2308L292.4 2307.6L293.3 2308.6L294.8 2308.7L295.5 2310.2L297.4 2309.5L298.7 2309.9L299.4 2311.4L299.6 2313.9L301.9 2312.3L302.1 2314.9L303.6 2314.9L306.5 2312L305.4 2317.1L307.3 2316.4L308.6 2316.6L310.2 2316.4L311.5 2316.9L313.3 2316.1L312.5 2320.9L314.4 2320L316.5 2318.7L317.5 2319.7L318 2321.8L320.3 2319.8L320.2 2323.6L321.2 2324.5L322.9 2324L324.3 2324.1L325.1 2325.6L327 2324.4L328.5 2324.3L329.5 2325.3L330.7 2326L331.7 2327L333.6 2325.9L334 2328.6L335.3 2328.8L337 2328L338.3 2328.4L339.3 2329.6L340.3 2331L341.8 2330.6L342.9 2331.5L344.2 2331.8L345.4 2332.5L347.1 2331.6L348.4 2331.7L349.5 2332.9L350.8 2333L351.9 2334.2L353.1 2334.7L355.1 2332.5L355.9 2334.6L357.3 2334.4L358 2337.1L359.8 2335.7L361.6 2333.8L362.6 2335.1L363.6 2337L365.2 2335.7L366.5 2336.3L368.3 2334L370 2332.1L370.7 2335.6L371.9 2336L373.1 2336.9L374.7 2335.5L376.1 2335.1Z" fill="#89648F" stroke="#89648F" stroke-width="0.8" stroke-linejoin="round"/>
<path d="M297 2316.4L291.6 2324.9M303.9 2319.9L307.8 2309.3" fill="none" stroke="#89648F" stroke-width="2.4"/>
<path d="M382.5 2298.2L381.3 2297.3L380.1 2296.5L379 2295.2L377.1 2298.1L376.2 2295.8L374.9 2295.7L373.8 2294.8L372 2296.9L371.6 2292.8L369.9 2294.4L368.4 2294.8L367.2 2294.2L365.9 2294.1L364.6 2293.7L363.7 2292.2L362.5 2291.5L360.9 2292.4L359.6 2292.1L358.9 2289.8L357.2 2291.1L356 2290.5L354.6 2290.6L354 2288.2L352.9 2287.3L351.2 2288.5L350.1 2287.5L348.9 2287.2L347.1 2288.4L346.1 2287.1L344.6 2287.4L343.8 2285.9L342 2287L341.4 2284.8L339.5 2286L338.8 2284.2L337.9 2283.1L335.5 2285.3L335.5 2282.1L333.9 2282.5L332.7 2282L331.2 2282.1L330.3 2281L328.9 2280.9L328.2 2279.3L326.9 2278.9L325.4 2279L325.3 2276.2L322.2 2279.5L321.8 2277.5L320.8 2276.5L320.4 2274.5L319.4 2273.5L317.5 2274.4L316.5 2273.5L314.5 2274.3L314.2 2272.2L312.7 2272.3L311.7 2271.4L309.3 2272.9L310 2269.1L308.6 2268.9L307.7 2267.8L305.8 2268.4L305.9 2265.8L304.6 2265.4L303 2265.5L301.6 2265.2L302.2 2261.9L299.5 2263.6L305.1 2255.3L305.8 2256.6L306.8 2257.3L307.1 2259.2L308.4 2259.5L309.4 2260.3L310.2 2261.3L311.5 2261.7L311.8 2263.6L313.9 2262.5L314.1 2264.7L315.8 2264.2L315.9 2266.5L317.6 2266.2L318.3 2267.5L319.5 2268L320.9 2268L322.3 2268.1L323.2 2269.1L324.1 2270.1L325.3 2270.6L326.2 2271.5L328 2270.7L328.7 2272.3L330.3 2271.7L332.1 2270.8L331.7 2274.7L333 2274.9L334.2 2275.4L336 2274.4L336.6 2276.3L337.9 2276.3L339.2 2276.5L340.9 2275.8L342.2 2276L342.9 2277.6L344.2 2277.6L345.9 2276.8L346.4 2278.8L347 2281.1L348.3 2281.2L349.4 2281.7L350.7 2281.8L352.9 2279.5L353.5 2281.5L355.3 2280.2L356.8 2279.6L357 2283L357.9 2284.3L359.4 2283.7L360.5 2284.5L361.9 2284.3L362.8 2285.8L364.3 2284.9L365.4 2285.8L366.5 2286.6L368 2285.9L369 2287.1L370.6 2285.7L372 2285.4L373.3 2285.4L374.2 2287L375.2 2288.3L376.4 2288.5L377.4 2290L378.8 2289.7L380.1 2289.3L381.3 2290L382.5 2290.4L384 2289.4Z" fill="#89648F" stroke="#89648F" stroke-width="0.8" stroke-linejoin="round"/>
<path d="M260.4 2321.8L251.1 2335.7L248.9 2334.2L243.6 2341.8L241.3 2340.3L246.8 2332.5L244.6 2330.9L242.7 2333.7L240.4 2332.1L239.8 2333L237.6 2331.4L239.6 2328.7L237.4 2327.1L239.9 2323.8L237.8 2322.2L231.8 2330L229.6 2328.3L232.9 2324.1L230.8 2322.4L230.9 2322.4L228.8 2320.7L230.3 2318.8L228.3 2317.1L225.4 2320.6L223.3 2318.9L216.7 2326.7L214.6 2324.8L225.6 2312L223.5 2310.3L220.3 2314.1L218.2 2312.3L217 2313.7L215 2311.9L214.6 2312.3L212.6 2310.5L213.3 2309.7L211.3 2307.8L210.3 2308.9L208.3 2307L210.9 2304.4L209 2302.5L208.9 2302.5L207 2300.7L206.5 2301.2L204.6 2299.3L202.9 2300.9L201 2299L200.1 2299.9L198.2 2298L200.2 2296L198.3 2294L198.5 2293.9L196.7 2291.9L196.2 2292.3L194.4 2290.3L195.8 2289L194 2287L192.4 2288.4L190.6 2286.4L190.8 2286.3L189 2284.3L183.9 2288.7L182.1 2286.6L188.5 2281.1L186.8 2279.1L180.6 2284.2L178.9 2282L184.5 2277.5L182.8 2275.4L183.2 2275L181.6 2272.9L182.4 2272.2L180.8 2270.1L177.9 2272.3L176.3 2270.2L177.7 2269.1L176.1 2266.9L175.9 2267L174.3 2264.8L174.2 2265L172.6 2262.8L175.5 2260.7L174 2258.5L171.1 2260.5L169.6 2258.3L169.8 2258.1L168.3 2255.9L166.2 2257.3L164.7 2255L165.5 2254.5L164 2252.2L164.4 2252L162.9 2249.7L160.1 2251.5L158.6 2249.2L163.4 2246.2L161.9 2244L162.7 2243.5L161.3 2241.2L160.3 2241.8L158.9 2239.5L160 2238.9L158.6 2236.6L152.9 2239.9L151.5 2237.5L152.2 2237.1L150.9 2234.7L170.5 2223.8A284 284 0 0 0 260.4 2321.8Z" fill="#A4528E"/>
<path d="M269.6 2308.1L267.4 2308.9L267.9 2305.6L266.6 2305.1L264.1 2306.2L264.1 2303.7L263.5 2302.3L262.1 2301.7L260.3 2301.9L259.7 2300.3L258.7 2299.3L257.3 2298.9L255.3 2299.2L255.6 2296.5L253.4 2297L251 2297.8L253.2 2292.7L251.3 2292.9L250.6 2291.5L248.7 2291.6L249.1 2289L247.1 2289.2L245 2289.4L245.7 2286.5L243.2 2287.2L244 2284.2L241 2285.5L241.6 2282.7L240.6 2281.8L239.4 2281L238.3 2280.2L236.2 2280.3L235.2 2279.4L232.8 2279.8L234.1 2276.5L233.1 2275.6L231.1 2275.6L230.3 2274.4L230.3 2272.5L228.7 2272.1L226.3 2272.5L226.8 2270.1L225.6 2269.2L224 2268.8L224 2266.9L221.8 2267L222.6 2264.4L220 2264.8L218.9 2263.9L219 2262L217.1 2261.8L216.4 2260.6L215.8 2259.2L216.8 2256.5L214.1 2256.9L212.7 2256.3L213.2 2254.1L210.8 2254.3L211.3 2252L210.1 2251.2L207.9 2251.1L207.4 2249.8L207 2248.3L204.8 2248.2L204.8 2246.4L203.4 2245.7L203.1 2244.2L202.1 2243.2L202.1 2241.5L199.2 2241.8L200.5 2239.2L198.1 2239.1L198.5 2237.1L196.4 2236.9L198.6 2233.7L196.1 2233.7L194.6 2233L195.4 2230.8L195 2229.4L194.2 2228.2L193.3 2227.2L193.8 2225.2L193.2 2224L192.6 2222.7L190.1 2222.6L188.8 2221.7L189 2219.9L190.8 2217.3L189.7 2216.4L187.8 2215.8L186.9 2214.7L196.2 2209.6L196.8 2210.8L197.9 2211.7L199.5 2212.3L198.9 2214.2L198.4 2216.1L199.5 2217L201 2217.6L201.7 2218.8L201.6 2220.4L203.7 2220.7L202.2 2223.2L206 2222.4L203.5 2225.6L204.9 2226.3L205 2227.8L208.7 2226.9L207.4 2229.4L207.2 2231.2L208.4 2232L207.8 2234.1L210.2 2234.1L210.1 2235.8L210.5 2237.1L212.2 2237.6L213.2 2238.5L214.4 2239.2L213.6 2241.5L215.5 2241.8L216.9 2242.4L217.9 2243.3L218.6 2244.5L220.5 2244.7L219.4 2247.3L221.2 2247.6L222.9 2247.9L220.8 2251.4L224.1 2250.4L225.4 2251L223.4 2254.5L225.9 2254.2L226.7 2255.2L228.3 2255.6L229.3 2256.5L230 2257.6L230 2259.5L232.7 2258.8L232.3 2261L234.6 2260.7L233.9 2263.2L234.9 2264.1L235.5 2265.4L236.2 2266.6L237.8 2266.9L240.2 2266.4L240.2 2268.3L240.6 2269.8L242.7 2269.6L243.3 2270.9L242.5 2273.7L244.5 2273.5L245.6 2274.3L246.3 2275.5L247.6 2276.1L249.1 2276.4L250 2277.5L250.5 2278.9L252.7 2278.4L253.2 2279.9L253.8 2281.3L255.6 2281.1L256 2282.8L257.5 2283L259 2283.4L259 2285.5L259.4 2287.1L260.7 2287.7L261.6 2288.8L263.1 2289L263.3 2291L264.3 2291.8L265.8 2292.1L266.4 2293.6L268 2293.6L269.2 2294.3L270 2295.5L270.9 2296.6L271.6 2297.8L274.5 2296.1L275 2297.8L275.8 2298.9Z" fill="#A4528E" stroke="#A4528E" stroke-width="0.8" stroke-linejoin="round"/>
<path d="M299.6 2263.5L299.5 2261.4L296.4 2263.6L295.7 2262.3L295 2261L294.4 2259.6L293.6 2258.4L292.1 2258.2L290.7 2257.9L289.4 2257.5L288.7 2256.3L287.9 2255.1L286.9 2254.3L286 2253.3L285.8 2251.4L284.5 2250.9L282.7 2251.1L282.5 2249.3L280.8 2249.3L280 2248.2L278.6 2247.8L278.3 2246.2L277.7 2244.9L275.8 2245L275.6 2243.3L272.1 2245.2L271.9 2243.4L272.4 2241L272.7 2238.8L270.6 2239.1L269.6 2238.2L268.6 2237.4L267.2 2236.9L267.7 2234.6L265.9 2234.6L265.9 2232.7L263.9 2232.8L263.5 2231.4L262.3 2230.8L261.6 2229.6L260.7 2228.7L259.1 2228.3L258.4 2227.2L258.7 2225.2L258.5 2223.7L255.9 2224.1L255.6 2222.7L255.6 2221L253.5 2221L250.9 2221.5L252.1 2218.8L251 2218L248.4 2218.4L249.6 2215.8L248 2215.4L248.5 2213.3L246.9 2212.9L247.3 2211L245.1 2211L245.7 2208.9L243.5 2208.9L241.4 2208.7L242.5 2206.4L240.9 2205.9L240.7 2204.4L238.9 2204L238.7 2202.6L239.7 2200.4L238.8 2199.4L238.5 2198L237.4 2197.2L235.1 2197.1L234.4 2195.9L235 2194.1L234.3 2193L231.8 2192.9L232.6 2190.9L231.1 2190.2L237.8 2186.5L239.3 2187.2L237.6 2189.6L239.9 2189.7L240.6 2190.8L242.8 2191L241.8 2193L244.5 2192.9L243.1 2195.2L244.2 2196L244.6 2197.2L245.2 2198.4L245.4 2199.8L248.7 2199.1L247.8 2201.2L247.6 2202.9L248.6 2203.7L249.8 2204.4L251.6 2204.8L250.8 2206.9L252.8 2207L254.2 2207.5L253.3 2209.8L254 2210.8L254.7 2211.9L255.3 2213L258.2 2212.4L258.5 2213.7L258.7 2215.2L260.9 2215L260.5 2216.9L260.4 2218.7L262.3 2218.7L263.4 2219.4L263.4 2221.2L264.1 2222.2L264.8 2223.2L266.9 2223L266.7 2225L266.6 2226.8L268.1 2227.1L269.1 2227.9L271.9 2226.9L271 2229.6L272.1 2230.3L272.1 2232.1L273.7 2232.3L274.8 2232.9L277.4 2232L276.4 2234.9L278.9 2234.1L277.3 2237.6L279.4 2237.2L279.7 2238.8L282.2 2238L282.5 2239.5L282.2 2241.8L284.6 2241L284.1 2243.4L285.3 2243.9L286.7 2244.3L288.4 2244.2L289.3 2245.1L290.8 2245.3L290.3 2247.8L290.9 2249.1L292.1 2249.7L295 2247.9L293.8 2251.7L297.2 2249.2L297.4 2251.1L298.1 2252.2L298.5 2253.9L298.8 2255.6L300.4 2255.5L303.3 2253.5L303.2 2255.9L303.5 2257.8Z" fill="#A4528E" stroke="#A4528E" stroke-width="0.8" stroke-linejoin="round"/>
<path d="M170.5 2223.8L153.8 2233.1L152.5 2230.7L150.5 2231.9L149.2 2229.5L152.1 2227.9L150.8 2225.6L153.6 2224.2L152.3 2221.8L148.8 2223.6L147.5 2221.2L148.8 2220.6L147.6 2218.2L142.1 2220.9L140.9 2218.5L149 2214.6L147.8 2212.2L146.6 2212.8L145.5 2210.4L146.1 2210.1L145 2207.7L145.4 2207.5L144.3 2205.1L134.7 2209.3L133.6 2206.7L143.8 2202.4L142.8 2200L142.5 2200.1L141.5 2197.7L135.1 2200.2L134.1 2197.7L142.2 2194.5L141.3 2192.1L139.4 2192.8L138.5 2190.3L135.9 2191.3L135 2188.8L137.8 2187.8L136.9 2185.3L134.1 2186.3L133.2 2183.8L137.2 2182.4L136.4 2179.9L136.5 2179.8L135.7 2177.3L137 2176.9L136.2 2174.4L135.3 2174.7L134.5 2172.2L126.5 2174.6L125.8 2172L132.4 2170.1L131.7 2167.5L132.6 2167.3L131.9 2164.7L129.2 2165.5L128.5 2162.9L129.2 2162.7L128.6 2160.1L119.7 2162.4L119.1 2159.7L126.3 2158L125.7 2155.4L123.9 2155.8L123.3 2153.2L124.8 2152.8L124.2 2150.2L117.2 2151.8L116.6 2149.1L117.2 2149L116.7 2146.3L121.9 2145.3L121.4 2142.6L125.1 2141.9L124.6 2139.3L126.1 2139L125.6 2136.5L115.4 2138.2L114.9 2135.5L122.5 2134.3L122.1 2131.7L119.6 2132.1L119.2 2129.4L122.7 2128.9L122.4 2126.3L125.8 2125.8L125.5 2123.2L122.7 2123.6L122.4 2120.9L124 2120.7L123.7 2118.1L128.7 2117.6L128.4 2115L124.9 2115.4L124.7 2112.8L126.4 2112.6L126.2 2110L120.8 2110.5L120.6 2107.8L123.5 2107.6L123.4 2105L117.7 2105.4L117.5 2102.7L122.1 2102.4L121.9 2099.8L120.3 2099.9L120.2 2097.2L118.4 2097.3L118.3 2094.7L120.3 2094.6L120.2 2092L121.4 2091.9L121.4 2089.3L113.8 2089.4L113.8 2086.7L134.9 2086.6A284 284 0 0 0 170.5 2223.8Z" fill="#C9645A"/>
<path d="M186.8 2214.8L183.6 2215L185.1 2212.6L183.4 2211.9L183.4 2210.3L184 2208.4L183.2 2207.2L182 2206.3L181.8 2204.8L178.1 2205.1L180.5 2202.4L179.9 2201.1L179.5 2199.7L178 2198.9L177.9 2197.4L176.4 2196.6L177.2 2194.7L176.7 2193.4L175.4 2192.5L176.3 2190.5L174.4 2189.8L175.9 2187.7L174.4 2186.8L175.6 2184.8L173.3 2184.2L171.8 2183.4L170.5 2182.4L168.8 2181.5L170.9 2179.2L170.4 2177.9L169.6 2176.8L170.6 2174.9L164.9 2175.4L165.6 2173.7L167.3 2171.6L166.5 2170.4L164.7 2169.6L165.7 2167.7L166.3 2166.1L165 2165L165.1 2163.6L164 2162.4L163.9 2161L162 2160.1L159.5 2159.3L160.9 2157.5L162.1 2155.7L159.4 2154.9L159.5 2153.5L160.6 2151.7L159.8 2150.5L161 2148.8L159.7 2147.6L158.4 2146.5L159.7 2144.8L157.3 2143.9L158.7 2142.1L157.7 2140.9L157.4 2139.5L155.9 2138.4L157.1 2136.8L155.7 2135.6L154.2 2134.4L158.2 2132.3L156.2 2131.2L155.4 2129.9L156.4 2128.3L155.8 2127L154.2 2125.8L156.8 2124.1L154.9 2122.9L153.8 2121.6L153.9 2120.2L155.9 2118.6L153.9 2117.4L153.2 2116.1L152.4 2114.7L154.8 2113.1L153.9 2111.8L152.4 2110.5L153.3 2109L151.6 2107.7L154.8 2106.1L152.7 2104.8L150.4 2103.6L152.3 2102L152.7 2100.6L153.1 2099.2L151.2 2097.9L153.5 2096.4L153.2 2095L150.1 2093.7L152.6 2092.2L151.3 2090.8L153 2089.4L153.6 2088L151.7 2086.6L164.3 2086.6L165.8 2087.9L164 2089.3L161.1 2090.7L162.4 2092L164.6 2093.3L163.3 2094.7L162.5 2096L162.1 2097.4L163.4 2098.7L164.4 2100L163.3 2101.4L163.4 2102.7L166.4 2103.9L166.1 2105.2L162.1 2106.9L164.1 2108.1L163.8 2109.4L164.2 2110.8L166.8 2111.8L163.4 2113.6L163.5 2114.9L165.8 2116L167.1 2117.2L166.3 2118.6L166.7 2119.9L167 2121.2L168.9 2122.3L165.1 2124.2L167.5 2125.2L167.3 2126.6L166.6 2128.1L168.5 2129.1L169.4 2130.3L166.4 2132.2L169.7 2132.9L166 2135L167 2136.2L166.7 2137.6L167.9 2138.8L169.5 2139.8L167.5 2141.6L168.7 2142.7L167.7 2144.4L169.1 2145.4L169.3 2146.7L169.4 2148.1L172.7 2148.7L170.1 2150.7L169.4 2152.3L171.1 2153.2L171.7 2154.5L174.3 2155.2L171.9 2157.2L172.7 2158.4L174.6 2159.2L173.3 2161L174 2162.2L175.6 2163.2L178.4 2163.6L176.2 2165.8L175.9 2167.3L179.2 2167.6L176.7 2169.8L178.9 2170.5L179.6 2171.7L178.3 2173.6L180.9 2174.1L181.6 2175.2L182.7 2176.2L180.6 2178.5L185.3 2178.1L183.9 2180L184.3 2181.3L183.4 2183.1L185.1 2183.8L184.1 2185.7L184.9 2186.8L183.2 2189L186.3 2189.1L187.2 2190.2L186 2192.2L189.1 2192.3L187 2194.7L188.4 2195.5L188.6 2196.9L190 2197.7L188.4 2200L190.2 2200.6L190.9 2201.8L192.8 2202.3L191.6 2204.4L193.2 2205.2L194.7 2205.9L193.3 2208.1L194.4 2209.1L196.2 2209.6Z" fill="#C9645A" stroke="#C9645A" stroke-width="0.8" stroke-linejoin="round"/>
<path d="M231.5 2190.1L228.9 2190L231.3 2187.2L229.7 2186.5L228 2186L227.7 2184.7L228.1 2183L225.7 2182.8L226.2 2181L226.3 2179.5L225.4 2178.5L225.6 2177L224 2176.3L225.3 2174.3L223.2 2173.8L220.2 2173.7L220.3 2172.2L221.6 2170.2L221.9 2168.7L219.7 2168.2L220.4 2166.5L219.8 2165.3L220.2 2163.8L219.3 2162.7L217.9 2161.9L218.2 2160.4L218.3 2159L216.9 2158.1L216.8 2156.7L216.6 2155.4L215.2 2154.5L215.2 2153.1L214.8 2151.9L214.2 2150.7L214.6 2149.2L214.2 2148L215.3 2146.3L212.9 2145.7L214 2144L212.2 2143.2L213.7 2141.4L212.1 2140.5L209.1 2139.9L212.9 2137.6L208.7 2137.3L210.9 2135.4L212 2133.9L210 2133L208.7 2131.9L209.7 2130.4L209.1 2129.2L207.8 2128.1L207.6 2126.8L209.1 2125.2L208.9 2123.9L206.9 2123L208.3 2121.4L207.2 2120.3L209.6 2118.6L209.1 2117.3L207 2116.3L205 2115.3L205.5 2113.9L206.4 2112.5L207.1 2111.1L206.8 2109.8L206.1 2108.6L204.4 2107.5L207.2 2105.9L205.1 2104.8L204.4 2103.5L206 2102.1L206.9 2100.7L207.2 2099.4L206.3 2098.2L206 2096.9L205.6 2095.6L203.6 2094.4L204 2093.1L205.4 2091.7L204.2 2090.4L205.4 2089.1L205.2 2087.8L204.6 2086.5L212 2086.5L211 2087.8L213.9 2089L211.7 2090.3L211.1 2091.6L211 2092.8L211.9 2094.1L212.6 2095.3L211.8 2096.6L213 2097.8L214.9 2098.9L213 2100.3L213.6 2101.5L213.2 2102.8L212.5 2104.1L213.8 2105.3L215.6 2106.3L213.2 2107.8L214.4 2109L213.9 2110.3L215.9 2111.3L214 2112.8L214 2114.1L214.6 2115.3L214.8 2116.5L216 2117.6L214 2119.2L215.8 2120.2L215.4 2121.5L214.9 2122.8L216.2 2123.9L217.1 2125L217.8 2126.1L216.5 2127.7L216.1 2129L216.9 2130.2L216.4 2131.6L218.1 2132.4L219 2133.5L217 2135.3L219.4 2136L221.5 2136.8L218.9 2138.7L220.8 2139.5L218.1 2141.5L221.7 2141.8L219.7 2143.7L220.7 2144.7L221.1 2145.9L220.6 2147.4L223.7 2147.7L222 2149.6L221.3 2151.1L222.4 2152.1L225.2 2152.5L224.3 2154.1L224.2 2155.5L224 2156.9L226.1 2157.5L226.1 2158.8L224.6 2160.7L226.3 2161.4L226.9 2162.5L228.1 2163.4L227.4 2165L227.8 2166.2L228.2 2167.4L228.6 2168.6L228.4 2170.1L230.3 2170.6L230.4 2171.9L232 2172.6L231 2174.5L231.1 2175.8L232.3 2176.6L232.1 2178.1L233.4 2178.9L233.4 2180.3L234 2181.4L234.5 2182.6L234.9 2183.8L237.7 2183.7L237 2185.5L237.3 2186.8Z" fill="#C9645A" stroke="#C9645A" stroke-width="0.8" stroke-linejoin="round"/>
<path d="M215.7 2139L205.1 2139.8" fill="none" stroke="#C9645A" stroke-width="2.4"/>
<path d="M134.9 2086.6L122.1 2086.7L122.1 2084L119.8 2084L119.9 2081.3L123.9 2081.4L124 2078.7L121.8 2078.7L121.9 2076L110.5 2075.6L110.6 2072.8L119.9 2073.2L120.1 2070.5L122 2070.7L122.2 2068L123.2 2068L123.4 2065.4L115.6 2064.8L115.8 2062.1L118.6 2062.3L118.9 2059.6L124.3 2060.1L124.6 2057.5L118 2056.8L118.3 2054.1L125 2054.9L125.3 2052.2L123 2052L123.3 2049.3L114.5 2048.2L114.8 2045.5L126.1 2047L126.5 2044.3L123 2043.9L123.4 2041.2L126.7 2041.7L127.1 2039.1L128 2039.2L128.4 2036.6L130.3 2036.9L130.8 2034.3L120.6 2032.5L121.1 2029.8L127.6 2031.1L128.1 2028.4L131.1 2029L131.6 2026.4L128.1 2025.7L128.7 2023.1L127.3 2022.8L127.9 2020.2L132.1 2021.2L132.7 2018.6L129.5 2017.8L130.1 2015.2L130.6 2015.3L131.3 2012.8L130.5 2012.6L131.2 2010L122.6 2007.7L123.3 2005.1L131.4 2007.3L132.1 2004.7L132.5 2004.8L133.2 2002.2L136.8 2003.3L137.6 2000.7L132.9 1999.3L133.7 1996.8L137.1 1997.8L137.9 1995.3L139.4 1995.8L140.2 1993.3L135.3 1991.6L136.1 1989.1L143.6 1991.6L144.5 1989.2L138.8 1987.2L139.7 1984.7L137.3 1983.8L138.3 1981.3L139.8 1981.9L140.8 1979.4L144.9 1980.9L145.8 1978.5L145.4 1978.3L146.3 1975.8L140.6 1973.5L141.7 1971L156.6 1977.2A284 284 0 0 0 134.9 2086.6Z" fill="#EE7A20"/>
<path d="M153 2086.6L151.2 2085.2L150.5 2083.8L153.3 2082.5L154.1 2081.1L149.1 2079.6L153.2 2078.3L150.7 2076.9L151.5 2075.5L153.6 2074.2L152 2072.7L154.2 2071.4L153.9 2070.1L154.1 2068.7L154.6 2067.3L154.3 2065.9L154 2064.5L154.7 2063.2L152.5 2061.6L152.9 2060.2L153.1 2058.9L152.2 2057.4L155.1 2056.3L153 2054.7L154.8 2053.5L155.6 2052.2L156.4 2050.9L156.2 2049.5L156.4 2048.1L156.5 2046.7L153.6 2044.9L155.1 2043.7L157.1 2042.6L153.6 2040.6L156.2 2039.7L156.8 2038.4L157.2 2037L158.3 2035.8L157.2 2034.2L160.1 2033.4L158.3 2031.6L160.3 2030.6L155.3 2028.1L159.2 2027.5L157.5 2025.7L160.3 2025L160.5 2023.6L159.6 2021.9L162.1 2021.1L161 2019.4L160.2 2017.8L162.6 2017L160.9 2015.1L160.9 2013.6L163.2 2012.9L163.2 2011.4L162.1 2009.6L162.6 2008.3L164.4 2007.4L164.7 2006.1L164.1 2004.4L166.2 2003.7L166.6 2002.3L166.7 2000.9L165.3 1999L166 1997.7L167.3 1996.7L167.7 1995.4L167.4 1993.8L168.3 1992.6L167.3 1990.8L170 1990.3L170.9 1989.2L170.4 1987.5L172.5 1986.8L173.8 1985.9L171.2 1983.3L181.6 1987.6L182 1989.2L180.6 1990.1L180.7 1991.6L181 1993.1L178.9 1993.7L177 1994.5L178.3 1996.4L179.1 1998.1L177 1998.8L178 2000.5L176 2001.2L176.2 2002.7L177.3 2004.5L176.4 2005.6L176.8 2007.1L177.8 2008.8L174 2009L173.6 2010.3L173.9 2011.8L171.2 2012.3L174.9 2014.8L172.5 2015.5L171.5 2016.6L172.6 2018.3L171.1 2019.3L169.6 2020.3L173.1 2022.6L172.8 2023.9L171.2 2024.8L170.4 2026L170.2 2027.3L168.4 2028.2L170.9 2030.2L168.1 2030.9L169 2032.5L167.4 2033.5L169.8 2035.4L167.1 2036.2L169.9 2038.1L168.3 2039.1L167.4 2040.3L166.6 2041.5L166.4 2042.8L166 2044.1L168.2 2045.8L165.4 2046.7L165.8 2048.1L168.2 2049.8L169.1 2051.3L165.6 2052.1L165.6 2053.5L165.3 2054.8L164.2 2056L164.3 2057.3L163.8 2058.6L163.6 2059.9L164.4 2061.4L163.3 2062.6L164.8 2064.1L163.2 2065.3L163.3 2066.6L165.8 2068.1L164.1 2069.3L164 2070.7L164.8 2072L162.9 2073.3L163.4 2074.6L162.1 2075.9L162.5 2077.3L162.5 2078.6L162 2079.9L163.7 2081.3L162.3 2082.6L162.1 2083.9L161.9 2085.3L163.2 2086.6Z" fill="#EE7A20" stroke="#EE7A20" stroke-width="0.8" stroke-linejoin="round"/>
<path d="M204.8 2086.5L204.6 2085.2L205.1 2083.9L204.8 2082.6L204 2081.3L205.1 2080L206 2078.7L203.3 2077.3L205.5 2076.1L203.9 2074.7L205.1 2073.5L205.8 2072.2L205.4 2070.9L206 2069.7L207 2068.4L205 2067L206.2 2065.8L205 2064.3L205.7 2063.1L205.8 2061.8L207.5 2060.7L207.1 2059.3L205.5 2057.8L206.6 2056.6L207.9 2055.5L207.1 2054.1L207.8 2052.9L208.2 2051.6L207.9 2050.2L210.1 2049.3L208.7 2047.7L208.5 2046.4L210.7 2045.5L211.2 2044.3L209.8 2042.7L209.8 2041.3L210.2 2040.1L211.8 2039.1L211.5 2037.7L211.9 2036.5L213 2035.4L211.3 2033.7L213.3 2032.8L212.6 2031.3L213.9 2030.3L213.1 2028.8L214.7 2027.9L214.7 2026.5L213.4 2024.8L214.9 2023.9L216.8 2023.1L215.7 2021.4L217.1 2020.5L215.8 2018.7L216.2 2017.5L216.4 2016.2L215 2014.3L216.1 2013.3L217.9 2012.6L215.5 2010.3L217.9 2009.8L217.9 2008.4L218.4 2007.2L220 2006.4L220.9 2005.3L219.1 2003.2L226.9 2006.4L227.4 2008L225.9 2008.8L225.2 2009.8L224.9 2011.1L226.6 2013.1L225 2013.8L223.8 2014.7L223.9 2016.1L224.1 2017.5L221.9 2018.1L223.7 2020L224.2 2021.5L223.2 2022.5L221.5 2023.2L224.5 2025.5L220.9 2025.7L220.4 2026.9L223.2 2029L223.3 2030.3L220 2030.7L219.4 2031.8L219.2 2033.1L219.2 2034.4L219.9 2035.8L220.1 2037.2L218.7 2038.1L217.3 2039.1L218.7 2040.7L219.3 2042.1L216.7 2042.8L218.2 2044.4L217.1 2045.5L217.5 2046.8L215.6 2047.7L215.7 2049L215.9 2050.3L216.6 2051.7L216 2052.9L214.1 2053.9L213.9 2055.1L216.2 2056.7L214.6 2057.8L213.7 2058.9L214.8 2060.3L214.9 2061.6L213.1 2062.6L214.1 2064L211.3 2065L212.6 2066.4L213.5 2067.7L212.9 2068.9L212.1 2070.1L212.4 2071.4L213.6 2072.8L213 2074L213.2 2075.2L211.1 2076.4L211.3 2077.7L212.6 2079L211.4 2080.2L210.8 2081.4L211 2082.7L213.9 2084L211.9 2085.3L211.5 2086.5Z" fill="#EE7A20" stroke="#EE7A20" stroke-width="0.8" stroke-linejoin="round"/>
<path d="M209.4 2071.6L198.5 2070.2" fill="none" stroke="#EE7A20" stroke-width="2.4"/>
<path d="M156.6 1977.2L143.9 1972L145 1969.5L140.5 1967.6L141.5 1965.2L149.7 1968.7L150.8 1966.3L148.1 1965.2L149.2 1962.8L149.4 1962.9L150.5 1960.5L149.8 1960.2L150.9 1957.8L152.2 1958.4L153.4 1956L152 1955.4L153.2 1953L156 1954.4L157.2 1952.1L155.6 1951.3L156.9 1949L151.4 1946.1L152.6 1943.7L158.4 1946.8L159.6 1944.5L159.5 1944.5L160.8 1942.2L162.2 1943L163.5 1940.7L162.6 1940.2L163.9 1937.9L162.2 1936.9L163.5 1934.6L166.6 1936.5L168 1934.2L166.5 1933.4L167.8 1931.1L163 1928.2L164.5 1925.9L169.8 1929.3L171.2 1927L168 1925L169.4 1922.8L171.8 1924.3L173.2 1922.1L173.3 1922.2L174.8 1920L176.1 1921L177.6 1918.8L177 1918.4L178.5 1916.2L181.9 1918.7L183.4 1916.6L176.6 1911.7L178.2 1909.5L178.8 1910L180.4 1907.9L179.6 1907.3L181.2 1905.2L183.3 1906.8L184.9 1904.7L186.8 1906.2L188.4 1904.1L178.6 1896.4L180.3 1894.3L186.9 1899.6L188.6 1897.5L189.2 1898L190.9 1896L189.1 1894.5L190.8 1892.5L192.1 1893.6L193.8 1891.6L195.7 1893.2L197.4 1891.2L197 1890.9L198.7 1888.9L198 1888.3L199.8 1886.3L198.8 1885.4L200.6 1883.5L200.3 1883.2L202.1 1881.3L202.4 1881.6L204.3 1879.7L208.5 1883.8L210.3 1881.9L208.4 1880.1L210.3 1878.2L200.4 1868.3L202.3 1866.4L212.1 1876.4L214 1874.6L221.3 1882.1A284 284 0 0 0 156.6 1977.2Z" fill="#FF980A"/>
<path d="M173.4 1984.2L172 1982.1L171.4 1980.3L175 1980.3L174.6 1978.7L174.9 1977.3L175.9 1976.2L175.8 1974.6L177.7 1973.9L177.2 1972.2L178.9 1971.5L178.6 1969.8L181.4 1969.6L180.3 1967.5L181.3 1966.4L181.5 1965L180.5 1962.9L181.3 1961.7L184.3 1961.7L183.5 1959.7L186.3 1959.7L186 1957.9L188.6 1957.8L187.5 1955.5L189.9 1955.3L189.1 1953.2L190.6 1952.5L189.3 1950.2L191.5 1949.9L190.7 1947.7L193.1 1947.6L193.4 1946.1L195 1945.5L194.9 1943.8L196 1942.8L197.1 1941.9L196.9 1940.1L197.4 1938.8L197.2 1937L197.3 1935.3L199 1934.8L202.1 1935.3L198.7 1931.2L201.6 1931.6L201.1 1929.5L204.6 1930.3L205.4 1929.2L205.4 1927.4L205.4 1925.7L208.6 1926.3L209.3 1925.2L209.3 1923.4L207.1 1919.9L208.2 1919L212.1 1920.3L211.8 1918.3L213.9 1918.2L213.6 1916.1L215.2 1915.7L215.1 1913.7L216.6 1913.2L217.8 1912.4L218.1 1910.8L218.9 1909.7L221.7 1910.3L222.2 1908.8L221.8 1906.7L223.2 1906L224.5 1905.3L224.6 1903.5L224.8 1901.8L226.1 1901.1L228.7 1901.7L228.6 1899.6L230.9 1899.9L229.5 1896.6L231.5 1896.6L233.2 1896.3L232.2 1893.3L241.7 1903.2L239.2 1902.5L238.9 1904.1L239 1906.1L237.4 1906.4L237.2 1908.1L237.4 1910.2L233.2 1908L232.8 1909.4L233.1 1911.6L232.2 1912.5L229.9 1912.2L229.1 1913.3L229.2 1915.2L230.7 1918.3L226.2 1916.1L226.3 1917.9L226 1919.5L224.9 1920.3L222.9 1920.4L222.7 1921.9L222.3 1923.4L221.4 1924.4L220.1 1925L218.9 1925.8L219 1927.5L219 1929.3L217.4 1929.7L216.9 1931L216 1931.9L214 1932.2L214.8 1934.4L213.8 1935.3L211.3 1935.1L210.9 1936.5L210.5 1937.9L209.2 1938.6L210.6 1941.2L208 1941L207.9 1942.6L206.3 1943.1L206 1944.5L204.3 1945L205.5 1947.4L203.5 1947.7L203.8 1949.4L203.1 1950.6L201.9 1951.4L201.8 1952.9L198.9 1952.7L199.6 1954.7L201.6 1957.4L198.5 1957.1L197.5 1958.1L198.2 1960.1L195.5 1960L198.2 1963.1L194.6 1962.6L196.4 1965.1L194.6 1965.7L192.3 1966L192.2 1967.4L190.6 1968.1L191.3 1969.9L191.1 1971.3L188.7 1971.7L191.1 1974.3L187.5 1974.1L190.6 1977L188.1 1977.3L186.9 1978.2L186.6 1979.5L185.5 1980.5L184.6 1981.6L183 1982.4L184.6 1984.5L182.2 1985L182.8 1986.7L181.8 1987.7Z" fill="#FF980A" stroke="#FF980A" stroke-width="0.8" stroke-linejoin="round"/>
<path d="M222.4 2004.5L221.8 2002.9L223.4 2002.2L224.1 2001.1L224.1 1999.6L222.7 1997.6L227 1998.1L226.5 1996.5L226.6 1995.1L226.3 1993.5L228.5 1993.1L227.7 1991.3L229 1990.5L229.9 1989.5L231.2 1988.7L228.7 1985.9L231.4 1985.9L231.6 1984.5L232 1983.3L232.3 1982L234.4 1981.6L234.8 1980.4L234.3 1978.6L234.2 1977.1L236.8 1977.1L237.9 1976.2L237.5 1974.5L239.8 1974.4L239.2 1972.5L238.9 1970.8L239 1969.3L242.5 1970L243.3 1969L244.3 1968.1L242.4 1965.3L243.4 1964.4L244 1963.2L246 1963L244.2 1960.2L245.9 1959.7L247.8 1959.5L248.4 1958.4L250.2 1958.1L249.9 1956.2L250.2 1954.9L249.6 1952.7L252.7 1953.5L253.1 1952.2L255.3 1952.3L255.6 1950.9L254.6 1948.3L256.6 1948.3L257.9 1947.7L256.7 1945L258.2 1944.6L260.3 1944.7L260.9 1943.5L261 1941.8L263.3 1942.2L264.5 1941.5L263.4 1938.7L266.4 1939.7L266.8 1938.4L267.9 1937.6L268.9 1936.8L269 1935.1L270.5 1934.8L270.9 1933.3L274.7 1937.2L274.9 1939.2L274.9 1941L273 1940.9L272.9 1942.6L271.7 1943.1L271.1 1944.3L268.7 1943.7L269.2 1945.9L268.4 1946.9L267 1947.3L267.9 1949.8L265.4 1949.2L264.4 1950L265.7 1952.8L263.9 1952.9L261.5 1952.5L261.6 1954.2L262.2 1956.3L259.8 1956L258.7 1956.7L258.3 1957.9L258.7 1959.9L257.5 1960.5L257.2 1961.8L254.6 1961.5L253.6 1962.2L255.2 1965L253.8 1965.5L251.3 1965.2L251.2 1966.7L253 1969.5L250.5 1969.3L250.6 1970.8L251.1 1972.7L249.7 1973.2L249.1 1974.3L247.3 1974.7L245.8 1975.2L246.4 1977L245.5 1978L243.9 1978.4L243.4 1979.6L242.9 1980.7L242.1 1981.7L240.2 1982L241.1 1984L239.9 1984.7L239.7 1986.1L240 1987.7L238.9 1988.5L237.1 1989L235.7 1989.6L236.7 1991.6L236.2 1992.7L235.2 1993.6L233.3 1994.1L233.9 1995.8L233.4 1996.9L232.2 1997.7L232.4 1999.2L233.7 2001.2L230.5 2001.1L230.4 2002.5L231.5 2004.3L229.7 2004.9L228 2005.5L227.6 2006.7Z" fill="#FF980A" stroke="#FF980A" stroke-width="0.8" stroke-linejoin="round"/>
<path d="M229.9 1994.7L243.2 2000.9" fill="none" stroke="#FF980A" stroke-width="2.4"/>
<path d="M221.3 1882.1L212.1 1872.6L214 1870.8L213.9 1870.6L215.9 1868.8L218.5 1871.7L220.5 1869.9L221 1870.4L222.9 1868.7L219.5 1864.9L221.5 1863.1L219.5 1860.8L221.5 1859L225.1 1863.1L227.1 1861.4L227.4 1861.7L229.4 1860L229.2 1859.8L231.3 1858.1L230 1856.5L232.1 1854.8L235.6 1859.2L237.7 1857.6L238.9 1859.1L240.9 1857.5L238.2 1854L240.3 1852.4L241.5 1854L243.6 1852.4L243.3 1852L245.4 1850.5L243.6 1848L245.8 1846.4L247.1 1848.2L249.2 1846.7L250.1 1847.9L252.2 1846.4L248.9 1841.6L251.1 1840.1L252.9 1842.6L255 1841.2L255.5 1841.8L257.7 1840.3L254.7 1835.9L257 1834.4L259.5 1838.2L261.7 1836.8L262 1837.4L264.3 1836L265.1 1837.3L267.4 1835.9L266.8 1835.1L269.1 1833.7L264 1825.2L266.4 1823.8L270.9 1831.6L273.2 1830.3L274.5 1832.5L276.8 1831.2L274.7 1827.5L277 1826.2L278.3 1828.5L280.6 1827.2L280 1826.1L282.3 1824.8L284.3 1828.6L286.6 1827.4L285.6 1825.5L288 1824.3L288.1 1824.5L290.5 1823.4L285.3 1812.8L287.8 1811.6L289.5 1815.2L291.9 1814.1L297 1824.9L299.3 1823.8L296.8 1818.2L299.2 1817.1L300 1819L302.4 1818L301.3 1815.3L303.7 1814.3L304.5 1816L306.9 1815L305.9 1812.5L308.4 1811.5L309 1813.2L311.5 1812.2L315.2 1821.7A284 284 0 0 0 221.3 1882.1Z" fill="#FDBF1B"/>
<path d="M235.4 1896.6L237.3 1896.6L235.9 1893.2L237.3 1892.6L238 1891.4L240 1891.5L238.8 1888.2L242.4 1890L242.2 1887.8L243.2 1886.8L244.3 1886L245.7 1885.5L246.8 1884.7L246.9 1882.7L249.7 1883.8L249 1880.8L250.3 1880.3L251.8 1879.9L251.8 1877.6L252.8 1876.7L254.6 1876.7L256.5 1876.9L257.3 1875.7L258.4 1874.9L259.4 1873.9L258.8 1870.7L261.1 1871.5L261.5 1869.8L264 1870.9L265.6 1870.6L265.1 1867.5L267.2 1868.1L267.6 1866.3L268 1864.5L269.8 1864.5L271.2 1864.2L270.5 1860.6L272.9 1861.6L273.5 1860L275 1859.8L277.5 1861.1L277.1 1857.9L279.5 1859.1L278.9 1855.5L281.1 1856.5L282.6 1856.3L283 1854.2L285.2 1855.1L285.8 1853.5L286.4 1851.7L289 1853.4L290.2 1852.8L291.6 1852.4L292.3 1850.7L294.2 1851.3L295.2 1850.4L295.8 1848.4L296.5 1846.6L299.3 1849.1L300 1847.5L301 1846.4L303.4 1848L303.8 1845.7L303.9 1842.7L307.6 1847.3L308.2 1845.3L309.5 1844.8L310.1 1842.8L312 1843.8L313.7 1844.3L313.9 1841.2L315.5 1841.4L317.4 1842.3L318.6 1841.6L319.5 1840.3L321 1840.2L322.7 1840.7L326.4 1850.2L324.7 1849.6L324.1 1851.7L323.5 1853.7L321.7 1852.8L319.1 1850L318.4 1851.7L317.4 1852.8L316 1852.8L314.5 1852.8L314.2 1855.3L312 1853.6L311.4 1855.5L309.4 1854.4L309.2 1857L308.2 1858L305.2 1855L304.2 1855.9L304.4 1859.2L301.5 1856.4L301.1 1858.6L300.5 1860.3L299.3 1861L297.3 1860L296.7 1861.8L295.6 1862.4L294.4 1863L292.4 1862.2L291.6 1863.5L290.1 1863.7L288.7 1863.8L288.5 1866.2L286.3 1865.2L285.9 1867L285.5 1868.9L282.5 1866.6L282.3 1868.7L280.3 1868.1L280.9 1871.6L279.3 1871.6L278 1872L277 1872.9L276.6 1874.7L275.6 1875.5L272.4 1873.2L273.4 1877.1L272.3 1877.8L270.7 1877.9L270.1 1879.3L268.1 1878.8L268.7 1881.8L267.7 1882.8L265.3 1881.7L263.9 1882L264 1884.4L262 1884L260.8 1884.6L259.9 1885.7L258.5 1886L258 1887.5L257.8 1889.3L255.2 1888.3L255.6 1890.9L252.7 1889.5L252.4 1891.2L253.7 1894.8L252.8 1895.7L251 1895.7L248.9 1895.3L249.2 1897.7L249 1899.4L246.5 1898.6L247.7 1901.9L244 1899.8L245.9 1903.7L243.2 1902.8L242.7 1904.2Z" fill="#FDBF1B" stroke="#FDBF1B" stroke-width="0.8" stroke-linejoin="round"/>
<path d="M270.3 1932.7L270.5 1931L270.8 1929.5L273.2 1930.1L274.3 1929.3L275.9 1929.1L276.2 1927.6L277.1 1926.7L279.1 1927L279.6 1925.6L279.9 1923.9L281.6 1924L282.5 1923L283.8 1922.5L284.4 1921.2L284.8 1919.6L286.7 1920L287.6 1919L288.6 1918.2L290 1917.9L290.2 1916L289.2 1912.5L292.7 1915L294.1 1914.7L294.4 1912.9L295.9 1912.9L296.7 1911.7L297.3 1910.3L299.7 1911.5L300 1909.7L300.5 1908L302.7 1909.1L302.5 1906.3L303.4 1905.4L305.9 1906.8L306.8 1905.9L307.8 1905L308.7 1904.1L309.3 1902.5L310.6 1902.1L312.7 1903.1L313 1901.1L314.2 1900.5L315 1899.3L316.7 1899.8L317.7 1898.9L319.5 1899.4L320.2 1898.1L320.2 1895.3L322.1 1896L322.6 1894.2L324.8 1895.8L326.1 1895.3L326.4 1893.1L327.2 1891.7L329.3 1893.1L330.4 1892.3L331.1 1890.8L332.4 1890.5L333.2 1889.1L334.2 1888L335.1 1886.9L337.1 1888.3L338.6 1888.4L339.3 1886.8L340.9 1887.2L343.1 1892.9L341.6 1892.5L340.9 1894L340.5 1896.5L338.8 1895.7L336.7 1893.9L335.6 1894.5L335.8 1898.3L334 1897.2L333.2 1898.4L332.1 1899.1L330.3 1898.3L330.3 1901.2L328.8 1901L327.5 1901.2L325.7 1900.4L326 1903.7L324.1 1902.9L323 1903.5L322.1 1904.3L320.6 1904.3L321 1907.6L320.3 1908.9L317.4 1906.2L316.4 1907.1L317.5 1911.4L314.4 1908.7L313.1 1908.9L312.4 1910.1L311.4 1910.9L310.6 1912L310 1913.4L307.4 1911.6L306.6 1912.7L305.8 1913.8L305 1914.8L303.3 1914.5L303.4 1916.9L301.8 1916.8L300.4 1917.1L300.3 1919.1L299 1919.3L299.2 1921.8L297.2 1921.1L295.1 1920.4L295.6 1923.1L295.4 1924.9L293.5 1924.5L291.9 1924.5L290.3 1924.4L289.3 1925.3L287.8 1925.4L288.2 1927.9L287.3 1928.7L286.3 1929.5L285.2 1930.1L284.2 1930.9L284.7 1933.3L282 1932.1L280.7 1932.6L280.1 1933.9L279.6 1935.2L278.1 1935.4L277.2 1936.2L274.8 1935.6L274.5 1937Z" fill="#FDBF1B" stroke="#FDBF1B" stroke-width="0.8" stroke-linejoin="round"/>
<path d="M315.2 1821.7L310.9 1810.8L313.4 1809.8L315.4 1815.1L317.9 1814.2L317 1811.8L319.4 1810.9L319.8 1812L322.3 1811.1L320.9 1807.3L323.5 1806.4L323.2 1805.8L325.8 1804.9L326 1805.7L328.5 1804.9L328.9 1806.1L331.4 1805.3L328.7 1796.5L331.3 1795.7L332.8 1800.5L335.3 1799.8L337.6 1807.6L340.1 1806.9L338.8 1802.1L341.3 1801.4L340.8 1799.7L343.4 1799L344.5 1803.2L347.1 1802.5L347 1802.3L349.6 1801.6L348.9 1799L351.5 1798.4L351.7 1799.1L354.2 1798.5L354 1797.6L356.6 1797L356.6 1797L359.2 1796.5L359.8 1799.2L362.4 1798.7L362 1796.8L364.6 1796.3L364.9 1797.9L367.5 1797.4L367 1794.6L369.6 1794.1L369.4 1793L372 1792.6L372.6 1795.9L375.2 1795.5L374.7 1792.4L377.3 1792.1L377.5 1793.2L380.1 1792.9L380.7 1797.1L383.3 1796.8L381.5 1781.8L384.2 1781.5L385.6 1794.2L388.3 1793.9L388.2 1793.5L390.8 1793.2L390.6 1791.1L393.3 1790.9L393.6 1794.3L396.2 1794.1L396.1 1793L398.8 1792.8L398.5 1789L401.2 1788.8L400.8 1782.4L403.5 1782.2L403.9 1789.6L406.5 1789.5L406.6 1790.6L409.2 1790.5L408.9 1780.6L411.7 1780.5L411.9 1789.8L414.5 1789.7L414.5 1790.7L417.2 1790.6L417.3 1802.2A284 284 0 0 0 315.2 1821.7Z" fill="#DFD000"/>
<path d="M322.3 1839.7L324 1840.4L324.7 1838.3L325.6 1836.7L327.2 1837.1L328.5 1836.5L329.7 1835.8L330.7 1834.3L332.9 1836.4L333.7 1834.4L335.3 1834.8L336.2 1833.2L338.2 1834.6L339 1832.8L340.8 1833.8L341.6 1831.7L343 1831.3L344.8 1832.7L345.1 1828.7L346.9 1829.9L348.4 1830L349.4 1828.4L351.7 1831.5L353.1 1831.3L354 1829.2L355 1827.6L357.2 1830.9L357.9 1827.7L359.3 1827.4L360.6 1826.9L361.9 1826.6L363.5 1826.9L364.9 1827.1L366.2 1826.7L367.4 1825.5L368.7 1824.5L370 1824L371.5 1824.7L372.8 1823.7L374.2 1823.9L375.6 1823.3L377.2 1824.5L378.6 1824.9L379.7 1822.3L381.1 1822.7L382.4 1822L383.9 1822.5L385.3 1822.4L386.6 1821.5L388.1 1822.5L389.5 1821.8L391.1 1823.9L392.3 1821.9L393.6 1820.8L394.8 1818.8L396.3 1819.3L397.8 1820.9L399.1 1819.9L400.6 1820L402 1821.2L403.4 1820.5L404.8 1820.2L406.1 1818.8L407.5 1818.7L408.9 1817.4L410.3 1818.8L411.8 1821L413.2 1820.4L414.6 1821.3L416 1820.2L417.4 1819.1L417.4 1830.1L416.1 1831.6L414.8 1832.5L413.4 1829.8L412.1 1833.3L410.7 1830.5L409.3 1829.2L408 1831.2L406.7 1832.2L405.3 1830.2L404.1 1832.3L402.7 1831.3L401.3 1831.1L400 1831.7L398.6 1830.8L397.3 1831.3L395.9 1830.7L394.8 1833.2L393.4 1833.4L392.1 1833.1L390.7 1832.5L389.3 1832.2L387.7 1830.7L386.8 1834.2L385.4 1833.9L384.1 1833.9L382.8 1834.2L381 1831.1L379.9 1833.4L378.8 1834.5L377.3 1834L376.2 1835.7L375 1836.5L373.8 1837.3L372.3 1836.6L370.4 1833.5L369.3 1835.2L368 1835.2L367 1837.1L365.2 1835.2L364.7 1839.2L363.1 1837.9L361.4 1836.6L360.2 1837.3L359.5 1840.4L357.6 1838.1L356.5 1839.2L355.7 1841.6L354.1 1840.6L352.9 1841.1L351.1 1839.9L349.7 1839.8L348.2 1839.3L347.5 1841.7L346.1 1841.8L344.8 1842.3L343.4 1842.3L342.3 1843.1L341.2 1844.1L339.6 1843.4L338.3 1843.8L337 1844.3L336 1845.5L334.4 1844.9L333.1 1845.2L332.3 1847.1L332.4 1851.1L329.6 1847.4L328.6 1848.6L327.8 1850.1L326.3 1850Z" fill="#DFD000" stroke="#DFD000" stroke-width="0.8" stroke-linejoin="round"/>
<path d="M409.1 1825.8L406.5 1810.1M365.7 1831.1L362.8 1816.8" fill="none" stroke="#DFD000" stroke-width="2.4"/>
<path d="M341.1 1887.6L341.4 1884.9L343.2 1886L344.4 1885.4L346.3 1886.7L346.8 1884.3L348.8 1885.9L350.2 1886L350.7 1883.4L352.3 1884.3L352.9 1881.9L355 1884.1L355.1 1879.9L356.7 1880.7L358.4 1881.7L359.4 1880.5L361.2 1882.1L362.3 1881.2L363.8 1881.6L365.1 1881.6L365.8 1879.1L366.7 1877.3L368.5 1879.3L369.8 1878.7L371.4 1880.2L372 1876.7L373.6 1877.8L374.9 1877.8L375.7 1875.3L377.7 1878.2L378.7 1876.8L379.9 1876L381.4 1877L382.6 1876.1L383.9 1876.1L384.7 1872.7L386.3 1874.5L387.6 1874.2L388.9 1874.3L390.1 1873.5L391.6 1874.7L392.9 1874.7L394.3 1875.4L395.3 1872.8L396.9 1874.9L398.2 1875.4L399.2 1871.9L400.7 1874L402 1873.2L403.3 1872.8L404.6 1873.4L405.8 1871.2L407.1 1871.7L408.5 1872.9L409.8 1873.5L411.2 1873.7L412.4 1871.7L413.7 1872.9L415.1 1874L416.4 1872L417.7 1872.9L417.7 1879.4L416.4 1879.7L415.2 1880.6L413.9 1879.8L412.7 1881.1L411.4 1880.1L410.1 1880L408.9 1880.4L407.6 1879.8L406.3 1879.3L405 1879.7L403.8 1879.7L402.6 1880.8L401.2 1880.1L400 1880.3L398.9 1881.8L397.7 1882.8L396.3 1881.5L395 1881.5L393.7 1881.2L392.4 1880.5L391 1880.4L389.8 1880.6L388.8 1882.7L387.3 1881.2L386.1 1881.8L384.8 1881.6L383.6 1882.3L382.5 1883.4L381.4 1884.1L379.8 1882.7L379.1 1885.6L377.6 1884.3L376.4 1884.7L374.8 1883.4L374 1885.7L373.6 1889.8L371.7 1887.1L370.4 1887L368.5 1884.6L367.4 1885.5L367.3 1889.9L365.7 1888.8L363.8 1886.6L363.3 1889.5L361.6 1888L360.3 1888.1L359.2 1888.8L358.3 1890.2L357 1890.3L355.1 1888.6L354.7 1891.4L353.4 1891.5L352.3 1892.2L351.1 1892.5L349.8 1892.8L348.9 1893.8L347 1892.2L346.3 1894.1L344.8 1893.6L343.6 1894.1Z" fill="#DFD000" stroke="#DFD000" stroke-width="0.8" stroke-linejoin="round"/></g>
<text x="417" y="2075.8" font-size="38.8" text-anchor="middle"><tspan font-style="italic">E. affinis</tspan> proper</text>
<text x="417" y="2124.8" font-size="38.8" text-anchor="middle">Europe clade</text>
<g id="hmB"><rect x="907.8" y="60.6" width="723.5" height="721.4" fill="#FDE6E6"/>
<defs><linearGradient id="gB" gradientUnits="userSpaceOnUse">
<stop offset="0.1688" stop-color="#FDE1E1"/>
<stop offset="0.2687" stop-color="#FDDCDC"/>
<stop offset="0.3612" stop-color="#FDD3D3"/>
<stop offset="0.4163" stop-color="#FCC2C2"/>
<stop offset="0.4487" stop-color="#FBA4A4"/>
<stop offset="0.465" stop-color="#FB7C7C"/>
<stop offset="0.475" stop-color="#FC5050"/>
<stop offset="0.4813" stop-color="#FE2020"/>
<stop offset="0.4859" stop-color="#FF0202"/>
<stop offset="0.5" stop-color="#FF0000"/>
<stop offset="0.5141" stop-color="#FF0202"/>
<stop offset="0.5188" stop-color="#FE2020"/>
<stop offset="0.525" stop-color="#FC5050"/>
<stop offset="0.535" stop-color="#FB7C7C"/>
<stop offset="0.5513" stop-color="#FBA4A4"/>
<stop offset="0.5837" stop-color="#FCC2C2"/>
<stop offset="0.6388" stop-color="#FDD3D3"/>
<stop offset="0.7312" stop-color="#FDDCDC"/>
<stop offset="0.8313" stop-color="#FDE1E1"/>
</linearGradient>
<radialGradient id="gBr"><stop offset="0" stop-color="#FF0000" stop-opacity="1"/><stop offset="0.45" stop-color="#FF0000" stop-opacity="0.85"/><stop offset="1" stop-color="#FF0000" stop-opacity="0"/></radialGradient>
<linearGradient id="gB0" href="#gB" x1="912.4" y1="265.4" x2="1112.4" y2="65.4"/>
<clipPath id="gBb0"><rect x="907.8" y="60.6" width="209.3" height="209.6"/></clipPath>
<linearGradient id="gB1" href="#gB" x1="1085.2" y1="437.6" x2="1285.2" y2="237.6"/>
<clipPath id="gBb1"><rect x="1118.5" y="271.6" width="133.3" height="131.9"/></clipPath>
<linearGradient id="gB2" href="#gB" x1="1252.5" y1="604.4" x2="1452.5" y2="404.4"/>
<clipPath id="gBb2"><rect x="1252.8" y="404.9" width="199.4" height="199"/></clipPath>
<linearGradient id="gB3" href="#gB" x1="1442.9" y1="794.1" x2="1642.9" y2="594.1"/>
<clipPath id="gBb3"><rect x="1454.6" y="606.3" width="176.7" height="175.7"/></clipPath>
</defs>
<rect x="907.8" y="60.6" width="209.3" height="209.6" fill="url(#gB0)"/>
<g clip-path="url(#gBb0)"><circle cx="910.8" cy="63.6" r="20" fill="url(#gBr)"/><circle cx="1115.1" cy="268.2" r="14" fill="url(#gBr)"/></g>
<rect x="1118.5" y="271.6" width="133.3" height="131.9" fill="url(#gB1)"/>
<g clip-path="url(#gBb1)"><circle cx="1121.5" cy="274.6" r="20" fill="url(#gBr)"/><circle cx="1249.8" cy="401.5" r="14" fill="url(#gBr)"/></g>
<rect x="1252.8" y="404.9" width="199.4" height="199" fill="url(#gB2)"/>
<g clip-path="url(#gBb2)"><circle cx="1255.8" cy="407.9" r="20" fill="url(#gBr)"/><circle cx="1450.2" cy="601.9" r="14" fill="url(#gBr)"/></g>
<rect x="1454.6" y="606.3" width="176.7" height="175.7" fill="url(#gB3)"/>
<g clip-path="url(#gBb3)"><circle cx="1457.6" cy="609.3" r="20" fill="url(#gBr)"/><circle cx="1629.3" cy="780" r="14" fill="url(#gBr)"/></g>
<path d="M1485.8 60.6V782M907.8 636.9H1631.3" stroke="#fff" stroke-width="1" opacity="0.10" fill="none"/>
<path d="M1117.7 60.6V782M907.8 269.9H1631.3" stroke="#fff" stroke-width="9" opacity="0.10" fill="none"/>
<path d="M1186.9 60.6V782M907.8 338.8H1631.3" stroke="#fff" stroke-width="4" opacity="0.10" fill="none"/>
<path d="M1377.6 60.6V782M907.8 529H1631.3" stroke="#fff" stroke-width="9" opacity="0.10" fill="none"/>
<path d="M1513.6 60.6V782M907.8 664.7H1631.3" stroke="#fff" stroke-width="1" opacity="0.10" fill="none"/>
<path d="M1394.8 60.6V782M907.8 546.2H1631.3" stroke="#fff" stroke-width="2" opacity="0.10" fill="none"/>
<path d="M1533.4 60.6V782M907.8 684.4H1631.3" stroke="#fff" stroke-width="1" opacity="0.10" fill="none"/>
<path d="M1416.7 60.6V782M907.8 568H1631.3" stroke="#fff" stroke-width="9" opacity="0.10" fill="none"/>
<path d="M1224.6 60.6V782M907.8 376.5H1631.3" stroke="#fff" stroke-width="1" opacity="0.10" fill="none"/>
<path d="M1145.4 60.6V782M907.8 297.5H1631.3" stroke="#fff" stroke-width="2" opacity="0.10" fill="none"/>
<path d="M1233.1 60.6V782M907.8 384.9H1631.3" stroke="#fff" stroke-width="1" opacity="0.10" fill="none"/>
<path d="M1274.6 60.6V782M907.8 426.3H1631.3" stroke="#fff" stroke-width="2" opacity="0.10" fill="none"/>
<path d="M975.9 60.6V782M907.8 128.5H1631.3" stroke="#fff" stroke-width="9" opacity="0.10" fill="none"/>
<path d="M1589.3 60.6V782M907.8 740.2H1631.3" stroke="#fff" stroke-width="9" opacity="0.10" fill="none"/>
<path d="M1579 60.6V782M907.8 729.9H1631.3" stroke="#fff" stroke-width="2" opacity="0.10" fill="none"/>
<path d="M1400.2 60.6V782M907.8 551.5H1631.3" stroke="#fff" stroke-width="4" opacity="0.10" fill="none"/>
<path d="M1369.5 60.6V782M907.8 520.9H1631.3" stroke="#fff" stroke-width="2" opacity="0.10" fill="none"/>
<path d="M1405.8 60.6V782M907.8 557.2H1631.3" stroke="#fff" stroke-width="9" opacity="0.10" fill="none"/>
<path d="M1481.2 60.6V782M907.8 632.3H1631.3" stroke="#fff" stroke-width="4" opacity="0.10" fill="none"/>
<path d="M1191.9 60.6V782M907.8 343.9H1631.3" stroke="#fff" stroke-width="1" opacity="0.10" fill="none"/>
<path d="M1488.5 60.6V782M907.8 639.6H1631.3" stroke="#fff" stroke-width="9" opacity="0.10" fill="none"/>
<path d="M1420.5 60.6V782M907.8 571.8H1631.3" stroke="#fff" stroke-width="2" opacity="0.10" fill="none"/>
<path d="M1307.3 60.6V782M907.8 458.9H1631.3" stroke="#fff" stroke-width="9" opacity="0.10" fill="none"/>
<path d="M1594.7 60.6V782M907.8 745.5H1631.3" stroke="#fff" stroke-width="4" opacity="0.10" fill="none"/>
<path d="M915.7 60.6V782M907.8 68.5H1631.3" stroke="#fff" stroke-width="2" opacity="0.10" fill="none"/>
<path d="M1048.1 60.6V782M907.8 200.5H1631.3" stroke="#fff" stroke-width="9" opacity="0.10" fill="none"/>
<path d="M1202.3 60.6V782M907.8 354.2H1631.3" stroke="#fff" stroke-width="9" opacity="0.10" fill="none"/>
<path d="M1523.4 60.6V782M907.8 674.4H1631.3" stroke="#fff" stroke-width="9" opacity="0.10" fill="none"/>
<path d="M1288.8 60.6V782M907.8 440.5H1631.3" stroke="#fff" stroke-width="9" opacity="0.10" fill="none"/>
<path d="M1263.7 60.6V782M907.8 415.5H1631.3" stroke="#fff" stroke-width="4" opacity="0.10" fill="none"/>
<path d="M1527.9 60.6V782M907.8 678.9H1631.3" stroke="#fff" stroke-width="4" opacity="0.10" fill="none"/>
<path d="M1232.1 60.6V782M907.8 383.9H1631.3" stroke="#fff" stroke-width="2" opacity="0.10" fill="none"/>
<path d="M1053.4 60.6V782M907.8 205.8H1631.3" stroke="#fff" stroke-width="1" opacity="0.10" fill="none"/>
<path d="M1573.1 60.6V782M907.8 724H1631.3" stroke="#fff" stroke-width="2" opacity="0.10" fill="none"/>
<path d="M1409.5 60.6V782M907.8 560.8H1631.3" stroke="#fff" stroke-width="4" opacity="0.10" fill="none"/>
<path d="M942.7 60.6V782M907.8 95.4H1631.3" stroke="#fff" stroke-width="9" opacity="0.10" fill="none"/>
<path d="M1059.1 60.6V782M907.8 211.5H1631.3" stroke="#fff" stroke-width="1" opacity="0.10" fill="none"/>
<path d="M1162.8 60.6V782M907.8 314.9H1631.3" stroke="#fff" stroke-width="4" opacity="0.10" fill="none"/>
<path d="M1582.2 60.6V782M907.8 733H1631.3" stroke="#fff" stroke-width="4" opacity="0.10" fill="none"/>
<path d="M1273.2 60.6V782M907.8 424.9H1631.3" stroke="#fff" stroke-width="2" opacity="0.10" fill="none"/>
<path d="M1139.2 60.6V782M907.8 291.3H1631.3" stroke="#fff" stroke-width="4" opacity="0.10" fill="none"/>
<path d="M950.8 60.6V782M907.8 103.5H1631.3" stroke="#fff" stroke-width="1" opacity="0.10" fill="none"/>
<path d="M929.3 60.6V782M907.8 82H1631.3" stroke="#fff" stroke-width="4" opacity="0.10" fill="none"/>
<path d="M1287.1 60.6V782M907.8 438.8H1631.3" stroke="#fff" stroke-width="9" opacity="0.10" fill="none"/>
<path d="M1351.2 60.6V782M907.8 502.7H1631.3" stroke="#fff" stroke-width="4" opacity="0.10" fill="none"/>
<path d="M1306.9 60.6V782M907.8 458.5H1631.3" stroke="#fff" stroke-width="2" opacity="0.10" fill="none"/>
<path d="M949.6 60.6V782M907.8 102.3H1631.3" stroke="#F47070" stroke-width="2" opacity="0.03" fill="none"/>
<path d="M1605.8 60.6V782M907.8 756.5H1631.3" stroke="#F47070" stroke-width="1" opacity="0.03" fill="none"/>
<path d="M1309 60.6V782M907.8 460.6H1631.3" stroke="#F47070" stroke-width="9" opacity="0.03" fill="none"/>
<path d="M960.6 60.6V782M907.8 113.2H1631.3" stroke="#F47070" stroke-width="2" opacity="0.03" fill="none"/>
<path d="M1532 60.6V782M907.8 682.9H1631.3" stroke="#F47070" stroke-width="2" opacity="0.03" fill="none"/>
<path d="M1020.7 60.6V782M907.8 173.2H1631.3" stroke="#F47070" stroke-width="9" opacity="0.03" fill="none"/>
<path d="M1141.8 60.6V782M907.8 293.9H1631.3" stroke="#F47070" stroke-width="9" opacity="0.03" fill="none"/>
<path d="M925.3 60.6V782M907.8 78.1H1631.3" stroke="#F47070" stroke-width="4" opacity="0.03" fill="none"/>
<path d="M1440.7 60.6V782M907.8 592H1631.3" stroke="#F47070" stroke-width="4" opacity="0.03" fill="none"/>
<path d="M1420.8 60.6V782M907.8 572.1H1631.3" stroke="#F47070" stroke-width="9" opacity="0.03" fill="none"/>
<path d="M1582.2 60.6V782M907.8 733.1H1631.3" stroke="#F47070" stroke-width="4" opacity="0.03" fill="none"/>
<path d="M1362.7 60.6V782M907.8 514.2H1631.3" stroke="#F47070" stroke-width="4" opacity="0.03" fill="none"/>
<path d="M1147.1 60.6V782M907.8 299.2H1631.3" stroke="#F47070" stroke-width="9" opacity="0.03" fill="none"/>
<path d="M1237.5 60.6V782M907.8 389.3H1631.3" stroke="#F47070" stroke-width="9" opacity="0.03" fill="none"/>
<path d="M1523.9 60.6V782M907.8 674.9H1631.3" stroke="#F47070" stroke-width="1" opacity="0.03" fill="none"/>
<path d="M1197.9 60.6V782M907.8 349.9H1631.3" stroke="#F47070" stroke-width="2" opacity="0.03" fill="none"/>
<path d="M1437.9 60.6V782M907.8 589.2H1631.3" stroke="#F47070" stroke-width="4" opacity="0.03" fill="none"/>
<path d="M1069 60.6V782M907.8 221.4H1631.3" stroke="#F47070" stroke-width="1" opacity="0.03" fill="none"/>
<path d="M1210.5 60.6V782M907.8 362.4H1631.3" stroke="#F47070" stroke-width="2" opacity="0.03" fill="none"/>
<path d="M1416.2 60.6V782M907.8 567.5H1631.3" stroke="#F47070" stroke-width="1" opacity="0.03" fill="none"/>
<path d="M1078.6 60.6V782M907.8 230.9H1631.3" stroke="#F47070" stroke-width="2" opacity="0.03" fill="none"/>
<path d="M1253.4 60.6V782M907.8 405.2H1631.3" stroke="#F47070" stroke-width="1" opacity="0.03" fill="none"/>
<path d="M1339 60.6V782M907.8 490.6H1631.3" stroke="#F47070" stroke-width="4" opacity="0.03" fill="none"/>
<path d="M1617.2 60.6V782M907.8 768H1631.3" stroke="#F47070" stroke-width="4" opacity="0.03" fill="none"/>
<path d="M895.8 48.8L1129.1 282" stroke="#FF0000" stroke-width="9" fill="none" clip-path="url(#gBb0)"/>
<path d="M1106.5 258.9L1263.8 416.2" stroke="#FF0000" stroke-width="9" fill="none" clip-path="url(#gBb1)"/>
<path d="M1240.8 392.7L1464.2 616.1" stroke="#FF0000" stroke-width="9" fill="none" clip-path="url(#gBb2)"/>
<path d="M1442.6 593.8L1643.3 794.5" stroke="#FF0000" stroke-width="9" fill="none" clip-path="url(#gBb3)"/>
<path d="M1561 264.4h15.8M944.5 76.9v11.4M1023.9 532.1h11.5M1043.4 524.1v17M1220.3 251.2v16.7M1049.5 561.2h11.5M1132.5 128.4h26.6M1032.1 65.6h7.3M1196.2 472.5v27.6M1077.2 479.2h26.3M1492.3 333.5h23.2M1337.4 408.5v8.3M1471.2 392.3v14.5M1166.8 660.6h15.2M1158 106.2h12.1M955.1 431.9h15.7M1018.6 687h8.9M1557.9 142.3v15M925.7 111.5v26.5M1089.9 390.4v11.5M1557.2 113.6h17.5M1187.2 566.9h21.7" stroke="#E03050" stroke-width="1.1" opacity="0.3" fill="none"/>
<path d="M937.9 90.9h3v3h-3zM953 106h3.5v3.5h-3.5zM962.6 115.6h3v3h-3zM969.1 122h3v3h-3zM979.6 132.6h3v3h-3zM991.9 144.8h3v3h-3zM997.9 150.8h3v3h-3zM1024.4 177.4h3v3h-3zM1034.6 187.6h3v3h-3zM1049.1 202h3v3h-3zM1061.3 214.2h3v3h-3zM1067.6 220.6h3v3h-3zM1082.6 235.6h3.5v3.5h-3.5zM1102.4 255.3h3v3h-3zM1110.8 263.8h3.5v3.5h-3.5zM1119.6 272h3v3h-3zM1137.3 289.7h3v3h-3zM1147.3 299.7h3v3h-3zM1153.8 306.2h3.5v3.5h-3.5zM1181.7 334.1h3v3h-3zM1194.6 347h3v3h-3zM1199.8 352.2h3v3h-3zM1212.1 364.5h3.5v3.5h-3.5zM1215.9 368.3h3.5v3.5h-3.5zM1225.1 377.5h3.5v3.5h-3.5zM1234.2 386.6h3v3h-3zM1264.5 416.4h3.5v3.5h-3.5zM1280.3 432.2h3v3h-3zM1326.9 478.8h3v3h-3zM1334.4 486.3h3.5v3.5h-3.5zM1342 493.9h3.5v3.5h-3.5zM1351.9 503.8h3v3h-3zM1358 509.9h3.5v3.5h-3.5zM1366.9 518.8h3.5v3.5h-3.5zM1377.1 529h3v3h-3zM1382.8 534.7h3.5v3.5h-3.5zM1394.6 546.5h3.5v3.5h-3.5zM1409.9 561.8h3.5v3.5h-3.5zM1422.8 574.7h3v3h-3zM1429.3 581.2h3.5v3.5h-3.5zM1436.1 588h3v3h-3zM1454.9 606.1h3v3h-3zM1491.1 642.3h3.5v3.5h-3.5zM1519.5 670.7h3.5v3.5h-3.5zM1525.3 676.5h3v3h-3zM1535.7 686.9h3v3h-3zM1544.1 695.3h3.5v3.5h-3.5zM1565.1 716.3h3.5v3.5h-3.5zM1583.8 735h3v3h-3zM1589.7 740.9h3v3h-3zM1595.9 747.1h3.5v3.5h-3.5zM1606.8 758h3v3h-3zM1616.7 767.9h3v3h-3zM1624.4 775.6h3.5v3.5h-3.5z" fill="#18E028"/>
<path d="M908.6 61.6h5v5h-5zM917.4 70.4h6v6h-6zM925.9 78.9h6v6h-6zM946.3 99.3h5v5h-5zM1005.9 158.9h5v5h-5zM1014.5 167.4h6v6h-6zM1039 192h5v5h-5zM1077.7 230.6h6v6h-6zM1094 247h6v6h-6zM1130.3 282.7h5v5h-5zM1161.7 314.1h6v6h-6zM1171.6 324h5v5h-5zM1247.5 399.9h5v5h-5zM1253.3 405.2h6v6h-6zM1271.9 423.8h6v6h-6zM1290.2 442.1h6v6h-6zM1300.5 452.4h6v6h-6zM1307.2 459.1h5v5h-5zM1312.8 464.7h5v5h-5zM1400.1 552h5v5h-5zM1446.6 598.5h5v5h-5zM1463.6 614.8h5v5h-5zM1476.7 627.9h6v6h-6zM1481.8 633h5v5h-5zM1497.5 648.7h6v6h-6zM1507.9 659.1h6v6h-6zM1551.1 702.3h6v6h-6zM1573.7 724.9h6v6h-6z" fill="none" stroke="#22DD2A" stroke-width="1.5"/>
<rect x="907.8" y="60.6" width="723.5" height="721.4" fill="none" stroke="#000" stroke-width="1.9"/>
<path d="M907.8 60.6H1117.1V270.2H907.8ZM1118.5 271.6H1251.8V403.5H1118.5ZM1252.8 404.9H1452.2V603.9H1252.8ZM1454.6 606.3H1631.3V782H1454.6Z" fill="none" stroke="#1010CC" stroke-width="1.9"/>
<path d="M907.8 60.6V50.1M907.8 60.6H897.3M979.5 60.6V50.1M907.8 132.3H897.3M1051.2 60.6V50.1M907.8 204H897.3M1122.9 60.6V50.1M907.8 275.7H897.3M1194.6 60.6V50.1M907.8 347.4H897.3M1266.3 60.6V50.1M907.8 419.1H897.3M1338 60.6V50.1M907.8 490.8H897.3M1409.7 60.6V50.1M907.8 562.5H897.3M1481.4 60.6V50.1M907.8 634.2H897.3M1553.1 60.6V50.1M907.8 705.9H897.3M1624.8 60.6V50.1M907.8 777.6H897.3" fill="none" stroke="#000" stroke-width="1.7"/></g>
<g id="hmD"><rect x="908.4" y="889.6" width="722.9" height="721.3" fill="#FDE6E6"/>
<defs><linearGradient id="gD" gradientUnits="userSpaceOnUse">
<stop offset="0.1562" stop-color="#FDE1E1"/>
<stop offset="0.2562" stop-color="#FDDCDC"/>
<stop offset="0.3488" stop-color="#FDD3D3"/>
<stop offset="0.4037" stop-color="#FCC2C2"/>
<stop offset="0.4363" stop-color="#FBA4A4"/>
<stop offset="0.4525" stop-color="#FB7C7C"/>
<stop offset="0.4625" stop-color="#FC5050"/>
<stop offset="0.4688" stop-color="#FE2020"/>
<stop offset="0.4766" stop-color="#FF0202"/>
<stop offset="0.5" stop-color="#FF0000"/>
<stop offset="0.5234" stop-color="#FF0202"/>
<stop offset="0.5312" stop-color="#FE2020"/>
<stop offset="0.5375" stop-color="#FC5050"/>
<stop offset="0.5475" stop-color="#FB7C7C"/>
<stop offset="0.5637" stop-color="#FBA4A4"/>
<stop offset="0.5962" stop-color="#FCC2C2"/>
<stop offset="0.6512" stop-color="#FDD3D3"/>
<stop offset="0.7438" stop-color="#FDDCDC"/>
<stop offset="0.8438" stop-color="#FDE1E1"/>
</linearGradient>
<radialGradient id="gDr"><stop offset="0" stop-color="#FF0000" stop-opacity="1"/><stop offset="0.45" stop-color="#FF0000" stop-opacity="0.85"/><stop offset="1" stop-color="#FF0000" stop-opacity="0"/></radialGradient>
<linearGradient id="gD0" href="#gD" x1="852.8" y1="1033.5" x2="1052.8" y2="833.5"/>
<clipPath id="gDb0"><rect x="908.4" y="889.6" width="88.8" height="87.8"/></clipPath>
<linearGradient id="gD1" href="#gD" x1="941.6" y1="1121.5" x2="1141.6" y2="921.5"/>
<clipPath id="gDb1"><rect x="998.3" y="978.4" width="86.7" height="86.2"/></clipPath>
<linearGradient id="gD2" href="#gD" x1="1029.7" y1="1209.5" x2="1229.7" y2="1009.5"/>
<clipPath id="gDb2"><rect x="1086.1" y="1065.6" width="87.2" height="87.8"/></clipPath>
<linearGradient id="gD3" href="#gD" x1="1153.4" y1="1332.9" x2="1353.4" y2="1132.9"/>
<clipPath id="gDb3"><rect x="1175.4" y="1155" width="155.9" height="155.9"/></clipPath>
<linearGradient id="gD4" href="#gD" x1="1281" y1="1460.6" x2="1481" y2="1260.6"/>
<clipPath id="gDb4"><rect x="1332.3" y="1311.9" width="97.3" height="97.3"/></clipPath>
<linearGradient id="gD5" href="#gD" x1="1374.4" y1="1553.9" x2="1574.4" y2="1353.9"/>
<clipPath id="gDb5"><rect x="1430.7" y="1410.3" width="87.2" height="87.2"/></clipPath>
<linearGradient id="gD6" href="#gD" x1="1474.9" y1="1654.7" x2="1674.9" y2="1454.7"/>
<clipPath id="gDb6"><rect x="1519" y="1498.6" width="111.7" height="112.2"/></clipPath>
</defs>
<rect x="908.4" y="889.6" width="88.8" height="87.8" fill="url(#gD0)"/>
<rect x="998.3" y="978.4" width="86.7" height="86.2" fill="url(#gD1)"/>
<rect x="1086.1" y="1065.6" width="87.2" height="87.8" fill="url(#gD2)"/>
<rect x="1175.4" y="1155" width="155.9" height="155.9" fill="url(#gD3)"/>
<rect x="1332.3" y="1311.9" width="97.3" height="97.3" fill="url(#gD4)"/>
<rect x="1430.7" y="1410.3" width="87.2" height="87.2" fill="url(#gD5)"/>
<rect x="1519" y="1498.6" width="111.7" height="112.2" fill="url(#gD6)"/>
<path d="M1296.9 889.6V1610.9M908.4 1277.2H1631.3" stroke="#fff" stroke-width="4" opacity="0.10" fill="none"/>
<path d="M1363.9 889.6V1610.9M908.4 1344.1H1631.3" stroke="#fff" stroke-width="2" opacity="0.10" fill="none"/>
<path d="M1397.3 889.6V1610.9M908.4 1377.4H1631.3" stroke="#fff" stroke-width="4" opacity="0.10" fill="none"/>
<path d="M952.3 889.6V1610.9M908.4 933.4H1631.3" stroke="#fff" stroke-width="9" opacity="0.10" fill="none"/>
<path d="M1471.9 889.6V1610.9M908.4 1451.9H1631.3" stroke="#fff" stroke-width="1" opacity="0.10" fill="none"/>
<path d="M1517.7 889.6V1610.9M908.4 1497.6H1631.3" stroke="#fff" stroke-width="1" opacity="0.10" fill="none"/>
<path d="M1360.2 889.6V1610.9M908.4 1340.4H1631.3" stroke="#fff" stroke-width="9" opacity="0.10" fill="none"/>
<path d="M1014.6 889.6V1610.9M908.4 995.5H1631.3" stroke="#fff" stroke-width="1" opacity="0.10" fill="none"/>
<path d="M1331.4 889.6V1610.9M908.4 1311.6H1631.3" stroke="#fff" stroke-width="2" opacity="0.10" fill="none"/>
<path d="M1544 889.6V1610.9M908.4 1523.8H1631.3" stroke="#fff" stroke-width="2" opacity="0.10" fill="none"/>
<path d="M1297.7 889.6V1610.9M908.4 1278H1631.3" stroke="#fff" stroke-width="4" opacity="0.10" fill="none"/>
<path d="M1549.5 889.6V1610.9M908.4 1529.3H1631.3" stroke="#fff" stroke-width="9" opacity="0.10" fill="none"/>
<path d="M1136.7 889.6V1610.9M908.4 1117.4H1631.3" stroke="#fff" stroke-width="2" opacity="0.10" fill="none"/>
<path d="M1549.5 889.6V1610.9M908.4 1529.3H1631.3" stroke="#fff" stroke-width="2" opacity="0.10" fill="none"/>
<path d="M1464.8 889.6V1610.9M908.4 1444.7H1631.3" stroke="#fff" stroke-width="1" opacity="0.10" fill="none"/>
<path d="M1605.4 889.6V1610.9M908.4 1585H1631.3" stroke="#fff" stroke-width="4" opacity="0.10" fill="none"/>
<path d="M1094.1 889.6V1610.9M908.4 1074.9H1631.3" stroke="#fff" stroke-width="9" opacity="0.10" fill="none"/>
<path d="M1109.9 889.6V1610.9M908.4 1090.7H1631.3" stroke="#fff" stroke-width="9" opacity="0.10" fill="none"/>
<path d="M1335.2 889.6V1610.9M908.4 1315.4H1631.3" stroke="#fff" stroke-width="1" opacity="0.10" fill="none"/>
<path d="M1362.6 889.6V1610.9M908.4 1342.8H1631.3" stroke="#fff" stroke-width="4" opacity="0.10" fill="none"/>
<path d="M1488.2 889.6V1610.9M908.4 1468.1H1631.3" stroke="#fff" stroke-width="2" opacity="0.10" fill="none"/>
<path d="M1252.8 889.6V1610.9M908.4 1233.2H1631.3" stroke="#fff" stroke-width="9" opacity="0.10" fill="none"/>
<path d="M1494 889.6V1610.9M908.4 1473.9H1631.3" stroke="#fff" stroke-width="1" opacity="0.10" fill="none"/>
<path d="M1591.3 889.6V1610.9M908.4 1571H1631.3" stroke="#fff" stroke-width="4" opacity="0.10" fill="none"/>
<path d="M1128.6 889.6V1610.9M908.4 1109.3H1631.3" stroke="#fff" stroke-width="2" opacity="0.10" fill="none"/>
<path d="M1242.2 889.6V1610.9M908.4 1222.6H1631.3" stroke="#fff" stroke-width="2" opacity="0.10" fill="none"/>
<path d="M1331.7 889.6V1610.9M908.4 1311.9H1631.3" stroke="#fff" stroke-width="1" opacity="0.10" fill="none"/>
<path d="M1597.6 889.6V1610.9M908.4 1577.2H1631.3" stroke="#fff" stroke-width="9" opacity="0.10" fill="none"/>
<path d="M1416.9 889.6V1610.9M908.4 1396.9H1631.3" stroke="#fff" stroke-width="2" opacity="0.10" fill="none"/>
<path d="M1471.1 889.6V1610.9M908.4 1451H1631.3" stroke="#fff" stroke-width="2" opacity="0.10" fill="none"/>
<path d="M1493.2 889.6V1610.9M908.4 1473.1H1631.3" stroke="#fff" stroke-width="9" opacity="0.10" fill="none"/>
<path d="M924.1 889.6V1610.9M908.4 905.3H1631.3" stroke="#fff" stroke-width="1" opacity="0.10" fill="none"/>
<path d="M944.3 889.6V1610.9M908.4 925.4H1631.3" stroke="#fff" stroke-width="2" opacity="0.10" fill="none"/>
<path d="M1566.4 889.6V1610.9M908.4 1546.1H1631.3" stroke="#fff" stroke-width="9" opacity="0.10" fill="none"/>
<path d="M1488.8 889.6V1610.9M908.4 1468.7H1631.3" stroke="#fff" stroke-width="2" opacity="0.10" fill="none"/>
<path d="M1551 889.6V1610.9M908.4 1530.8H1631.3" stroke="#fff" stroke-width="4" opacity="0.10" fill="none"/>
<path d="M1180.9 889.6V1610.9M908.4 1161.5H1631.3" stroke="#F47070" stroke-width="2" opacity="0.03" fill="none"/>
<path d="M1609 889.6V1610.9M908.4 1588.7H1631.3" stroke="#F47070" stroke-width="9" opacity="0.03" fill="none"/>
<path d="M1267.9 889.6V1610.9M908.4 1248.3H1631.3" stroke="#F47070" stroke-width="1" opacity="0.03" fill="none"/>
<path d="M1298.1 889.6V1610.9M908.4 1278.4H1631.3" stroke="#F47070" stroke-width="1" opacity="0.03" fill="none"/>
<path d="M1529.6 889.6V1610.9M908.4 1509.4H1631.3" stroke="#F47070" stroke-width="9" opacity="0.03" fill="none"/>
<path d="M919.4 889.6V1610.9M908.4 900.6H1631.3" stroke="#F47070" stroke-width="9" opacity="0.03" fill="none"/>
<path d="M1212 889.6V1610.9M908.4 1192.5H1631.3" stroke="#F47070" stroke-width="1" opacity="0.03" fill="none"/>
<path d="M1362.8 889.6V1610.9M908.4 1343H1631.3" stroke="#F47070" stroke-width="4" opacity="0.03" fill="none"/>
<path d="M1615.2 889.6V1610.9M908.4 1594.9H1631.3" stroke="#F47070" stroke-width="1" opacity="0.03" fill="none"/>
<path d="M1459.3 889.6V1610.9M908.4 1439.3H1631.3" stroke="#F47070" stroke-width="9" opacity="0.03" fill="none"/>
<path d="M1288.5 889.6V1610.9M908.4 1268.9H1631.3" stroke="#F47070" stroke-width="1" opacity="0.03" fill="none"/>
<path d="M1137.8 889.6V1610.9M908.4 1118.5H1631.3" stroke="#F47070" stroke-width="1" opacity="0.03" fill="none"/>
<path d="M1501.9 889.6V1610.9M908.4 1481.8H1631.3" stroke="#F47070" stroke-width="1" opacity="0.03" fill="none"/>
<path d="M957.6 889.6V1610.9M908.4 938.7H1631.3" stroke="#F47070" stroke-width="9" opacity="0.03" fill="none"/>
<path d="M1025.4 889.6V1610.9M908.4 1006.3H1631.3" stroke="#F47070" stroke-width="9" opacity="0.03" fill="none"/>
<path d="M1101.9 889.6V1610.9M908.4 1082.7H1631.3" stroke="#F47070" stroke-width="9" opacity="0.03" fill="none"/>
<path d="M1063.1 889.6V1610.9M908.4 1044H1631.3" stroke="#F47070" stroke-width="2" opacity="0.03" fill="none"/>
<path d="M1462.4 889.6V1610.9M908.4 1442.4H1631.3" stroke="#F47070" stroke-width="9" opacity="0.03" fill="none"/>
<path d="M1324 889.6V1610.9M908.4 1304.3H1631.3" stroke="#F47070" stroke-width="1" opacity="0.03" fill="none"/>
<path d="M1305.1 889.6V1610.9M908.4 1285.4H1631.3" stroke="#F47070" stroke-width="1" opacity="0.03" fill="none"/>
<path d="M1533.5 889.6V1610.9M908.4 1513.3H1631.3" stroke="#F47070" stroke-width="2" opacity="0.03" fill="none"/>
<path d="M1070.8 889.6V1610.9M908.4 1051.6H1631.3" stroke="#F47070" stroke-width="9" opacity="0.03" fill="none"/>
<path d="M971.3 889.6V1610.9M908.4 952.3H1631.3" stroke="#F47070" stroke-width="2" opacity="0.03" fill="none"/>
<path d="M1166.3 889.6V1610.9M908.4 1146.9H1631.3" stroke="#F47070" stroke-width="4" opacity="0.03" fill="none"/>
<path d="M1058.7 889.6V1610.9M908.4 1039.5H1631.3" stroke="#F47070" stroke-width="9" opacity="0.03" fill="none"/>
<path d="M1162.3 889.6V1610.9M908.4 1143H1631.3" stroke="#F47070" stroke-width="2" opacity="0.03" fill="none"/>
<path d="M1555.9 889.6V1610.9M908.4 1535.7H1631.3" stroke="#F47070" stroke-width="1" opacity="0.03" fill="none"/>
<path d="M1457 889.6V1610.9M908.4 1437H1631.3" stroke="#F47070" stroke-width="2" opacity="0.03" fill="none"/>
<path d="M1092.6 889.6V1610.9M908.4 1073.4H1631.3" stroke="#F47070" stroke-width="1" opacity="0.03" fill="none"/>
<path d="M1388 889.6V1610.9M908.4 1368.2H1631.3" stroke="#F47070" stroke-width="2" opacity="0.03" fill="none"/>
<path d="M1159.9 889.6V1610.9M908.4 1140.5H1631.3" stroke="#F47070" stroke-width="2" opacity="0.03" fill="none"/>
<path d="M1296.4 889.6V1610.9M908.4 1276.8H1631.3" stroke="#F47070" stroke-width="9" opacity="0.03" fill="none"/>
<path d="M1285.8 889.6V1610.9M908.4 1266.2H1631.3" stroke="#F47070" stroke-width="4" opacity="0.03" fill="none"/>
<path d="M1288.8 889.6V1610.9M908.4 1269.1H1631.3" stroke="#F47070" stroke-width="9" opacity="0.03" fill="none"/>
<path d="M896.4 877L1009.2 989.9" stroke="#FF0000" stroke-width="15" fill="none" clip-path="url(#gDb0)"/>
<path d="M986.3 966.1L1097 1076.8" stroke="#FF0000" stroke-width="15" fill="none" clip-path="url(#gDb1)"/>
<path d="M1074.1 1053.9L1185.3 1165.1" stroke="#FF0000" stroke-width="15" fill="none" clip-path="url(#gDb2)"/>
<path d="M1163.4 1143L1343.3 1322.9" stroke="#FF0000" stroke-width="15" fill="none" clip-path="url(#gDb3)"/>
<path d="M1320.3 1299.9L1441.7 1421.3" stroke="#FF0000" stroke-width="15" fill="none" clip-path="url(#gDb4)"/>
<path d="M1418.7 1398.3L1530 1509.6" stroke="#FF0000" stroke-width="15" fill="none" clip-path="url(#gDb5)"/>
<path d="M1507 1486.9L1642.7 1622.6" stroke="#FF0000" stroke-width="15" fill="none" clip-path="url(#gDb6)"/>
<path d="M1205.6 1404.4v11.1M1031.6 1071.7h11.4M1367.2 1464.6h9.5M1182.8 1098.1h20M1308.4 1235.2h8.6M1167.5 940.2v13.2M1506.8 1538.9h22.2M1014.3 1356.6v18.6M1087 1338.9h8.1M1205.7 1439.3v13.6M1581.8 1534.6h16.5M1330.6 1431.3v19.1M1058 1087.9h9.4M1225.6 1417.5v14.2M1151.6 1152.1v24.8M1275.6 1054.3h7.9M1025.5 1177.9v13.3M1089.5 1356.3v26.8M1304.2 1069.5v23.4M977.2 1467h26.2M1037.8 1385.8h16.6M1329.2 1455.4h22" stroke="#E03050" stroke-width="1.1" opacity="0.3" fill="none"/>
<path d="M920.1 900.7h3.5v3.5h-3.5zM929.8 910.5h3.5v3.5h-3.5zM972.9 953.6h3v3h-3zM1002.8 982.7h3.5v3.5h-3.5zM1007.1 986.9h3v3h-3zM1043.6 1023.4h3.5v3.5h-3.5zM1060.4 1040.3h3v3h-3zM1097.2 1077h3.5v3.5h-3.5zM1138.6 1118.5h3.5v3.5h-3.5zM1184.4 1164h3v3h-3zM1206.4 1185.9h3v3h-3zM1218.8 1198.4h3.5v3.5h-3.5zM1258.1 1237.6h3.5v3.5h-3.5zM1307.8 1287.3h3.5v3.5h-3.5zM1327 1306.6h3v3h-3zM1342.2 1321.7h3.5v3.5h-3.5zM1372.8 1352.4h3.5v3.5h-3.5zM1379.5 1359.1h3v3h-3zM1421.3 1400.9h3.5v3.5h-3.5zM1443.5 1423h3v3h-3zM1450.4 1430h3v3h-3zM1486.5 1466.1h3.5v3.5h-3.5zM1505.2 1484.8h3v3h-3zM1555.9 1535.7h3.5v3.5h-3.5zM1571.4 1551.3h3v3h-3zM1579.8 1559.7h3v3h-3zM1592.8 1572.6h3v3h-3zM1601.5 1581.3h3v3h-3zM1610.4 1590.2h3v3h-3zM1615 1594.9h3.5v3.5h-3.5z" fill="#18E028"/>
<path d="M907.5 888.1h5v5h-5zM939.1 919.7h6v6h-6zM946.7 927.3h6v6h-6zM955.9 936.5h5v5h-5zM966 946.6h5v5h-5zM979.4 960h5v5h-5zM987.4 968h6v6h-6zM1019.2 999h5v5h-5zM1024.2 1004.1h5v5h-5zM1031.6 1011.4h6v6h-6zM1053.4 1033.2h5v5h-5zM1068.6 1048.4h6v6h-6zM1079.7 1059.6h6v6h-6zM1089 1068.8h5v5h-5zM1104.7 1084.5h6v6h-6zM1113.4 1093.3h5v5h-5zM1123.4 1103.3h6v6h-6zM1128.5 1108.4h5v5h-5zM1146 1125.8h6v6h-6zM1154.8 1134.7h6v6h-6zM1166.8 1146.6h5v5h-5zM1174.4 1154h5v5h-5zM1195.6 1175.1h5v5h-5zM1213.4 1192.9h6v6h-6zM1229.3 1208.9h6v6h-6zM1235.7 1215.3h5v5h-5zM1245.3 1224.9h5v5h-5zM1264.1 1243.7h6v6h-6zM1274 1253.6h6v6h-6zM1281.3 1260.9h6v6h-6zM1291.8 1271.3h6v6h-6zM1297.1 1276.7h5v5h-5zM1318.4 1298h5v5h-5zM1332.1 1311.7h6v6h-6zM1351.4 1331h6v6h-6zM1360.6 1340.2h6v6h-6zM1387.2 1366.8h6v6h-6zM1394 1373.6h6v6h-6zM1408 1387.6h5v5h-5zM1413.8 1393.3h5v5h-5zM1432.7 1412.3h6v6h-6zM1460.2 1439.7h6v6h-6zM1468.9 1448.4h6v6h-6zM1478.1 1457.7h5v5h-5zM1495.5 1475.1h5v5h-5zM1509.5 1489.1h5v5h-5zM1522.4 1502.2h6v6h-6zM1530.1 1510h5v5h-5zM1535.6 1515.5h5v5h-5zM1548.3 1528.2h6v6h-6zM1561.3 1541.2h5v5h-5zM1624.5 1604.3h5v5h-5z" fill="none" stroke="#22DD2A" stroke-width="1.5"/>
<path d="M1232.8 1212.7h16v16h-16zM1277.1 1256.1h20v20h-20zM1301.7 1281.5h17v17h-17zM1195 1175.6h12v12h-12zM1183.5 1163h10v10h-10z" fill="none" stroke="#18E028" stroke-width="2.2"/>
<rect x="908.4" y="889.6" width="722.9" height="721.3" fill="none" stroke="#000" stroke-width="1.9"/>
<path d="M908.4 889.6H997.2V977.3H908.4ZM998.3 978.4H1085V1064.6H998.3ZM1086.1 1065.6H1173.3V1153.4H1086.1ZM1175.4 1155H1331.3V1310.9H1175.4ZM1332.3 1311.9H1429.7V1409.3H1332.3ZM1430.7 1410.3H1518V1497.6H1430.7ZM1519 1498.6H1630.7V1610.9H1519Z" fill="none" stroke="#1010CC" stroke-width="1.9"/>
<path d="M908.4 889.6V879.1M908.4 889.6H897.9M978.7 889.6V879.1M908.4 959.9H897.9M1049 889.6V879.1M908.4 1030.2H897.9M1119.3 889.6V879.1M908.4 1100.5H897.9M1189.6 889.6V879.1M908.4 1170.8H897.9M1259.9 889.6V879.1M908.4 1241.1H897.9M1330.2 889.6V879.1M908.4 1311.4H897.9M1400.5 889.6V879.1M908.4 1381.7H897.9M1470.8 889.6V879.1M908.4 1452H897.9M1541.1 889.6V879.1M908.4 1522.3H897.9M1611.4 889.6V879.1M908.4 1592.6H897.9" fill="none" stroke="#000" stroke-width="1.7"/></g>
<g id="hmF"><rect x="908.4" y="1739.9" width="724.5" height="721.7" fill="#FEEBEC"/>
<defs><linearGradient id="gF" gradientUnits="userSpaceOnUse">
<stop offset="0.275" stop-color="#FDC0C0"/>
<stop offset="0.3375" stop-color="#FCB4B4"/>
<stop offset="0.38" stop-color="#FCA4A4"/>
<stop offset="0.41" stop-color="#FB8E8E"/>
<stop offset="0.43" stop-color="#FB7070"/>
<stop offset="0.445" stop-color="#FC4848"/>
<stop offset="0.455" stop-color="#FE2020"/>
<stop offset="0.465" stop-color="#FF0202"/>
<stop offset="0.5" stop-color="#FF0000"/>
<stop offset="0.535" stop-color="#FF0202"/>
<stop offset="0.545" stop-color="#FE2020"/>
<stop offset="0.555" stop-color="#FC4848"/>
<stop offset="0.57" stop-color="#FB7070"/>
<stop offset="0.59" stop-color="#FB8E8E"/>
<stop offset="0.62" stop-color="#FCA4A4"/>
<stop offset="0.6625" stop-color="#FCB4B4"/>
<stop offset="0.725" stop-color="#FDC0C0"/>
</linearGradient>
<radialGradient id="gFr"><stop offset="0" stop-color="#FF0000" stop-opacity="1"/><stop offset="0.45" stop-color="#FF0000" stop-opacity="0.85"/><stop offset="1" stop-color="#FF0000" stop-opacity="0"/></radialGradient>
<linearGradient id="gF0" href="#gF" x1="829.7" y1="1860.9" x2="1029.7" y2="1660.9"/>
<clipPath id="gFb0"><rect x="908.4" y="1739.9" width="42.6" height="42"/></clipPath>
<linearGradient id="gF1" href="#gF" x1="874.6" y1="1905.6" x2="1074.6" y2="1705.6"/>
<clipPath id="gFb1"><rect x="952" y="1783.5" width="45.2" height="44.1"/></clipPath>
<linearGradient id="gF2" href="#gF" x1="920.6" y1="1950.8" x2="1120.6" y2="1750.8"/>
<clipPath id="gFb2"><rect x="998.3" y="1828.7" width="44.7" height="44.1"/></clipPath>
<linearGradient id="gF3" href="#gF" x1="970.6" y1="2000.5" x2="1170.6" y2="1800.5"/>
<clipPath id="gFb3"><rect x="1044" y="1873.9" width="53.2" height="53.2"/></clipPath>
<linearGradient id="gF4" href="#gF" x1="1033.1" y1="2062.7" x2="1233.1" y2="1862.7"/>
<clipPath id="gFb4"><rect x="1098.3" y="1928.2" width="69.7" height="69.1"/></clipPath>
<linearGradient id="gF5" href="#gF" x1="1096.4" y1="2125.5" x2="1296.4" y2="1925.5"/>
<clipPath id="gFb5"><rect x="1169" y="1998.4" width="54.8" height="54.3"/></clipPath>
<linearGradient id="gF6" href="#gF" x1="1150.4" y1="2179.5" x2="1350.4" y2="1979.5"/>
<clipPath id="gFb6"><rect x="1224.9" y="2054.2" width="51.1" height="50.5"/></clipPath>
<linearGradient id="gF7" href="#gF" x1="1206" y1="2234.8" x2="1406" y2="2034.8"/>
<clipPath id="gFb7"><rect x="1277" y="2106.4" width="58" height="56.9"/></clipPath>
<linearGradient id="gF8" href="#gF" x1="1258.7" y1="2287.2" x2="1458.7" y2="2087.2"/>
<clipPath id="gFb8"><rect x="1336.1" y="2164.9" width="45.2" height="44.7"/></clipPath>
<linearGradient id="gF9" href="#gF" x1="1303.4" y1="2332.2" x2="1503.4" y2="2132.2"/>
<clipPath id="gFb9"><rect x="1382.3" y="2211.1" width="42" height="42"/></clipPath>
<linearGradient id="gF10" href="#gF" x1="1349.4" y1="2378.2" x2="1549.4" y2="2178.2"/>
<clipPath id="gFb10"><rect x="1425.4" y="2254.2" width="47.9" height="47.9"/></clipPath>
<linearGradient id="gF11" href="#gF" x1="1396.2" y1="2425.2" x2="1596.2" y2="2225.2"/>
<clipPath id="gFb11"><rect x="1474.4" y="2303.2" width="43.6" height="44.1"/></clipPath>
<linearGradient id="gF12" href="#gF" x1="1434.2" y1="2463.3" x2="1634.2" y2="2263.3"/>
<clipPath id="gFb12"><rect x="1519" y="2348.4" width="30.3" height="29.8"/></clipPath>
<linearGradient id="gF13" href="#gF" x1="1471.7" y1="2500.8" x2="1671.7" y2="2300.8"/>
<clipPath id="gFb13"><rect x="1550.4" y="2379.2" width="42.6" height="43.1"/></clipPath>
<linearGradient id="gF14" href="#gF" x1="1513.5" y1="2542" x2="1713.5" y2="2342"/>
<clipPath id="gFb14"><rect x="1594" y="2423.4" width="38.8" height="37.2"/></clipPath>
</defs>
<rect x="908.4" y="1739.9" width="42.6" height="42" fill="url(#gF0)"/>
<g clip-path="url(#gFb0)"><circle cx="911.4" cy="1742.9" r="10" fill="url(#gFr)"/><circle cx="949" cy="1779.9" r="7" fill="url(#gFr)"/></g>
<rect x="952" y="1783.5" width="45.2" height="44.1" fill="url(#gF1)"/>
<g clip-path="url(#gFb1)"><circle cx="955" cy="1786.5" r="10" fill="url(#gFr)"/><circle cx="995.2" cy="1825.6" r="7" fill="url(#gFr)"/></g>
<rect x="998.3" y="1828.7" width="44.7" height="44.1" fill="url(#gF2)"/>
<g clip-path="url(#gFb2)"><circle cx="1001.3" cy="1831.7" r="10" fill="url(#gFr)"/><circle cx="1041" cy="1870.9" r="7" fill="url(#gFr)"/></g>
<rect x="1044" y="1873.9" width="53.2" height="53.2" fill="url(#gF3)"/>
<g clip-path="url(#gFb3)"><circle cx="1047" cy="1876.9" r="10" fill="url(#gFr)"/><circle cx="1095.2" cy="1925.1" r="7" fill="url(#gFr)"/></g>
<rect x="1098.3" y="1928.2" width="69.7" height="69.1" fill="url(#gF4)"/>
<g clip-path="url(#gFb4)"><circle cx="1101.3" cy="1931.2" r="10" fill="url(#gFr)"/><circle cx="1166" cy="1995.3" r="7" fill="url(#gFr)"/></g>
<rect x="1169" y="1998.4" width="54.8" height="54.3" fill="url(#gF5)"/>
<g clip-path="url(#gFb5)"><circle cx="1172" cy="2001.4" r="10" fill="url(#gFr)"/><circle cx="1221.8" cy="2050.6" r="7" fill="url(#gFr)"/></g>
<rect x="1224.9" y="2054.2" width="51.1" height="50.5" fill="url(#gF6)"/>
<g clip-path="url(#gFb6)"><circle cx="1227.9" cy="2057.2" r="10" fill="url(#gFr)"/><circle cx="1274" cy="2102.8" r="7" fill="url(#gFr)"/></g>
<rect x="1277" y="2106.4" width="58" height="56.9" fill="url(#gF7)"/>
<g clip-path="url(#gFb7)"><circle cx="1280" cy="2109.4" r="10" fill="url(#gFr)"/><circle cx="1333" cy="2161.3" r="7" fill="url(#gFr)"/></g>
<rect x="1336.1" y="2164.9" width="45.2" height="44.7" fill="url(#gF8)"/>
<g clip-path="url(#gFb8)"><circle cx="1339.1" cy="2167.9" r="10" fill="url(#gFr)"/><circle cx="1379.3" cy="2207.6" r="7" fill="url(#gFr)"/></g>
<rect x="1382.3" y="2211.1" width="42" height="42" fill="url(#gF9)"/>
<g clip-path="url(#gFb9)"><circle cx="1385.3" cy="2214.1" r="10" fill="url(#gFr)"/><circle cx="1422.4" cy="2251.2" r="7" fill="url(#gFr)"/></g>
<rect x="1425.4" y="2254.2" width="47.9" height="47.9" fill="url(#gF10)"/>
<g clip-path="url(#gFb10)"><circle cx="1428.4" cy="2257.2" r="10" fill="url(#gFr)"/><circle cx="1471.3" cy="2300.1" r="7" fill="url(#gFr)"/></g>
<rect x="1474.4" y="2303.2" width="43.6" height="44.1" fill="url(#gF11)"/>
<g clip-path="url(#gFb11)"><circle cx="1477.4" cy="2306.2" r="10" fill="url(#gFr)"/><circle cx="1516" cy="2345.3" r="7" fill="url(#gFr)"/></g>
<rect x="1519" y="2348.4" width="30.3" height="29.8" fill="url(#gF12)"/>
<g clip-path="url(#gFb12)"><circle cx="1522" cy="2351.4" r="10" fill="url(#gFr)"/><circle cx="1547.4" cy="2376.2" r="7" fill="url(#gFr)"/></g>
<rect x="1550.4" y="2379.2" width="42.6" height="43.1" fill="url(#gF13)"/>
<g clip-path="url(#gFb13)"><circle cx="1553.4" cy="2382.2" r="10" fill="url(#gFr)"/><circle cx="1591" cy="2420.3" r="7" fill="url(#gFr)"/></g>
<rect x="1594" y="2423.4" width="38.8" height="37.2" fill="url(#gF14)"/>
<g clip-path="url(#gFb14)"><circle cx="1597" cy="2426.4" r="10" fill="url(#gFr)"/><circle cx="1630.9" cy="2458.6" r="7" fill="url(#gFr)"/></g>
<path d="M1075.5 1739.9V2461.6M908.4 1906.4H1632.9" stroke="#fff" stroke-width="9" opacity="0.10" fill="none"/>
<path d="M1481.6 1739.9V2461.6M908.4 2310.9H1632.9" stroke="#fff" stroke-width="1" opacity="0.10" fill="none"/>
<path d="M1130.8 1739.9V2461.6M908.4 1961.4H1632.9" stroke="#fff" stroke-width="2" opacity="0.10" fill="none"/>
<path d="M1231.7 1739.9V2461.6M908.4 2061.9H1632.9" stroke="#fff" stroke-width="2" opacity="0.10" fill="none"/>
<path d="M946.8 1739.9V2461.6M908.4 1778.2H1632.9" stroke="#fff" stroke-width="1" opacity="0.10" fill="none"/>
<path d="M1362.4 1739.9V2461.6M908.4 2192.1H1632.9" stroke="#fff" stroke-width="2" opacity="0.10" fill="none"/>
<path d="M1268.4 1739.9V2461.6M908.4 2098.5H1632.9" stroke="#fff" stroke-width="2" opacity="0.10" fill="none"/>
<path d="M1058.1 1739.9V2461.6M908.4 1889H1632.9" stroke="#fff" stroke-width="4" opacity="0.10" fill="none"/>
<path d="M1505 1739.9V2461.6M908.4 2334.2H1632.9" stroke="#fff" stroke-width="2" opacity="0.10" fill="none"/>
<path d="M1105.6 1739.9V2461.6M908.4 1936.4H1632.9" stroke="#fff" stroke-width="9" opacity="0.10" fill="none"/>
<path d="M1442.3 1739.9V2461.6M908.4 2271.7H1632.9" stroke="#fff" stroke-width="2" opacity="0.10" fill="none"/>
<path d="M1172.1 1739.9V2461.6M908.4 2002.6H1632.9" stroke="#fff" stroke-width="4" opacity="0.10" fill="none"/>
<path d="M1190.9 1739.9V2461.6M908.4 2021.3H1632.9" stroke="#fff" stroke-width="4" opacity="0.10" fill="none"/>
<path d="M1022.3 1739.9V2461.6M908.4 1853.3H1632.9" stroke="#fff" stroke-width="2" opacity="0.10" fill="none"/>
<path d="M1022.7 1739.9V2461.6M908.4 1853.8H1632.9" stroke="#fff" stroke-width="4" opacity="0.10" fill="none"/>
<path d="M1085.7 1739.9V2461.6M908.4 1916.6H1632.9" stroke="#fff" stroke-width="1" opacity="0.10" fill="none"/>
<path d="M1602.8 1739.9V2461.6M908.4 2431.6H1632.9" stroke="#fff" stroke-width="2" opacity="0.10" fill="none"/>
<path d="M1385.8 1739.9V2461.6M908.4 2215.5H1632.9" stroke="#fff" stroke-width="2" opacity="0.10" fill="none"/>
<path d="M1320.2 1739.9V2461.6M908.4 2150.1H1632.9" stroke="#fff" stroke-width="9" opacity="0.10" fill="none"/>
<path d="M1371.2 1739.9V2461.6M908.4 2200.9H1632.9" stroke="#fff" stroke-width="4" opacity="0.10" fill="none"/>
<path d="M1207.4 1739.9V2461.6M908.4 2037.8H1632.9" stroke="#fff" stroke-width="4" opacity="0.10" fill="none"/>
<path d="M942.7 1739.9V2461.6M908.4 1774H1632.9" stroke="#fff" stroke-width="9" opacity="0.10" fill="none"/>
<path d="M1304.5 1739.9V2461.6M908.4 2134.4H1632.9" stroke="#fff" stroke-width="9" opacity="0.10" fill="none"/>
<path d="M1449.1 1739.9V2461.6M908.4 2278.5H1632.9" stroke="#fff" stroke-width="1" opacity="0.10" fill="none"/>
<path d="M937.2 1739.9V2461.6M908.4 1768.6H1632.9" stroke="#fff" stroke-width="1" opacity="0.10" fill="none"/>
<path d="M1602.3 1739.9V2461.6M908.4 2431.1H1632.9" stroke="#fff" stroke-width="1" opacity="0.10" fill="none"/>
<path d="M1168 1739.9V2461.6M908.4 1998.5H1632.9" stroke="#fff" stroke-width="4" opacity="0.10" fill="none"/>
<path d="M1459 1739.9V2461.6M908.4 2288.4H1632.9" stroke="#fff" stroke-width="9" opacity="0.10" fill="none"/>
<path d="M1359.5 1739.9V2461.6M908.4 2189.2H1632.9" stroke="#F47070" stroke-width="4" opacity="0.03" fill="none"/>
<path d="M1535.9 1739.9V2461.6M908.4 2365H1632.9" stroke="#F47070" stroke-width="9" opacity="0.03" fill="none"/>
<path d="M1308.6 1739.9V2461.6M908.4 2138.6H1632.9" stroke="#F47070" stroke-width="4" opacity="0.03" fill="none"/>
<path d="M1357.4 1739.9V2461.6M908.4 2187.2H1632.9" stroke="#F47070" stroke-width="9" opacity="0.03" fill="none"/>
<path d="M1068.5 1739.9V2461.6M908.4 1899.4H1632.9" stroke="#F47070" stroke-width="9" opacity="0.03" fill="none"/>
<path d="M1281.2 1739.9V2461.6M908.4 2111.3H1632.9" stroke="#F47070" stroke-width="9" opacity="0.03" fill="none"/>
<path d="M1052.3 1739.9V2461.6M908.4 1883.2H1632.9" stroke="#F47070" stroke-width="1" opacity="0.03" fill="none"/>
<path d="M1517.1 1739.9V2461.6M908.4 2346.3H1632.9" stroke="#F47070" stroke-width="9" opacity="0.03" fill="none"/>
<path d="M1276.2 1739.9V2461.6M908.4 2106.2H1632.9" stroke="#F47070" stroke-width="1" opacity="0.03" fill="none"/>
<path d="M1610.6 1739.9V2461.6M908.4 2439.4H1632.9" stroke="#F47070" stroke-width="9" opacity="0.03" fill="none"/>
<path d="M1345.2 1739.9V2461.6M908.4 2175.1H1632.9" stroke="#F47070" stroke-width="2" opacity="0.03" fill="none"/>
<path d="M1392.6 1739.9V2461.6M908.4 2222.2H1632.9" stroke="#F47070" stroke-width="1" opacity="0.03" fill="none"/>
<path d="M1515.7 1739.9V2461.6M908.4 2344.8H1632.9" stroke="#F47070" stroke-width="2" opacity="0.03" fill="none"/>
<path d="M1052.3 1739.9V2461.6M908.4 1883.2H1632.9" stroke="#F47070" stroke-width="9" opacity="0.03" fill="none"/>
<path d="M1043.8 1739.9V2461.6M908.4 1874.8H1632.9" stroke="#F47070" stroke-width="9" opacity="0.03" fill="none"/>
<path d="M1287.5 1739.9V2461.6M908.4 2117.5H1632.9" stroke="#F47070" stroke-width="4" opacity="0.03" fill="none"/>
<path d="M1160 1739.9V2461.6M908.4 1990.6H1632.9" stroke="#F47070" stroke-width="1" opacity="0.03" fill="none"/>
<path d="M896.4 1727.6L963 1794.2" stroke="#FF0000" stroke-width="21" fill="none" clip-path="url(#gFb0)"/>
<path d="M940 1771L1009.2 1840.2" stroke="#FF0000" stroke-width="21" fill="none" clip-path="url(#gFb1)"/>
<path d="M986.3 1816.4L1055 1885.1" stroke="#FF0000" stroke-width="21" fill="none" clip-path="url(#gFb2)"/>
<path d="M1032 1861.9L1109.2 1939.1" stroke="#FF0000" stroke-width="21" fill="none" clip-path="url(#gFb3)"/>
<path d="M1086.3 1915.9L1180 2009.6" stroke="#FF0000" stroke-width="21" fill="none" clip-path="url(#gFb4)"/>
<path d="M1157 1986.1L1235.8 2064.9" stroke="#FF0000" stroke-width="21" fill="none" clip-path="url(#gFb5)"/>
<path d="M1212.9 2042L1288 2117" stroke="#FF0000" stroke-width="21" fill="none" clip-path="url(#gFb6)"/>
<path d="M1265 2093.8L1347 2175.8" stroke="#FF0000" stroke-width="21" fill="none" clip-path="url(#gFb7)"/>
<path d="M1324.1 2152.6L1393.3 2221.8" stroke="#FF0000" stroke-width="21" fill="none" clip-path="url(#gFb8)"/>
<path d="M1370.3 2199.1L1436.4 2265.2" stroke="#FF0000" stroke-width="21" fill="none" clip-path="url(#gFb9)"/>
<path d="M1413.4 2242.2L1485.3 2314.1" stroke="#FF0000" stroke-width="21" fill="none" clip-path="url(#gFb10)"/>
<path d="M1462.4 2291.4L1530 2359.1" stroke="#FF0000" stroke-width="21" fill="none" clip-path="url(#gFb11)"/>
<path d="M1507 2336.1L1561.4 2390.4" stroke="#FF0000" stroke-width="21" fill="none" clip-path="url(#gFb12)"/>
<path d="M1538.4 2367.5L1605 2434.1" stroke="#FF0000" stroke-width="21" fill="none" clip-path="url(#gFb13)"/>
<path d="M1582 2410.6L1644.9 2473.4" stroke="#FF0000" stroke-width="21" fill="none" clip-path="url(#gFb14)"/>
<path d="M1547.7 1748.4v22.6M1006.3 2028.4h23.9M1340.4 2281.5v17.3M1067.3 1879.2h14M1148.5 2386.5h18.6M1097.9 2389.1v15.8M1263.7 2097.6v25.7M1308 2033.6h25.3M1540.4 1791.4v15.5M1559.6 1914.8v23.7M1400.7 2171h27.4M1184 1882.2h7.1M1535.5 2313.4v8.5M1239 2147.3h20.5M1566.6 2060.1v19.8M1038.4 1786.8v15.1M1467.3 2238.9v8.5M1458.4 2338.8v17.5M945.1 1765.4h6.4M1082.3 1871.8h18.5M1314.6 1857.2h20.9M1124.4 2379.9v17.8" stroke="#E03050" stroke-width="1.1" opacity="0.3" fill="none"/>
<path d="M923.4 1754.6h3.5v3.5h-3.5zM931.2 1762.4h3v3h-3zM944.7 1775.9h3v3h-3zM959.6 1790.5h3.5v3.5h-3.5zM970 1801h3.5v3.5h-3.5zM975 1805.9h3.5v3.5h-3.5zM988.8 1819.7h3v3h-3zM1003.4 1833.5h3v3h-3zM1015.6 1845.8h3.5v3.5h-3.5zM1023 1853.2h3.5v3.5h-3.5zM1038.5 1868.6h3.5v3.5h-3.5zM1049.8 1879.7h3v3h-3zM1061.3 1891.2h3v3h-3zM1066.6 1896.5h3.5v3.5h-3.5zM1080.1 1909.9h3.5v3.5h-3.5zM1091.4 1921.3h3v3h-3zM1103.7 1933.3h3.5v3.5h-3.5zM1128.2 1957.8h3.5v3.5h-3.5zM1147.7 1977.3h3v3h-3zM1162.5 1992.1h3v3h-3zM1184.9 2014h3.5v3.5h-3.5zM1192.7 2021.8h3v3h-3zM1206.4 2035.5h3v3h-3zM1229.4 2058.4h3.5v3.5h-3.5zM1235.6 2064.7h3.5v3.5h-3.5zM1247.8 2076.9h3.5v3.5h-3.5zM1256.3 2085.3h3.5v3.5h-3.5zM1270.3 2099.3h3.5v3.5h-3.5zM1280 2108.8h3.5v3.5h-3.5zM1293 2121.8h3.5v3.5h-3.5zM1301.9 2130.8h3.5v3.5h-3.5zM1314.1 2142.9h3v3h-3zM1326.1 2154.9h3.5v3.5h-3.5zM1340.6 2169.1h3.5v3.5h-3.5zM1359.5 2188h3v3h-3zM1376 2204.5h3.5v3.5h-3.5zM1383.4 2212.2h3v3h-3zM1393.3 2222.1h3.5v3.5h-3.5zM1409.8 2238.7h3.5v3.5h-3.5zM1415.7 2244.5h3.5v3.5h-3.5zM1430.7 2259.5h3.5v3.5h-3.5zM1453 2281.9h3.5v3.5h-3.5zM1468.8 2297.6h3.5v3.5h-3.5zM1475 2304.1h3.5v3.5h-3.5zM1490.7 2319.8h3.5v3.5h-3.5zM1502 2331.1h3.5v3.5h-3.5zM1513.3 2342.3h3.5v3.5h-3.5zM1519.3 2348.3h3.5v3.5h-3.5zM1532.6 2361.7h3.5v3.5h-3.5zM1544.6 2373.7h3v3h-3zM1552.3 2381.3h3.5v3.5h-3.5zM1565.2 2394.2h3v3h-3zM1589.1 2418.2h3v3h-3zM1601.5 2430h3.5v3.5h-3.5zM1626.7 2455.2h3.5v3.5h-3.5z" fill="#18E028"/>
<path d="M912.4 1743.6h5v5h-5zM1114.3 1943.9h5v5h-5zM1138.9 1968.5h5v5h-5zM1168.4 1997.5h5v5h-5zM1219.3 2048.3h5v5h-5zM1348.9 2177.5h5v5h-5zM1438.3 2267.1h5v5h-5zM1576.4 2405.4h5v5h-5zM1612.3 2440.8h5v5h-5z" fill="none" stroke="#22DD2A" stroke-width="1.5"/>
<rect x="908.4" y="1739.9" width="724.5" height="721.7" fill="none" stroke="#000" stroke-width="1.9"/>
<path d="M908.4 1739.9H951V1781.9H908.4ZM952 1783.5H997.2V1827.6H952ZM998.3 1828.7H1043V1872.9H998.3ZM1044 1873.9H1097.2V1927.1H1044ZM1098.3 1928.2H1168V1997.3H1098.3ZM1169 1998.4H1223.8V2052.6H1169ZM1224.9 2054.2H1276V2104.8H1224.9ZM1277 2106.4H1335V2163.3H1277ZM1336.1 2164.9H1381.3V2209.6H1336.1ZM1382.3 2211.1H1424.4V2253.2H1382.3ZM1425.4 2254.2H1473.3V2302.1H1425.4ZM1474.4 2303.2H1518V2347.3H1474.4ZM1519 2348.4H1549.4V2378.2H1519ZM1550.4 2379.2H1593V2422.3H1550.4ZM1594 2423.4H1632.9V2460.6H1594Z" fill="none" stroke="#1010CC" stroke-width="2.2"/>
<path d="M908.4 1739.9V1729.4M908.4 1739.9H897.9M963.7 1739.9V1729.4M908.4 1795.2H897.9M1019 1739.9V1729.4M908.4 1850.5H897.9M1074.3 1739.9V1729.4M908.4 1905.8H897.9M1129.6 1739.9V1729.4M908.4 1961.1H897.9M1184.9 1739.9V1729.4M908.4 2016.4H897.9M1240.2 1739.9V1729.4M908.4 2071.7H897.9M1295.5 1739.9V1729.4M908.4 2127H897.9M1350.8 1739.9V1729.4M908.4 2182.3H897.9M1406.1 1739.9V1729.4M908.4 2237.6H897.9M1461.4 1739.9V1729.4M908.4 2292.9H897.9M1516.7 1739.9V1729.4M908.4 2348.2H897.9M1572 1739.9V1729.4M908.4 2403.5H897.9M1627.3 1739.9V1729.4M908.4 2458.8H897.9" fill="none" stroke="#000" stroke-width="1.7"/></g>
<g font-size="25.8" fill="#000"><text x="906.5" y="46.5">0 Mb</text><text x="1015.8" y="46.5">100 Mb</text><text x="1158" y="46.5">200 Mb</text><text x="1302" y="46.5">300 Mb</text><text x="1446" y="46.5">400 Mb</text><text x="1583" y="46.5">500 Mb</text><text transform="translate(894.3 104.5) rotate(-90)">0 Mb</text><text transform="translate(894.3 240.5) rotate(-90)">100 Mb</text><text transform="translate(894.3 388) rotate(-90)">200 Mb</text><text transform="translate(894.3 533) rotate(-90)">300 Mb</text><text transform="translate(894.3 672) rotate(-90)">400 Mb</text><text transform="translate(894.3 816) rotate(-90)">500 Mb</text><text x="905.3" y="877.5">0 Mb</text><text x="1013.3" y="877.5">100 Mb</text><text x="1156.3" y="877.5">200 Mb</text><text x="1300.3" y="877.5">300 Mb</text><text x="1444.3" y="877.5">400 Mb</text><text x="1581.3" y="877.5">500 Mb</text><text transform="translate(894.3 932) rotate(-90)">0 Mb</text><text transform="translate(894.3 1068) rotate(-90)">100 Mb</text><text transform="translate(894.3 1209) rotate(-90)">200 Mb</text><text transform="translate(894.3 1346) rotate(-90)">300 Mb</text><text transform="translate(894.3 1490) rotate(-90)">400 Mb</text><text transform="translate(894.3 1630) rotate(-90)">500 Mb</text><text x="906.5" y="1724">0 Mb</text><text x="993" y="1724">100 Mb</text><text x="1101" y="1724">200 Mb</text><text x="1216" y="1724">300 Mb</text><text x="1324" y="1724">400 Mb</text><text x="1432" y="1724">500 Mb</text><text x="1540" y="1724">600 Mb</text><text transform="translate(888.2 1771.5) rotate(-90)">0 Mb</text><text transform="translate(888.2 1885.3) rotate(-90)">100 Mb</text><text transform="translate(888.2 1995) rotate(-90)">200 M</text><text transform="translate(888.2 2104.5) rotate(-90)">300 Mb</text><text transform="translate(888.2 2219.5) rotate(-90)">400 Mb</text><text transform="translate(888.2 2327.5) rotate(-90)">500 Mb</text><text transform="translate(888.2 2442.5) rotate(-90)">600 Mb</text></g>
<text x="1462.5" y="112.8" font-size="38.8" text-anchor="middle" font-style="italic" fill="#E0242A">E. carolleeae</text>
<text x="1462.5" y="160.6" font-size="38.8" text-anchor="middle" fill="#E0242A">Atlantic clade</text>
<text x="1492" y="940.7" font-size="38.8" text-anchor="middle" font-style="italic" fill="#0F9647">E. gulfia</text>
<text x="1492" y="988.5" font-size="38.8" text-anchor="middle" fill="#0F9647">Gulf clade</text>
<text x="1464" y="1799" font-size="38.8" text-anchor="middle" fill="#80509F"><tspan font-style="italic">E. affinis</tspan> proper</text>
<text x="1464" y="1847.8" font-size="38.8" text-anchor="middle" fill="#80509F">Europe clade</text>
<text x="1281" y="2499.6" font-size="38.8" text-anchor="middle">Chromosomes</text>
</svg></body></html>
